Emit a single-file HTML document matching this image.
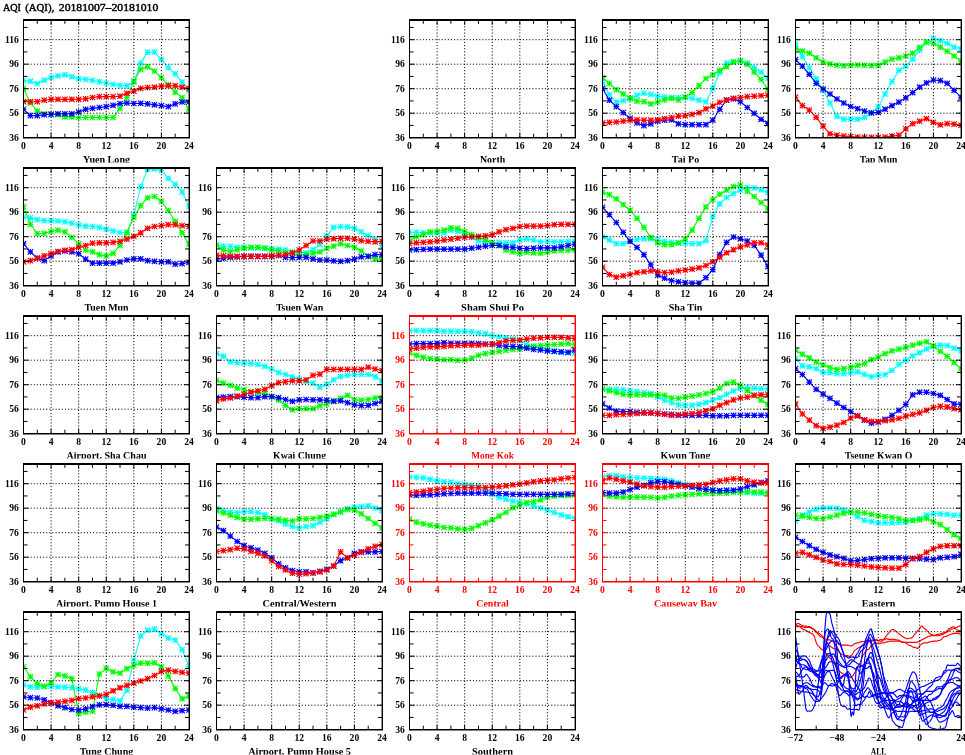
<!DOCTYPE html><html><head><meta charset="utf-8"><title>AQI (AQI), 20181007-20181010</title><style>html,body{margin:0;padding:0;background:#fff;width:965px;height:755px;overflow:hidden}svg{display:block;will-change:transform}</style></head><body><svg width="965" height="755" viewBox="0 0 965 755" font-family="'Liberation Serif', 'DejaVu Serif', serif"><defs><clipPath id="c00"><rect x="23.5" y="19.8" width="165.5" height="117.9"/></clipPath><clipPath id="l00"><rect x="3.5" y="149.7" width="205.5" height="12.9"/></clipPath><clipPath id="c02"><rect x="409.5" y="19.8" width="165.5" height="117.9"/></clipPath><clipPath id="l02"><rect x="389.5" y="149.7" width="205.5" height="12.9"/></clipPath><clipPath id="c03"><rect x="602.5" y="19.8" width="165.5" height="117.9"/></clipPath><clipPath id="l03"><rect x="582.5" y="149.7" width="205.5" height="12.9"/></clipPath><clipPath id="c04"><rect x="795.5" y="19.8" width="165.5" height="117.9"/></clipPath><clipPath id="l04"><rect x="775.5" y="149.7" width="205.5" height="12.9"/></clipPath><clipPath id="c10"><rect x="23.5" y="167.8" width="165.5" height="117.9"/></clipPath><clipPath id="l10"><rect x="3.5" y="297.7" width="205.5" height="12.9"/></clipPath><clipPath id="c11"><rect x="216.5" y="167.8" width="165.5" height="117.9"/></clipPath><clipPath id="l11"><rect x="196.5" y="297.7" width="205.5" height="12.9"/></clipPath><clipPath id="c12"><rect x="409.5" y="167.8" width="165.5" height="117.9"/></clipPath><clipPath id="l12"><rect x="389.5" y="297.7" width="205.5" height="12.9"/></clipPath><clipPath id="c13"><rect x="602.5" y="167.8" width="165.5" height="117.9"/></clipPath><clipPath id="l13"><rect x="582.5" y="297.7" width="205.5" height="12.9"/></clipPath><clipPath id="c20"><rect x="23.5" y="315.8" width="165.5" height="117.9"/></clipPath><clipPath id="l20"><rect x="3.5" y="445.7" width="205.5" height="12.9"/></clipPath><clipPath id="c21"><rect x="216.5" y="315.8" width="165.5" height="117.9"/></clipPath><clipPath id="l21"><rect x="196.5" y="445.7" width="205.5" height="12.9"/></clipPath><clipPath id="c22"><rect x="409.5" y="315.8" width="165.5" height="117.9"/></clipPath><clipPath id="l22"><rect x="389.5" y="445.7" width="205.5" height="12.9"/></clipPath><clipPath id="c23"><rect x="602.5" y="315.8" width="165.5" height="117.9"/></clipPath><clipPath id="l23"><rect x="582.5" y="445.7" width="205.5" height="12.9"/></clipPath><clipPath id="c24"><rect x="795.5" y="315.8" width="165.5" height="117.9"/></clipPath><clipPath id="l24"><rect x="775.5" y="445.7" width="205.5" height="12.9"/></clipPath><clipPath id="c30"><rect x="23.5" y="463.8" width="165.5" height="117.9"/></clipPath><clipPath id="l30"><rect x="3.5" y="593.7" width="205.5" height="12.9"/></clipPath><clipPath id="c31"><rect x="216.5" y="463.8" width="165.5" height="117.9"/></clipPath><clipPath id="l31"><rect x="196.5" y="593.7" width="205.5" height="12.9"/></clipPath><clipPath id="c32"><rect x="409.5" y="463.8" width="165.5" height="117.9"/></clipPath><clipPath id="l32"><rect x="389.5" y="593.7" width="205.5" height="12.9"/></clipPath><clipPath id="c33"><rect x="602.5" y="463.8" width="165.5" height="117.9"/></clipPath><clipPath id="l33"><rect x="582.5" y="593.7" width="205.5" height="12.9"/></clipPath><clipPath id="c34"><rect x="795.5" y="463.8" width="165.5" height="117.9"/></clipPath><clipPath id="l34"><rect x="775.5" y="593.7" width="205.5" height="12.9"/></clipPath><clipPath id="c40"><rect x="23.5" y="611.8" width="165.5" height="117.9"/></clipPath><clipPath id="l40"><rect x="3.5" y="741.7" width="205.5" height="12.9"/></clipPath><clipPath id="c41"><rect x="216.5" y="611.8" width="165.5" height="117.9"/></clipPath><clipPath id="l41"><rect x="196.5" y="741.7" width="205.5" height="12.9"/></clipPath><clipPath id="c42"><rect x="409.5" y="611.8" width="165.5" height="117.9"/></clipPath><clipPath id="l42"><rect x="389.5" y="741.7" width="205.5" height="12.9"/></clipPath><clipPath id="c44"><rect x="795.5" y="611.8" width="165.5" height="117.9"/></clipPath><clipPath id="l44"><rect x="775.5" y="741.7" width="205.5" height="12.9"/></clipPath></defs><rect width="965" height="755" fill="#fff"/><g font-size="11.1" stroke="#000" stroke-width="0.45"><text x="2.9" y="10.8" textLength="18.1" lengthAdjust="spacingAndGlyphs">AQI</text><text x="25.2" y="10.8" textLength="29" lengthAdjust="spacingAndGlyphs">(AQI),</text><text x="58.8" y="10.8" textLength="99.5" lengthAdjust="spacingAndGlyphs">20181007–20181010</text></g><g clip-path="url(#c00)" stroke="#00ffff" fill="none" stroke-width="1.1"><polyline points="23.5,80.3 30.4,81.2 37.3,83.5 44.2,80.3 51.1,77.6 58,75.8 64.9,74.8 71.8,76.7 78.7,78.8 85.6,79.4 92.5,80.3 99.4,81.7 106.2,83 113.1,84.5 120,85.4 126.9,85.7 133.8,82.1 140.7,63.1 147.6,52.2 154.5,52.2 161.4,59.4 168.3,67.6 175.2,73.9 182.1,82.1 189,90.3"/><path stroke-width="1.15" d="M20.7 80.3h5.6M23.5 77.5v5.6M20.8 77.6l5.4 5.4M26.2 77.6l-5.4 5.4M27.6 81.2h5.6M30.4 78.4v5.6M27.7 78.5l5.4 5.4M33.1 78.5l-5.4 5.4M34.5 83.5h5.6M37.3 80.7v5.6M34.6 80.8l5.4 5.4M40 80.8l-5.4 5.4M41.4 80.3h5.6M44.2 77.5v5.6M41.5 77.6l5.4 5.4M46.9 77.6l-5.4 5.4M48.3 77.6h5.6M51.1 74.8v5.6M48.4 74.9l5.4 5.4M53.8 74.9l-5.4 5.4M55.2 75.8h5.6M58 73v5.6M55.3 73.1l5.4 5.4M60.7 73.1l-5.4 5.4M62.1 74.8h5.6M64.9 72v5.6M62.2 72.1l5.4 5.4M67.6 72.1l-5.4 5.4M69 76.7h5.6M71.8 73.9v5.6M69.1 74l5.4 5.4M74.5 74l-5.4 5.4M75.9 78.8h5.6M78.7 76v5.6M76 76.1l5.4 5.4M81.4 76.1l-5.4 5.4M82.8 79.4h5.6M85.6 76.6v5.6M82.9 76.7l5.4 5.4M88.3 76.7l-5.4 5.4M89.7 80.3h5.6M92.5 77.5v5.6M89.8 77.6l5.4 5.4M95.2 77.6l-5.4 5.4M96.6 81.7h5.6M99.4 78.9v5.6M96.7 79l5.4 5.4M102.1 79l-5.4 5.4M103.5 83h5.6M106.2 80.2v5.6M103.5 80.3l5.4 5.4M109 80.3l-5.4 5.4M110.3 84.5h5.6M113.1 81.7v5.6M110.4 81.8l5.4 5.4M115.8 81.8l-5.4 5.4M117.2 85.4h5.6M120 82.6v5.6M117.3 82.7l5.4 5.4M122.7 82.7l-5.4 5.4M124.1 85.7h5.6M126.9 82.9v5.6M124.2 83l5.4 5.4M129.6 83l-5.4 5.4M131 82.1h5.6M133.8 79.3v5.6M131.1 79.4l5.4 5.4M136.5 79.4l-5.4 5.4M137.9 63.1h5.6M140.7 60.3v5.6M138 60.4l5.4 5.4M143.4 60.4l-5.4 5.4M144.8 52.2h5.6M147.6 49.4v5.6M144.9 49.5l5.4 5.4M150.3 49.5l-5.4 5.4M151.7 52.2h5.6M154.5 49.4v5.6M151.8 49.5l5.4 5.4M157.2 49.5l-5.4 5.4M158.6 59.4h5.6M161.4 56.6v5.6M158.7 56.7l5.4 5.4M164.1 56.7l-5.4 5.4M165.5 67.6h5.6M168.3 64.8v5.6M165.6 64.9l5.4 5.4M171 64.9l-5.4 5.4M172.4 73.9h5.6M175.2 71.1v5.6M172.5 71.2l5.4 5.4M177.9 71.2l-5.4 5.4M179.3 82.1h5.6M182.1 79.3v5.6M179.4 79.4l5.4 5.4M184.8 79.4l-5.4 5.4M186.2 90.3h5.6M189 87.5v5.6M186.3 87.6l5.4 5.4M191.7 87.6l-5.4 5.4"/></g><g clip-path="url(#c00)" stroke="#00ff00" fill="none" stroke-width="1.1"><polyline points="23.5,88.4 30.4,103 37.3,111.1 44.2,113.8 51.1,114.4 58,114.7 64.9,116.9 71.8,116.9 78.7,117.5 85.6,117.5 92.5,117.5 99.4,117.5 106.2,117.5 113.1,117.5 120,108.4 126.9,97.5 133.8,81.2 140.7,69.4 147.6,66.7 154.5,71.2 161.4,77.6 168.3,84.8 175.2,92.1 182.1,97.5 189,109.3"/><path stroke-width="1.15" d="M20.7 88.4h5.6M23.5 85.6v5.6M20.8 85.7l5.4 5.4M26.2 85.7l-5.4 5.4M27.6 103h5.6M30.4 100.2v5.6M27.7 100.3l5.4 5.4M33.1 100.3l-5.4 5.4M34.5 111.1h5.6M37.3 108.3v5.6M34.6 108.4l5.4 5.4M40 108.4l-5.4 5.4M41.4 113.8h5.6M44.2 111v5.6M41.5 111.1l5.4 5.4M46.9 111.1l-5.4 5.4M48.3 114.4h5.6M51.1 111.6v5.6M48.4 111.7l5.4 5.4M53.8 111.7l-5.4 5.4M55.2 114.7h5.6M58 111.9v5.6M55.3 112l5.4 5.4M60.7 112l-5.4 5.4M62.1 116.9h5.6M64.9 114.1v5.6M62.2 114.2l5.4 5.4M67.6 114.2l-5.4 5.4M69 116.9h5.6M71.8 114.1v5.6M69.1 114.2l5.4 5.4M74.5 114.2l-5.4 5.4M75.9 117.5h5.6M78.7 114.7v5.6M76 114.8l5.4 5.4M81.4 114.8l-5.4 5.4M82.8 117.5h5.6M85.6 114.7v5.6M82.9 114.8l5.4 5.4M88.3 114.8l-5.4 5.4M89.7 117.5h5.6M92.5 114.7v5.6M89.8 114.8l5.4 5.4M95.2 114.8l-5.4 5.4M96.6 117.5h5.6M99.4 114.7v5.6M96.7 114.8l5.4 5.4M102.1 114.8l-5.4 5.4M103.5 117.5h5.6M106.2 114.7v5.6M103.5 114.8l5.4 5.4M109 114.8l-5.4 5.4M110.3 117.5h5.6M113.1 114.7v5.6M110.4 114.8l5.4 5.4M115.8 114.8l-5.4 5.4M117.2 108.4h5.6M120 105.6v5.6M117.3 105.7l5.4 5.4M122.7 105.7l-5.4 5.4M124.1 97.5h5.6M126.9 94.7v5.6M124.2 94.8l5.4 5.4M129.6 94.8l-5.4 5.4M131 81.2h5.6M133.8 78.4v5.6M131.1 78.5l5.4 5.4M136.5 78.5l-5.4 5.4M137.9 69.4h5.6M140.7 66.6v5.6M138 66.7l5.4 5.4M143.4 66.7l-5.4 5.4M144.8 66.7h5.6M147.6 63.9v5.6M144.9 64l5.4 5.4M150.3 64l-5.4 5.4M151.7 71.2h5.6M154.5 68.4v5.6M151.8 68.5l5.4 5.4M157.2 68.5l-5.4 5.4M158.6 77.6h5.6M161.4 74.8v5.6M158.7 74.9l5.4 5.4M164.1 74.9l-5.4 5.4M165.5 84.8h5.6M168.3 82v5.6M165.6 82.1l5.4 5.4M171 82.1l-5.4 5.4M172.4 92.1h5.6M175.2 89.3v5.6M172.5 89.4l5.4 5.4M177.9 89.4l-5.4 5.4M179.3 97.5h5.6M182.1 94.7v5.6M179.4 94.8l5.4 5.4M184.8 94.8l-5.4 5.4M186.2 109.3h5.6M189 106.5v5.6M186.3 106.6l5.4 5.4M191.7 106.6l-5.4 5.4"/></g><g clip-path="url(#c00)" stroke="#0000ff" fill="none" stroke-width="1.1"><polyline points="23.5,109.3 30.4,115.6 37.3,115.6 44.2,114.7 51.1,114.4 58,113.8 64.9,113.8 71.8,113.8 78.7,112 85.6,109.3 92.5,108.4 99.4,107.5 106.2,106.6 113.1,105.3 120,103.5 126.9,103 133.8,103.5 140.7,103.3 147.6,103.9 154.5,104.8 161.4,105.7 168.3,106.6 175.2,103.9 182.1,102 189,102"/><path stroke-width="1.15" d="M20.7 109.3h5.6M23.5 106.5v5.6M20.8 106.6l5.4 5.4M26.2 106.6l-5.4 5.4M27.6 115.6h5.6M30.4 112.8v5.6M27.7 112.9l5.4 5.4M33.1 112.9l-5.4 5.4M34.5 115.6h5.6M37.3 112.8v5.6M34.6 112.9l5.4 5.4M40 112.9l-5.4 5.4M41.4 114.7h5.6M44.2 111.9v5.6M41.5 112l5.4 5.4M46.9 112l-5.4 5.4M48.3 114.4h5.6M51.1 111.6v5.6M48.4 111.7l5.4 5.4M53.8 111.7l-5.4 5.4M55.2 113.8h5.6M58 111v5.6M55.3 111.1l5.4 5.4M60.7 111.1l-5.4 5.4M62.1 113.8h5.6M64.9 111v5.6M62.2 111.1l5.4 5.4M67.6 111.1l-5.4 5.4M69 113.8h5.6M71.8 111v5.6M69.1 111.1l5.4 5.4M74.5 111.1l-5.4 5.4M75.9 112h5.6M78.7 109.2v5.6M76 109.3l5.4 5.4M81.4 109.3l-5.4 5.4M82.8 109.3h5.6M85.6 106.5v5.6M82.9 106.6l5.4 5.4M88.3 106.6l-5.4 5.4M89.7 108.4h5.6M92.5 105.6v5.6M89.8 105.7l5.4 5.4M95.2 105.7l-5.4 5.4M96.6 107.5h5.6M99.4 104.7v5.6M96.7 104.8l5.4 5.4M102.1 104.8l-5.4 5.4M103.5 106.6h5.6M106.2 103.8v5.6M103.5 103.9l5.4 5.4M109 103.9l-5.4 5.4M110.3 105.3h5.6M113.1 102.5v5.6M110.4 102.6l5.4 5.4M115.8 102.6l-5.4 5.4M117.2 103.5h5.6M120 100.7v5.6M117.3 100.8l5.4 5.4M122.7 100.8l-5.4 5.4M124.1 103h5.6M126.9 100.2v5.6M124.2 100.3l5.4 5.4M129.6 100.3l-5.4 5.4M131 103.5h5.6M133.8 100.7v5.6M131.1 100.8l5.4 5.4M136.5 100.8l-5.4 5.4M137.9 103.3h5.6M140.7 100.5v5.6M138 100.6l5.4 5.4M143.4 100.6l-5.4 5.4M144.8 103.9h5.6M147.6 101.1v5.6M144.9 101.2l5.4 5.4M150.3 101.2l-5.4 5.4M151.7 104.8h5.6M154.5 102v5.6M151.8 102.1l5.4 5.4M157.2 102.1l-5.4 5.4M158.6 105.7h5.6M161.4 102.9v5.6M158.7 103l5.4 5.4M164.1 103l-5.4 5.4M165.5 106.6h5.6M168.3 103.8v5.6M165.6 103.9l5.4 5.4M171 103.9l-5.4 5.4M172.4 103.9h5.6M175.2 101.1v5.6M172.5 101.2l5.4 5.4M177.9 101.2l-5.4 5.4M179.3 102h5.6M182.1 99.2v5.6M179.4 99.3l5.4 5.4M184.8 99.3l-5.4 5.4M186.2 102h5.6M189 99.2v5.6M186.3 99.3l5.4 5.4M191.7 99.3l-5.4 5.4"/></g><g clip-path="url(#c00)" stroke="#ff0000" fill="none" stroke-width="1.1"><polyline points="23.5,101.7 30.4,101.7 37.3,101.7 44.2,100.2 51.1,99.3 58,99.3 64.9,99.3 71.8,99.3 78.7,99.3 85.6,98.8 92.5,97.5 99.4,96.6 106.2,96.6 113.1,96.6 120,96.2 126.9,93.3 133.8,91.2 140.7,88.4 147.6,87.5 154.5,87.2 161.4,86.1 168.3,85.7 175.2,85.7 182.1,87.2 189,88.4"/><path stroke-width="1.15" d="M20.7 101.7h5.6M23.5 98.9v5.6M20.8 99l5.4 5.4M26.2 99l-5.4 5.4M27.6 101.7h5.6M30.4 98.9v5.6M27.7 99l5.4 5.4M33.1 99l-5.4 5.4M34.5 101.7h5.6M37.3 98.9v5.6M34.6 99l5.4 5.4M40 99l-5.4 5.4M41.4 100.2h5.6M44.2 97.4v5.6M41.5 97.5l5.4 5.4M46.9 97.5l-5.4 5.4M48.3 99.3h5.6M51.1 96.5v5.6M48.4 96.6l5.4 5.4M53.8 96.6l-5.4 5.4M55.2 99.3h5.6M58 96.5v5.6M55.3 96.6l5.4 5.4M60.7 96.6l-5.4 5.4M62.1 99.3h5.6M64.9 96.5v5.6M62.2 96.6l5.4 5.4M67.6 96.6l-5.4 5.4M69 99.3h5.6M71.8 96.5v5.6M69.1 96.6l5.4 5.4M74.5 96.6l-5.4 5.4M75.9 99.3h5.6M78.7 96.5v5.6M76 96.6l5.4 5.4M81.4 96.6l-5.4 5.4M82.8 98.8h5.6M85.6 96v5.6M82.9 96.1l5.4 5.4M88.3 96.1l-5.4 5.4M89.7 97.5h5.6M92.5 94.7v5.6M89.8 94.8l5.4 5.4M95.2 94.8l-5.4 5.4M96.6 96.6h5.6M99.4 93.8v5.6M96.7 93.9l5.4 5.4M102.1 93.9l-5.4 5.4M103.5 96.6h5.6M106.2 93.8v5.6M103.5 93.9l5.4 5.4M109 93.9l-5.4 5.4M110.3 96.6h5.6M113.1 93.8v5.6M110.4 93.9l5.4 5.4M115.8 93.9l-5.4 5.4M117.2 96.2h5.6M120 93.4v5.6M117.3 93.5l5.4 5.4M122.7 93.5l-5.4 5.4M124.1 93.3h5.6M126.9 90.5v5.6M124.2 90.6l5.4 5.4M129.6 90.6l-5.4 5.4M131 91.2h5.6M133.8 88.4v5.6M131.1 88.5l5.4 5.4M136.5 88.5l-5.4 5.4M137.9 88.4h5.6M140.7 85.6v5.6M138 85.7l5.4 5.4M143.4 85.7l-5.4 5.4M144.8 87.5h5.6M147.6 84.7v5.6M144.9 84.8l5.4 5.4M150.3 84.8l-5.4 5.4M151.7 87.2h5.6M154.5 84.4v5.6M151.8 84.5l5.4 5.4M157.2 84.5l-5.4 5.4M158.6 86.1h5.6M161.4 83.3v5.6M158.7 83.4l5.4 5.4M164.1 83.4l-5.4 5.4M165.5 85.7h5.6M168.3 82.9v5.6M165.6 83l5.4 5.4M171 83l-5.4 5.4M172.4 85.7h5.6M175.2 82.9v5.6M172.5 83l5.4 5.4M177.9 83l-5.4 5.4M179.3 87.2h5.6M182.1 84.4v5.6M179.4 84.5l5.4 5.4M184.8 84.5l-5.4 5.4M186.2 88.4h5.6M189 85.6v5.6M186.3 85.7l5.4 5.4M191.7 85.7l-5.4 5.4"/></g><path d="M23.5 113.2H189M23.5 88.7H189M23.5 64.2H189M23.5 39.7H189M51.08 137.7V19.8M78.67 137.7V19.8M106.25 137.7V19.8M133.83 137.7V19.8M161.42 137.7V19.8" stroke="#000" stroke-width="1" stroke-dasharray="1.1 2.03" stroke-dashoffset="-0.8" fill="none"/><path d="M51.08 19.8v5M51.08 137.7v-5M78.67 19.8v5M78.67 137.7v-5M106.25 19.8v5M106.25 137.7v-5M133.83 19.8v5M133.83 137.7v-5M161.42 19.8v5M161.42 137.7v-5M37.29 19.8v4M37.29 137.7v-4M64.88 19.8v4M64.88 137.7v-4M92.46 19.8v4M92.46 137.7v-4M120.04 19.8v4M120.04 137.7v-4M147.62 19.8v4M147.62 137.7v-4M175.21 19.8v4M175.21 137.7v-4M23.5 113.2h5M189 113.2h-5M23.5 88.7h5M189 88.7h-5M23.5 64.2h5M189 64.2h-5M23.5 39.7h5M189 39.7h-5M23.5 125.45h4M189 125.45h-4M23.5 100.95h4M189 100.95h-4M23.5 76.45h4M189 76.45h-4M23.5 51.95h4M189 51.95h-4M23.5 27.45h4M189 27.45h-4" stroke="#000000" stroke-width="1" fill="none"/><path d="M23 19.95H190" stroke="#000000" stroke-width="1.9" fill="none"/><path d="M23 137.7H190" stroke="#000000" stroke-width="1.6" fill="none"/><path d="M23.5 19.8V137.7" stroke="#000000" stroke-width="1" fill="none"/><path d="M189.3 19.8V137.7" stroke="#000000" stroke-width="1.4" fill="none"/><g fill="#000000" font-size="9.6" font-weight="bold"><text x="18.8" y="140.8" text-anchor="end">36</text><text x="18.8" y="116.3" text-anchor="end">56</text><text x="18.8" y="91.8" text-anchor="end">76</text><text x="18.8" y="67.3" text-anchor="end">96</text><text x="18.8" y="42.8" text-anchor="end">116</text><text x="23.5" y="148.7" text-anchor="middle">0</text><text x="51.08" y="148.7" text-anchor="middle">4</text><text x="78.67" y="148.7" text-anchor="middle">8</text><text x="106.25" y="148.7" text-anchor="middle">12</text><text x="133.83" y="148.7" text-anchor="middle">16</text><text x="161.42" y="148.7" text-anchor="middle">20</text><text x="189" y="148.7" text-anchor="middle">24</text></g><text clip-path="url(#l00)" x="83.05" y="162.6" textLength="47" lengthAdjust="spacingAndGlyphs" fill="#000000" font-size="9.5" font-weight="bold">Yuen Long</text><path d="M409.5 113.2H575M409.5 88.7H575M409.5 64.2H575M409.5 39.7H575M437.08 137.7V19.8M464.67 137.7V19.8M492.25 137.7V19.8M519.83 137.7V19.8M547.42 137.7V19.8" stroke="#000" stroke-width="1" stroke-dasharray="1.1 2.03" stroke-dashoffset="-0.8" fill="none"/><path d="M437.08 19.8v5M437.08 137.7v-5M464.67 19.8v5M464.67 137.7v-5M492.25 19.8v5M492.25 137.7v-5M519.83 19.8v5M519.83 137.7v-5M547.42 19.8v5M547.42 137.7v-5M423.29 19.8v4M423.29 137.7v-4M450.88 19.8v4M450.88 137.7v-4M478.46 19.8v4M478.46 137.7v-4M506.04 19.8v4M506.04 137.7v-4M533.62 19.8v4M533.62 137.7v-4M561.21 19.8v4M561.21 137.7v-4M409.5 113.2h5M575 113.2h-5M409.5 88.7h5M575 88.7h-5M409.5 64.2h5M575 64.2h-5M409.5 39.7h5M575 39.7h-5M409.5 125.45h4M575 125.45h-4M409.5 100.95h4M575 100.95h-4M409.5 76.45h4M575 76.45h-4M409.5 51.95h4M575 51.95h-4M409.5 27.45h4M575 27.45h-4" stroke="#000000" stroke-width="1" fill="none"/><path d="M409 19.95H576" stroke="#000000" stroke-width="1.9" fill="none"/><path d="M409 137.7H576" stroke="#000000" stroke-width="1.6" fill="none"/><path d="M409.5 19.8V137.7" stroke="#000000" stroke-width="1" fill="none"/><path d="M575.3 19.8V137.7" stroke="#000000" stroke-width="1.4" fill="none"/><g fill="#000000" font-size="9.6" font-weight="bold"><text x="404.8" y="140.8" text-anchor="end">36</text><text x="404.8" y="116.3" text-anchor="end">56</text><text x="404.8" y="91.8" text-anchor="end">76</text><text x="404.8" y="67.3" text-anchor="end">96</text><text x="404.8" y="42.8" text-anchor="end">116</text><text x="409.5" y="148.7" text-anchor="middle">0</text><text x="437.08" y="148.7" text-anchor="middle">4</text><text x="464.67" y="148.7" text-anchor="middle">8</text><text x="492.25" y="148.7" text-anchor="middle">12</text><text x="519.83" y="148.7" text-anchor="middle">16</text><text x="547.42" y="148.7" text-anchor="middle">20</text><text x="575" y="148.7" text-anchor="middle">24</text></g><text clip-path="url(#l02)" x="479.9" y="162.6" textLength="25.3" lengthAdjust="spacingAndGlyphs" fill="#000000" font-size="9.5" font-weight="bold">North</text><g clip-path="url(#c03)" stroke="#00ffff" fill="none" stroke-width="1.1"><polyline points="602.5,82.1 609.4,94.8 616.3,102 623.2,100.6 630.1,98.8 637,95.2 643.9,93.3 650.8,94.4 657.7,96.2 664.6,97 671.5,97.5 678.4,97.5 685.2,97.5 692.1,98.4 699,100.2 705.9,102 712.8,88.4 719.7,72.7 726.6,63.1 733.5,61.8 740.4,61.2 747.3,63.1 754.2,67.6 761.1,72.1 768,78.1"/><path stroke-width="1.15" d="M599.7 82.1h5.6M602.5 79.3v5.6M599.8 79.4l5.4 5.4M605.2 79.4l-5.4 5.4M606.6 94.8h5.6M609.4 92v5.6M606.7 92.1l5.4 5.4M612.1 92.1l-5.4 5.4M613.5 102h5.6M616.3 99.2v5.6M613.6 99.3l5.4 5.4M619 99.3l-5.4 5.4M620.4 100.6h5.6M623.2 97.8v5.6M620.5 97.9l5.4 5.4M625.9 97.9l-5.4 5.4M627.3 98.8h5.6M630.1 96v5.6M627.4 96.1l5.4 5.4M632.8 96.1l-5.4 5.4M634.2 95.2h5.6M637 92.4v5.6M634.3 92.5l5.4 5.4M639.7 92.5l-5.4 5.4M641.1 93.3h5.6M643.9 90.5v5.6M641.2 90.6l5.4 5.4M646.6 90.6l-5.4 5.4M648 94.4h5.6M650.8 91.6v5.6M648.1 91.7l5.4 5.4M653.5 91.7l-5.4 5.4M654.9 96.2h5.6M657.7 93.4v5.6M655 93.5l5.4 5.4M660.4 93.5l-5.4 5.4M661.8 97h5.6M664.6 94.2v5.6M661.9 94.3l5.4 5.4M667.3 94.3l-5.4 5.4M668.7 97.5h5.6M671.5 94.7v5.6M668.8 94.8l5.4 5.4M674.2 94.8l-5.4 5.4M675.6 97.5h5.6M678.4 94.7v5.6M675.7 94.8l5.4 5.4M681.1 94.8l-5.4 5.4M682.5 97.5h5.6M685.2 94.7v5.6M682.5 94.8l5.4 5.4M688 94.8l-5.4 5.4M689.3 98.4h5.6M692.1 95.6v5.6M689.4 95.7l5.4 5.4M694.8 95.7l-5.4 5.4M696.2 100.2h5.6M699 97.4v5.6M696.3 97.5l5.4 5.4M701.7 97.5l-5.4 5.4M703.1 102h5.6M705.9 99.2v5.6M703.2 99.3l5.4 5.4M708.6 99.3l-5.4 5.4M710 88.4h5.6M712.8 85.6v5.6M710.1 85.7l5.4 5.4M715.5 85.7l-5.4 5.4M716.9 72.7h5.6M719.7 69.9v5.6M717 70l5.4 5.4M722.4 70l-5.4 5.4M723.8 63.1h5.6M726.6 60.3v5.6M723.9 60.4l5.4 5.4M729.3 60.4l-5.4 5.4M730.7 61.8h5.6M733.5 59v5.6M730.8 59.1l5.4 5.4M736.2 59.1l-5.4 5.4M737.6 61.2h5.6M740.4 58.4v5.6M737.7 58.5l5.4 5.4M743.1 58.5l-5.4 5.4M744.5 63.1h5.6M747.3 60.3v5.6M744.6 60.4l5.4 5.4M750 60.4l-5.4 5.4M751.4 67.6h5.6M754.2 64.8v5.6M751.5 64.9l5.4 5.4M756.9 64.9l-5.4 5.4M758.3 72.1h5.6M761.1 69.3v5.6M758.4 69.4l5.4 5.4M763.8 69.4l-5.4 5.4M765.2 78.1h5.6M768 75.3v5.6M765.3 75.4l5.4 5.4M770.7 75.4l-5.4 5.4"/></g><g clip-path="url(#c03)" stroke="#00ff00" fill="none" stroke-width="1.1"><polyline points="602.5,77.6 609.4,83.5 616.3,89.7 623.2,93.9 630.1,98.1 637,101.1 643.9,101.7 650.8,103.9 657.7,102 664.6,99.9 671.5,98.4 678.4,99.9 685.2,97 692.1,92.6 699,85.7 705.9,78.5 712.8,74.8 719.7,70.3 726.6,66.7 733.5,61.8 740.4,60.7 747.3,64.3 754.2,72.1 761.1,79.4 768,89.4"/><path stroke-width="1.15" d="M599.7 77.6h5.6M602.5 74.8v5.6M599.8 74.9l5.4 5.4M605.2 74.9l-5.4 5.4M606.6 83.5h5.6M609.4 80.7v5.6M606.7 80.8l5.4 5.4M612.1 80.8l-5.4 5.4M613.5 89.7h5.6M616.3 86.9v5.6M613.6 87l5.4 5.4M619 87l-5.4 5.4M620.4 93.9h5.6M623.2 91.1v5.6M620.5 91.2l5.4 5.4M625.9 91.2l-5.4 5.4M627.3 98.1h5.6M630.1 95.3v5.6M627.4 95.4l5.4 5.4M632.8 95.4l-5.4 5.4M634.2 101.1h5.6M637 98.3v5.6M634.3 98.4l5.4 5.4M639.7 98.4l-5.4 5.4M641.1 101.7h5.6M643.9 98.9v5.6M641.2 99l5.4 5.4M646.6 99l-5.4 5.4M648 103.9h5.6M650.8 101.1v5.6M648.1 101.2l5.4 5.4M653.5 101.2l-5.4 5.4M654.9 102h5.6M657.7 99.2v5.6M655 99.3l5.4 5.4M660.4 99.3l-5.4 5.4M661.8 99.9h5.6M664.6 97.1v5.6M661.9 97.2l5.4 5.4M667.3 97.2l-5.4 5.4M668.7 98.4h5.6M671.5 95.6v5.6M668.8 95.7l5.4 5.4M674.2 95.7l-5.4 5.4M675.6 99.9h5.6M678.4 97.1v5.6M675.7 97.2l5.4 5.4M681.1 97.2l-5.4 5.4M682.5 97h5.6M685.2 94.2v5.6M682.5 94.3l5.4 5.4M688 94.3l-5.4 5.4M689.3 92.6h5.6M692.1 89.8v5.6M689.4 89.9l5.4 5.4M694.8 89.9l-5.4 5.4M696.2 85.7h5.6M699 82.9v5.6M696.3 83l5.4 5.4M701.7 83l-5.4 5.4M703.1 78.5h5.6M705.9 75.7v5.6M703.2 75.8l5.4 5.4M708.6 75.8l-5.4 5.4M710 74.8h5.6M712.8 72v5.6M710.1 72.1l5.4 5.4M715.5 72.1l-5.4 5.4M716.9 70.3h5.6M719.7 67.5v5.6M717 67.6l5.4 5.4M722.4 67.6l-5.4 5.4M723.8 66.7h5.6M726.6 63.9v5.6M723.9 64l5.4 5.4M729.3 64l-5.4 5.4M730.7 61.8h5.6M733.5 59v5.6M730.8 59.1l5.4 5.4M736.2 59.1l-5.4 5.4M737.6 60.7h5.6M740.4 57.9v5.6M737.7 58l5.4 5.4M743.1 58l-5.4 5.4M744.5 64.3h5.6M747.3 61.5v5.6M744.6 61.6l5.4 5.4M750 61.6l-5.4 5.4M751.4 72.1h5.6M754.2 69.3v5.6M751.5 69.4l5.4 5.4M756.9 69.4l-5.4 5.4M758.3 79.4h5.6M761.1 76.6v5.6M758.4 76.7l5.4 5.4M763.8 76.7l-5.4 5.4M765.2 89.4h5.6M768 86.6v5.6M765.3 86.7l5.4 5.4M770.7 86.7l-5.4 5.4"/></g><g clip-path="url(#c03)" stroke="#0000ff" fill="none" stroke-width="1.1"><polyline points="602.5,88.4 609.4,100.2 616.3,106.6 623.2,112.6 630.1,118.4 637,122.9 643.9,125.6 650.8,123.8 657.7,121.1 664.6,120.2 671.5,119.8 678.4,123.8 685.2,124.7 692.1,124.7 699,124.7 705.9,124.7 712.8,120.2 719.7,109.3 726.6,100.2 733.5,98.8 740.4,101.7 747.3,107.5 754.2,113.3 761.1,119.3 768,123.4"/><path stroke-width="1.15" d="M599.7 88.4h5.6M602.5 85.6v5.6M599.8 85.7l5.4 5.4M605.2 85.7l-5.4 5.4M606.6 100.2h5.6M609.4 97.4v5.6M606.7 97.5l5.4 5.4M612.1 97.5l-5.4 5.4M613.5 106.6h5.6M616.3 103.8v5.6M613.6 103.9l5.4 5.4M619 103.9l-5.4 5.4M620.4 112.6h5.6M623.2 109.8v5.6M620.5 109.9l5.4 5.4M625.9 109.9l-5.4 5.4M627.3 118.4h5.6M630.1 115.6v5.6M627.4 115.7l5.4 5.4M632.8 115.7l-5.4 5.4M634.2 122.9h5.6M637 120.1v5.6M634.3 120.2l5.4 5.4M639.7 120.2l-5.4 5.4M641.1 125.6h5.6M643.9 122.8v5.6M641.2 122.9l5.4 5.4M646.6 122.9l-5.4 5.4M648 123.8h5.6M650.8 121v5.6M648.1 121.1l5.4 5.4M653.5 121.1l-5.4 5.4M654.9 121.1h5.6M657.7 118.3v5.6M655 118.4l5.4 5.4M660.4 118.4l-5.4 5.4M661.8 120.2h5.6M664.6 117.4v5.6M661.9 117.5l5.4 5.4M667.3 117.5l-5.4 5.4M668.7 119.8h5.6M671.5 117v5.6M668.8 117.1l5.4 5.4M674.2 117.1l-5.4 5.4M675.6 123.8h5.6M678.4 121v5.6M675.7 121.1l5.4 5.4M681.1 121.1l-5.4 5.4M682.5 124.7h5.6M685.2 121.9v5.6M682.5 122l5.4 5.4M688 122l-5.4 5.4M689.3 124.7h5.6M692.1 121.9v5.6M689.4 122l5.4 5.4M694.8 122l-5.4 5.4M696.2 124.7h5.6M699 121.9v5.6M696.3 122l5.4 5.4M701.7 122l-5.4 5.4M703.1 124.7h5.6M705.9 121.9v5.6M703.2 122l5.4 5.4M708.6 122l-5.4 5.4M710 120.2h5.6M712.8 117.4v5.6M710.1 117.5l5.4 5.4M715.5 117.5l-5.4 5.4M716.9 109.3h5.6M719.7 106.5v5.6M717 106.6l5.4 5.4M722.4 106.6l-5.4 5.4M723.8 100.2h5.6M726.6 97.4v5.6M723.9 97.5l5.4 5.4M729.3 97.5l-5.4 5.4M730.7 98.8h5.6M733.5 96v5.6M730.8 96.1l5.4 5.4M736.2 96.1l-5.4 5.4M737.6 101.7h5.6M740.4 98.9v5.6M737.7 99l5.4 5.4M743.1 99l-5.4 5.4M744.5 107.5h5.6M747.3 104.7v5.6M744.6 104.8l5.4 5.4M750 104.8l-5.4 5.4M751.4 113.3h5.6M754.2 110.5v5.6M751.5 110.6l5.4 5.4M756.9 110.6l-5.4 5.4M758.3 119.3h5.6M761.1 116.5v5.6M758.4 116.6l5.4 5.4M763.8 116.6l-5.4 5.4M765.2 123.4h5.6M768 120.6v5.6M765.3 120.7l5.4 5.4M770.7 120.7l-5.4 5.4"/></g><g clip-path="url(#c03)" stroke="#ff0000" fill="none" stroke-width="1.1"><polyline points="602.5,122.9 609.4,122.4 616.3,122 623.2,121.1 630.1,120.2 637,119.8 643.9,120.2 650.8,120.2 657.7,119.8 664.6,118.7 671.5,117.5 678.4,116.2 685.2,115.6 692.1,114.4 699,112.6 705.9,108.9 712.8,106 719.7,102.4 726.6,99.9 733.5,98.4 740.4,97.5 747.3,96.6 754.2,96.2 761.1,95.7 768,95.2"/><path stroke-width="1.15" d="M599.7 122.9h5.6M602.5 120.1v5.6M599.8 120.2l5.4 5.4M605.2 120.2l-5.4 5.4M606.6 122.4h5.6M609.4 119.6v5.6M606.7 119.7l5.4 5.4M612.1 119.7l-5.4 5.4M613.5 122h5.6M616.3 119.2v5.6M613.6 119.3l5.4 5.4M619 119.3l-5.4 5.4M620.4 121.1h5.6M623.2 118.3v5.6M620.5 118.4l5.4 5.4M625.9 118.4l-5.4 5.4M627.3 120.2h5.6M630.1 117.4v5.6M627.4 117.5l5.4 5.4M632.8 117.5l-5.4 5.4M634.2 119.8h5.6M637 117v5.6M634.3 117.1l5.4 5.4M639.7 117.1l-5.4 5.4M641.1 120.2h5.6M643.9 117.4v5.6M641.2 117.5l5.4 5.4M646.6 117.5l-5.4 5.4M648 120.2h5.6M650.8 117.4v5.6M648.1 117.5l5.4 5.4M653.5 117.5l-5.4 5.4M654.9 119.8h5.6M657.7 117v5.6M655 117.1l5.4 5.4M660.4 117.1l-5.4 5.4M661.8 118.7h5.6M664.6 115.9v5.6M661.9 116l5.4 5.4M667.3 116l-5.4 5.4M668.7 117.5h5.6M671.5 114.7v5.6M668.8 114.8l5.4 5.4M674.2 114.8l-5.4 5.4M675.6 116.2h5.6M678.4 113.4v5.6M675.7 113.5l5.4 5.4M681.1 113.5l-5.4 5.4M682.5 115.6h5.6M685.2 112.8v5.6M682.5 112.9l5.4 5.4M688 112.9l-5.4 5.4M689.3 114.4h5.6M692.1 111.6v5.6M689.4 111.7l5.4 5.4M694.8 111.7l-5.4 5.4M696.2 112.6h5.6M699 109.8v5.6M696.3 109.9l5.4 5.4M701.7 109.9l-5.4 5.4M703.1 108.9h5.6M705.9 106.1v5.6M703.2 106.2l5.4 5.4M708.6 106.2l-5.4 5.4M710 106h5.6M712.8 103.2v5.6M710.1 103.3l5.4 5.4M715.5 103.3l-5.4 5.4M716.9 102.4h5.6M719.7 99.6v5.6M717 99.7l5.4 5.4M722.4 99.7l-5.4 5.4M723.8 99.9h5.6M726.6 97.1v5.6M723.9 97.2l5.4 5.4M729.3 97.2l-5.4 5.4M730.7 98.4h5.6M733.5 95.6v5.6M730.8 95.7l5.4 5.4M736.2 95.7l-5.4 5.4M737.6 97.5h5.6M740.4 94.7v5.6M737.7 94.8l5.4 5.4M743.1 94.8l-5.4 5.4M744.5 96.6h5.6M747.3 93.8v5.6M744.6 93.9l5.4 5.4M750 93.9l-5.4 5.4M751.4 96.2h5.6M754.2 93.4v5.6M751.5 93.5l5.4 5.4M756.9 93.5l-5.4 5.4M758.3 95.7h5.6M761.1 92.9v5.6M758.4 93l5.4 5.4M763.8 93l-5.4 5.4M765.2 95.2h5.6M768 92.4v5.6M765.3 92.5l5.4 5.4M770.7 92.5l-5.4 5.4"/></g><path d="M602.5 113.2H768M602.5 88.7H768M602.5 64.2H768M602.5 39.7H768M630.08 137.7V19.8M657.67 137.7V19.8M685.25 137.7V19.8M712.83 137.7V19.8M740.42 137.7V19.8" stroke="#000" stroke-width="1" stroke-dasharray="1.1 2.03" stroke-dashoffset="-0.8" fill="none"/><path d="M630.08 19.8v5M630.08 137.7v-5M657.67 19.8v5M657.67 137.7v-5M685.25 19.8v5M685.25 137.7v-5M712.83 19.8v5M712.83 137.7v-5M740.42 19.8v5M740.42 137.7v-5M616.29 19.8v4M616.29 137.7v-4M643.88 19.8v4M643.88 137.7v-4M671.46 19.8v4M671.46 137.7v-4M699.04 19.8v4M699.04 137.7v-4M726.62 19.8v4M726.62 137.7v-4M754.21 19.8v4M754.21 137.7v-4M602.5 113.2h5M768 113.2h-5M602.5 88.7h5M768 88.7h-5M602.5 64.2h5M768 64.2h-5M602.5 39.7h5M768 39.7h-5M602.5 125.45h4M768 125.45h-4M602.5 100.95h4M768 100.95h-4M602.5 76.45h4M768 76.45h-4M602.5 51.95h4M768 51.95h-4M602.5 27.45h4M768 27.45h-4" stroke="#000000" stroke-width="1" fill="none"/><path d="M602 19.95H769" stroke="#000000" stroke-width="1.9" fill="none"/><path d="M602 137.7H769" stroke="#000000" stroke-width="1.6" fill="none"/><path d="M602.5 19.8V137.7" stroke="#000000" stroke-width="1" fill="none"/><path d="M768.3 19.8V137.7" stroke="#000000" stroke-width="1.4" fill="none"/><g fill="#000000" font-size="9.6" font-weight="bold"><text x="597.8" y="140.8" text-anchor="end">36</text><text x="597.8" y="116.3" text-anchor="end">56</text><text x="597.8" y="91.8" text-anchor="end">76</text><text x="597.8" y="67.3" text-anchor="end">96</text><text x="597.8" y="42.8" text-anchor="end">116</text><text x="602.5" y="148.7" text-anchor="middle">0</text><text x="630.08" y="148.7" text-anchor="middle">4</text><text x="657.67" y="148.7" text-anchor="middle">8</text><text x="685.25" y="148.7" text-anchor="middle">12</text><text x="712.83" y="148.7" text-anchor="middle">16</text><text x="740.42" y="148.7" text-anchor="middle">20</text><text x="768" y="148.7" text-anchor="middle">24</text></g><text clip-path="url(#l03)" x="671.85" y="162.6" textLength="27.4" lengthAdjust="spacingAndGlyphs" fill="#000000" font-size="9.5" font-weight="bold">Tai Po</text><g clip-path="url(#c04)" stroke="#00ffff" fill="none" stroke-width="1.1"><polyline points="795.5,43.9 802.4,56.7 809.3,68 816.2,78.8 823.1,90.1 830,103 836.9,116.4 843.8,119.1 850.7,119.1 857.6,119.1 864.5,117.3 871.4,113.3 878.2,106.9 885.1,94 892,81.5 898.9,70.4 905.8,66.2 912.7,59.1 919.6,50.1 926.5,42.4 933.4,38.5 940.3,40.6 947.2,43.5 954.1,47.1 961,48.9"/><path stroke-width="1.15" d="M792.7 43.9h5.6M795.5 41.1v5.6M792.8 41.2l5.4 5.4M798.2 41.2l-5.4 5.4M799.6 56.7h5.6M802.4 53.9v5.6M799.7 54l5.4 5.4M805.1 54l-5.4 5.4M806.5 68h5.6M809.3 65.2v5.6M806.6 65.3l5.4 5.4M812 65.3l-5.4 5.4M813.4 78.8h5.6M816.2 76v5.6M813.5 76.1l5.4 5.4M818.9 76.1l-5.4 5.4M820.3 90.1h5.6M823.1 87.3v5.6M820.4 87.4l5.4 5.4M825.8 87.4l-5.4 5.4M827.2 103h5.6M830 100.2v5.6M827.3 100.3l5.4 5.4M832.7 100.3l-5.4 5.4M834.1 116.4h5.6M836.9 113.6v5.6M834.2 113.7l5.4 5.4M839.6 113.7l-5.4 5.4M841 119.1h5.6M843.8 116.3v5.6M841.1 116.4l5.4 5.4M846.5 116.4l-5.4 5.4M847.9 119.1h5.6M850.7 116.3v5.6M848 116.4l5.4 5.4M853.4 116.4l-5.4 5.4M854.8 119.1h5.6M857.6 116.3v5.6M854.9 116.4l5.4 5.4M860.3 116.4l-5.4 5.4M861.7 117.3h5.6M864.5 114.5v5.6M861.8 114.6l5.4 5.4M867.2 114.6l-5.4 5.4M868.6 113.3h5.6M871.4 110.5v5.6M868.7 110.6l5.4 5.4M874.1 110.6l-5.4 5.4M875.5 106.9h5.6M878.2 104.1v5.6M875.5 104.2l5.4 5.4M881 104.2l-5.4 5.4M882.3 94h5.6M885.1 91.2v5.6M882.4 91.3l5.4 5.4M887.8 91.3l-5.4 5.4M889.2 81.5h5.6M892 78.7v5.6M889.3 78.8l5.4 5.4M894.7 78.8l-5.4 5.4M896.1 70.4h5.6M898.9 67.6v5.6M896.2 67.7l5.4 5.4M901.6 67.7l-5.4 5.4M903 66.2h5.6M905.8 63.4v5.6M903.1 63.5l5.4 5.4M908.5 63.5l-5.4 5.4M909.9 59.1h5.6M912.7 56.3v5.6M910 56.4l5.4 5.4M915.4 56.4l-5.4 5.4M916.8 50.1h5.6M919.6 47.3v5.6M916.9 47.4l5.4 5.4M922.3 47.4l-5.4 5.4M923.7 42.4h5.6M926.5 39.6v5.6M923.8 39.7l5.4 5.4M929.2 39.7l-5.4 5.4M930.6 38.5h5.6M933.4 35.7v5.6M930.7 35.8l5.4 5.4M936.1 35.8l-5.4 5.4M937.5 40.6h5.6M940.3 37.8v5.6M937.6 37.9l5.4 5.4M943 37.9l-5.4 5.4M944.4 43.5h5.6M947.2 40.7v5.6M944.5 40.8l5.4 5.4M949.9 40.8l-5.4 5.4M951.3 47.1h5.6M954.1 44.3v5.6M951.4 44.4l5.4 5.4M956.8 44.4l-5.4 5.4M958.2 48.9h5.6M961 46.1v5.6M958.3 46.2l5.4 5.4M963.7 46.2l-5.4 5.4"/></g><g clip-path="url(#c04)" stroke="#00ff00" fill="none" stroke-width="1.1"><polyline points="795.5,48.3 802.4,51 809.3,53.2 816.2,57.8 823.1,62.1 830,63.9 836.9,65.3 843.8,65.9 850.7,65.3 857.6,65 864.5,65.3 871.4,65.7 878.2,65.3 885.1,62.1 892,59.1 898.9,57.8 905.8,56 912.7,53.2 919.6,47.4 926.5,42.4 933.4,43.5 940.3,47.1 947.2,51.4 954.1,56 961,60.9"/><path stroke-width="1.15" d="M792.7 48.3h5.6M795.5 45.5v5.6M792.8 45.6l5.4 5.4M798.2 45.6l-5.4 5.4M799.6 51h5.6M802.4 48.2v5.6M799.7 48.3l5.4 5.4M805.1 48.3l-5.4 5.4M806.5 53.2h5.6M809.3 50.4v5.6M806.6 50.5l5.4 5.4M812 50.5l-5.4 5.4M813.4 57.8h5.6M816.2 55v5.6M813.5 55.1l5.4 5.4M818.9 55.1l-5.4 5.4M820.3 62.1h5.6M823.1 59.3v5.6M820.4 59.4l5.4 5.4M825.8 59.4l-5.4 5.4M827.2 63.9h5.6M830 61.1v5.6M827.3 61.2l5.4 5.4M832.7 61.2l-5.4 5.4M834.1 65.3h5.6M836.9 62.5v5.6M834.2 62.6l5.4 5.4M839.6 62.6l-5.4 5.4M841 65.9h5.6M843.8 63.1v5.6M841.1 63.2l5.4 5.4M846.5 63.2l-5.4 5.4M847.9 65.3h5.6M850.7 62.5v5.6M848 62.6l5.4 5.4M853.4 62.6l-5.4 5.4M854.8 65h5.6M857.6 62.2v5.6M854.9 62.3l5.4 5.4M860.3 62.3l-5.4 5.4M861.7 65.3h5.6M864.5 62.5v5.6M861.8 62.6l5.4 5.4M867.2 62.6l-5.4 5.4M868.6 65.7h5.6M871.4 62.9v5.6M868.7 63l5.4 5.4M874.1 63l-5.4 5.4M875.5 65.3h5.6M878.2 62.5v5.6M875.5 62.6l5.4 5.4M881 62.6l-5.4 5.4M882.3 62.1h5.6M885.1 59.3v5.6M882.4 59.4l5.4 5.4M887.8 59.4l-5.4 5.4M889.2 59.1h5.6M892 56.3v5.6M889.3 56.4l5.4 5.4M894.7 56.4l-5.4 5.4M896.1 57.8h5.6M898.9 55v5.6M896.2 55.1l5.4 5.4M901.6 55.1l-5.4 5.4M903 56h5.6M905.8 53.2v5.6M903.1 53.3l5.4 5.4M908.5 53.3l-5.4 5.4M909.9 53.2h5.6M912.7 50.4v5.6M910 50.5l5.4 5.4M915.4 50.5l-5.4 5.4M916.8 47.4h5.6M919.6 44.6v5.6M916.9 44.7l5.4 5.4M922.3 44.7l-5.4 5.4M923.7 42.4h5.6M926.5 39.6v5.6M923.8 39.7l5.4 5.4M929.2 39.7l-5.4 5.4M930.6 43.5h5.6M933.4 40.7v5.6M930.7 40.8l5.4 5.4M936.1 40.8l-5.4 5.4M937.5 47.1h5.6M940.3 44.3v5.6M937.6 44.4l5.4 5.4M943 44.4l-5.4 5.4M944.4 51.4h5.6M947.2 48.6v5.6M944.5 48.7l5.4 5.4M949.9 48.7l-5.4 5.4M951.3 56h5.6M954.1 53.2v5.6M951.4 53.3l5.4 5.4M956.8 53.3l-5.4 5.4M958.2 60.9h5.6M961 58.1v5.6M958.3 58.2l5.4 5.4M963.7 58.2l-5.4 5.4"/></g><g clip-path="url(#c04)" stroke="#0000ff" fill="none" stroke-width="1.1"><polyline points="795.5,59.6 802.4,66.2 809.3,74.3 816.2,83.3 823.1,89 830,94 836.9,99 843.8,103 850.7,106.5 857.6,108.7 864.5,111 871.4,112.8 878.2,112.3 885.1,109.2 892,105.6 898.9,102.1 905.8,97.9 912.7,92.6 919.6,87.2 926.5,82.9 933.4,80 940.3,80.6 947.2,83.3 954.1,90.4 961,97.2"/><path stroke-width="1.15" d="M792.7 59.6h5.6M795.5 56.8v5.6M792.8 56.9l5.4 5.4M798.2 56.9l-5.4 5.4M799.6 66.2h5.6M802.4 63.4v5.6M799.7 63.5l5.4 5.4M805.1 63.5l-5.4 5.4M806.5 74.3h5.6M809.3 71.5v5.6M806.6 71.6l5.4 5.4M812 71.6l-5.4 5.4M813.4 83.3h5.6M816.2 80.5v5.6M813.5 80.6l5.4 5.4M818.9 80.6l-5.4 5.4M820.3 89h5.6M823.1 86.2v5.6M820.4 86.3l5.4 5.4M825.8 86.3l-5.4 5.4M827.2 94h5.6M830 91.2v5.6M827.3 91.3l5.4 5.4M832.7 91.3l-5.4 5.4M834.1 99h5.6M836.9 96.2v5.6M834.2 96.3l5.4 5.4M839.6 96.3l-5.4 5.4M841 103h5.6M843.8 100.2v5.6M841.1 100.3l5.4 5.4M846.5 100.3l-5.4 5.4M847.9 106.5h5.6M850.7 103.7v5.6M848 103.8l5.4 5.4M853.4 103.8l-5.4 5.4M854.8 108.7h5.6M857.6 105.9v5.6M854.9 106l5.4 5.4M860.3 106l-5.4 5.4M861.7 111h5.6M864.5 108.2v5.6M861.8 108.3l5.4 5.4M867.2 108.3l-5.4 5.4M868.6 112.8h5.6M871.4 110v5.6M868.7 110.1l5.4 5.4M874.1 110.1l-5.4 5.4M875.5 112.3h5.6M878.2 109.5v5.6M875.5 109.6l5.4 5.4M881 109.6l-5.4 5.4M882.3 109.2h5.6M885.1 106.4v5.6M882.4 106.5l5.4 5.4M887.8 106.5l-5.4 5.4M889.2 105.6h5.6M892 102.8v5.6M889.3 102.9l5.4 5.4M894.7 102.9l-5.4 5.4M896.1 102.1h5.6M898.9 99.3v5.6M896.2 99.4l5.4 5.4M901.6 99.4l-5.4 5.4M903 97.9h5.6M905.8 95.1v5.6M903.1 95.2l5.4 5.4M908.5 95.2l-5.4 5.4M909.9 92.6h5.6M912.7 89.8v5.6M910 89.9l5.4 5.4M915.4 89.9l-5.4 5.4M916.8 87.2h5.6M919.6 84.4v5.6M916.9 84.5l5.4 5.4M922.3 84.5l-5.4 5.4M923.7 82.9h5.6M926.5 80.1v5.6M923.8 80.2l5.4 5.4M929.2 80.2l-5.4 5.4M930.6 80h5.6M933.4 77.2v5.6M930.7 77.3l5.4 5.4M936.1 77.3l-5.4 5.4M937.5 80.6h5.6M940.3 77.8v5.6M937.6 77.9l5.4 5.4M943 77.9l-5.4 5.4M944.4 83.3h5.6M947.2 80.5v5.6M944.5 80.6l5.4 5.4M949.9 80.6l-5.4 5.4M951.3 90.4h5.6M954.1 87.6v5.6M951.4 87.7l5.4 5.4M956.8 87.7l-5.4 5.4M958.2 97.2h5.6M961 94.4v5.6M958.3 94.5l5.4 5.4M963.7 94.5l-5.4 5.4"/></g><g clip-path="url(#c04)" stroke="#ff0000" fill="none" stroke-width="1.1"><polyline points="795.5,97.2 802.4,105.6 809.3,110.1 816.2,117.3 823.1,126.2 830,133.8 836.9,135.2 843.8,136.1 850.7,136.6 857.6,137 864.5,137.3 871.4,137.3 878.2,137.3 885.1,137 892,136.1 898.9,135.2 905.8,128.9 912.7,123.6 919.6,121.2 926.5,118.7 933.4,122.3 940.3,124.8 947.2,123.6 954.1,124.1 961,125.3"/><path stroke-width="1.15" d="M792.7 97.2h5.6M795.5 94.4v5.6M792.8 94.5l5.4 5.4M798.2 94.5l-5.4 5.4M799.6 105.6h5.6M802.4 102.8v5.6M799.7 102.9l5.4 5.4M805.1 102.9l-5.4 5.4M806.5 110.1h5.6M809.3 107.3v5.6M806.6 107.4l5.4 5.4M812 107.4l-5.4 5.4M813.4 117.3h5.6M816.2 114.5v5.6M813.5 114.6l5.4 5.4M818.9 114.6l-5.4 5.4M820.3 126.2h5.6M823.1 123.4v5.6M820.4 123.5l5.4 5.4M825.8 123.5l-5.4 5.4M827.2 133.8h5.6M830 131v5.6M827.3 131.1l5.4 5.4M832.7 131.1l-5.4 5.4M834.1 135.2h5.6M836.9 132.4v5.6M834.2 132.5l5.4 5.4M839.6 132.5l-5.4 5.4M841 136.1h5.6M843.8 133.3v5.6M841.1 133.4l5.4 5.4M846.5 133.4l-5.4 5.4M847.9 136.6h5.6M850.7 133.8v5.6M848 133.9l5.4 5.4M853.4 133.9l-5.4 5.4M854.8 137h5.6M857.6 134.2v5.6M854.9 134.3l5.4 5.4M860.3 134.3l-5.4 5.4M861.7 137.3h5.6M864.5 134.5v5.6M861.8 134.6l5.4 5.4M867.2 134.6l-5.4 5.4M868.6 137.3h5.6M871.4 134.5v5.6M868.7 134.6l5.4 5.4M874.1 134.6l-5.4 5.4M875.5 137.3h5.6M878.2 134.5v5.6M875.5 134.6l5.4 5.4M881 134.6l-5.4 5.4M882.3 137h5.6M885.1 134.2v5.6M882.4 134.3l5.4 5.4M887.8 134.3l-5.4 5.4M889.2 136.1h5.6M892 133.3v5.6M889.3 133.4l5.4 5.4M894.7 133.4l-5.4 5.4M896.1 135.2h5.6M898.9 132.4v5.6M896.2 132.5l5.4 5.4M901.6 132.5l-5.4 5.4M903 128.9h5.6M905.8 126.1v5.6M903.1 126.2l5.4 5.4M908.5 126.2l-5.4 5.4M909.9 123.6h5.6M912.7 120.8v5.6M910 120.9l5.4 5.4M915.4 120.9l-5.4 5.4M916.8 121.2h5.6M919.6 118.4v5.6M916.9 118.5l5.4 5.4M922.3 118.5l-5.4 5.4M923.7 118.7h5.6M926.5 115.9v5.6M923.8 116l5.4 5.4M929.2 116l-5.4 5.4M930.6 122.3h5.6M933.4 119.5v5.6M930.7 119.6l5.4 5.4M936.1 119.6l-5.4 5.4M937.5 124.8h5.6M940.3 122v5.6M937.6 122.1l5.4 5.4M943 122.1l-5.4 5.4M944.4 123.6h5.6M947.2 120.8v5.6M944.5 120.9l5.4 5.4M949.9 120.9l-5.4 5.4M951.3 124.1h5.6M954.1 121.3v5.6M951.4 121.4l5.4 5.4M956.8 121.4l-5.4 5.4M958.2 125.3h5.6M961 122.5v5.6M958.3 122.6l5.4 5.4M963.7 122.6l-5.4 5.4"/></g><path d="M795.5 113.2H961M795.5 88.7H961M795.5 64.2H961M795.5 39.7H961M823.08 137.7V19.8M850.67 137.7V19.8M878.25 137.7V19.8M905.83 137.7V19.8M933.42 137.7V19.8" stroke="#000" stroke-width="1" stroke-dasharray="1.1 2.03" stroke-dashoffset="-0.8" fill="none"/><path d="M823.08 19.8v5M823.08 137.7v-5M850.67 19.8v5M850.67 137.7v-5M878.25 19.8v5M878.25 137.7v-5M905.83 19.8v5M905.83 137.7v-5M933.42 19.8v5M933.42 137.7v-5M809.29 19.8v4M809.29 137.7v-4M836.88 19.8v4M836.88 137.7v-4M864.46 19.8v4M864.46 137.7v-4M892.04 19.8v4M892.04 137.7v-4M919.62 19.8v4M919.62 137.7v-4M947.21 19.8v4M947.21 137.7v-4M795.5 113.2h5M961 113.2h-5M795.5 88.7h5M961 88.7h-5M795.5 64.2h5M961 64.2h-5M795.5 39.7h5M961 39.7h-5M795.5 125.45h4M961 125.45h-4M795.5 100.95h4M961 100.95h-4M795.5 76.45h4M961 76.45h-4M795.5 51.95h4M961 51.95h-4M795.5 27.45h4M961 27.45h-4" stroke="#000000" stroke-width="1" fill="none"/><path d="M795 19.95H962" stroke="#000000" stroke-width="1.9" fill="none"/><path d="M795 137.7H962" stroke="#000000" stroke-width="1.6" fill="none"/><path d="M795.5 19.8V137.7" stroke="#000000" stroke-width="1" fill="none"/><path d="M961.3 19.8V137.7" stroke="#000000" stroke-width="1.4" fill="none"/><g fill="#000000" font-size="9.6" font-weight="bold"><text x="790.8" y="140.8" text-anchor="end">36</text><text x="790.8" y="116.3" text-anchor="end">56</text><text x="790.8" y="91.8" text-anchor="end">76</text><text x="790.8" y="67.3" text-anchor="end">96</text><text x="790.8" y="42.8" text-anchor="end">116</text><text x="795.5" y="148.7" text-anchor="middle">0</text><text x="823.08" y="148.7" text-anchor="middle">4</text><text x="850.67" y="148.7" text-anchor="middle">8</text><text x="878.25" y="148.7" text-anchor="middle">12</text><text x="905.83" y="148.7" text-anchor="middle">16</text><text x="933.42" y="148.7" text-anchor="middle">20</text><text x="961" y="148.7" text-anchor="middle">24</text></g><text clip-path="url(#l04)" x="859.7" y="162.6" textLength="37.7" lengthAdjust="spacingAndGlyphs" fill="#000000" font-size="9.5" font-weight="bold">Tap Mun</text><g clip-path="url(#c10)" stroke="#00ffff" fill="none" stroke-width="1.1"><polyline points="23.5,217 30.4,217.8 37.3,219.6 44.2,220.7 51.1,220.7 58,221 64.9,221.9 71.8,223.2 78.7,225 85.6,226.1 92.5,226.5 99.4,227.4 106.2,229.2 113.1,231 120,232.5 126.9,232.3 133.8,215.6 140.7,186.6 147.6,169.3 154.5,168.8 161.4,170.3 168.3,178.4 175.2,184.4 182.1,192 189,206.5"/><path stroke-width="1.15" d="M20.7 217h5.6M23.5 214.2v5.6M20.8 214.3l5.4 5.4M26.2 214.3l-5.4 5.4M27.6 217.8h5.6M30.4 215v5.6M27.7 215.1l5.4 5.4M33.1 215.1l-5.4 5.4M34.5 219.6h5.6M37.3 216.8v5.6M34.6 216.9l5.4 5.4M40 216.9l-5.4 5.4M41.4 220.7h5.6M44.2 217.9v5.6M41.5 218l5.4 5.4M46.9 218l-5.4 5.4M48.3 220.7h5.6M51.1 217.9v5.6M48.4 218l5.4 5.4M53.8 218l-5.4 5.4M55.2 221h5.6M58 218.2v5.6M55.3 218.3l5.4 5.4M60.7 218.3l-5.4 5.4M62.1 221.9h5.6M64.9 219.1v5.6M62.2 219.2l5.4 5.4M67.6 219.2l-5.4 5.4M69 223.2h5.6M71.8 220.4v5.6M69.1 220.5l5.4 5.4M74.5 220.5l-5.4 5.4M75.9 225h5.6M78.7 222.2v5.6M76 222.3l5.4 5.4M81.4 222.3l-5.4 5.4M82.8 226.1h5.6M85.6 223.3v5.6M82.9 223.4l5.4 5.4M88.3 223.4l-5.4 5.4M89.7 226.5h5.6M92.5 223.7v5.6M89.8 223.8l5.4 5.4M95.2 223.8l-5.4 5.4M96.6 227.4h5.6M99.4 224.6v5.6M96.7 224.7l5.4 5.4M102.1 224.7l-5.4 5.4M103.5 229.2h5.6M106.2 226.4v5.6M103.5 226.5l5.4 5.4M109 226.5l-5.4 5.4M110.3 231h5.6M113.1 228.2v5.6M110.4 228.3l5.4 5.4M115.8 228.3l-5.4 5.4M117.2 232.5h5.6M120 229.7v5.6M117.3 229.8l5.4 5.4M122.7 229.8l-5.4 5.4M124.1 232.3h5.6M126.9 229.5v5.6M124.2 229.6l5.4 5.4M129.6 229.6l-5.4 5.4M131 215.6h5.6M133.8 212.8v5.6M131.1 212.9l5.4 5.4M136.5 212.9l-5.4 5.4M137.9 186.6h5.6M140.7 183.8v5.6M138 183.9l5.4 5.4M143.4 183.9l-5.4 5.4M144.8 169.3h5.6M147.6 166.5v5.6M144.9 166.6l5.4 5.4M150.3 166.6l-5.4 5.4M151.7 168.8h5.6M154.5 166v5.6M151.8 166.1l5.4 5.4M157.2 166.1l-5.4 5.4M158.6 170.3h5.6M161.4 167.5v5.6M158.7 167.6l5.4 5.4M164.1 167.6l-5.4 5.4M165.5 178.4h5.6M168.3 175.6v5.6M165.6 175.7l5.4 5.4M171 175.7l-5.4 5.4M172.4 184.4h5.6M175.2 181.6v5.6M172.5 181.7l5.4 5.4M177.9 181.7l-5.4 5.4M179.3 192h5.6M182.1 189.2v5.6M179.4 189.3l5.4 5.4M184.8 189.3l-5.4 5.4M186.2 206.5h5.6M189 203.7v5.6M186.3 203.8l5.4 5.4M191.7 203.8l-5.4 5.4"/></g><g clip-path="url(#c10)" stroke="#00ff00" fill="none" stroke-width="1.1"><polyline points="23.5,206.5 30.4,224.3 37.3,233.7 44.2,233.4 51.1,231.5 58,230.1 64.9,231.9 71.8,237.4 78.7,243.7 85.6,250 92.5,251.9 99.4,254.6 106.2,255.9 113.1,253.3 120,245.5 126.9,232.8 133.8,217.4 140.7,205.6 147.6,197.8 154.5,196.5 161.4,201.4 168.3,210.5 175.2,221.4 182.1,232.8 189,244.2"/><path stroke-width="1.15" d="M20.7 206.5h5.6M23.5 203.7v5.6M20.8 203.8l5.4 5.4M26.2 203.8l-5.4 5.4M27.6 224.3h5.6M30.4 221.5v5.6M27.7 221.6l5.4 5.4M33.1 221.6l-5.4 5.4M34.5 233.7h5.6M37.3 230.9v5.6M34.6 231l5.4 5.4M40 231l-5.4 5.4M41.4 233.4h5.6M44.2 230.6v5.6M41.5 230.7l5.4 5.4M46.9 230.7l-5.4 5.4M48.3 231.5h5.6M51.1 228.7v5.6M48.4 228.8l5.4 5.4M53.8 228.8l-5.4 5.4M55.2 230.1h5.6M58 227.3v5.6M55.3 227.4l5.4 5.4M60.7 227.4l-5.4 5.4M62.1 231.9h5.6M64.9 229.1v5.6M62.2 229.2l5.4 5.4M67.6 229.2l-5.4 5.4M69 237.4h5.6M71.8 234.6v5.6M69.1 234.7l5.4 5.4M74.5 234.7l-5.4 5.4M75.9 243.7h5.6M78.7 240.9v5.6M76 241l5.4 5.4M81.4 241l-5.4 5.4M82.8 250h5.6M85.6 247.2v5.6M82.9 247.3l5.4 5.4M88.3 247.3l-5.4 5.4M89.7 251.9h5.6M92.5 249.1v5.6M89.8 249.2l5.4 5.4M95.2 249.2l-5.4 5.4M96.6 254.6h5.6M99.4 251.8v5.6M96.7 251.9l5.4 5.4M102.1 251.9l-5.4 5.4M103.5 255.9h5.6M106.2 253.1v5.6M103.5 253.2l5.4 5.4M109 253.2l-5.4 5.4M110.3 253.3h5.6M113.1 250.5v5.6M110.4 250.6l5.4 5.4M115.8 250.6l-5.4 5.4M117.2 245.5h5.6M120 242.7v5.6M117.3 242.8l5.4 5.4M122.7 242.8l-5.4 5.4M124.1 232.8h5.6M126.9 230v5.6M124.2 230.1l5.4 5.4M129.6 230.1l-5.4 5.4M131 217.4h5.6M133.8 214.6v5.6M131.1 214.7l5.4 5.4M136.5 214.7l-5.4 5.4M137.9 205.6h5.6M140.7 202.8v5.6M138 202.9l5.4 5.4M143.4 202.9l-5.4 5.4M144.8 197.8h5.6M147.6 195v5.6M144.9 195.1l5.4 5.4M150.3 195.1l-5.4 5.4M151.7 196.5h5.6M154.5 193.7v5.6M151.8 193.8l5.4 5.4M157.2 193.8l-5.4 5.4M158.6 201.4h5.6M161.4 198.6v5.6M158.7 198.7l5.4 5.4M164.1 198.7l-5.4 5.4M165.5 210.5h5.6M168.3 207.7v5.6M165.6 207.8l5.4 5.4M171 207.8l-5.4 5.4M172.4 221.4h5.6M175.2 218.6v5.6M172.5 218.7l5.4 5.4M177.9 218.7l-5.4 5.4M179.3 232.8h5.6M182.1 230v5.6M179.4 230.1l5.4 5.4M184.8 230.1l-5.4 5.4M186.2 244.2h5.6M189 241.4v5.6M186.3 241.5l5.4 5.4M191.7 241.5l-5.4 5.4"/></g><g clip-path="url(#c10)" stroke="#0000ff" fill="none" stroke-width="1.1"><polyline points="23.5,243.7 30.4,251.9 37.3,258.2 44.2,260.6 51.1,255.9 58,251.9 64.9,251 71.8,251.9 78.7,253.7 85.6,259.1 92.5,263.1 99.4,263.1 106.2,263.1 113.1,263.1 120,261.8 126.9,260 133.8,258.8 140.7,258.8 147.6,260.6 154.5,261.3 161.4,261.8 168.3,261.8 175.2,264.2 182.1,263.6 189,262.4"/><path stroke-width="1.15" d="M20.7 243.7h5.6M23.5 240.9v5.6M20.8 241l5.4 5.4M26.2 241l-5.4 5.4M27.6 251.9h5.6M30.4 249.1v5.6M27.7 249.2l5.4 5.4M33.1 249.2l-5.4 5.4M34.5 258.2h5.6M37.3 255.4v5.6M34.6 255.5l5.4 5.4M40 255.5l-5.4 5.4M41.4 260.6h5.6M44.2 257.8v5.6M41.5 257.9l5.4 5.4M46.9 257.9l-5.4 5.4M48.3 255.9h5.6M51.1 253.1v5.6M48.4 253.2l5.4 5.4M53.8 253.2l-5.4 5.4M55.2 251.9h5.6M58 249.1v5.6M55.3 249.2l5.4 5.4M60.7 249.2l-5.4 5.4M62.1 251h5.6M64.9 248.2v5.6M62.2 248.3l5.4 5.4M67.6 248.3l-5.4 5.4M69 251.9h5.6M71.8 249.1v5.6M69.1 249.2l5.4 5.4M74.5 249.2l-5.4 5.4M75.9 253.7h5.6M78.7 250.9v5.6M76 251l5.4 5.4M81.4 251l-5.4 5.4M82.8 259.1h5.6M85.6 256.3v5.6M82.9 256.4l5.4 5.4M88.3 256.4l-5.4 5.4M89.7 263.1h5.6M92.5 260.3v5.6M89.8 260.4l5.4 5.4M95.2 260.4l-5.4 5.4M96.6 263.1h5.6M99.4 260.3v5.6M96.7 260.4l5.4 5.4M102.1 260.4l-5.4 5.4M103.5 263.1h5.6M106.2 260.3v5.6M103.5 260.4l5.4 5.4M109 260.4l-5.4 5.4M110.3 263.1h5.6M113.1 260.3v5.6M110.4 260.4l5.4 5.4M115.8 260.4l-5.4 5.4M117.2 261.8h5.6M120 259v5.6M117.3 259.1l5.4 5.4M122.7 259.1l-5.4 5.4M124.1 260h5.6M126.9 257.2v5.6M124.2 257.3l5.4 5.4M129.6 257.3l-5.4 5.4M131 258.8h5.6M133.8 256v5.6M131.1 256.1l5.4 5.4M136.5 256.1l-5.4 5.4M137.9 258.8h5.6M140.7 256v5.6M138 256.1l5.4 5.4M143.4 256.1l-5.4 5.4M144.8 260.6h5.6M147.6 257.8v5.6M144.9 257.9l5.4 5.4M150.3 257.9l-5.4 5.4M151.7 261.3h5.6M154.5 258.5v5.6M151.8 258.6l5.4 5.4M157.2 258.6l-5.4 5.4M158.6 261.8h5.6M161.4 259v5.6M158.7 259.1l5.4 5.4M164.1 259.1l-5.4 5.4M165.5 261.8h5.6M168.3 259v5.6M165.6 259.1l5.4 5.4M171 259.1l-5.4 5.4M172.4 264.2h5.6M175.2 261.4v5.6M172.5 261.5l5.4 5.4M177.9 261.5l-5.4 5.4M179.3 263.6h5.6M182.1 260.8v5.6M179.4 260.9l5.4 5.4M184.8 260.9l-5.4 5.4M186.2 262.4h5.6M189 259.6v5.6M186.3 259.7l5.4 5.4M191.7 259.7l-5.4 5.4"/></g><g clip-path="url(#c10)" stroke="#ff0000" fill="none" stroke-width="1.1"><polyline points="23.5,261.8 30.4,260.6 37.3,258.2 44.2,255.9 51.1,253.7 58,251.5 64.9,250.4 71.8,249.7 78.7,247.3 85.6,245.5 92.5,243.2 99.4,242.8 106.2,242.8 113.1,242.4 120,241.3 126.9,239.2 133.8,236.4 140.7,232.8 147.6,228.3 154.5,226.5 161.4,225.6 168.3,224.7 175.2,224.7 182.1,225.6 189,226.5"/><path stroke-width="1.15" d="M20.7 261.8h5.6M23.5 259v5.6M20.8 259.1l5.4 5.4M26.2 259.1l-5.4 5.4M27.6 260.6h5.6M30.4 257.8v5.6M27.7 257.9l5.4 5.4M33.1 257.9l-5.4 5.4M34.5 258.2h5.6M37.3 255.4v5.6M34.6 255.5l5.4 5.4M40 255.5l-5.4 5.4M41.4 255.9h5.6M44.2 253.1v5.6M41.5 253.2l5.4 5.4M46.9 253.2l-5.4 5.4M48.3 253.7h5.6M51.1 250.9v5.6M48.4 251l5.4 5.4M53.8 251l-5.4 5.4M55.2 251.5h5.6M58 248.7v5.6M55.3 248.8l5.4 5.4M60.7 248.8l-5.4 5.4M62.1 250.4h5.6M64.9 247.6v5.6M62.2 247.7l5.4 5.4M67.6 247.7l-5.4 5.4M69 249.7h5.6M71.8 246.9v5.6M69.1 247l5.4 5.4M74.5 247l-5.4 5.4M75.9 247.3h5.6M78.7 244.5v5.6M76 244.6l5.4 5.4M81.4 244.6l-5.4 5.4M82.8 245.5h5.6M85.6 242.7v5.6M82.9 242.8l5.4 5.4M88.3 242.8l-5.4 5.4M89.7 243.2h5.6M92.5 240.4v5.6M89.8 240.5l5.4 5.4M95.2 240.5l-5.4 5.4M96.6 242.8h5.6M99.4 240v5.6M96.7 240.1l5.4 5.4M102.1 240.1l-5.4 5.4M103.5 242.8h5.6M106.2 240v5.6M103.5 240.1l5.4 5.4M109 240.1l-5.4 5.4M110.3 242.4h5.6M113.1 239.6v5.6M110.4 239.7l5.4 5.4M115.8 239.7l-5.4 5.4M117.2 241.3h5.6M120 238.5v5.6M117.3 238.6l5.4 5.4M122.7 238.6l-5.4 5.4M124.1 239.2h5.6M126.9 236.4v5.6M124.2 236.5l5.4 5.4M129.6 236.5l-5.4 5.4M131 236.4h5.6M133.8 233.6v5.6M131.1 233.7l5.4 5.4M136.5 233.7l-5.4 5.4M137.9 232.8h5.6M140.7 230v5.6M138 230.1l5.4 5.4M143.4 230.1l-5.4 5.4M144.8 228.3h5.6M147.6 225.5v5.6M144.9 225.6l5.4 5.4M150.3 225.6l-5.4 5.4M151.7 226.5h5.6M154.5 223.7v5.6M151.8 223.8l5.4 5.4M157.2 223.8l-5.4 5.4M158.6 225.6h5.6M161.4 222.8v5.6M158.7 222.9l5.4 5.4M164.1 222.9l-5.4 5.4M165.5 224.7h5.6M168.3 221.9v5.6M165.6 222l5.4 5.4M171 222l-5.4 5.4M172.4 224.7h5.6M175.2 221.9v5.6M172.5 222l5.4 5.4M177.9 222l-5.4 5.4M179.3 225.6h5.6M182.1 222.8v5.6M179.4 222.9l5.4 5.4M184.8 222.9l-5.4 5.4M186.2 226.5h5.6M189 223.7v5.6M186.3 223.8l5.4 5.4M191.7 223.8l-5.4 5.4"/></g><path d="M23.5 261.2H189M23.5 236.7H189M23.5 212.2H189M23.5 187.7H189M51.08 285.7V167.8M78.67 285.7V167.8M106.25 285.7V167.8M133.83 285.7V167.8M161.42 285.7V167.8" stroke="#000" stroke-width="1" stroke-dasharray="1.1 2.03" stroke-dashoffset="-0.8" fill="none"/><path d="M51.08 167.8v5M51.08 285.7v-5M78.67 167.8v5M78.67 285.7v-5M106.25 167.8v5M106.25 285.7v-5M133.83 167.8v5M133.83 285.7v-5M161.42 167.8v5M161.42 285.7v-5M37.29 167.8v4M37.29 285.7v-4M64.88 167.8v4M64.88 285.7v-4M92.46 167.8v4M92.46 285.7v-4M120.04 167.8v4M120.04 285.7v-4M147.62 167.8v4M147.62 285.7v-4M175.21 167.8v4M175.21 285.7v-4M23.5 261.2h5M189 261.2h-5M23.5 236.7h5M189 236.7h-5M23.5 212.2h5M189 212.2h-5M23.5 187.7h5M189 187.7h-5M23.5 273.45h4M189 273.45h-4M23.5 248.95h4M189 248.95h-4M23.5 224.45h4M189 224.45h-4M23.5 199.95h4M189 199.95h-4M23.5 175.45h4M189 175.45h-4" stroke="#000000" stroke-width="1" fill="none"/><path d="M23 167.95H190" stroke="#000000" stroke-width="1.9" fill="none"/><path d="M23 285.7H190" stroke="#000000" stroke-width="1.6" fill="none"/><path d="M23.5 167.8V285.7" stroke="#000000" stroke-width="1" fill="none"/><path d="M189.3 167.8V285.7" stroke="#000000" stroke-width="1.4" fill="none"/><g fill="#000000" font-size="9.6" font-weight="bold"><text x="18.8" y="288.8" text-anchor="end">36</text><text x="18.8" y="264.3" text-anchor="end">56</text><text x="18.8" y="239.8" text-anchor="end">76</text><text x="18.8" y="215.3" text-anchor="end">96</text><text x="18.8" y="190.8" text-anchor="end">116</text><text x="23.5" y="296.7" text-anchor="middle">0</text><text x="51.08" y="296.7" text-anchor="middle">4</text><text x="78.67" y="296.7" text-anchor="middle">8</text><text x="106.25" y="296.7" text-anchor="middle">12</text><text x="133.83" y="296.7" text-anchor="middle">16</text><text x="161.42" y="296.7" text-anchor="middle">20</text><text x="189" y="296.7" text-anchor="middle">24</text></g><text clip-path="url(#l10)" x="84.55" y="310.6" textLength="44" lengthAdjust="spacingAndGlyphs" fill="#000000" font-size="9.5" font-weight="bold">Tuen Mun</text><g clip-path="url(#c11)" stroke="#00ffff" fill="none" stroke-width="1.1"><polyline points="216.5,245 223.4,246.1 230.3,246.4 237.2,247.3 244.1,247.3 251,247.9 257.9,247.9 264.8,248.2 271.7,248.6 278.6,249.1 285.5,250 292.4,251.9 299.2,252.2 306.1,252.8 313,249.7 319.9,244.6 326.8,235.5 333.7,227.4 340.6,226.5 347.5,226.8 354.4,228.3 361.3,231.9 368.2,235.5 375.1,239.2 382,245.5"/><path stroke-width="1.15" d="M213.7 245h5.6M216.5 242.2v5.6M213.8 242.3l5.4 5.4M219.2 242.3l-5.4 5.4M220.6 246.1h5.6M223.4 243.3v5.6M220.7 243.4l5.4 5.4M226.1 243.4l-5.4 5.4M227.5 246.4h5.6M230.3 243.6v5.6M227.6 243.7l5.4 5.4M233 243.7l-5.4 5.4M234.4 247.3h5.6M237.2 244.5v5.6M234.5 244.6l5.4 5.4M239.9 244.6l-5.4 5.4M241.3 247.3h5.6M244.1 244.5v5.6M241.4 244.6l5.4 5.4M246.8 244.6l-5.4 5.4M248.2 247.9h5.6M251 245.1v5.6M248.3 245.2l5.4 5.4M253.7 245.2l-5.4 5.4M255.1 247.9h5.6M257.9 245.1v5.6M255.2 245.2l5.4 5.4M260.6 245.2l-5.4 5.4M262 248.2h5.6M264.8 245.4v5.6M262.1 245.5l5.4 5.4M267.5 245.5l-5.4 5.4M268.9 248.6h5.6M271.7 245.8v5.6M269 245.9l5.4 5.4M274.4 245.9l-5.4 5.4M275.8 249.1h5.6M278.6 246.3v5.6M275.9 246.4l5.4 5.4M281.3 246.4l-5.4 5.4M282.7 250h5.6M285.5 247.2v5.6M282.8 247.3l5.4 5.4M288.2 247.3l-5.4 5.4M289.6 251.9h5.6M292.4 249.1v5.6M289.7 249.2l5.4 5.4M295.1 249.2l-5.4 5.4M296.4 252.2h5.6M299.2 249.4v5.6M296.6 249.5l5.4 5.4M301.9 249.5l-5.4 5.4M303.3 252.8h5.6M306.1 250v5.6M303.4 250.1l5.4 5.4M308.8 250.1l-5.4 5.4M310.2 249.7h5.6M313 246.9v5.6M310.3 247l5.4 5.4M315.7 247l-5.4 5.4M317.1 244.6h5.6M319.9 241.8v5.6M317.2 241.9l5.4 5.4M322.6 241.9l-5.4 5.4M324 235.5h5.6M326.8 232.7v5.6M324.1 232.8l5.4 5.4M329.5 232.8l-5.4 5.4M330.9 227.4h5.6M333.7 224.6v5.6M331 224.7l5.4 5.4M336.4 224.7l-5.4 5.4M337.8 226.5h5.6M340.6 223.7v5.6M337.9 223.8l5.4 5.4M343.3 223.8l-5.4 5.4M344.7 226.8h5.6M347.5 224v5.6M344.8 224.1l5.4 5.4M350.2 224.1l-5.4 5.4M351.6 228.3h5.6M354.4 225.5v5.6M351.7 225.6l5.4 5.4M357.1 225.6l-5.4 5.4M358.5 231.9h5.6M361.3 229.1v5.6M358.6 229.2l5.4 5.4M364 229.2l-5.4 5.4M365.4 235.5h5.6M368.2 232.7v5.6M365.5 232.8l5.4 5.4M370.9 232.8l-5.4 5.4M372.3 239.2h5.6M375.1 236.4v5.6M372.4 236.5l5.4 5.4M377.8 236.5l-5.4 5.4M379.2 245.5h5.6M382 242.7v5.6M379.3 242.8l5.4 5.4M384.7 242.8l-5.4 5.4"/></g><g clip-path="url(#c11)" stroke="#00ff00" fill="none" stroke-width="1.1"><polyline points="216.5,245.5 223.4,250 230.3,251.5 237.2,249.7 244.1,248.2 251,247.3 257.9,247.3 264.8,248.2 271.7,250 278.6,251 285.5,252.8 292.4,253.3 299.2,254.6 306.1,254.6 313,253.3 319.9,251.9 326.8,248.2 333.7,246.1 340.6,243.7 347.5,245.5 354.4,247.3 361.3,251 368.2,256.4 375.1,259.1 382,259.1"/><path stroke-width="1.15" d="M213.7 245.5h5.6M216.5 242.7v5.6M213.8 242.8l5.4 5.4M219.2 242.8l-5.4 5.4M220.6 250h5.6M223.4 247.2v5.6M220.7 247.3l5.4 5.4M226.1 247.3l-5.4 5.4M227.5 251.5h5.6M230.3 248.7v5.6M227.6 248.8l5.4 5.4M233 248.8l-5.4 5.4M234.4 249.7h5.6M237.2 246.9v5.6M234.5 247l5.4 5.4M239.9 247l-5.4 5.4M241.3 248.2h5.6M244.1 245.4v5.6M241.4 245.5l5.4 5.4M246.8 245.5l-5.4 5.4M248.2 247.3h5.6M251 244.5v5.6M248.3 244.6l5.4 5.4M253.7 244.6l-5.4 5.4M255.1 247.3h5.6M257.9 244.5v5.6M255.2 244.6l5.4 5.4M260.6 244.6l-5.4 5.4M262 248.2h5.6M264.8 245.4v5.6M262.1 245.5l5.4 5.4M267.5 245.5l-5.4 5.4M268.9 250h5.6M271.7 247.2v5.6M269 247.3l5.4 5.4M274.4 247.3l-5.4 5.4M275.8 251h5.6M278.6 248.2v5.6M275.9 248.3l5.4 5.4M281.3 248.3l-5.4 5.4M282.7 252.8h5.6M285.5 250v5.6M282.8 250.1l5.4 5.4M288.2 250.1l-5.4 5.4M289.6 253.3h5.6M292.4 250.5v5.6M289.7 250.6l5.4 5.4M295.1 250.6l-5.4 5.4M296.4 254.6h5.6M299.2 251.8v5.6M296.6 251.9l5.4 5.4M301.9 251.9l-5.4 5.4M303.3 254.6h5.6M306.1 251.8v5.6M303.4 251.9l5.4 5.4M308.8 251.9l-5.4 5.4M310.2 253.3h5.6M313 250.5v5.6M310.3 250.6l5.4 5.4M315.7 250.6l-5.4 5.4M317.1 251.9h5.6M319.9 249.1v5.6M317.2 249.2l5.4 5.4M322.6 249.2l-5.4 5.4M324 248.2h5.6M326.8 245.4v5.6M324.1 245.5l5.4 5.4M329.5 245.5l-5.4 5.4M330.9 246.1h5.6M333.7 243.3v5.6M331 243.4l5.4 5.4M336.4 243.4l-5.4 5.4M337.8 243.7h5.6M340.6 240.9v5.6M337.9 241l5.4 5.4M343.3 241l-5.4 5.4M344.7 245.5h5.6M347.5 242.7v5.6M344.8 242.8l5.4 5.4M350.2 242.8l-5.4 5.4M351.6 247.3h5.6M354.4 244.5v5.6M351.7 244.6l5.4 5.4M357.1 244.6l-5.4 5.4M358.5 251h5.6M361.3 248.2v5.6M358.6 248.3l5.4 5.4M364 248.3l-5.4 5.4M365.4 256.4h5.6M368.2 253.6v5.6M365.5 253.7l5.4 5.4M370.9 253.7l-5.4 5.4M372.3 259.1h5.6M375.1 256.3v5.6M372.4 256.4l5.4 5.4M377.8 256.4l-5.4 5.4M379.2 259.1h5.6M382 256.3v5.6M379.3 256.4l5.4 5.4M384.7 256.4l-5.4 5.4"/></g><g clip-path="url(#c11)" stroke="#0000ff" fill="none" stroke-width="1.1"><polyline points="216.5,259.1 223.4,258.2 230.3,257.3 237.2,256.9 244.1,256.4 251,256.4 257.9,256.4 264.8,256.4 271.7,256.4 278.6,255.5 285.5,257.3 292.4,257.7 299.2,257.3 306.1,257.3 313,258.8 319.9,260 326.8,260 333.7,260.9 340.6,261.3 347.5,260.6 354.4,259.1 361.3,256.9 368.2,256.4 375.1,254.6 382,254.6"/><path stroke-width="1.15" d="M213.7 259.1h5.6M216.5 256.3v5.6M213.8 256.4l5.4 5.4M219.2 256.4l-5.4 5.4M220.6 258.2h5.6M223.4 255.4v5.6M220.7 255.5l5.4 5.4M226.1 255.5l-5.4 5.4M227.5 257.3h5.6M230.3 254.5v5.6M227.6 254.6l5.4 5.4M233 254.6l-5.4 5.4M234.4 256.9h5.6M237.2 254.1v5.6M234.5 254.2l5.4 5.4M239.9 254.2l-5.4 5.4M241.3 256.4h5.6M244.1 253.6v5.6M241.4 253.7l5.4 5.4M246.8 253.7l-5.4 5.4M248.2 256.4h5.6M251 253.6v5.6M248.3 253.7l5.4 5.4M253.7 253.7l-5.4 5.4M255.1 256.4h5.6M257.9 253.6v5.6M255.2 253.7l5.4 5.4M260.6 253.7l-5.4 5.4M262 256.4h5.6M264.8 253.6v5.6M262.1 253.7l5.4 5.4M267.5 253.7l-5.4 5.4M268.9 256.4h5.6M271.7 253.6v5.6M269 253.7l5.4 5.4M274.4 253.7l-5.4 5.4M275.8 255.5h5.6M278.6 252.7v5.6M275.9 252.8l5.4 5.4M281.3 252.8l-5.4 5.4M282.7 257.3h5.6M285.5 254.5v5.6M282.8 254.6l5.4 5.4M288.2 254.6l-5.4 5.4M289.6 257.7h5.6M292.4 254.9v5.6M289.7 255l5.4 5.4M295.1 255l-5.4 5.4M296.4 257.3h5.6M299.2 254.5v5.6M296.6 254.6l5.4 5.4M301.9 254.6l-5.4 5.4M303.3 257.3h5.6M306.1 254.5v5.6M303.4 254.6l5.4 5.4M308.8 254.6l-5.4 5.4M310.2 258.8h5.6M313 256v5.6M310.3 256.1l5.4 5.4M315.7 256.1l-5.4 5.4M317.1 260h5.6M319.9 257.2v5.6M317.2 257.3l5.4 5.4M322.6 257.3l-5.4 5.4M324 260h5.6M326.8 257.2v5.6M324.1 257.3l5.4 5.4M329.5 257.3l-5.4 5.4M330.9 260.9h5.6M333.7 258.1v5.6M331 258.2l5.4 5.4M336.4 258.2l-5.4 5.4M337.8 261.3h5.6M340.6 258.5v5.6M337.9 258.6l5.4 5.4M343.3 258.6l-5.4 5.4M344.7 260.6h5.6M347.5 257.8v5.6M344.8 257.9l5.4 5.4M350.2 257.9l-5.4 5.4M351.6 259.1h5.6M354.4 256.3v5.6M351.7 256.4l5.4 5.4M357.1 256.4l-5.4 5.4M358.5 256.9h5.6M361.3 254.1v5.6M358.6 254.2l5.4 5.4M364 254.2l-5.4 5.4M365.4 256.4h5.6M368.2 253.6v5.6M365.5 253.7l5.4 5.4M370.9 253.7l-5.4 5.4M372.3 254.6h5.6M375.1 251.8v5.6M372.4 251.9l5.4 5.4M377.8 251.9l-5.4 5.4M379.2 254.6h5.6M382 251.8v5.6M379.3 251.9l5.4 5.4M384.7 251.9l-5.4 5.4"/></g><g clip-path="url(#c11)" stroke="#ff0000" fill="none" stroke-width="1.1"><polyline points="216.5,255.1 223.4,255.9 230.3,256.4 237.2,256.4 244.1,256.4 251,256.4 257.9,256.4 264.8,256.4 271.7,255.9 278.6,255.5 285.5,254.6 292.4,252.8 299.2,250 306.1,245.5 313,241 319.9,241 326.8,239.2 333.7,238.8 340.6,238.3 347.5,238.3 354.4,239.2 361.3,240.6 368.2,241.3 375.1,241.9 382,241.3"/><path stroke-width="1.15" d="M213.7 255.1h5.6M216.5 252.3v5.6M213.8 252.4l5.4 5.4M219.2 252.4l-5.4 5.4M220.6 255.9h5.6M223.4 253.1v5.6M220.7 253.2l5.4 5.4M226.1 253.2l-5.4 5.4M227.5 256.4h5.6M230.3 253.6v5.6M227.6 253.7l5.4 5.4M233 253.7l-5.4 5.4M234.4 256.4h5.6M237.2 253.6v5.6M234.5 253.7l5.4 5.4M239.9 253.7l-5.4 5.4M241.3 256.4h5.6M244.1 253.6v5.6M241.4 253.7l5.4 5.4M246.8 253.7l-5.4 5.4M248.2 256.4h5.6M251 253.6v5.6M248.3 253.7l5.4 5.4M253.7 253.7l-5.4 5.4M255.1 256.4h5.6M257.9 253.6v5.6M255.2 253.7l5.4 5.4M260.6 253.7l-5.4 5.4M262 256.4h5.6M264.8 253.6v5.6M262.1 253.7l5.4 5.4M267.5 253.7l-5.4 5.4M268.9 255.9h5.6M271.7 253.1v5.6M269 253.2l5.4 5.4M274.4 253.2l-5.4 5.4M275.8 255.5h5.6M278.6 252.7v5.6M275.9 252.8l5.4 5.4M281.3 252.8l-5.4 5.4M282.7 254.6h5.6M285.5 251.8v5.6M282.8 251.9l5.4 5.4M288.2 251.9l-5.4 5.4M289.6 252.8h5.6M292.4 250v5.6M289.7 250.1l5.4 5.4M295.1 250.1l-5.4 5.4M296.4 250h5.6M299.2 247.2v5.6M296.6 247.3l5.4 5.4M301.9 247.3l-5.4 5.4M303.3 245.5h5.6M306.1 242.7v5.6M303.4 242.8l5.4 5.4M308.8 242.8l-5.4 5.4M310.2 241h5.6M313 238.2v5.6M310.3 238.3l5.4 5.4M315.7 238.3l-5.4 5.4M317.1 241h5.6M319.9 238.2v5.6M317.2 238.3l5.4 5.4M322.6 238.3l-5.4 5.4M324 239.2h5.6M326.8 236.4v5.6M324.1 236.5l5.4 5.4M329.5 236.5l-5.4 5.4M330.9 238.8h5.6M333.7 236v5.6M331 236.1l5.4 5.4M336.4 236.1l-5.4 5.4M337.8 238.3h5.6M340.6 235.5v5.6M337.9 235.6l5.4 5.4M343.3 235.6l-5.4 5.4M344.7 238.3h5.6M347.5 235.5v5.6M344.8 235.6l5.4 5.4M350.2 235.6l-5.4 5.4M351.6 239.2h5.6M354.4 236.4v5.6M351.7 236.5l5.4 5.4M357.1 236.5l-5.4 5.4M358.5 240.6h5.6M361.3 237.8v5.6M358.6 237.9l5.4 5.4M364 237.9l-5.4 5.4M365.4 241.3h5.6M368.2 238.5v5.6M365.5 238.6l5.4 5.4M370.9 238.6l-5.4 5.4M372.3 241.9h5.6M375.1 239.1v5.6M372.4 239.2l5.4 5.4M377.8 239.2l-5.4 5.4M379.2 241.3h5.6M382 238.5v5.6M379.3 238.6l5.4 5.4M384.7 238.6l-5.4 5.4"/></g><path d="M216.5 261.2H382M216.5 236.7H382M216.5 212.2H382M216.5 187.7H382M244.08 285.7V167.8M271.67 285.7V167.8M299.25 285.7V167.8M326.83 285.7V167.8M354.42 285.7V167.8" stroke="#000" stroke-width="1" stroke-dasharray="1.1 2.03" stroke-dashoffset="-0.8" fill="none"/><path d="M244.08 167.8v5M244.08 285.7v-5M271.67 167.8v5M271.67 285.7v-5M299.25 167.8v5M299.25 285.7v-5M326.83 167.8v5M326.83 285.7v-5M354.42 167.8v5M354.42 285.7v-5M230.29 167.8v4M230.29 285.7v-4M257.88 167.8v4M257.88 285.7v-4M285.46 167.8v4M285.46 285.7v-4M313.04 167.8v4M313.04 285.7v-4M340.62 167.8v4M340.62 285.7v-4M368.21 167.8v4M368.21 285.7v-4M216.5 261.2h5M382 261.2h-5M216.5 236.7h5M382 236.7h-5M216.5 212.2h5M382 212.2h-5M216.5 187.7h5M382 187.7h-5M216.5 273.45h4M382 273.45h-4M216.5 248.95h4M382 248.95h-4M216.5 224.45h4M382 224.45h-4M216.5 199.95h4M382 199.95h-4M216.5 175.45h4M382 175.45h-4" stroke="#000000" stroke-width="1" fill="none"/><path d="M216 167.95H383" stroke="#000000" stroke-width="1.9" fill="none"/><path d="M216 285.7H383" stroke="#000000" stroke-width="1.6" fill="none"/><path d="M216.5 167.8V285.7" stroke="#000000" stroke-width="1" fill="none"/><path d="M382.3 167.8V285.7" stroke="#000000" stroke-width="1.4" fill="none"/><g fill="#000000" font-size="9.6" font-weight="bold"><text x="211.8" y="288.8" text-anchor="end">36</text><text x="211.8" y="264.3" text-anchor="end">56</text><text x="211.8" y="239.8" text-anchor="end">76</text><text x="211.8" y="215.3" text-anchor="end">96</text><text x="211.8" y="190.8" text-anchor="end">116</text><text x="216.5" y="296.7" text-anchor="middle">0</text><text x="244.08" y="296.7" text-anchor="middle">4</text><text x="271.67" y="296.7" text-anchor="middle">8</text><text x="299.25" y="296.7" text-anchor="middle">12</text><text x="326.83" y="296.7" text-anchor="middle">16</text><text x="354.42" y="296.7" text-anchor="middle">20</text><text x="382" y="296.7" text-anchor="middle">24</text></g><text clip-path="url(#l11)" x="275.9" y="310.6" textLength="47.3" lengthAdjust="spacingAndGlyphs" fill="#000000" font-size="9.5" font-weight="bold">Tsuen Wan</text><g clip-path="url(#c12)" stroke="#00ffff" fill="none" stroke-width="1.1"><polyline points="409.5,232.3 416.4,232.3 423.3,232.8 430.2,232.8 437.1,232.8 444,232.8 450.9,230.5 457.8,231.5 464.7,234.1 471.6,237.4 478.5,241 485.4,241.9 492.2,242.8 499.1,242.4 506,242.8 512.9,242.8 519.8,240.1 526.7,238.8 533.6,240.1 540.5,241.9 547.4,241.3 554.3,241.9 561.2,241.9 568.1,241.3 575,241.3"/><path stroke-width="1.15" d="M406.7 232.3h5.6M409.5 229.5v5.6M406.8 229.6l5.4 5.4M412.2 229.6l-5.4 5.4M413.6 232.3h5.6M416.4 229.5v5.6M413.7 229.6l5.4 5.4M419.1 229.6l-5.4 5.4M420.5 232.8h5.6M423.3 230v5.6M420.6 230.1l5.4 5.4M426 230.1l-5.4 5.4M427.4 232.8h5.6M430.2 230v5.6M427.5 230.1l5.4 5.4M432.9 230.1l-5.4 5.4M434.3 232.8h5.6M437.1 230v5.6M434.4 230.1l5.4 5.4M439.8 230.1l-5.4 5.4M441.2 232.8h5.6M444 230v5.6M441.3 230.1l5.4 5.4M446.7 230.1l-5.4 5.4M448.1 230.5h5.6M450.9 227.7v5.6M448.2 227.8l5.4 5.4M453.6 227.8l-5.4 5.4M455 231.5h5.6M457.8 228.7v5.6M455.1 228.8l5.4 5.4M460.5 228.8l-5.4 5.4M461.9 234.1h5.6M464.7 231.3v5.6M462 231.4l5.4 5.4M467.4 231.4l-5.4 5.4M468.8 237.4h5.6M471.6 234.6v5.6M468.9 234.7l5.4 5.4M474.3 234.7l-5.4 5.4M475.7 241h5.6M478.5 238.2v5.6M475.8 238.3l5.4 5.4M481.2 238.3l-5.4 5.4M482.6 241.9h5.6M485.4 239.1v5.6M482.7 239.2l5.4 5.4M488.1 239.2l-5.4 5.4M489.4 242.8h5.6M492.2 240v5.6M489.6 240.1l5.4 5.4M494.9 240.1l-5.4 5.4M496.3 242.4h5.6M499.1 239.6v5.6M496.4 239.7l5.4 5.4M501.8 239.7l-5.4 5.4M503.2 242.8h5.6M506 240v5.6M503.3 240.1l5.4 5.4M508.7 240.1l-5.4 5.4M510.1 242.8h5.6M512.9 240v5.6M510.2 240.1l5.4 5.4M515.6 240.1l-5.4 5.4M517 240.1h5.6M519.8 237.3v5.6M517.1 237.4l5.4 5.4M522.5 237.4l-5.4 5.4M523.9 238.8h5.6M526.7 236v5.6M524 236.1l5.4 5.4M529.4 236.1l-5.4 5.4M530.8 240.1h5.6M533.6 237.3v5.6M530.9 237.4l5.4 5.4M536.3 237.4l-5.4 5.4M537.7 241.9h5.6M540.5 239.1v5.6M537.8 239.2l5.4 5.4M543.2 239.2l-5.4 5.4M544.6 241.3h5.6M547.4 238.5v5.6M544.7 238.6l5.4 5.4M550.1 238.6l-5.4 5.4M551.5 241.9h5.6M554.3 239.1v5.6M551.6 239.2l5.4 5.4M557 239.2l-5.4 5.4M558.4 241.9h5.6M561.2 239.1v5.6M558.5 239.2l5.4 5.4M563.9 239.2l-5.4 5.4M565.3 241.3h5.6M568.1 238.5v5.6M565.4 238.6l5.4 5.4M570.8 238.6l-5.4 5.4M572.2 241.3h5.6M575 238.5v5.6M572.3 238.6l5.4 5.4M577.7 238.6l-5.4 5.4"/></g><g clip-path="url(#c12)" stroke="#00ff00" fill="none" stroke-width="1.1"><polyline points="409.5,240.6 416.4,237 423.3,234.6 430.2,231.9 437.1,231.5 444,230.1 450.9,227.9 457.8,228.3 464.7,231.5 471.6,234.6 478.5,237.4 485.4,240.1 492.2,242.8 499.1,245.5 506,250 512.9,251.9 519.8,253.3 526.7,252.2 533.6,252.8 540.5,253.3 547.4,252.2 554.3,251 561.2,250.4 568.1,250.4 575,250"/><path stroke-width="1.15" d="M406.7 240.6h5.6M409.5 237.8v5.6M406.8 237.9l5.4 5.4M412.2 237.9l-5.4 5.4M413.6 237h5.6M416.4 234.2v5.6M413.7 234.3l5.4 5.4M419.1 234.3l-5.4 5.4M420.5 234.6h5.6M423.3 231.8v5.6M420.6 231.9l5.4 5.4M426 231.9l-5.4 5.4M427.4 231.9h5.6M430.2 229.1v5.6M427.5 229.2l5.4 5.4M432.9 229.2l-5.4 5.4M434.3 231.5h5.6M437.1 228.7v5.6M434.4 228.8l5.4 5.4M439.8 228.8l-5.4 5.4M441.2 230.1h5.6M444 227.3v5.6M441.3 227.4l5.4 5.4M446.7 227.4l-5.4 5.4M448.1 227.9h5.6M450.9 225.1v5.6M448.2 225.2l5.4 5.4M453.6 225.2l-5.4 5.4M455 228.3h5.6M457.8 225.5v5.6M455.1 225.6l5.4 5.4M460.5 225.6l-5.4 5.4M461.9 231.5h5.6M464.7 228.7v5.6M462 228.8l5.4 5.4M467.4 228.8l-5.4 5.4M468.8 234.6h5.6M471.6 231.8v5.6M468.9 231.9l5.4 5.4M474.3 231.9l-5.4 5.4M475.7 237.4h5.6M478.5 234.6v5.6M475.8 234.7l5.4 5.4M481.2 234.7l-5.4 5.4M482.6 240.1h5.6M485.4 237.3v5.6M482.7 237.4l5.4 5.4M488.1 237.4l-5.4 5.4M489.4 242.8h5.6M492.2 240v5.6M489.6 240.1l5.4 5.4M494.9 240.1l-5.4 5.4M496.3 245.5h5.6M499.1 242.7v5.6M496.4 242.8l5.4 5.4M501.8 242.8l-5.4 5.4M503.2 250h5.6M506 247.2v5.6M503.3 247.3l5.4 5.4M508.7 247.3l-5.4 5.4M510.1 251.9h5.6M512.9 249.1v5.6M510.2 249.2l5.4 5.4M515.6 249.2l-5.4 5.4M517 253.3h5.6M519.8 250.5v5.6M517.1 250.6l5.4 5.4M522.5 250.6l-5.4 5.4M523.9 252.2h5.6M526.7 249.4v5.6M524 249.5l5.4 5.4M529.4 249.5l-5.4 5.4M530.8 252.8h5.6M533.6 250v5.6M530.9 250.1l5.4 5.4M536.3 250.1l-5.4 5.4M537.7 253.3h5.6M540.5 250.5v5.6M537.8 250.6l5.4 5.4M543.2 250.6l-5.4 5.4M544.6 252.2h5.6M547.4 249.4v5.6M544.7 249.5l5.4 5.4M550.1 249.5l-5.4 5.4M551.5 251h5.6M554.3 248.2v5.6M551.6 248.3l5.4 5.4M557 248.3l-5.4 5.4M558.4 250.4h5.6M561.2 247.6v5.6M558.5 247.7l5.4 5.4M563.9 247.7l-5.4 5.4M565.3 250.4h5.6M568.1 247.6v5.6M565.4 247.7l5.4 5.4M570.8 247.7l-5.4 5.4M572.2 250h5.6M575 247.2v5.6M572.3 247.3l5.4 5.4M577.7 247.3l-5.4 5.4"/></g><g clip-path="url(#c12)" stroke="#0000ff" fill="none" stroke-width="1.1"><polyline points="409.5,250 416.4,249.7 423.3,249.3 430.2,249.1 437.1,249.1 444,249.1 450.9,249.1 457.8,249.1 464.7,249.1 471.6,248.2 478.5,247.3 485.4,246.1 492.2,245.5 499.1,245.5 506,246.8 512.9,247.3 519.8,248.2 526.7,248.6 533.6,248.2 540.5,247.9 547.4,247.9 554.3,247.9 561.2,246.8 568.1,245.5 575,244.2"/><path stroke-width="1.15" d="M406.7 250h5.6M409.5 247.2v5.6M406.8 247.3l5.4 5.4M412.2 247.3l-5.4 5.4M413.6 249.7h5.6M416.4 246.9v5.6M413.7 247l5.4 5.4M419.1 247l-5.4 5.4M420.5 249.3h5.6M423.3 246.5v5.6M420.6 246.6l5.4 5.4M426 246.6l-5.4 5.4M427.4 249.1h5.6M430.2 246.3v5.6M427.5 246.4l5.4 5.4M432.9 246.4l-5.4 5.4M434.3 249.1h5.6M437.1 246.3v5.6M434.4 246.4l5.4 5.4M439.8 246.4l-5.4 5.4M441.2 249.1h5.6M444 246.3v5.6M441.3 246.4l5.4 5.4M446.7 246.4l-5.4 5.4M448.1 249.1h5.6M450.9 246.3v5.6M448.2 246.4l5.4 5.4M453.6 246.4l-5.4 5.4M455 249.1h5.6M457.8 246.3v5.6M455.1 246.4l5.4 5.4M460.5 246.4l-5.4 5.4M461.9 249.1h5.6M464.7 246.3v5.6M462 246.4l5.4 5.4M467.4 246.4l-5.4 5.4M468.8 248.2h5.6M471.6 245.4v5.6M468.9 245.5l5.4 5.4M474.3 245.5l-5.4 5.4M475.7 247.3h5.6M478.5 244.5v5.6M475.8 244.6l5.4 5.4M481.2 244.6l-5.4 5.4M482.6 246.1h5.6M485.4 243.3v5.6M482.7 243.4l5.4 5.4M488.1 243.4l-5.4 5.4M489.4 245.5h5.6M492.2 242.7v5.6M489.6 242.8l5.4 5.4M494.9 242.8l-5.4 5.4M496.3 245.5h5.6M499.1 242.7v5.6M496.4 242.8l5.4 5.4M501.8 242.8l-5.4 5.4M503.2 246.8h5.6M506 244v5.6M503.3 244.1l5.4 5.4M508.7 244.1l-5.4 5.4M510.1 247.3h5.6M512.9 244.5v5.6M510.2 244.6l5.4 5.4M515.6 244.6l-5.4 5.4M517 248.2h5.6M519.8 245.4v5.6M517.1 245.5l5.4 5.4M522.5 245.5l-5.4 5.4M523.9 248.6h5.6M526.7 245.8v5.6M524 245.9l5.4 5.4M529.4 245.9l-5.4 5.4M530.8 248.2h5.6M533.6 245.4v5.6M530.9 245.5l5.4 5.4M536.3 245.5l-5.4 5.4M537.7 247.9h5.6M540.5 245.1v5.6M537.8 245.2l5.4 5.4M543.2 245.2l-5.4 5.4M544.6 247.9h5.6M547.4 245.1v5.6M544.7 245.2l5.4 5.4M550.1 245.2l-5.4 5.4M551.5 247.9h5.6M554.3 245.1v5.6M551.6 245.2l5.4 5.4M557 245.2l-5.4 5.4M558.4 246.8h5.6M561.2 244v5.6M558.5 244.1l5.4 5.4M563.9 244.1l-5.4 5.4M565.3 245.5h5.6M568.1 242.7v5.6M565.4 242.8l5.4 5.4M570.8 242.8l-5.4 5.4M572.2 244.2h5.6M575 241.4v5.6M572.3 241.5l5.4 5.4M577.7 241.5l-5.4 5.4"/></g><g clip-path="url(#c12)" stroke="#ff0000" fill="none" stroke-width="1.1"><polyline points="409.5,243.7 416.4,242.8 423.3,242.4 430.2,241.9 437.1,241 444,240.1 450.9,239.2 457.8,238.3 464.7,237.4 471.6,237 478.5,236.4 485.4,235.9 492.2,234.6 499.1,231.9 506,229.7 512.9,228.3 519.8,226.5 526.7,226.1 533.6,226.1 540.5,226.1 547.4,225.6 554.3,224.7 561.2,224.3 568.1,224.3 575,224.3"/><path stroke-width="1.15" d="M406.7 243.7h5.6M409.5 240.9v5.6M406.8 241l5.4 5.4M412.2 241l-5.4 5.4M413.6 242.8h5.6M416.4 240v5.6M413.7 240.1l5.4 5.4M419.1 240.1l-5.4 5.4M420.5 242.4h5.6M423.3 239.6v5.6M420.6 239.7l5.4 5.4M426 239.7l-5.4 5.4M427.4 241.9h5.6M430.2 239.1v5.6M427.5 239.2l5.4 5.4M432.9 239.2l-5.4 5.4M434.3 241h5.6M437.1 238.2v5.6M434.4 238.3l5.4 5.4M439.8 238.3l-5.4 5.4M441.2 240.1h5.6M444 237.3v5.6M441.3 237.4l5.4 5.4M446.7 237.4l-5.4 5.4M448.1 239.2h5.6M450.9 236.4v5.6M448.2 236.5l5.4 5.4M453.6 236.5l-5.4 5.4M455 238.3h5.6M457.8 235.5v5.6M455.1 235.6l5.4 5.4M460.5 235.6l-5.4 5.4M461.9 237.4h5.6M464.7 234.6v5.6M462 234.7l5.4 5.4M467.4 234.7l-5.4 5.4M468.8 237h5.6M471.6 234.2v5.6M468.9 234.3l5.4 5.4M474.3 234.3l-5.4 5.4M475.7 236.4h5.6M478.5 233.6v5.6M475.8 233.7l5.4 5.4M481.2 233.7l-5.4 5.4M482.6 235.9h5.6M485.4 233.1v5.6M482.7 233.2l5.4 5.4M488.1 233.2l-5.4 5.4M489.4 234.6h5.6M492.2 231.8v5.6M489.6 231.9l5.4 5.4M494.9 231.9l-5.4 5.4M496.3 231.9h5.6M499.1 229.1v5.6M496.4 229.2l5.4 5.4M501.8 229.2l-5.4 5.4M503.2 229.7h5.6M506 226.9v5.6M503.3 227l5.4 5.4M508.7 227l-5.4 5.4M510.1 228.3h5.6M512.9 225.5v5.6M510.2 225.6l5.4 5.4M515.6 225.6l-5.4 5.4M517 226.5h5.6M519.8 223.7v5.6M517.1 223.8l5.4 5.4M522.5 223.8l-5.4 5.4M523.9 226.1h5.6M526.7 223.3v5.6M524 223.4l5.4 5.4M529.4 223.4l-5.4 5.4M530.8 226.1h5.6M533.6 223.3v5.6M530.9 223.4l5.4 5.4M536.3 223.4l-5.4 5.4M537.7 226.1h5.6M540.5 223.3v5.6M537.8 223.4l5.4 5.4M543.2 223.4l-5.4 5.4M544.6 225.6h5.6M547.4 222.8v5.6M544.7 222.9l5.4 5.4M550.1 222.9l-5.4 5.4M551.5 224.7h5.6M554.3 221.9v5.6M551.6 222l5.4 5.4M557 222l-5.4 5.4M558.4 224.3h5.6M561.2 221.5v5.6M558.5 221.6l5.4 5.4M563.9 221.6l-5.4 5.4M565.3 224.3h5.6M568.1 221.5v5.6M565.4 221.6l5.4 5.4M570.8 221.6l-5.4 5.4M572.2 224.3h5.6M575 221.5v5.6M572.3 221.6l5.4 5.4M577.7 221.6l-5.4 5.4"/></g><path d="M409.5 261.2H575M409.5 236.7H575M409.5 212.2H575M409.5 187.7H575M437.08 285.7V167.8M464.67 285.7V167.8M492.25 285.7V167.8M519.83 285.7V167.8M547.42 285.7V167.8" stroke="#000" stroke-width="1" stroke-dasharray="1.1 2.03" stroke-dashoffset="-0.8" fill="none"/><path d="M437.08 167.8v5M437.08 285.7v-5M464.67 167.8v5M464.67 285.7v-5M492.25 167.8v5M492.25 285.7v-5M519.83 167.8v5M519.83 285.7v-5M547.42 167.8v5M547.42 285.7v-5M423.29 167.8v4M423.29 285.7v-4M450.88 167.8v4M450.88 285.7v-4M478.46 167.8v4M478.46 285.7v-4M506.04 167.8v4M506.04 285.7v-4M533.62 167.8v4M533.62 285.7v-4M561.21 167.8v4M561.21 285.7v-4M409.5 261.2h5M575 261.2h-5M409.5 236.7h5M575 236.7h-5M409.5 212.2h5M575 212.2h-5M409.5 187.7h5M575 187.7h-5M409.5 273.45h4M575 273.45h-4M409.5 248.95h4M575 248.95h-4M409.5 224.45h4M575 224.45h-4M409.5 199.95h4M575 199.95h-4M409.5 175.45h4M575 175.45h-4" stroke="#000000" stroke-width="1" fill="none"/><path d="M409 167.95H576" stroke="#000000" stroke-width="1.9" fill="none"/><path d="M409 285.7H576" stroke="#000000" stroke-width="1.6" fill="none"/><path d="M409.5 167.8V285.7" stroke="#000000" stroke-width="1" fill="none"/><path d="M575.3 167.8V285.7" stroke="#000000" stroke-width="1.4" fill="none"/><g fill="#000000" font-size="9.6" font-weight="bold"><text x="404.8" y="288.8" text-anchor="end">36</text><text x="404.8" y="264.3" text-anchor="end">56</text><text x="404.8" y="239.8" text-anchor="end">76</text><text x="404.8" y="215.3" text-anchor="end">96</text><text x="404.8" y="190.8" text-anchor="end">116</text><text x="409.5" y="296.7" text-anchor="middle">0</text><text x="437.08" y="296.7" text-anchor="middle">4</text><text x="464.67" y="296.7" text-anchor="middle">8</text><text x="492.25" y="296.7" text-anchor="middle">12</text><text x="519.83" y="296.7" text-anchor="middle">16</text><text x="547.42" y="296.7" text-anchor="middle">20</text><text x="575" y="296.7" text-anchor="middle">24</text></g><text clip-path="url(#l12)" x="461.1" y="310.6" textLength="62.9" lengthAdjust="spacingAndGlyphs" fill="#000000" font-size="9.5" font-weight="bold">Sham Shui Po</text><g clip-path="url(#c13)" stroke="#00ffff" fill="none" stroke-width="1.1"><polyline points="602.5,237 609.4,240.1 616.3,243.7 623.2,243.7 630.1,241 637,239.5 643.9,238.8 650.8,238.8 657.7,240.1 664.6,241.3 671.5,242.4 678.4,242.8 685.2,243.2 692.1,243.7 699,243.7 705.9,240.6 712.8,216.5 719.7,203.8 726.6,197.5 733.5,193.5 740.4,190.2 747.3,187.5 754.2,188 761.1,189.8 768,192.4"/><path stroke-width="1.15" d="M599.7 237h5.6M602.5 234.2v5.6M599.8 234.3l5.4 5.4M605.2 234.3l-5.4 5.4M606.6 240.1h5.6M609.4 237.3v5.6M606.7 237.4l5.4 5.4M612.1 237.4l-5.4 5.4M613.5 243.7h5.6M616.3 240.9v5.6M613.6 241l5.4 5.4M619 241l-5.4 5.4M620.4 243.7h5.6M623.2 240.9v5.6M620.5 241l5.4 5.4M625.9 241l-5.4 5.4M627.3 241h5.6M630.1 238.2v5.6M627.4 238.3l5.4 5.4M632.8 238.3l-5.4 5.4M634.2 239.5h5.6M637 236.7v5.6M634.3 236.8l5.4 5.4M639.7 236.8l-5.4 5.4M641.1 238.8h5.6M643.9 236v5.6M641.2 236.1l5.4 5.4M646.6 236.1l-5.4 5.4M648 238.8h5.6M650.8 236v5.6M648.1 236.1l5.4 5.4M653.5 236.1l-5.4 5.4M654.9 240.1h5.6M657.7 237.3v5.6M655 237.4l5.4 5.4M660.4 237.4l-5.4 5.4M661.8 241.3h5.6M664.6 238.5v5.6M661.9 238.6l5.4 5.4M667.3 238.6l-5.4 5.4M668.7 242.4h5.6M671.5 239.6v5.6M668.8 239.7l5.4 5.4M674.2 239.7l-5.4 5.4M675.6 242.8h5.6M678.4 240v5.6M675.7 240.1l5.4 5.4M681.1 240.1l-5.4 5.4M682.5 243.2h5.6M685.2 240.4v5.6M682.5 240.5l5.4 5.4M688 240.5l-5.4 5.4M689.3 243.7h5.6M692.1 240.9v5.6M689.4 241l5.4 5.4M694.8 241l-5.4 5.4M696.2 243.7h5.6M699 240.9v5.6M696.3 241l5.4 5.4M701.7 241l-5.4 5.4M703.1 240.6h5.6M705.9 237.8v5.6M703.2 237.9l5.4 5.4M708.6 237.9l-5.4 5.4M710 216.5h5.6M712.8 213.7v5.6M710.1 213.8l5.4 5.4M715.5 213.8l-5.4 5.4M716.9 203.8h5.6M719.7 201v5.6M717 201.1l5.4 5.4M722.4 201.1l-5.4 5.4M723.8 197.5h5.6M726.6 194.7v5.6M723.9 194.8l5.4 5.4M729.3 194.8l-5.4 5.4M730.7 193.5h5.6M733.5 190.7v5.6M730.8 190.8l5.4 5.4M736.2 190.8l-5.4 5.4M737.6 190.2h5.6M740.4 187.4v5.6M737.7 187.5l5.4 5.4M743.1 187.5l-5.4 5.4M744.5 187.5h5.6M747.3 184.7v5.6M744.6 184.8l5.4 5.4M750 184.8l-5.4 5.4M751.4 188h5.6M754.2 185.2v5.6M751.5 185.3l5.4 5.4M756.9 185.3l-5.4 5.4M758.3 189.8h5.6M761.1 187v5.6M758.4 187.1l5.4 5.4M763.8 187.1l-5.4 5.4M765.2 192.4h5.6M768 189.6v5.6M765.3 189.7l5.4 5.4M770.7 189.7l-5.4 5.4"/></g><g clip-path="url(#c13)" stroke="#00ff00" fill="none" stroke-width="1.1"><polyline points="602.5,192.4 609.4,194.7 616.3,198.9 623.2,204.7 630.1,210.2 637,218.3 643.9,227.4 650.8,237.4 657.7,242.8 664.6,244.6 671.5,244.6 678.4,242.8 685.2,239.2 692.1,230.1 699,218.3 705.9,206.9 712.8,199.6 719.7,194.2 726.6,190.2 733.5,186.6 740.4,185.1 747.3,191.1 754.2,196.5 761.1,202.5 768,208.3"/><path stroke-width="1.15" d="M599.7 192.4h5.6M602.5 189.6v5.6M599.8 189.7l5.4 5.4M605.2 189.7l-5.4 5.4M606.6 194.7h5.6M609.4 191.9v5.6M606.7 192l5.4 5.4M612.1 192l-5.4 5.4M613.5 198.9h5.6M616.3 196.1v5.6M613.6 196.2l5.4 5.4M619 196.2l-5.4 5.4M620.4 204.7h5.6M623.2 201.9v5.6M620.5 202l5.4 5.4M625.9 202l-5.4 5.4M627.3 210.2h5.6M630.1 207.4v5.6M627.4 207.5l5.4 5.4M632.8 207.5l-5.4 5.4M634.2 218.3h5.6M637 215.5v5.6M634.3 215.6l5.4 5.4M639.7 215.6l-5.4 5.4M641.1 227.4h5.6M643.9 224.6v5.6M641.2 224.7l5.4 5.4M646.6 224.7l-5.4 5.4M648 237.4h5.6M650.8 234.6v5.6M648.1 234.7l5.4 5.4M653.5 234.7l-5.4 5.4M654.9 242.8h5.6M657.7 240v5.6M655 240.1l5.4 5.4M660.4 240.1l-5.4 5.4M661.8 244.6h5.6M664.6 241.8v5.6M661.9 241.9l5.4 5.4M667.3 241.9l-5.4 5.4M668.7 244.6h5.6M671.5 241.8v5.6M668.8 241.9l5.4 5.4M674.2 241.9l-5.4 5.4M675.6 242.8h5.6M678.4 240v5.6M675.7 240.1l5.4 5.4M681.1 240.1l-5.4 5.4M682.5 239.2h5.6M685.2 236.4v5.6M682.5 236.5l5.4 5.4M688 236.5l-5.4 5.4M689.3 230.1h5.6M692.1 227.3v5.6M689.4 227.4l5.4 5.4M694.8 227.4l-5.4 5.4M696.2 218.3h5.6M699 215.5v5.6M696.3 215.6l5.4 5.4M701.7 215.6l-5.4 5.4M703.1 206.9h5.6M705.9 204.1v5.6M703.2 204.2l5.4 5.4M708.6 204.2l-5.4 5.4M710 199.6h5.6M712.8 196.8v5.6M710.1 196.9l5.4 5.4M715.5 196.9l-5.4 5.4M716.9 194.2h5.6M719.7 191.4v5.6M717 191.5l5.4 5.4M722.4 191.5l-5.4 5.4M723.8 190.2h5.6M726.6 187.4v5.6M723.9 187.5l5.4 5.4M729.3 187.5l-5.4 5.4M730.7 186.6h5.6M733.5 183.8v5.6M730.8 183.9l5.4 5.4M736.2 183.9l-5.4 5.4M737.6 185.1h5.6M740.4 182.3v5.6M737.7 182.4l5.4 5.4M743.1 182.4l-5.4 5.4M744.5 191.1h5.6M747.3 188.3v5.6M744.6 188.4l5.4 5.4M750 188.4l-5.4 5.4M751.4 196.5h5.6M754.2 193.7v5.6M751.5 193.8l5.4 5.4M756.9 193.8l-5.4 5.4M758.3 202.5h5.6M761.1 199.7v5.6M758.4 199.8l5.4 5.4M763.8 199.8l-5.4 5.4M765.2 208.3h5.6M768 205.5v5.6M765.3 205.6l5.4 5.4M770.7 205.6l-5.4 5.4"/></g><g clip-path="url(#c13)" stroke="#0000ff" fill="none" stroke-width="1.1"><polyline points="602.5,207.4 609.4,214.7 616.3,222.5 623.2,232.3 630.1,241.3 637,247.3 643.9,254.6 650.8,264.9 657.7,275.1 664.6,278.2 671.5,280.5 678.4,281.8 685.2,282.7 692.1,283.1 699,283.1 705.9,277.6 712.8,269.6 719.7,254.6 726.6,242.4 733.5,237 740.4,238.8 747.3,241 754.2,245.5 761.1,255.1 768,266.7"/><path stroke-width="1.15" d="M599.7 207.4h5.6M602.5 204.6v5.6M599.8 204.7l5.4 5.4M605.2 204.7l-5.4 5.4M606.6 214.7h5.6M609.4 211.9v5.6M606.7 212l5.4 5.4M612.1 212l-5.4 5.4M613.5 222.5h5.6M616.3 219.7v5.6M613.6 219.8l5.4 5.4M619 219.8l-5.4 5.4M620.4 232.3h5.6M623.2 229.5v5.6M620.5 229.6l5.4 5.4M625.9 229.6l-5.4 5.4M627.3 241.3h5.6M630.1 238.5v5.6M627.4 238.6l5.4 5.4M632.8 238.6l-5.4 5.4M634.2 247.3h5.6M637 244.5v5.6M634.3 244.6l5.4 5.4M639.7 244.6l-5.4 5.4M641.1 254.6h5.6M643.9 251.8v5.6M641.2 251.9l5.4 5.4M646.6 251.9l-5.4 5.4M648 264.9h5.6M650.8 262.1v5.6M648.1 262.2l5.4 5.4M653.5 262.2l-5.4 5.4M654.9 275.1h5.6M657.7 272.3v5.6M655 272.4l5.4 5.4M660.4 272.4l-5.4 5.4M661.8 278.2h5.6M664.6 275.4v5.6M661.9 275.5l5.4 5.4M667.3 275.5l-5.4 5.4M668.7 280.5h5.6M671.5 277.7v5.6M668.8 277.8l5.4 5.4M674.2 277.8l-5.4 5.4M675.6 281.8h5.6M678.4 279v5.6M675.7 279.1l5.4 5.4M681.1 279.1l-5.4 5.4M682.5 282.7h5.6M685.2 279.9v5.6M682.5 280l5.4 5.4M688 280l-5.4 5.4M689.3 283.1h5.6M692.1 280.3v5.6M689.4 280.4l5.4 5.4M694.8 280.4l-5.4 5.4M696.2 283.1h5.6M699 280.3v5.6M696.3 280.4l5.4 5.4M701.7 280.4l-5.4 5.4M703.1 277.6h5.6M705.9 274.8v5.6M703.2 274.9l5.4 5.4M708.6 274.9l-5.4 5.4M710 269.6h5.6M712.8 266.8v5.6M710.1 266.9l5.4 5.4M715.5 266.9l-5.4 5.4M716.9 254.6h5.6M719.7 251.8v5.6M717 251.9l5.4 5.4M722.4 251.9l-5.4 5.4M723.8 242.4h5.6M726.6 239.6v5.6M723.9 239.7l5.4 5.4M729.3 239.7l-5.4 5.4M730.7 237h5.6M733.5 234.2v5.6M730.8 234.3l5.4 5.4M736.2 234.3l-5.4 5.4M737.6 238.8h5.6M740.4 236v5.6M737.7 236.1l5.4 5.4M743.1 236.1l-5.4 5.4M744.5 241h5.6M747.3 238.2v5.6M744.6 238.3l5.4 5.4M750 238.3l-5.4 5.4M751.4 245.5h5.6M754.2 242.7v5.6M751.5 242.8l5.4 5.4M756.9 242.8l-5.4 5.4M758.3 255.1h5.6M761.1 252.3v5.6M758.4 252.4l5.4 5.4M763.8 252.4l-5.4 5.4M765.2 266.7h5.6M768 263.9v5.6M765.3 264l5.4 5.4M770.7 264l-5.4 5.4"/></g><g clip-path="url(#c13)" stroke="#ff0000" fill="none" stroke-width="1.1"><polyline points="602.5,267.3 609.4,274.5 616.3,277.2 623.2,275.8 630.1,274.5 637,272.7 643.9,271.8 650.8,270.9 657.7,271.8 664.6,272.7 671.5,272.2 678.4,270.9 685.2,270 692.1,269.1 699,267.8 705.9,265.5 712.8,261.8 719.7,257.3 726.6,252.8 733.5,249.7 740.4,246.8 747.3,245 754.2,242.8 761.1,242.8 768,245"/><path stroke-width="1.15" d="M599.7 267.3h5.6M602.5 264.5v5.6M599.8 264.6l5.4 5.4M605.2 264.6l-5.4 5.4M606.6 274.5h5.6M609.4 271.7v5.6M606.7 271.8l5.4 5.4M612.1 271.8l-5.4 5.4M613.5 277.2h5.6M616.3 274.4v5.6M613.6 274.5l5.4 5.4M619 274.5l-5.4 5.4M620.4 275.8h5.6M623.2 273v5.6M620.5 273.1l5.4 5.4M625.9 273.1l-5.4 5.4M627.3 274.5h5.6M630.1 271.7v5.6M627.4 271.8l5.4 5.4M632.8 271.8l-5.4 5.4M634.2 272.7h5.6M637 269.9v5.6M634.3 270l5.4 5.4M639.7 270l-5.4 5.4M641.1 271.8h5.6M643.9 269v5.6M641.2 269.1l5.4 5.4M646.6 269.1l-5.4 5.4M648 270.9h5.6M650.8 268.1v5.6M648.1 268.2l5.4 5.4M653.5 268.2l-5.4 5.4M654.9 271.8h5.6M657.7 269v5.6M655 269.1l5.4 5.4M660.4 269.1l-5.4 5.4M661.8 272.7h5.6M664.6 269.9v5.6M661.9 270l5.4 5.4M667.3 270l-5.4 5.4M668.7 272.2h5.6M671.5 269.4v5.6M668.8 269.5l5.4 5.4M674.2 269.5l-5.4 5.4M675.6 270.9h5.6M678.4 268.1v5.6M675.7 268.2l5.4 5.4M681.1 268.2l-5.4 5.4M682.5 270h5.6M685.2 267.2v5.6M682.5 267.3l5.4 5.4M688 267.3l-5.4 5.4M689.3 269.1h5.6M692.1 266.3v5.6M689.4 266.4l5.4 5.4M694.8 266.4l-5.4 5.4M696.2 267.8h5.6M699 265v5.6M696.3 265.1l5.4 5.4M701.7 265.1l-5.4 5.4M703.1 265.5h5.6M705.9 262.7v5.6M703.2 262.8l5.4 5.4M708.6 262.8l-5.4 5.4M710 261.8h5.6M712.8 259v5.6M710.1 259.1l5.4 5.4M715.5 259.1l-5.4 5.4M716.9 257.3h5.6M719.7 254.5v5.6M717 254.6l5.4 5.4M722.4 254.6l-5.4 5.4M723.8 252.8h5.6M726.6 250v5.6M723.9 250.1l5.4 5.4M729.3 250.1l-5.4 5.4M730.7 249.7h5.6M733.5 246.9v5.6M730.8 247l5.4 5.4M736.2 247l-5.4 5.4M737.6 246.8h5.6M740.4 244v5.6M737.7 244.1l5.4 5.4M743.1 244.1l-5.4 5.4M744.5 245h5.6M747.3 242.2v5.6M744.6 242.3l5.4 5.4M750 242.3l-5.4 5.4M751.4 242.8h5.6M754.2 240v5.6M751.5 240.1l5.4 5.4M756.9 240.1l-5.4 5.4M758.3 242.8h5.6M761.1 240v5.6M758.4 240.1l5.4 5.4M763.8 240.1l-5.4 5.4M765.2 245h5.6M768 242.2v5.6M765.3 242.3l5.4 5.4M770.7 242.3l-5.4 5.4"/></g><path d="M602.5 261.2H768M602.5 236.7H768M602.5 212.2H768M602.5 187.7H768M630.08 285.7V167.8M657.67 285.7V167.8M685.25 285.7V167.8M712.83 285.7V167.8M740.42 285.7V167.8" stroke="#000" stroke-width="1" stroke-dasharray="1.1 2.03" stroke-dashoffset="-0.8" fill="none"/><path d="M630.08 167.8v5M630.08 285.7v-5M657.67 167.8v5M657.67 285.7v-5M685.25 167.8v5M685.25 285.7v-5M712.83 167.8v5M712.83 285.7v-5M740.42 167.8v5M740.42 285.7v-5M616.29 167.8v4M616.29 285.7v-4M643.88 167.8v4M643.88 285.7v-4M671.46 167.8v4M671.46 285.7v-4M699.04 167.8v4M699.04 285.7v-4M726.62 167.8v4M726.62 285.7v-4M754.21 167.8v4M754.21 285.7v-4M602.5 261.2h5M768 261.2h-5M602.5 236.7h5M768 236.7h-5M602.5 212.2h5M768 212.2h-5M602.5 187.7h5M768 187.7h-5M602.5 273.45h4M768 273.45h-4M602.5 248.95h4M768 248.95h-4M602.5 224.45h4M768 224.45h-4M602.5 199.95h4M768 199.95h-4M602.5 175.45h4M768 175.45h-4" stroke="#000000" stroke-width="1" fill="none"/><path d="M602 167.95H769" stroke="#000000" stroke-width="1.9" fill="none"/><path d="M602 285.7H769" stroke="#000000" stroke-width="1.6" fill="none"/><path d="M602.5 167.8V285.7" stroke="#000000" stroke-width="1" fill="none"/><path d="M768.3 167.8V285.7" stroke="#000000" stroke-width="1.4" fill="none"/><g fill="#000000" font-size="9.6" font-weight="bold"><text x="597.8" y="288.8" text-anchor="end">36</text><text x="597.8" y="264.3" text-anchor="end">56</text><text x="597.8" y="239.8" text-anchor="end">76</text><text x="597.8" y="215.3" text-anchor="end">96</text><text x="597.8" y="190.8" text-anchor="end">116</text><text x="602.5" y="296.7" text-anchor="middle">0</text><text x="630.08" y="296.7" text-anchor="middle">4</text><text x="657.67" y="296.7" text-anchor="middle">8</text><text x="685.25" y="296.7" text-anchor="middle">12</text><text x="712.83" y="296.7" text-anchor="middle">16</text><text x="740.42" y="296.7" text-anchor="middle">20</text><text x="768" y="296.7" text-anchor="middle">24</text></g><text clip-path="url(#l13)" x="668.75" y="310.6" textLength="33.6" lengthAdjust="spacingAndGlyphs" fill="#000000" font-size="9.5" font-weight="bold">Sha Tin</text><path d="M23.5 409.2H189M23.5 384.7H189M23.5 360.2H189M23.5 335.7H189M51.08 433.7V315.8M78.67 433.7V315.8M106.25 433.7V315.8M133.83 433.7V315.8M161.42 433.7V315.8" stroke="#000" stroke-width="1" stroke-dasharray="1.1 2.03" stroke-dashoffset="-0.8" fill="none"/><path d="M51.08 315.8v5M51.08 433.7v-5M78.67 315.8v5M78.67 433.7v-5M106.25 315.8v5M106.25 433.7v-5M133.83 315.8v5M133.83 433.7v-5M161.42 315.8v5M161.42 433.7v-5M37.29 315.8v4M37.29 433.7v-4M64.88 315.8v4M64.88 433.7v-4M92.46 315.8v4M92.46 433.7v-4M120.04 315.8v4M120.04 433.7v-4M147.62 315.8v4M147.62 433.7v-4M175.21 315.8v4M175.21 433.7v-4M23.5 409.2h5M189 409.2h-5M23.5 384.7h5M189 384.7h-5M23.5 360.2h5M189 360.2h-5M23.5 335.7h5M189 335.7h-5M23.5 421.45h4M189 421.45h-4M23.5 396.95h4M189 396.95h-4M23.5 372.45h4M189 372.45h-4M23.5 347.95h4M189 347.95h-4M23.5 323.45h4M189 323.45h-4" stroke="#000000" stroke-width="1" fill="none"/><path d="M23 315.95H190" stroke="#000000" stroke-width="1.9" fill="none"/><path d="M23 433.7H190" stroke="#000000" stroke-width="1.6" fill="none"/><path d="M23.5 315.8V433.7" stroke="#000000" stroke-width="1" fill="none"/><path d="M189.3 315.8V433.7" stroke="#000000" stroke-width="1.4" fill="none"/><g fill="#000000" font-size="9.6" font-weight="bold"><text x="18.8" y="436.8" text-anchor="end">36</text><text x="18.8" y="412.3" text-anchor="end">56</text><text x="18.8" y="387.8" text-anchor="end">76</text><text x="18.8" y="363.3" text-anchor="end">96</text><text x="18.8" y="338.8" text-anchor="end">116</text><text x="23.5" y="444.7" text-anchor="middle">0</text><text x="51.08" y="444.7" text-anchor="middle">4</text><text x="78.67" y="444.7" text-anchor="middle">8</text><text x="106.25" y="444.7" text-anchor="middle">12</text><text x="133.83" y="444.7" text-anchor="middle">16</text><text x="161.42" y="444.7" text-anchor="middle">20</text><text x="189" y="444.7" text-anchor="middle">24</text></g><text clip-path="url(#l20)" x="66.55" y="458.6" textLength="80" lengthAdjust="spacingAndGlyphs" fill="#000000" font-size="9.5" font-weight="bold">Airport, Sha Chau</text><g clip-path="url(#c21)" stroke="#00ffff" fill="none" stroke-width="1.1"><polyline points="216.5,353.6 223.4,356.3 230.3,361.8 237.2,362.7 244.1,363.2 251,363.6 257.9,364.5 264.8,366.3 271.7,369 278.6,372.7 285.5,374.5 292.4,376.6 299.2,379 306.1,381.7 313,383.2 319.9,387.2 326.8,384.4 333.7,379.9 340.6,376.6 347.5,375.4 354.4,374.5 361.3,374.5 368.2,374.5 375.1,376.6 382,380.8"/><path stroke-width="1.15" d="M213.7 353.6h5.6M216.5 350.8v5.6M213.8 350.9l5.4 5.4M219.2 350.9l-5.4 5.4M220.6 356.3h5.6M223.4 353.5v5.6M220.7 353.6l5.4 5.4M226.1 353.6l-5.4 5.4M227.5 361.8h5.6M230.3 359v5.6M227.6 359.1l5.4 5.4M233 359.1l-5.4 5.4M234.4 362.7h5.6M237.2 359.9v5.6M234.5 360l5.4 5.4M239.9 360l-5.4 5.4M241.3 363.2h5.6M244.1 360.4v5.6M241.4 360.5l5.4 5.4M246.8 360.5l-5.4 5.4M248.2 363.6h5.6M251 360.8v5.6M248.3 360.9l5.4 5.4M253.7 360.9l-5.4 5.4M255.1 364.5h5.6M257.9 361.7v5.6M255.2 361.8l5.4 5.4M260.6 361.8l-5.4 5.4M262 366.3h5.6M264.8 363.5v5.6M262.1 363.6l5.4 5.4M267.5 363.6l-5.4 5.4M268.9 369h5.6M271.7 366.2v5.6M269 366.3l5.4 5.4M274.4 366.3l-5.4 5.4M275.8 372.7h5.6M278.6 369.9v5.6M275.9 370l5.4 5.4M281.3 370l-5.4 5.4M282.7 374.5h5.6M285.5 371.7v5.6M282.8 371.8l5.4 5.4M288.2 371.8l-5.4 5.4M289.6 376.6h5.6M292.4 373.8v5.6M289.7 373.9l5.4 5.4M295.1 373.9l-5.4 5.4M296.4 379h5.6M299.2 376.2v5.6M296.6 376.3l5.4 5.4M301.9 376.3l-5.4 5.4M303.3 381.7h5.6M306.1 378.9v5.6M303.4 379l5.4 5.4M308.8 379l-5.4 5.4M310.2 383.2h5.6M313 380.4v5.6M310.3 380.5l5.4 5.4M315.7 380.5l-5.4 5.4M317.1 387.2h5.6M319.9 384.4v5.6M317.2 384.5l5.4 5.4M322.6 384.5l-5.4 5.4M324 384.4h5.6M326.8 381.6v5.6M324.1 381.7l5.4 5.4M329.5 381.7l-5.4 5.4M330.9 379.9h5.6M333.7 377.1v5.6M331 377.2l5.4 5.4M336.4 377.2l-5.4 5.4M337.8 376.6h5.6M340.6 373.8v5.6M337.9 373.9l5.4 5.4M343.3 373.9l-5.4 5.4M344.7 375.4h5.6M347.5 372.6v5.6M344.8 372.7l5.4 5.4M350.2 372.7l-5.4 5.4M351.6 374.5h5.6M354.4 371.7v5.6M351.7 371.8l5.4 5.4M357.1 371.8l-5.4 5.4M358.5 374.5h5.6M361.3 371.7v5.6M358.6 371.8l5.4 5.4M364 371.8l-5.4 5.4M365.4 374.5h5.6M368.2 371.7v5.6M365.5 371.8l5.4 5.4M370.9 371.8l-5.4 5.4M372.3 376.6h5.6M375.1 373.8v5.6M372.4 373.9l5.4 5.4M377.8 373.9l-5.4 5.4M379.2 380.8h5.6M382 378v5.6M379.3 378.1l5.4 5.4M384.7 378.1l-5.4 5.4"/></g><g clip-path="url(#c21)" stroke="#00ff00" fill="none" stroke-width="1.1"><polyline points="216.5,380.3 223.4,383.2 230.3,385.4 237.2,388.1 244.1,389.9 251,391.7 257.9,392.6 264.8,393.5 271.7,396.6 278.6,400.2 285.5,405.3 292.4,409.8 299.2,408.6 306.1,408.6 313,408.6 319.9,405.7 326.8,403.9 333.7,400.8 340.6,398.4 347.5,395.3 354.4,399.9 361.3,400.2 368.2,399.5 375.1,398 382,397.7"/><path stroke-width="1.15" d="M213.7 380.3h5.6M216.5 377.5v5.6M213.8 377.6l5.4 5.4M219.2 377.6l-5.4 5.4M220.6 383.2h5.6M223.4 380.4v5.6M220.7 380.5l5.4 5.4M226.1 380.5l-5.4 5.4M227.5 385.4h5.6M230.3 382.6v5.6M227.6 382.7l5.4 5.4M233 382.7l-5.4 5.4M234.4 388.1h5.6M237.2 385.3v5.6M234.5 385.4l5.4 5.4M239.9 385.4l-5.4 5.4M241.3 389.9h5.6M244.1 387.1v5.6M241.4 387.2l5.4 5.4M246.8 387.2l-5.4 5.4M248.2 391.7h5.6M251 388.9v5.6M248.3 389l5.4 5.4M253.7 389l-5.4 5.4M255.1 392.6h5.6M257.9 389.8v5.6M255.2 389.9l5.4 5.4M260.6 389.9l-5.4 5.4M262 393.5h5.6M264.8 390.7v5.6M262.1 390.8l5.4 5.4M267.5 390.8l-5.4 5.4M268.9 396.6h5.6M271.7 393.8v5.6M269 393.9l5.4 5.4M274.4 393.9l-5.4 5.4M275.8 400.2h5.6M278.6 397.4v5.6M275.9 397.5l5.4 5.4M281.3 397.5l-5.4 5.4M282.7 405.3h5.6M285.5 402.5v5.6M282.8 402.6l5.4 5.4M288.2 402.6l-5.4 5.4M289.6 409.8h5.6M292.4 407v5.6M289.7 407.1l5.4 5.4M295.1 407.1l-5.4 5.4M296.4 408.6h5.6M299.2 405.8v5.6M296.6 405.9l5.4 5.4M301.9 405.9l-5.4 5.4M303.3 408.6h5.6M306.1 405.8v5.6M303.4 405.9l5.4 5.4M308.8 405.9l-5.4 5.4M310.2 408.6h5.6M313 405.8v5.6M310.3 405.9l5.4 5.4M315.7 405.9l-5.4 5.4M317.1 405.7h5.6M319.9 402.9v5.6M317.2 403l5.4 5.4M322.6 403l-5.4 5.4M324 403.9h5.6M326.8 401.1v5.6M324.1 401.2l5.4 5.4M329.5 401.2l-5.4 5.4M330.9 400.8h5.6M333.7 398v5.6M331 398.1l5.4 5.4M336.4 398.1l-5.4 5.4M337.8 398.4h5.6M340.6 395.6v5.6M337.9 395.7l5.4 5.4M343.3 395.7l-5.4 5.4M344.7 395.3h5.6M347.5 392.5v5.6M344.8 392.6l5.4 5.4M350.2 392.6l-5.4 5.4M351.6 399.9h5.6M354.4 397.1v5.6M351.7 397.2l5.4 5.4M357.1 397.2l-5.4 5.4M358.5 400.2h5.6M361.3 397.4v5.6M358.6 397.5l5.4 5.4M364 397.5l-5.4 5.4M365.4 399.5h5.6M368.2 396.7v5.6M365.5 396.8l5.4 5.4M370.9 396.8l-5.4 5.4M372.3 398h5.6M375.1 395.2v5.6M372.4 395.3l5.4 5.4M377.8 395.3l-5.4 5.4M379.2 397.7h5.6M382 394.9v5.6M379.3 395l5.4 5.4M384.7 395l-5.4 5.4"/></g><g clip-path="url(#c21)" stroke="#0000ff" fill="none" stroke-width="1.1"><polyline points="216.5,397.7 223.4,397.1 230.3,396.6 237.2,396.6 244.1,397.1 251,397.7 257.9,397.7 264.8,396.6 271.7,396.6 278.6,397.7 285.5,399.5 292.4,401.3 299.2,399.9 306.1,399.5 313,399.9 319.9,399.9 326.8,400.2 333.7,401.3 340.6,400.8 347.5,402.6 354.4,404.9 361.3,405.7 368.2,405.3 375.1,403.5 382,401.3"/><path stroke-width="1.15" d="M213.7 397.7h5.6M216.5 394.9v5.6M213.8 395l5.4 5.4M219.2 395l-5.4 5.4M220.6 397.1h5.6M223.4 394.3v5.6M220.7 394.4l5.4 5.4M226.1 394.4l-5.4 5.4M227.5 396.6h5.6M230.3 393.8v5.6M227.6 393.9l5.4 5.4M233 393.9l-5.4 5.4M234.4 396.6h5.6M237.2 393.8v5.6M234.5 393.9l5.4 5.4M239.9 393.9l-5.4 5.4M241.3 397.1h5.6M244.1 394.3v5.6M241.4 394.4l5.4 5.4M246.8 394.4l-5.4 5.4M248.2 397.7h5.6M251 394.9v5.6M248.3 395l5.4 5.4M253.7 395l-5.4 5.4M255.1 397.7h5.6M257.9 394.9v5.6M255.2 395l5.4 5.4M260.6 395l-5.4 5.4M262 396.6h5.6M264.8 393.8v5.6M262.1 393.9l5.4 5.4M267.5 393.9l-5.4 5.4M268.9 396.6h5.6M271.7 393.8v5.6M269 393.9l5.4 5.4M274.4 393.9l-5.4 5.4M275.8 397.7h5.6M278.6 394.9v5.6M275.9 395l5.4 5.4M281.3 395l-5.4 5.4M282.7 399.5h5.6M285.5 396.7v5.6M282.8 396.8l5.4 5.4M288.2 396.8l-5.4 5.4M289.6 401.3h5.6M292.4 398.5v5.6M289.7 398.6l5.4 5.4M295.1 398.6l-5.4 5.4M296.4 399.9h5.6M299.2 397.1v5.6M296.6 397.2l5.4 5.4M301.9 397.2l-5.4 5.4M303.3 399.5h5.6M306.1 396.7v5.6M303.4 396.8l5.4 5.4M308.8 396.8l-5.4 5.4M310.2 399.9h5.6M313 397.1v5.6M310.3 397.2l5.4 5.4M315.7 397.2l-5.4 5.4M317.1 399.9h5.6M319.9 397.1v5.6M317.2 397.2l5.4 5.4M322.6 397.2l-5.4 5.4M324 400.2h5.6M326.8 397.4v5.6M324.1 397.5l5.4 5.4M329.5 397.5l-5.4 5.4M330.9 401.3h5.6M333.7 398.5v5.6M331 398.6l5.4 5.4M336.4 398.6l-5.4 5.4M337.8 400.8h5.6M340.6 398v5.6M337.9 398.1l5.4 5.4M343.3 398.1l-5.4 5.4M344.7 402.6h5.6M347.5 399.8v5.6M344.8 399.9l5.4 5.4M350.2 399.9l-5.4 5.4M351.6 404.9h5.6M354.4 402.1v5.6M351.7 402.2l5.4 5.4M357.1 402.2l-5.4 5.4M358.5 405.7h5.6M361.3 402.9v5.6M358.6 403l5.4 5.4M364 403l-5.4 5.4M365.4 405.3h5.6M368.2 402.5v5.6M365.5 402.6l5.4 5.4M370.9 402.6l-5.4 5.4M372.3 403.5h5.6M375.1 400.7v5.6M372.4 400.8l5.4 5.4M377.8 400.8l-5.4 5.4M379.2 401.3h5.6M382 398.5v5.6M379.3 398.6l5.4 5.4M384.7 398.6l-5.4 5.4"/></g><g clip-path="url(#c21)" stroke="#ff0000" fill="none" stroke-width="1.1"><polyline points="216.5,400.8 223.4,399 230.3,398 237.2,396.2 244.1,394.4 251,392.2 257.9,390.8 264.8,389.3 271.7,385.7 278.6,382.6 285.5,381.7 292.4,380.8 299.2,380.8 306.1,379.9 313,375.4 319.9,374.1 326.8,369.4 333.7,369.4 340.6,369.4 347.5,369.4 354.4,369.4 361.3,369.4 368.2,367.2 375.1,369 382,370.5"/><path stroke-width="1.15" d="M213.7 400.8h5.6M216.5 398v5.6M213.8 398.1l5.4 5.4M219.2 398.1l-5.4 5.4M220.6 399h5.6M223.4 396.2v5.6M220.7 396.3l5.4 5.4M226.1 396.3l-5.4 5.4M227.5 398h5.6M230.3 395.2v5.6M227.6 395.3l5.4 5.4M233 395.3l-5.4 5.4M234.4 396.2h5.6M237.2 393.4v5.6M234.5 393.5l5.4 5.4M239.9 393.5l-5.4 5.4M241.3 394.4h5.6M244.1 391.6v5.6M241.4 391.7l5.4 5.4M246.8 391.7l-5.4 5.4M248.2 392.2h5.6M251 389.4v5.6M248.3 389.5l5.4 5.4M253.7 389.5l-5.4 5.4M255.1 390.8h5.6M257.9 388v5.6M255.2 388.1l5.4 5.4M260.6 388.1l-5.4 5.4M262 389.3h5.6M264.8 386.5v5.6M262.1 386.6l5.4 5.4M267.5 386.6l-5.4 5.4M268.9 385.7h5.6M271.7 382.9v5.6M269 383l5.4 5.4M274.4 383l-5.4 5.4M275.8 382.6h5.6M278.6 379.8v5.6M275.9 379.9l5.4 5.4M281.3 379.9l-5.4 5.4M282.7 381.7h5.6M285.5 378.9v5.6M282.8 379l5.4 5.4M288.2 379l-5.4 5.4M289.6 380.8h5.6M292.4 378v5.6M289.7 378.1l5.4 5.4M295.1 378.1l-5.4 5.4M296.4 380.8h5.6M299.2 378v5.6M296.6 378.1l5.4 5.4M301.9 378.1l-5.4 5.4M303.3 379.9h5.6M306.1 377.1v5.6M303.4 377.2l5.4 5.4M308.8 377.2l-5.4 5.4M310.2 375.4h5.6M313 372.6v5.6M310.3 372.7l5.4 5.4M315.7 372.7l-5.4 5.4M317.1 374.1h5.6M319.9 371.3v5.6M317.2 371.4l5.4 5.4M322.6 371.4l-5.4 5.4M324 369.4h5.6M326.8 366.6v5.6M324.1 366.7l5.4 5.4M329.5 366.7l-5.4 5.4M330.9 369.4h5.6M333.7 366.6v5.6M331 366.7l5.4 5.4M336.4 366.7l-5.4 5.4M337.8 369.4h5.6M340.6 366.6v5.6M337.9 366.7l5.4 5.4M343.3 366.7l-5.4 5.4M344.7 369.4h5.6M347.5 366.6v5.6M344.8 366.7l5.4 5.4M350.2 366.7l-5.4 5.4M351.6 369.4h5.6M354.4 366.6v5.6M351.7 366.7l5.4 5.4M357.1 366.7l-5.4 5.4M358.5 369.4h5.6M361.3 366.6v5.6M358.6 366.7l5.4 5.4M364 366.7l-5.4 5.4M365.4 367.2h5.6M368.2 364.4v5.6M365.5 364.5l5.4 5.4M370.9 364.5l-5.4 5.4M372.3 369h5.6M375.1 366.2v5.6M372.4 366.3l5.4 5.4M377.8 366.3l-5.4 5.4M379.2 370.5h5.6M382 367.7v5.6M379.3 367.8l5.4 5.4M384.7 367.8l-5.4 5.4"/></g><path d="M216.5 409.2H382M216.5 384.7H382M216.5 360.2H382M216.5 335.7H382M244.08 433.7V315.8M271.67 433.7V315.8M299.25 433.7V315.8M326.83 433.7V315.8M354.42 433.7V315.8" stroke="#000" stroke-width="1" stroke-dasharray="1.1 2.03" stroke-dashoffset="-0.8" fill="none"/><path d="M244.08 315.8v5M244.08 433.7v-5M271.67 315.8v5M271.67 433.7v-5M299.25 315.8v5M299.25 433.7v-5M326.83 315.8v5M326.83 433.7v-5M354.42 315.8v5M354.42 433.7v-5M230.29 315.8v4M230.29 433.7v-4M257.88 315.8v4M257.88 433.7v-4M285.46 315.8v4M285.46 433.7v-4M313.04 315.8v4M313.04 433.7v-4M340.62 315.8v4M340.62 433.7v-4M368.21 315.8v4M368.21 433.7v-4M216.5 409.2h5M382 409.2h-5M216.5 384.7h5M382 384.7h-5M216.5 360.2h5M382 360.2h-5M216.5 335.7h5M382 335.7h-5M216.5 421.45h4M382 421.45h-4M216.5 396.95h4M382 396.95h-4M216.5 372.45h4M382 372.45h-4M216.5 347.95h4M382 347.95h-4M216.5 323.45h4M382 323.45h-4" stroke="#000000" stroke-width="1" fill="none"/><path d="M216 315.95H383" stroke="#000000" stroke-width="1.9" fill="none"/><path d="M216 433.7H383" stroke="#000000" stroke-width="1.6" fill="none"/><path d="M216.5 315.8V433.7" stroke="#000000" stroke-width="1" fill="none"/><path d="M382.3 315.8V433.7" stroke="#000000" stroke-width="1.4" fill="none"/><g fill="#000000" font-size="9.6" font-weight="bold"><text x="211.8" y="436.8" text-anchor="end">36</text><text x="211.8" y="412.3" text-anchor="end">56</text><text x="211.8" y="387.8" text-anchor="end">76</text><text x="211.8" y="363.3" text-anchor="end">96</text><text x="211.8" y="338.8" text-anchor="end">116</text><text x="216.5" y="444.7" text-anchor="middle">0</text><text x="244.08" y="444.7" text-anchor="middle">4</text><text x="271.67" y="444.7" text-anchor="middle">8</text><text x="299.25" y="444.7" text-anchor="middle">12</text><text x="326.83" y="444.7" text-anchor="middle">16</text><text x="354.42" y="444.7" text-anchor="middle">20</text><text x="382" y="444.7" text-anchor="middle">24</text></g><text clip-path="url(#l21)" x="273.05" y="458.6" textLength="53" lengthAdjust="spacingAndGlyphs" fill="#000000" font-size="9.5" font-weight="bold">Kwai Chung</text><g clip-path="url(#c22)" stroke="#00ffff" fill="none" stroke-width="1.1"><polyline points="409.5,330.9 416.4,330.6 423.3,330.6 430.2,330.6 437.1,330.6 444,331.3 450.9,331.3 457.8,331.3 464.7,331.3 471.6,331.9 478.5,332.8 485.4,333.7 492.2,335.5 499.1,336.8 506,337.8 512.9,339.1 519.8,340.9 526.7,344 533.6,346.4 540.5,348.2 547.4,350 554.3,351.3 561.2,352.3 568.1,352.7 575,353.1"/><path stroke-width="1.15" d="M406.7 330.9h5.6M409.5 328.1v5.6M406.8 328.2l5.4 5.4M412.2 328.2l-5.4 5.4M413.6 330.6h5.6M416.4 327.8v5.6M413.7 327.9l5.4 5.4M419.1 327.9l-5.4 5.4M420.5 330.6h5.6M423.3 327.8v5.6M420.6 327.9l5.4 5.4M426 327.9l-5.4 5.4M427.4 330.6h5.6M430.2 327.8v5.6M427.5 327.9l5.4 5.4M432.9 327.9l-5.4 5.4M434.3 330.6h5.6M437.1 327.8v5.6M434.4 327.9l5.4 5.4M439.8 327.9l-5.4 5.4M441.2 331.3h5.6M444 328.5v5.6M441.3 328.6l5.4 5.4M446.7 328.6l-5.4 5.4M448.1 331.3h5.6M450.9 328.5v5.6M448.2 328.6l5.4 5.4M453.6 328.6l-5.4 5.4M455 331.3h5.6M457.8 328.5v5.6M455.1 328.6l5.4 5.4M460.5 328.6l-5.4 5.4M461.9 331.3h5.6M464.7 328.5v5.6M462 328.6l5.4 5.4M467.4 328.6l-5.4 5.4M468.8 331.9h5.6M471.6 329.1v5.6M468.9 329.2l5.4 5.4M474.3 329.2l-5.4 5.4M475.7 332.8h5.6M478.5 330v5.6M475.8 330.1l5.4 5.4M481.2 330.1l-5.4 5.4M482.6 333.7h5.6M485.4 330.9v5.6M482.7 331l5.4 5.4M488.1 331l-5.4 5.4M489.4 335.5h5.6M492.2 332.7v5.6M489.6 332.8l5.4 5.4M494.9 332.8l-5.4 5.4M496.3 336.8h5.6M499.1 334v5.6M496.4 334.1l5.4 5.4M501.8 334.1l-5.4 5.4M503.2 337.8h5.6M506 335v5.6M503.3 335.1l5.4 5.4M508.7 335.1l-5.4 5.4M510.1 339.1h5.6M512.9 336.3v5.6M510.2 336.4l5.4 5.4M515.6 336.4l-5.4 5.4M517 340.9h5.6M519.8 338.1v5.6M517.1 338.2l5.4 5.4M522.5 338.2l-5.4 5.4M523.9 344h5.6M526.7 341.2v5.6M524 341.3l5.4 5.4M529.4 341.3l-5.4 5.4M530.8 346.4h5.6M533.6 343.6v5.6M530.9 343.7l5.4 5.4M536.3 343.7l-5.4 5.4M537.7 348.2h5.6M540.5 345.4v5.6M537.8 345.5l5.4 5.4M543.2 345.5l-5.4 5.4M544.6 350h5.6M547.4 347.2v5.6M544.7 347.3l5.4 5.4M550.1 347.3l-5.4 5.4M551.5 351.3h5.6M554.3 348.5v5.6M551.6 348.6l5.4 5.4M557 348.6l-5.4 5.4M558.4 352.3h5.6M561.2 349.5v5.6M558.5 349.6l5.4 5.4M563.9 349.6l-5.4 5.4M565.3 352.7h5.6M568.1 349.9v5.6M565.4 350l5.4 5.4M570.8 350l-5.4 5.4M572.2 353.1h5.6M575 350.3v5.6M572.3 350.4l5.4 5.4M577.7 350.4l-5.4 5.4"/></g><g clip-path="url(#c22)" stroke="#00ff00" fill="none" stroke-width="1.1"><polyline points="409.5,353.1 416.4,355.4 423.3,357.2 430.2,358.5 437.1,359.1 444,359.6 450.9,359.6 457.8,360.3 464.7,360 471.6,358.2 478.5,355.4 485.4,353.6 492.2,352.3 499.1,351.3 506,350.5 512.9,349.4 519.8,349.1 526.7,347.3 533.6,346.4 540.5,345.5 547.4,345.1 554.3,344.5 561.2,344 568.1,343.6 575,344.5"/><path stroke-width="1.15" d="M406.7 353.1h5.6M409.5 350.3v5.6M406.8 350.4l5.4 5.4M412.2 350.4l-5.4 5.4M413.6 355.4h5.6M416.4 352.6v5.6M413.7 352.7l5.4 5.4M419.1 352.7l-5.4 5.4M420.5 357.2h5.6M423.3 354.4v5.6M420.6 354.5l5.4 5.4M426 354.5l-5.4 5.4M427.4 358.5h5.6M430.2 355.7v5.6M427.5 355.8l5.4 5.4M432.9 355.8l-5.4 5.4M434.3 359.1h5.6M437.1 356.3v5.6M434.4 356.4l5.4 5.4M439.8 356.4l-5.4 5.4M441.2 359.6h5.6M444 356.8v5.6M441.3 356.9l5.4 5.4M446.7 356.9l-5.4 5.4M448.1 359.6h5.6M450.9 356.8v5.6M448.2 356.9l5.4 5.4M453.6 356.9l-5.4 5.4M455 360.3h5.6M457.8 357.5v5.6M455.1 357.6l5.4 5.4M460.5 357.6l-5.4 5.4M461.9 360h5.6M464.7 357.2v5.6M462 357.3l5.4 5.4M467.4 357.3l-5.4 5.4M468.8 358.2h5.6M471.6 355.4v5.6M468.9 355.5l5.4 5.4M474.3 355.5l-5.4 5.4M475.7 355.4h5.6M478.5 352.6v5.6M475.8 352.7l5.4 5.4M481.2 352.7l-5.4 5.4M482.6 353.6h5.6M485.4 350.8v5.6M482.7 350.9l5.4 5.4M488.1 350.9l-5.4 5.4M489.4 352.3h5.6M492.2 349.5v5.6M489.6 349.6l5.4 5.4M494.9 349.6l-5.4 5.4M496.3 351.3h5.6M499.1 348.5v5.6M496.4 348.6l5.4 5.4M501.8 348.6l-5.4 5.4M503.2 350.5h5.6M506 347.7v5.6M503.3 347.8l5.4 5.4M508.7 347.8l-5.4 5.4M510.1 349.4h5.6M512.9 346.6v5.6M510.2 346.7l5.4 5.4M515.6 346.7l-5.4 5.4M517 349.1h5.6M519.8 346.3v5.6M517.1 346.4l5.4 5.4M522.5 346.4l-5.4 5.4M523.9 347.3h5.6M526.7 344.5v5.6M524 344.6l5.4 5.4M529.4 344.6l-5.4 5.4M530.8 346.4h5.6M533.6 343.6v5.6M530.9 343.7l5.4 5.4M536.3 343.7l-5.4 5.4M537.7 345.5h5.6M540.5 342.7v5.6M537.8 342.8l5.4 5.4M543.2 342.8l-5.4 5.4M544.6 345.1h5.6M547.4 342.3v5.6M544.7 342.4l5.4 5.4M550.1 342.4l-5.4 5.4M551.5 344.5h5.6M554.3 341.7v5.6M551.6 341.8l5.4 5.4M557 341.8l-5.4 5.4M558.4 344h5.6M561.2 341.2v5.6M558.5 341.3l5.4 5.4M563.9 341.3l-5.4 5.4M565.3 343.6h5.6M568.1 340.8v5.6M565.4 340.9l5.4 5.4M570.8 340.9l-5.4 5.4M572.2 344.5h5.6M575 341.7v5.6M572.3 341.8l5.4 5.4M577.7 341.8l-5.4 5.4"/></g><g clip-path="url(#c22)" stroke="#0000ff" fill="none" stroke-width="1.1"><polyline points="409.5,344 416.4,343.6 423.3,343.6 430.2,343.6 437.1,343.3 444,342.7 450.9,343.3 457.8,343.3 464.7,343.3 471.6,343.3 478.5,343.6 485.4,344 492.2,344.2 499.1,345.5 506,346.4 512.9,346.4 519.8,346.9 526.7,348.2 533.6,349.4 540.5,350 547.4,350.9 554.3,351.3 561.2,351.8 568.1,352.3 575,350"/><path stroke-width="1.15" d="M406.7 344h5.6M409.5 341.2v5.6M406.8 341.3l5.4 5.4M412.2 341.3l-5.4 5.4M413.6 343.6h5.6M416.4 340.8v5.6M413.7 340.9l5.4 5.4M419.1 340.9l-5.4 5.4M420.5 343.6h5.6M423.3 340.8v5.6M420.6 340.9l5.4 5.4M426 340.9l-5.4 5.4M427.4 343.6h5.6M430.2 340.8v5.6M427.5 340.9l5.4 5.4M432.9 340.9l-5.4 5.4M434.3 343.3h5.6M437.1 340.5v5.6M434.4 340.6l5.4 5.4M439.8 340.6l-5.4 5.4M441.2 342.7h5.6M444 339.9v5.6M441.3 340l5.4 5.4M446.7 340l-5.4 5.4M448.1 343.3h5.6M450.9 340.5v5.6M448.2 340.6l5.4 5.4M453.6 340.6l-5.4 5.4M455 343.3h5.6M457.8 340.5v5.6M455.1 340.6l5.4 5.4M460.5 340.6l-5.4 5.4M461.9 343.3h5.6M464.7 340.5v5.6M462 340.6l5.4 5.4M467.4 340.6l-5.4 5.4M468.8 343.3h5.6M471.6 340.5v5.6M468.9 340.6l5.4 5.4M474.3 340.6l-5.4 5.4M475.7 343.6h5.6M478.5 340.8v5.6M475.8 340.9l5.4 5.4M481.2 340.9l-5.4 5.4M482.6 344h5.6M485.4 341.2v5.6M482.7 341.3l5.4 5.4M488.1 341.3l-5.4 5.4M489.4 344.2h5.6M492.2 341.4v5.6M489.6 341.5l5.4 5.4M494.9 341.5l-5.4 5.4M496.3 345.5h5.6M499.1 342.7v5.6M496.4 342.8l5.4 5.4M501.8 342.8l-5.4 5.4M503.2 346.4h5.6M506 343.6v5.6M503.3 343.7l5.4 5.4M508.7 343.7l-5.4 5.4M510.1 346.4h5.6M512.9 343.6v5.6M510.2 343.7l5.4 5.4M515.6 343.7l-5.4 5.4M517 346.9h5.6M519.8 344.1v5.6M517.1 344.2l5.4 5.4M522.5 344.2l-5.4 5.4M523.9 348.2h5.6M526.7 345.4v5.6M524 345.5l5.4 5.4M529.4 345.5l-5.4 5.4M530.8 349.4h5.6M533.6 346.6v5.6M530.9 346.7l5.4 5.4M536.3 346.7l-5.4 5.4M537.7 350h5.6M540.5 347.2v5.6M537.8 347.3l5.4 5.4M543.2 347.3l-5.4 5.4M544.6 350.9h5.6M547.4 348.1v5.6M544.7 348.2l5.4 5.4M550.1 348.2l-5.4 5.4M551.5 351.3h5.6M554.3 348.5v5.6M551.6 348.6l5.4 5.4M557 348.6l-5.4 5.4M558.4 351.8h5.6M561.2 349v5.6M558.5 349.1l5.4 5.4M563.9 349.1l-5.4 5.4M565.3 352.3h5.6M568.1 349.5v5.6M565.4 349.6l5.4 5.4M570.8 349.6l-5.4 5.4M572.2 350h5.6M575 347.2v5.6M572.3 347.3l5.4 5.4M577.7 347.3l-5.4 5.4"/></g><g clip-path="url(#c22)" stroke="#ff0000" fill="none" stroke-width="1.1"><polyline points="409.5,349.1 416.4,348.2 423.3,347.3 430.2,346.9 437.1,346.9 444,346.4 450.9,345.8 457.8,345.5 464.7,345.1 471.6,345.1 478.5,345.1 485.4,344.5 492.2,344.2 499.1,342.7 506,340.9 512.9,340.4 519.8,340 526.7,339.1 533.6,338.2 540.5,337.8 547.4,337.3 554.3,337.3 561.2,337.3 568.1,337.8 575,338.6"/><path stroke-width="1.15" d="M406.7 349.1h5.6M409.5 346.3v5.6M406.8 346.4l5.4 5.4M412.2 346.4l-5.4 5.4M413.6 348.2h5.6M416.4 345.4v5.6M413.7 345.5l5.4 5.4M419.1 345.5l-5.4 5.4M420.5 347.3h5.6M423.3 344.5v5.6M420.6 344.6l5.4 5.4M426 344.6l-5.4 5.4M427.4 346.9h5.6M430.2 344.1v5.6M427.5 344.2l5.4 5.4M432.9 344.2l-5.4 5.4M434.3 346.9h5.6M437.1 344.1v5.6M434.4 344.2l5.4 5.4M439.8 344.2l-5.4 5.4M441.2 346.4h5.6M444 343.6v5.6M441.3 343.7l5.4 5.4M446.7 343.7l-5.4 5.4M448.1 345.8h5.6M450.9 343v5.6M448.2 343.1l5.4 5.4M453.6 343.1l-5.4 5.4M455 345.5h5.6M457.8 342.7v5.6M455.1 342.8l5.4 5.4M460.5 342.8l-5.4 5.4M461.9 345.1h5.6M464.7 342.3v5.6M462 342.4l5.4 5.4M467.4 342.4l-5.4 5.4M468.8 345.1h5.6M471.6 342.3v5.6M468.9 342.4l5.4 5.4M474.3 342.4l-5.4 5.4M475.7 345.1h5.6M478.5 342.3v5.6M475.8 342.4l5.4 5.4M481.2 342.4l-5.4 5.4M482.6 344.5h5.6M485.4 341.7v5.6M482.7 341.8l5.4 5.4M488.1 341.8l-5.4 5.4M489.4 344.2h5.6M492.2 341.4v5.6M489.6 341.5l5.4 5.4M494.9 341.5l-5.4 5.4M496.3 342.7h5.6M499.1 339.9v5.6M496.4 340l5.4 5.4M501.8 340l-5.4 5.4M503.2 340.9h5.6M506 338.1v5.6M503.3 338.2l5.4 5.4M508.7 338.2l-5.4 5.4M510.1 340.4h5.6M512.9 337.6v5.6M510.2 337.7l5.4 5.4M515.6 337.7l-5.4 5.4M517 340h5.6M519.8 337.2v5.6M517.1 337.3l5.4 5.4M522.5 337.3l-5.4 5.4M523.9 339.1h5.6M526.7 336.3v5.6M524 336.4l5.4 5.4M529.4 336.4l-5.4 5.4M530.8 338.2h5.6M533.6 335.4v5.6M530.9 335.5l5.4 5.4M536.3 335.5l-5.4 5.4M537.7 337.8h5.6M540.5 335v5.6M537.8 335.1l5.4 5.4M543.2 335.1l-5.4 5.4M544.6 337.3h5.6M547.4 334.5v5.6M544.7 334.6l5.4 5.4M550.1 334.6l-5.4 5.4M551.5 337.3h5.6M554.3 334.5v5.6M551.6 334.6l5.4 5.4M557 334.6l-5.4 5.4M558.4 337.3h5.6M561.2 334.5v5.6M558.5 334.6l5.4 5.4M563.9 334.6l-5.4 5.4M565.3 337.8h5.6M568.1 335v5.6M565.4 335.1l5.4 5.4M570.8 335.1l-5.4 5.4M572.2 338.6h5.6M575 335.8v5.6M572.3 335.9l5.4 5.4M577.7 335.9l-5.4 5.4"/></g><path d="M409.5 409.2H575M409.5 384.7H575M409.5 360.2H575M409.5 335.7H575M437.08 433.7V315.8M464.67 433.7V315.8M492.25 433.7V315.8M519.83 433.7V315.8M547.42 433.7V315.8" stroke="#000" stroke-width="1" stroke-dasharray="1.1 2.03" stroke-dashoffset="-0.8" fill="none"/><path d="M437.08 315.8v5M437.08 433.7v-5M464.67 315.8v5M464.67 433.7v-5M492.25 315.8v5M492.25 433.7v-5M519.83 315.8v5M519.83 433.7v-5M547.42 315.8v5M547.42 433.7v-5M423.29 315.8v4M423.29 433.7v-4M450.88 315.8v4M450.88 433.7v-4M478.46 315.8v4M478.46 433.7v-4M506.04 315.8v4M506.04 433.7v-4M533.62 315.8v4M533.62 433.7v-4M561.21 315.8v4M561.21 433.7v-4M409.5 409.2h5M575 409.2h-5M409.5 384.7h5M575 384.7h-5M409.5 360.2h5M575 360.2h-5M409.5 335.7h5M575 335.7h-5M409.5 421.45h4M575 421.45h-4M409.5 396.95h4M575 396.95h-4M409.5 372.45h4M575 372.45h-4M409.5 347.95h4M575 347.95h-4M409.5 323.45h4M575 323.45h-4" stroke="#ff0000" stroke-width="1" fill="none"/><path d="M409 315.95H576" stroke="#ff0000" stroke-width="1.9" fill="none"/><path d="M409 433.7H576" stroke="#ff0000" stroke-width="1.6" fill="none"/><path d="M409.5 315.8V433.7" stroke="#ff0000" stroke-width="1" fill="none"/><path d="M575.3 315.8V433.7" stroke="#ff0000" stroke-width="1.4" fill="none"/><g fill="#ff0000" font-size="9.6" font-weight="bold"><text x="404.8" y="436.8" text-anchor="end">36</text><text x="404.8" y="412.3" text-anchor="end">56</text><text x="404.8" y="387.8" text-anchor="end">76</text><text x="404.8" y="363.3" text-anchor="end">96</text><text x="404.8" y="338.8" text-anchor="end">116</text><text x="409.5" y="444.7" text-anchor="middle">0</text><text x="437.08" y="444.7" text-anchor="middle">4</text><text x="464.67" y="444.7" text-anchor="middle">8</text><text x="492.25" y="444.7" text-anchor="middle">12</text><text x="519.83" y="444.7" text-anchor="middle">16</text><text x="547.42" y="444.7" text-anchor="middle">20</text><text x="575" y="444.7" text-anchor="middle">24</text></g><text clip-path="url(#l22)" x="471.3" y="458.6" textLength="42.5" lengthAdjust="spacingAndGlyphs" fill="#ff0000" font-size="9.5" font-weight="bold">Mong Kok</text><g clip-path="url(#c23)" stroke="#00ffff" fill="none" stroke-width="1.1"><polyline points="602.5,389 609.4,389.3 616.3,389.3 623.2,389.9 630.1,390.8 637,391.7 643.9,392.6 650.8,393.5 657.7,397.1 664.6,400.2 671.5,402.6 678.4,404.9 685.2,405.3 692.1,405.3 699,404.4 705.9,402.6 712.8,400.2 719.7,397.7 726.6,394.4 733.5,390.8 740.4,388.6 747.3,387.5 754.2,388.1 761.1,388.6 768,389"/><path stroke-width="1.15" d="M599.7 389h5.6M602.5 386.2v5.6M599.8 386.3l5.4 5.4M605.2 386.3l-5.4 5.4M606.6 389.3h5.6M609.4 386.5v5.6M606.7 386.6l5.4 5.4M612.1 386.6l-5.4 5.4M613.5 389.3h5.6M616.3 386.5v5.6M613.6 386.6l5.4 5.4M619 386.6l-5.4 5.4M620.4 389.9h5.6M623.2 387.1v5.6M620.5 387.2l5.4 5.4M625.9 387.2l-5.4 5.4M627.3 390.8h5.6M630.1 388v5.6M627.4 388.1l5.4 5.4M632.8 388.1l-5.4 5.4M634.2 391.7h5.6M637 388.9v5.6M634.3 389l5.4 5.4M639.7 389l-5.4 5.4M641.1 392.6h5.6M643.9 389.8v5.6M641.2 389.9l5.4 5.4M646.6 389.9l-5.4 5.4M648 393.5h5.6M650.8 390.7v5.6M648.1 390.8l5.4 5.4M653.5 390.8l-5.4 5.4M654.9 397.1h5.6M657.7 394.3v5.6M655 394.4l5.4 5.4M660.4 394.4l-5.4 5.4M661.8 400.2h5.6M664.6 397.4v5.6M661.9 397.5l5.4 5.4M667.3 397.5l-5.4 5.4M668.7 402.6h5.6M671.5 399.8v5.6M668.8 399.9l5.4 5.4M674.2 399.9l-5.4 5.4M675.6 404.9h5.6M678.4 402.1v5.6M675.7 402.2l5.4 5.4M681.1 402.2l-5.4 5.4M682.5 405.3h5.6M685.2 402.5v5.6M682.5 402.6l5.4 5.4M688 402.6l-5.4 5.4M689.3 405.3h5.6M692.1 402.5v5.6M689.4 402.6l5.4 5.4M694.8 402.6l-5.4 5.4M696.2 404.4h5.6M699 401.6v5.6M696.3 401.7l5.4 5.4M701.7 401.7l-5.4 5.4M703.1 402.6h5.6M705.9 399.8v5.6M703.2 399.9l5.4 5.4M708.6 399.9l-5.4 5.4M710 400.2h5.6M712.8 397.4v5.6M710.1 397.5l5.4 5.4M715.5 397.5l-5.4 5.4M716.9 397.7h5.6M719.7 394.9v5.6M717 395l5.4 5.4M722.4 395l-5.4 5.4M723.8 394.4h5.6M726.6 391.6v5.6M723.9 391.7l5.4 5.4M729.3 391.7l-5.4 5.4M730.7 390.8h5.6M733.5 388v5.6M730.8 388.1l5.4 5.4M736.2 388.1l-5.4 5.4M737.6 388.6h5.6M740.4 385.8v5.6M737.7 385.9l5.4 5.4M743.1 385.9l-5.4 5.4M744.5 387.5h5.6M747.3 384.7v5.6M744.6 384.8l5.4 5.4M750 384.8l-5.4 5.4M751.4 388.1h5.6M754.2 385.3v5.6M751.5 385.4l5.4 5.4M756.9 385.4l-5.4 5.4M758.3 388.6h5.6M761.1 385.8v5.6M758.4 385.9l5.4 5.4M763.8 385.9l-5.4 5.4M765.2 389h5.6M768 386.2v5.6M765.3 386.3l5.4 5.4M770.7 386.3l-5.4 5.4"/></g><g clip-path="url(#c23)" stroke="#00ff00" fill="none" stroke-width="1.1"><polyline points="602.5,389 609.4,390.8 616.3,392.6 623.2,394.4 630.1,394.8 637,394.8 643.9,394.8 650.8,394.8 657.7,394.8 664.6,395.3 671.5,398 678.4,398.4 685.2,397.1 692.1,396.2 699,394.8 705.9,393.5 712.8,391.7 719.7,388.1 726.6,383.5 733.5,382.1 740.4,385.4 747.3,390.8 754.2,395.3 761.1,400.2 768,404.4"/><path stroke-width="1.15" d="M599.7 389h5.6M602.5 386.2v5.6M599.8 386.3l5.4 5.4M605.2 386.3l-5.4 5.4M606.6 390.8h5.6M609.4 388v5.6M606.7 388.1l5.4 5.4M612.1 388.1l-5.4 5.4M613.5 392.6h5.6M616.3 389.8v5.6M613.6 389.9l5.4 5.4M619 389.9l-5.4 5.4M620.4 394.4h5.6M623.2 391.6v5.6M620.5 391.7l5.4 5.4M625.9 391.7l-5.4 5.4M627.3 394.8h5.6M630.1 392v5.6M627.4 392.1l5.4 5.4M632.8 392.1l-5.4 5.4M634.2 394.8h5.6M637 392v5.6M634.3 392.1l5.4 5.4M639.7 392.1l-5.4 5.4M641.1 394.8h5.6M643.9 392v5.6M641.2 392.1l5.4 5.4M646.6 392.1l-5.4 5.4M648 394.8h5.6M650.8 392v5.6M648.1 392.1l5.4 5.4M653.5 392.1l-5.4 5.4M654.9 394.8h5.6M657.7 392v5.6M655 392.1l5.4 5.4M660.4 392.1l-5.4 5.4M661.8 395.3h5.6M664.6 392.5v5.6M661.9 392.6l5.4 5.4M667.3 392.6l-5.4 5.4M668.7 398h5.6M671.5 395.2v5.6M668.8 395.3l5.4 5.4M674.2 395.3l-5.4 5.4M675.6 398.4h5.6M678.4 395.6v5.6M675.7 395.7l5.4 5.4M681.1 395.7l-5.4 5.4M682.5 397.1h5.6M685.2 394.3v5.6M682.5 394.4l5.4 5.4M688 394.4l-5.4 5.4M689.3 396.2h5.6M692.1 393.4v5.6M689.4 393.5l5.4 5.4M694.8 393.5l-5.4 5.4M696.2 394.8h5.6M699 392v5.6M696.3 392.1l5.4 5.4M701.7 392.1l-5.4 5.4M703.1 393.5h5.6M705.9 390.7v5.6M703.2 390.8l5.4 5.4M708.6 390.8l-5.4 5.4M710 391.7h5.6M712.8 388.9v5.6M710.1 389l5.4 5.4M715.5 389l-5.4 5.4M716.9 388.1h5.6M719.7 385.3v5.6M717 385.4l5.4 5.4M722.4 385.4l-5.4 5.4M723.8 383.5h5.6M726.6 380.7v5.6M723.9 380.8l5.4 5.4M729.3 380.8l-5.4 5.4M730.7 382.1h5.6M733.5 379.3v5.6M730.8 379.4l5.4 5.4M736.2 379.4l-5.4 5.4M737.6 385.4h5.6M740.4 382.6v5.6M737.7 382.7l5.4 5.4M743.1 382.7l-5.4 5.4M744.5 390.8h5.6M747.3 388v5.6M744.6 388.1l5.4 5.4M750 388.1l-5.4 5.4M751.4 395.3h5.6M754.2 392.5v5.6M751.5 392.6l5.4 5.4M756.9 392.6l-5.4 5.4M758.3 400.2h5.6M761.1 397.4v5.6M758.4 397.5l5.4 5.4M763.8 397.5l-5.4 5.4M765.2 404.4h5.6M768 401.6v5.6M765.3 401.7l5.4 5.4M770.7 401.7l-5.4 5.4"/></g><g clip-path="url(#c23)" stroke="#0000ff" fill="none" stroke-width="1.1"><polyline points="602.5,403.9 609.4,408 616.3,411.1 623.2,411.6 630.1,411.6 637,412.6 643.9,412.9 650.8,412.9 657.7,413.5 664.6,414 671.5,414.4 678.4,415.3 685.2,415.3 692.1,415.3 699,415.3 705.9,415.3 712.8,415.8 719.7,415.8 726.6,415.8 733.5,415.3 740.4,415.3 747.3,415.3 754.2,415.3 761.1,415.3 768,415.3"/><path stroke-width="1.15" d="M599.7 403.9h5.6M602.5 401.1v5.6M599.8 401.2l5.4 5.4M605.2 401.2l-5.4 5.4M606.6 408h5.6M609.4 405.2v5.6M606.7 405.3l5.4 5.4M612.1 405.3l-5.4 5.4M613.5 411.1h5.6M616.3 408.3v5.6M613.6 408.4l5.4 5.4M619 408.4l-5.4 5.4M620.4 411.6h5.6M623.2 408.8v5.6M620.5 408.9l5.4 5.4M625.9 408.9l-5.4 5.4M627.3 411.6h5.6M630.1 408.8v5.6M627.4 408.9l5.4 5.4M632.8 408.9l-5.4 5.4M634.2 412.6h5.6M637 409.8v5.6M634.3 409.9l5.4 5.4M639.7 409.9l-5.4 5.4M641.1 412.9h5.6M643.9 410.1v5.6M641.2 410.2l5.4 5.4M646.6 410.2l-5.4 5.4M648 412.9h5.6M650.8 410.1v5.6M648.1 410.2l5.4 5.4M653.5 410.2l-5.4 5.4M654.9 413.5h5.6M657.7 410.7v5.6M655 410.8l5.4 5.4M660.4 410.8l-5.4 5.4M661.8 414h5.6M664.6 411.2v5.6M661.9 411.3l5.4 5.4M667.3 411.3l-5.4 5.4M668.7 414.4h5.6M671.5 411.6v5.6M668.8 411.7l5.4 5.4M674.2 411.7l-5.4 5.4M675.6 415.3h5.6M678.4 412.5v5.6M675.7 412.6l5.4 5.4M681.1 412.6l-5.4 5.4M682.5 415.3h5.6M685.2 412.5v5.6M682.5 412.6l5.4 5.4M688 412.6l-5.4 5.4M689.3 415.3h5.6M692.1 412.5v5.6M689.4 412.6l5.4 5.4M694.8 412.6l-5.4 5.4M696.2 415.3h5.6M699 412.5v5.6M696.3 412.6l5.4 5.4M701.7 412.6l-5.4 5.4M703.1 415.3h5.6M705.9 412.5v5.6M703.2 412.6l5.4 5.4M708.6 412.6l-5.4 5.4M710 415.8h5.6M712.8 413v5.6M710.1 413.1l5.4 5.4M715.5 413.1l-5.4 5.4M716.9 415.8h5.6M719.7 413v5.6M717 413.1l5.4 5.4M722.4 413.1l-5.4 5.4M723.8 415.8h5.6M726.6 413v5.6M723.9 413.1l5.4 5.4M729.3 413.1l-5.4 5.4M730.7 415.3h5.6M733.5 412.5v5.6M730.8 412.6l5.4 5.4M736.2 412.6l-5.4 5.4M737.6 415.3h5.6M740.4 412.5v5.6M737.7 412.6l5.4 5.4M743.1 412.6l-5.4 5.4M744.5 415.3h5.6M747.3 412.5v5.6M744.6 412.6l5.4 5.4M750 412.6l-5.4 5.4M751.4 415.3h5.6M754.2 412.5v5.6M751.5 412.6l5.4 5.4M756.9 412.6l-5.4 5.4M758.3 415.3h5.6M761.1 412.5v5.6M758.4 412.6l5.4 5.4M763.8 412.6l-5.4 5.4M765.2 415.3h5.6M768 412.5v5.6M765.3 412.6l5.4 5.4M770.7 412.6l-5.4 5.4"/></g><g clip-path="url(#c23)" stroke="#ff0000" fill="none" stroke-width="1.1"><polyline points="602.5,415.3 609.4,415.3 616.3,414.7 623.2,414.4 630.1,414 637,413.5 643.9,412.9 650.8,412.9 657.7,413.5 664.6,414.4 671.5,415.3 678.4,414.7 685.2,414 692.1,413.5 699,412.6 705.9,410.7 712.8,408.9 719.7,405.3 726.6,402.6 733.5,399.9 740.4,398 747.3,397.1 754.2,395.3 761.1,394.8 768,394.4"/><path stroke-width="1.15" d="M599.7 415.3h5.6M602.5 412.5v5.6M599.8 412.6l5.4 5.4M605.2 412.6l-5.4 5.4M606.6 415.3h5.6M609.4 412.5v5.6M606.7 412.6l5.4 5.4M612.1 412.6l-5.4 5.4M613.5 414.7h5.6M616.3 411.9v5.6M613.6 412l5.4 5.4M619 412l-5.4 5.4M620.4 414.4h5.6M623.2 411.6v5.6M620.5 411.7l5.4 5.4M625.9 411.7l-5.4 5.4M627.3 414h5.6M630.1 411.2v5.6M627.4 411.3l5.4 5.4M632.8 411.3l-5.4 5.4M634.2 413.5h5.6M637 410.7v5.6M634.3 410.8l5.4 5.4M639.7 410.8l-5.4 5.4M641.1 412.9h5.6M643.9 410.1v5.6M641.2 410.2l5.4 5.4M646.6 410.2l-5.4 5.4M648 412.9h5.6M650.8 410.1v5.6M648.1 410.2l5.4 5.4M653.5 410.2l-5.4 5.4M654.9 413.5h5.6M657.7 410.7v5.6M655 410.8l5.4 5.4M660.4 410.8l-5.4 5.4M661.8 414.4h5.6M664.6 411.6v5.6M661.9 411.7l5.4 5.4M667.3 411.7l-5.4 5.4M668.7 415.3h5.6M671.5 412.5v5.6M668.8 412.6l5.4 5.4M674.2 412.6l-5.4 5.4M675.6 414.7h5.6M678.4 411.9v5.6M675.7 412l5.4 5.4M681.1 412l-5.4 5.4M682.5 414h5.6M685.2 411.2v5.6M682.5 411.3l5.4 5.4M688 411.3l-5.4 5.4M689.3 413.5h5.6M692.1 410.7v5.6M689.4 410.8l5.4 5.4M694.8 410.8l-5.4 5.4M696.2 412.6h5.6M699 409.8v5.6M696.3 409.9l5.4 5.4M701.7 409.9l-5.4 5.4M703.1 410.7h5.6M705.9 407.9v5.6M703.2 408l5.4 5.4M708.6 408l-5.4 5.4M710 408.9h5.6M712.8 406.1v5.6M710.1 406.2l5.4 5.4M715.5 406.2l-5.4 5.4M716.9 405.3h5.6M719.7 402.5v5.6M717 402.6l5.4 5.4M722.4 402.6l-5.4 5.4M723.8 402.6h5.6M726.6 399.8v5.6M723.9 399.9l5.4 5.4M729.3 399.9l-5.4 5.4M730.7 399.9h5.6M733.5 397.1v5.6M730.8 397.2l5.4 5.4M736.2 397.2l-5.4 5.4M737.6 398h5.6M740.4 395.2v5.6M737.7 395.3l5.4 5.4M743.1 395.3l-5.4 5.4M744.5 397.1h5.6M747.3 394.3v5.6M744.6 394.4l5.4 5.4M750 394.4l-5.4 5.4M751.4 395.3h5.6M754.2 392.5v5.6M751.5 392.6l5.4 5.4M756.9 392.6l-5.4 5.4M758.3 394.8h5.6M761.1 392v5.6M758.4 392.1l5.4 5.4M763.8 392.1l-5.4 5.4M765.2 394.4h5.6M768 391.6v5.6M765.3 391.7l5.4 5.4M770.7 391.7l-5.4 5.4"/></g><path d="M602.5 409.2H768M602.5 384.7H768M602.5 360.2H768M602.5 335.7H768M630.08 433.7V315.8M657.67 433.7V315.8M685.25 433.7V315.8M712.83 433.7V315.8M740.42 433.7V315.8" stroke="#000" stroke-width="1" stroke-dasharray="1.1 2.03" stroke-dashoffset="-0.8" fill="none"/><path d="M630.08 315.8v5M630.08 433.7v-5M657.67 315.8v5M657.67 433.7v-5M685.25 315.8v5M685.25 433.7v-5M712.83 315.8v5M712.83 433.7v-5M740.42 315.8v5M740.42 433.7v-5M616.29 315.8v4M616.29 433.7v-4M643.88 315.8v4M643.88 433.7v-4M671.46 315.8v4M671.46 433.7v-4M699.04 315.8v4M699.04 433.7v-4M726.62 315.8v4M726.62 433.7v-4M754.21 315.8v4M754.21 433.7v-4M602.5 409.2h5M768 409.2h-5M602.5 384.7h5M768 384.7h-5M602.5 360.2h5M768 360.2h-5M602.5 335.7h5M768 335.7h-5M602.5 421.45h4M768 421.45h-4M602.5 396.95h4M768 396.95h-4M602.5 372.45h4M768 372.45h-4M602.5 347.95h4M768 347.95h-4M602.5 323.45h4M768 323.45h-4" stroke="#000000" stroke-width="1" fill="none"/><path d="M602 315.95H769" stroke="#000000" stroke-width="1.9" fill="none"/><path d="M602 433.7H769" stroke="#000000" stroke-width="1.6" fill="none"/><path d="M602.5 315.8V433.7" stroke="#000000" stroke-width="1" fill="none"/><path d="M768.3 315.8V433.7" stroke="#000000" stroke-width="1.4" fill="none"/><g fill="#000000" font-size="9.6" font-weight="bold"><text x="597.8" y="436.8" text-anchor="end">36</text><text x="597.8" y="412.3" text-anchor="end">56</text><text x="597.8" y="387.8" text-anchor="end">76</text><text x="597.8" y="363.3" text-anchor="end">96</text><text x="597.8" y="338.8" text-anchor="end">116</text><text x="602.5" y="444.7" text-anchor="middle">0</text><text x="630.08" y="444.7" text-anchor="middle">4</text><text x="657.67" y="444.7" text-anchor="middle">8</text><text x="685.25" y="444.7" text-anchor="middle">12</text><text x="712.83" y="444.7" text-anchor="middle">16</text><text x="740.42" y="444.7" text-anchor="middle">20</text><text x="768" y="444.7" text-anchor="middle">24</text></g><text clip-path="url(#l23)" x="660.5" y="458.6" textLength="50.1" lengthAdjust="spacingAndGlyphs" fill="#000000" font-size="9.5" font-weight="bold">Kwun Tong</text><g clip-path="url(#c24)" stroke="#00ffff" fill="none" stroke-width="1.1"><polyline points="795.5,358.5 802.4,365.8 809.3,366.9 816.2,368.7 823.1,372.3 830,372.7 836.9,373.6 843.8,373.6 850.7,372.7 857.6,371.8 864.5,374.5 871.4,376.6 878.2,375.4 885.1,374.5 892,370.5 898.9,364.5 905.8,360.3 912.7,356 919.6,352.7 926.5,349.1 933.4,346.4 940.3,345.1 947.2,345.5 954.1,348.2 961,350.9"/><path stroke-width="1.15" d="M792.7 358.5h5.6M795.5 355.7v5.6M792.8 355.8l5.4 5.4M798.2 355.8l-5.4 5.4M799.6 365.8h5.6M802.4 363v5.6M799.7 363.1l5.4 5.4M805.1 363.1l-5.4 5.4M806.5 366.9h5.6M809.3 364.1v5.6M806.6 364.2l5.4 5.4M812 364.2l-5.4 5.4M813.4 368.7h5.6M816.2 365.9v5.6M813.5 366l5.4 5.4M818.9 366l-5.4 5.4M820.3 372.3h5.6M823.1 369.5v5.6M820.4 369.6l5.4 5.4M825.8 369.6l-5.4 5.4M827.2 372.7h5.6M830 369.9v5.6M827.3 370l5.4 5.4M832.7 370l-5.4 5.4M834.1 373.6h5.6M836.9 370.8v5.6M834.2 370.9l5.4 5.4M839.6 370.9l-5.4 5.4M841 373.6h5.6M843.8 370.8v5.6M841.1 370.9l5.4 5.4M846.5 370.9l-5.4 5.4M847.9 372.7h5.6M850.7 369.9v5.6M848 370l5.4 5.4M853.4 370l-5.4 5.4M854.8 371.8h5.6M857.6 369v5.6M854.9 369.1l5.4 5.4M860.3 369.1l-5.4 5.4M861.7 374.5h5.6M864.5 371.7v5.6M861.8 371.8l5.4 5.4M867.2 371.8l-5.4 5.4M868.6 376.6h5.6M871.4 373.8v5.6M868.7 373.9l5.4 5.4M874.1 373.9l-5.4 5.4M875.5 375.4h5.6M878.2 372.6v5.6M875.5 372.7l5.4 5.4M881 372.7l-5.4 5.4M882.3 374.5h5.6M885.1 371.7v5.6M882.4 371.8l5.4 5.4M887.8 371.8l-5.4 5.4M889.2 370.5h5.6M892 367.7v5.6M889.3 367.8l5.4 5.4M894.7 367.8l-5.4 5.4M896.1 364.5h5.6M898.9 361.7v5.6M896.2 361.8l5.4 5.4M901.6 361.8l-5.4 5.4M903 360.3h5.6M905.8 357.5v5.6M903.1 357.6l5.4 5.4M908.5 357.6l-5.4 5.4M909.9 356h5.6M912.7 353.2v5.6M910 353.3l5.4 5.4M915.4 353.3l-5.4 5.4M916.8 352.7h5.6M919.6 349.9v5.6M916.9 350l5.4 5.4M922.3 350l-5.4 5.4M923.7 349.1h5.6M926.5 346.3v5.6M923.8 346.4l5.4 5.4M929.2 346.4l-5.4 5.4M930.6 346.4h5.6M933.4 343.6v5.6M930.7 343.7l5.4 5.4M936.1 343.7l-5.4 5.4M937.5 345.1h5.6M940.3 342.3v5.6M937.6 342.4l5.4 5.4M943 342.4l-5.4 5.4M944.4 345.5h5.6M947.2 342.7v5.6M944.5 342.8l5.4 5.4M949.9 342.8l-5.4 5.4M951.3 348.2h5.6M954.1 345.4v5.6M951.4 345.5l5.4 5.4M956.8 345.5l-5.4 5.4M958.2 350.9h5.6M961 348.1v5.6M958.3 348.2l5.4 5.4M963.7 348.2l-5.4 5.4"/></g><g clip-path="url(#c24)" stroke="#00ff00" fill="none" stroke-width="1.1"><polyline points="795.5,350.5 802.4,354.2 809.3,357.8 816.2,362.1 823.1,365 830,367.6 836.9,369.4 843.8,368.7 850.7,367.2 857.6,365.4 864.5,363.6 871.4,359.6 878.2,357.2 885.1,353.6 892,350.9 898.9,349.1 905.8,347.3 912.7,345.1 919.6,343.3 926.5,341.8 933.4,345.8 940.3,351.3 947.2,356.3 954.1,362.7 961,368.7"/><path stroke-width="1.15" d="M792.7 350.5h5.6M795.5 347.7v5.6M792.8 347.8l5.4 5.4M798.2 347.8l-5.4 5.4M799.6 354.2h5.6M802.4 351.4v5.6M799.7 351.5l5.4 5.4M805.1 351.5l-5.4 5.4M806.5 357.8h5.6M809.3 355v5.6M806.6 355.1l5.4 5.4M812 355.1l-5.4 5.4M813.4 362.1h5.6M816.2 359.3v5.6M813.5 359.4l5.4 5.4M818.9 359.4l-5.4 5.4M820.3 365h5.6M823.1 362.2v5.6M820.4 362.3l5.4 5.4M825.8 362.3l-5.4 5.4M827.2 367.6h5.6M830 364.8v5.6M827.3 364.9l5.4 5.4M832.7 364.9l-5.4 5.4M834.1 369.4h5.6M836.9 366.6v5.6M834.2 366.7l5.4 5.4M839.6 366.7l-5.4 5.4M841 368.7h5.6M843.8 365.9v5.6M841.1 366l5.4 5.4M846.5 366l-5.4 5.4M847.9 367.2h5.6M850.7 364.4v5.6M848 364.5l5.4 5.4M853.4 364.5l-5.4 5.4M854.8 365.4h5.6M857.6 362.6v5.6M854.9 362.7l5.4 5.4M860.3 362.7l-5.4 5.4M861.7 363.6h5.6M864.5 360.8v5.6M861.8 360.9l5.4 5.4M867.2 360.9l-5.4 5.4M868.6 359.6h5.6M871.4 356.8v5.6M868.7 356.9l5.4 5.4M874.1 356.9l-5.4 5.4M875.5 357.2h5.6M878.2 354.4v5.6M875.5 354.5l5.4 5.4M881 354.5l-5.4 5.4M882.3 353.6h5.6M885.1 350.8v5.6M882.4 350.9l5.4 5.4M887.8 350.9l-5.4 5.4M889.2 350.9h5.6M892 348.1v5.6M889.3 348.2l5.4 5.4M894.7 348.2l-5.4 5.4M896.1 349.1h5.6M898.9 346.3v5.6M896.2 346.4l5.4 5.4M901.6 346.4l-5.4 5.4M903 347.3h5.6M905.8 344.5v5.6M903.1 344.6l5.4 5.4M908.5 344.6l-5.4 5.4M909.9 345.1h5.6M912.7 342.3v5.6M910 342.4l5.4 5.4M915.4 342.4l-5.4 5.4M916.8 343.3h5.6M919.6 340.5v5.6M916.9 340.6l5.4 5.4M922.3 340.6l-5.4 5.4M923.7 341.8h5.6M926.5 339v5.6M923.8 339.1l5.4 5.4M929.2 339.1l-5.4 5.4M930.6 345.8h5.6M933.4 343v5.6M930.7 343.1l5.4 5.4M936.1 343.1l-5.4 5.4M937.5 351.3h5.6M940.3 348.5v5.6M937.6 348.6l5.4 5.4M943 348.6l-5.4 5.4M944.4 356.3h5.6M947.2 353.5v5.6M944.5 353.6l5.4 5.4M949.9 353.6l-5.4 5.4M951.3 362.7h5.6M954.1 359.9v5.6M951.4 360l5.4 5.4M956.8 360l-5.4 5.4M958.2 368.7h5.6M961 365.9v5.6M958.3 366l5.4 5.4M963.7 366l-5.4 5.4"/></g><g clip-path="url(#c24)" stroke="#0000ff" fill="none" stroke-width="1.1"><polyline points="795.5,368.7 802.4,374.5 809.3,382.1 816.2,389.3 823.1,394.1 830,398.4 836.9,403.1 843.8,407.5 850.7,411.6 857.6,415.8 864.5,420.2 871.4,423.1 878.2,422 885.1,419.4 892,415.3 898.9,410.4 905.8,404.4 912.7,394.8 919.6,392.2 926.5,392.2 933.4,393.5 940.3,395.3 947.2,399.5 954.1,403.9 961,404.4"/><path stroke-width="1.15" d="M792.7 368.7h5.6M795.5 365.9v5.6M792.8 366l5.4 5.4M798.2 366l-5.4 5.4M799.6 374.5h5.6M802.4 371.7v5.6M799.7 371.8l5.4 5.4M805.1 371.8l-5.4 5.4M806.5 382.1h5.6M809.3 379.3v5.6M806.6 379.4l5.4 5.4M812 379.4l-5.4 5.4M813.4 389.3h5.6M816.2 386.5v5.6M813.5 386.6l5.4 5.4M818.9 386.6l-5.4 5.4M820.3 394.1h5.6M823.1 391.3v5.6M820.4 391.4l5.4 5.4M825.8 391.4l-5.4 5.4M827.2 398.4h5.6M830 395.6v5.6M827.3 395.7l5.4 5.4M832.7 395.7l-5.4 5.4M834.1 403.1h5.6M836.9 400.3v5.6M834.2 400.4l5.4 5.4M839.6 400.4l-5.4 5.4M841 407.5h5.6M843.8 404.7v5.6M841.1 404.8l5.4 5.4M846.5 404.8l-5.4 5.4M847.9 411.6h5.6M850.7 408.8v5.6M848 408.9l5.4 5.4M853.4 408.9l-5.4 5.4M854.8 415.8h5.6M857.6 413v5.6M854.9 413.1l5.4 5.4M860.3 413.1l-5.4 5.4M861.7 420.2h5.6M864.5 417.4v5.6M861.8 417.5l5.4 5.4M867.2 417.5l-5.4 5.4M868.6 423.1h5.6M871.4 420.3v5.6M868.7 420.4l5.4 5.4M874.1 420.4l-5.4 5.4M875.5 422h5.6M878.2 419.2v5.6M875.5 419.3l5.4 5.4M881 419.3l-5.4 5.4M882.3 419.4h5.6M885.1 416.6v5.6M882.4 416.7l5.4 5.4M887.8 416.7l-5.4 5.4M889.2 415.3h5.6M892 412.5v5.6M889.3 412.6l5.4 5.4M894.7 412.6l-5.4 5.4M896.1 410.4h5.6M898.9 407.6v5.6M896.2 407.7l5.4 5.4M901.6 407.7l-5.4 5.4M903 404.4h5.6M905.8 401.6v5.6M903.1 401.7l5.4 5.4M908.5 401.7l-5.4 5.4M909.9 394.8h5.6M912.7 392v5.6M910 392.1l5.4 5.4M915.4 392.1l-5.4 5.4M916.8 392.2h5.6M919.6 389.4v5.6M916.9 389.5l5.4 5.4M922.3 389.5l-5.4 5.4M923.7 392.2h5.6M926.5 389.4v5.6M923.8 389.5l5.4 5.4M929.2 389.5l-5.4 5.4M930.6 393.5h5.6M933.4 390.7v5.6M930.7 390.8l5.4 5.4M936.1 390.8l-5.4 5.4M937.5 395.3h5.6M940.3 392.5v5.6M937.6 392.6l5.4 5.4M943 392.6l-5.4 5.4M944.4 399.5h5.6M947.2 396.7v5.6M944.5 396.8l5.4 5.4M949.9 396.8l-5.4 5.4M951.3 403.9h5.6M954.1 401.1v5.6M951.4 401.2l5.4 5.4M956.8 401.2l-5.4 5.4M958.2 404.4h5.6M961 401.6v5.6M958.3 401.7l5.4 5.4M963.7 401.7l-5.4 5.4"/></g><g clip-path="url(#c24)" stroke="#ff0000" fill="none" stroke-width="1.1"><polyline points="795.5,403.9 802.4,414 809.3,420.2 816.2,425.6 823.1,428.5 830,427.1 836.9,425.2 843.8,422.5 850.7,418 857.6,415.8 864.5,419.8 871.4,421.3 878.2,421.6 885.1,420.7 892,419.8 898.9,418.4 905.8,416.2 912.7,414.4 919.6,412.9 926.5,410.4 933.4,407.5 940.3,406.2 947.2,406.8 954.1,408.6 961,409.8"/><path stroke-width="1.15" d="M792.7 403.9h5.6M795.5 401.1v5.6M792.8 401.2l5.4 5.4M798.2 401.2l-5.4 5.4M799.6 414h5.6M802.4 411.2v5.6M799.7 411.3l5.4 5.4M805.1 411.3l-5.4 5.4M806.5 420.2h5.6M809.3 417.4v5.6M806.6 417.5l5.4 5.4M812 417.5l-5.4 5.4M813.4 425.6h5.6M816.2 422.8v5.6M813.5 422.9l5.4 5.4M818.9 422.9l-5.4 5.4M820.3 428.5h5.6M823.1 425.7v5.6M820.4 425.8l5.4 5.4M825.8 425.8l-5.4 5.4M827.2 427.1h5.6M830 424.3v5.6M827.3 424.4l5.4 5.4M832.7 424.4l-5.4 5.4M834.1 425.2h5.6M836.9 422.4v5.6M834.2 422.5l5.4 5.4M839.6 422.5l-5.4 5.4M841 422.5h5.6M843.8 419.7v5.6M841.1 419.8l5.4 5.4M846.5 419.8l-5.4 5.4M847.9 418h5.6M850.7 415.2v5.6M848 415.3l5.4 5.4M853.4 415.3l-5.4 5.4M854.8 415.8h5.6M857.6 413v5.6M854.9 413.1l5.4 5.4M860.3 413.1l-5.4 5.4M861.7 419.8h5.6M864.5 417v5.6M861.8 417.1l5.4 5.4M867.2 417.1l-5.4 5.4M868.6 421.3h5.6M871.4 418.5v5.6M868.7 418.6l5.4 5.4M874.1 418.6l-5.4 5.4M875.5 421.6h5.6M878.2 418.8v5.6M875.5 418.9l5.4 5.4M881 418.9l-5.4 5.4M882.3 420.7h5.6M885.1 417.9v5.6M882.4 418l5.4 5.4M887.8 418l-5.4 5.4M889.2 419.8h5.6M892 417v5.6M889.3 417.1l5.4 5.4M894.7 417.1l-5.4 5.4M896.1 418.4h5.6M898.9 415.6v5.6M896.2 415.7l5.4 5.4M901.6 415.7l-5.4 5.4M903 416.2h5.6M905.8 413.4v5.6M903.1 413.5l5.4 5.4M908.5 413.5l-5.4 5.4M909.9 414.4h5.6M912.7 411.6v5.6M910 411.7l5.4 5.4M915.4 411.7l-5.4 5.4M916.8 412.9h5.6M919.6 410.1v5.6M916.9 410.2l5.4 5.4M922.3 410.2l-5.4 5.4M923.7 410.4h5.6M926.5 407.6v5.6M923.8 407.7l5.4 5.4M929.2 407.7l-5.4 5.4M930.6 407.5h5.6M933.4 404.7v5.6M930.7 404.8l5.4 5.4M936.1 404.8l-5.4 5.4M937.5 406.2h5.6M940.3 403.4v5.6M937.6 403.5l5.4 5.4M943 403.5l-5.4 5.4M944.4 406.8h5.6M947.2 404v5.6M944.5 404.1l5.4 5.4M949.9 404.1l-5.4 5.4M951.3 408.6h5.6M954.1 405.8v5.6M951.4 405.9l5.4 5.4M956.8 405.9l-5.4 5.4M958.2 409.8h5.6M961 407v5.6M958.3 407.1l5.4 5.4M963.7 407.1l-5.4 5.4"/></g><path d="M795.5 409.2H961M795.5 384.7H961M795.5 360.2H961M795.5 335.7H961M823.08 433.7V315.8M850.67 433.7V315.8M878.25 433.7V315.8M905.83 433.7V315.8M933.42 433.7V315.8" stroke="#000" stroke-width="1" stroke-dasharray="1.1 2.03" stroke-dashoffset="-0.8" fill="none"/><path d="M823.08 315.8v5M823.08 433.7v-5M850.67 315.8v5M850.67 433.7v-5M878.25 315.8v5M878.25 433.7v-5M905.83 315.8v5M905.83 433.7v-5M933.42 315.8v5M933.42 433.7v-5M809.29 315.8v4M809.29 433.7v-4M836.88 315.8v4M836.88 433.7v-4M864.46 315.8v4M864.46 433.7v-4M892.04 315.8v4M892.04 433.7v-4M919.62 315.8v4M919.62 433.7v-4M947.21 315.8v4M947.21 433.7v-4M795.5 409.2h5M961 409.2h-5M795.5 384.7h5M961 384.7h-5M795.5 360.2h5M961 360.2h-5M795.5 335.7h5M961 335.7h-5M795.5 421.45h4M961 421.45h-4M795.5 396.95h4M961 396.95h-4M795.5 372.45h4M961 372.45h-4M795.5 347.95h4M961 347.95h-4M795.5 323.45h4M961 323.45h-4" stroke="#000000" stroke-width="1" fill="none"/><path d="M795 315.95H962" stroke="#000000" stroke-width="1.9" fill="none"/><path d="M795 433.7H962" stroke="#000000" stroke-width="1.6" fill="none"/><path d="M795.5 315.8V433.7" stroke="#000000" stroke-width="1" fill="none"/><path d="M961.3 315.8V433.7" stroke="#000000" stroke-width="1.4" fill="none"/><g fill="#000000" font-size="9.6" font-weight="bold"><text x="790.8" y="436.8" text-anchor="end">36</text><text x="790.8" y="412.3" text-anchor="end">56</text><text x="790.8" y="387.8" text-anchor="end">76</text><text x="790.8" y="363.3" text-anchor="end">96</text><text x="790.8" y="338.8" text-anchor="end">116</text><text x="795.5" y="444.7" text-anchor="middle">0</text><text x="823.08" y="444.7" text-anchor="middle">4</text><text x="850.67" y="444.7" text-anchor="middle">8</text><text x="878.25" y="444.7" text-anchor="middle">12</text><text x="905.83" y="444.7" text-anchor="middle">16</text><text x="933.42" y="444.7" text-anchor="middle">20</text><text x="961" y="444.7" text-anchor="middle">24</text></g><text clip-path="url(#l24)" x="844.8" y="458.6" textLength="67.5" lengthAdjust="spacingAndGlyphs" fill="#000000" font-size="9.5" font-weight="bold">Tseung Kwan O</text><path d="M23.5 557.2H189M23.5 532.7H189M23.5 508.2H189M23.5 483.7H189M51.08 581.7V463.8M78.67 581.7V463.8M106.25 581.7V463.8M133.83 581.7V463.8M161.42 581.7V463.8" stroke="#000" stroke-width="1" stroke-dasharray="1.1 2.03" stroke-dashoffset="-0.8" fill="none"/><path d="M51.08 463.8v5M51.08 581.7v-5M78.67 463.8v5M78.67 581.7v-5M106.25 463.8v5M106.25 581.7v-5M133.83 463.8v5M133.83 581.7v-5M161.42 463.8v5M161.42 581.7v-5M37.29 463.8v4M37.29 581.7v-4M64.88 463.8v4M64.88 581.7v-4M92.46 463.8v4M92.46 581.7v-4M120.04 463.8v4M120.04 581.7v-4M147.62 463.8v4M147.62 581.7v-4M175.21 463.8v4M175.21 581.7v-4M23.5 557.2h5M189 557.2h-5M23.5 532.7h5M189 532.7h-5M23.5 508.2h5M189 508.2h-5M23.5 483.7h5M189 483.7h-5M23.5 569.45h4M189 569.45h-4M23.5 544.95h4M189 544.95h-4M23.5 520.45h4M189 520.45h-4M23.5 495.95h4M189 495.95h-4M23.5 471.45h4M189 471.45h-4" stroke="#000000" stroke-width="1" fill="none"/><path d="M23 463.95H190" stroke="#000000" stroke-width="1.9" fill="none"/><path d="M23 581.7H190" stroke="#000000" stroke-width="1.6" fill="none"/><path d="M23.5 463.8V581.7" stroke="#000000" stroke-width="1" fill="none"/><path d="M189.3 463.8V581.7" stroke="#000000" stroke-width="1.4" fill="none"/><g fill="#000000" font-size="9.6" font-weight="bold"><text x="18.8" y="584.8" text-anchor="end">36</text><text x="18.8" y="560.3" text-anchor="end">56</text><text x="18.8" y="535.8" text-anchor="end">76</text><text x="18.8" y="511.3" text-anchor="end">96</text><text x="18.8" y="486.8" text-anchor="end">116</text><text x="23.5" y="592.7" text-anchor="middle">0</text><text x="51.08" y="592.7" text-anchor="middle">4</text><text x="78.67" y="592.7" text-anchor="middle">8</text><text x="106.25" y="592.7" text-anchor="middle">12</text><text x="133.83" y="592.7" text-anchor="middle">16</text><text x="161.42" y="592.7" text-anchor="middle">20</text><text x="189" y="592.7" text-anchor="middle">24</text></g><text clip-path="url(#l30)" x="56" y="606.6" textLength="101.1" lengthAdjust="spacingAndGlyphs" fill="#000000" font-size="9.5" font-weight="bold">Airport, Pump House 1</text><g clip-path="url(#c31)" stroke="#00ffff" fill="none" stroke-width="1.1"><polyline points="216.5,508.3 223.4,511.2 230.3,512 237.2,512.5 244.1,511.6 251,511.6 257.9,512.5 264.8,514.9 271.7,518.8 278.6,521 285.5,523.9 292.4,526.5 299.2,527.9 306.1,526.5 313,525.7 319.9,522.5 326.8,518.8 333.7,514.3 340.6,511.6 347.5,508.9 354.4,507.1 361.3,506.5 368.2,505.8 375.1,508 382,510.7"/><path stroke-width="1.15" d="M213.7 508.3h5.6M216.5 505.5v5.6M213.8 505.6l5.4 5.4M219.2 505.6l-5.4 5.4M220.6 511.2h5.6M223.4 508.4v5.6M220.7 508.5l5.4 5.4M226.1 508.5l-5.4 5.4M227.5 512h5.6M230.3 509.2v5.6M227.6 509.3l5.4 5.4M233 509.3l-5.4 5.4M234.4 512.5h5.6M237.2 509.7v5.6M234.5 509.8l5.4 5.4M239.9 509.8l-5.4 5.4M241.3 511.6h5.6M244.1 508.8v5.6M241.4 508.9l5.4 5.4M246.8 508.9l-5.4 5.4M248.2 511.6h5.6M251 508.8v5.6M248.3 508.9l5.4 5.4M253.7 508.9l-5.4 5.4M255.1 512.5h5.6M257.9 509.7v5.6M255.2 509.8l5.4 5.4M260.6 509.8l-5.4 5.4M262 514.9h5.6M264.8 512.1v5.6M262.1 512.2l5.4 5.4M267.5 512.2l-5.4 5.4M268.9 518.8h5.6M271.7 516v5.6M269 516.1l5.4 5.4M274.4 516.1l-5.4 5.4M275.8 521h5.6M278.6 518.2v5.6M275.9 518.3l5.4 5.4M281.3 518.3l-5.4 5.4M282.7 523.9h5.6M285.5 521.1v5.6M282.8 521.2l5.4 5.4M288.2 521.2l-5.4 5.4M289.6 526.5h5.6M292.4 523.7v5.6M289.7 523.8l5.4 5.4M295.1 523.8l-5.4 5.4M296.4 527.9h5.6M299.2 525.1v5.6M296.6 525.2l5.4 5.4M301.9 525.2l-5.4 5.4M303.3 526.5h5.6M306.1 523.7v5.6M303.4 523.8l5.4 5.4M308.8 523.8l-5.4 5.4M310.2 525.7h5.6M313 522.9v5.6M310.3 523l5.4 5.4M315.7 523l-5.4 5.4M317.1 522.5h5.6M319.9 519.7v5.6M317.2 519.8l5.4 5.4M322.6 519.8l-5.4 5.4M324 518.8h5.6M326.8 516v5.6M324.1 516.1l5.4 5.4M329.5 516.1l-5.4 5.4M330.9 514.3h5.6M333.7 511.5v5.6M331 511.6l5.4 5.4M336.4 511.6l-5.4 5.4M337.8 511.6h5.6M340.6 508.8v5.6M337.9 508.9l5.4 5.4M343.3 508.9l-5.4 5.4M344.7 508.9h5.6M347.5 506.1v5.6M344.8 506.2l5.4 5.4M350.2 506.2l-5.4 5.4M351.6 507.1h5.6M354.4 504.3v5.6M351.7 504.4l5.4 5.4M357.1 504.4l-5.4 5.4M358.5 506.5h5.6M361.3 503.7v5.6M358.6 503.8l5.4 5.4M364 503.8l-5.4 5.4M365.4 505.8h5.6M368.2 503v5.6M365.5 503.1l5.4 5.4M370.9 503.1l-5.4 5.4M372.3 508h5.6M375.1 505.2v5.6M372.4 505.3l5.4 5.4M377.8 505.3l-5.4 5.4M379.2 510.7h5.6M382 507.9v5.6M379.3 508l5.4 5.4M384.7 508l-5.4 5.4"/></g><g clip-path="url(#c31)" stroke="#00ff00" fill="none" stroke-width="1.1"><polyline points="216.5,511.2 223.4,513 230.3,515.2 237.2,517.4 244.1,519.2 251,519.2 257.9,518.8 264.8,518.5 271.7,518.5 278.6,519.2 285.5,520.3 292.4,521 299.2,518.8 306.1,518.8 313,518.5 319.9,517.4 326.8,516.1 333.7,514.3 340.6,512 347.5,509.4 354.4,510.1 361.3,513.8 368.2,518.5 375.1,523.4 382,527.9"/><path stroke-width="1.15" d="M213.7 511.2h5.6M216.5 508.4v5.6M213.8 508.5l5.4 5.4M219.2 508.5l-5.4 5.4M220.6 513h5.6M223.4 510.2v5.6M220.7 510.3l5.4 5.4M226.1 510.3l-5.4 5.4M227.5 515.2h5.6M230.3 512.4v5.6M227.6 512.5l5.4 5.4M233 512.5l-5.4 5.4M234.4 517.4h5.6M237.2 514.6v5.6M234.5 514.7l5.4 5.4M239.9 514.7l-5.4 5.4M241.3 519.2h5.6M244.1 516.4v5.6M241.4 516.5l5.4 5.4M246.8 516.5l-5.4 5.4M248.2 519.2h5.6M251 516.4v5.6M248.3 516.5l5.4 5.4M253.7 516.5l-5.4 5.4M255.1 518.8h5.6M257.9 516v5.6M255.2 516.1l5.4 5.4M260.6 516.1l-5.4 5.4M262 518.5h5.6M264.8 515.7v5.6M262.1 515.8l5.4 5.4M267.5 515.8l-5.4 5.4M268.9 518.5h5.6M271.7 515.7v5.6M269 515.8l5.4 5.4M274.4 515.8l-5.4 5.4M275.8 519.2h5.6M278.6 516.4v5.6M275.9 516.5l5.4 5.4M281.3 516.5l-5.4 5.4M282.7 520.3h5.6M285.5 517.5v5.6M282.8 517.6l5.4 5.4M288.2 517.6l-5.4 5.4M289.6 521h5.6M292.4 518.2v5.6M289.7 518.3l5.4 5.4M295.1 518.3l-5.4 5.4M296.4 518.8h5.6M299.2 516v5.6M296.6 516.1l5.4 5.4M301.9 516.1l-5.4 5.4M303.3 518.8h5.6M306.1 516v5.6M303.4 516.1l5.4 5.4M308.8 516.1l-5.4 5.4M310.2 518.5h5.6M313 515.7v5.6M310.3 515.8l5.4 5.4M315.7 515.8l-5.4 5.4M317.1 517.4h5.6M319.9 514.6v5.6M317.2 514.7l5.4 5.4M322.6 514.7l-5.4 5.4M324 516.1h5.6M326.8 513.3v5.6M324.1 513.4l5.4 5.4M329.5 513.4l-5.4 5.4M330.9 514.3h5.6M333.7 511.5v5.6M331 511.6l5.4 5.4M336.4 511.6l-5.4 5.4M337.8 512h5.6M340.6 509.2v5.6M337.9 509.3l5.4 5.4M343.3 509.3l-5.4 5.4M344.7 509.4h5.6M347.5 506.6v5.6M344.8 506.7l5.4 5.4M350.2 506.7l-5.4 5.4M351.6 510.1h5.6M354.4 507.3v5.6M351.7 507.4l5.4 5.4M357.1 507.4l-5.4 5.4M358.5 513.8h5.6M361.3 511v5.6M358.6 511.1l5.4 5.4M364 511.1l-5.4 5.4M365.4 518.5h5.6M368.2 515.7v5.6M365.5 515.8l5.4 5.4M370.9 515.8l-5.4 5.4M372.3 523.4h5.6M375.1 520.6v5.6M372.4 520.7l5.4 5.4M377.8 520.7l-5.4 5.4M379.2 527.9h5.6M382 525.1v5.6M379.3 525.2l5.4 5.4M384.7 525.2l-5.4 5.4"/></g><g clip-path="url(#c31)" stroke="#0000ff" fill="none" stroke-width="1.1"><polyline points="216.5,527 223.4,530.6 230.3,536.1 237.2,541.5 244.1,545.7 251,547.9 257.9,550 264.8,553.3 271.7,557.8 278.6,563.8 285.5,567.8 292.4,570.5 299.2,571.8 306.1,571.8 313,572.9 319.9,571.4 326.8,569.3 333.7,566 340.6,560.6 347.5,557.8 354.4,553.3 361.3,551.9 368.2,551.9 375.1,551.9 382,551.5"/><path stroke-width="1.15" d="M213.7 527h5.6M216.5 524.2v5.6M213.8 524.3l5.4 5.4M219.2 524.3l-5.4 5.4M220.6 530.6h5.6M223.4 527.8v5.6M220.7 527.9l5.4 5.4M226.1 527.9l-5.4 5.4M227.5 536.1h5.6M230.3 533.3v5.6M227.6 533.4l5.4 5.4M233 533.4l-5.4 5.4M234.4 541.5h5.6M237.2 538.7v5.6M234.5 538.8l5.4 5.4M239.9 538.8l-5.4 5.4M241.3 545.7h5.6M244.1 542.9v5.6M241.4 543l5.4 5.4M246.8 543l-5.4 5.4M248.2 547.9h5.6M251 545.1v5.6M248.3 545.2l5.4 5.4M253.7 545.2l-5.4 5.4M255.1 550h5.6M257.9 547.2v5.6M255.2 547.3l5.4 5.4M260.6 547.3l-5.4 5.4M262 553.3h5.6M264.8 550.5v5.6M262.1 550.6l5.4 5.4M267.5 550.6l-5.4 5.4M268.9 557.8h5.6M271.7 555v5.6M269 555.1l5.4 5.4M274.4 555.1l-5.4 5.4M275.8 563.8h5.6M278.6 561v5.6M275.9 561.1l5.4 5.4M281.3 561.1l-5.4 5.4M282.7 567.8h5.6M285.5 565v5.6M282.8 565.1l5.4 5.4M288.2 565.1l-5.4 5.4M289.6 570.5h5.6M292.4 567.7v5.6M289.7 567.8l5.4 5.4M295.1 567.8l-5.4 5.4M296.4 571.8h5.6M299.2 569v5.6M296.6 569.1l5.4 5.4M301.9 569.1l-5.4 5.4M303.3 571.8h5.6M306.1 569v5.6M303.4 569.1l5.4 5.4M308.8 569.1l-5.4 5.4M310.2 572.9h5.6M313 570.1v5.6M310.3 570.2l5.4 5.4M315.7 570.2l-5.4 5.4M317.1 571.4h5.6M319.9 568.6v5.6M317.2 568.7l5.4 5.4M322.6 568.7l-5.4 5.4M324 569.3h5.6M326.8 566.5v5.6M324.1 566.6l5.4 5.4M329.5 566.6l-5.4 5.4M330.9 566h5.6M333.7 563.2v5.6M331 563.3l5.4 5.4M336.4 563.3l-5.4 5.4M337.8 560.6h5.6M340.6 557.8v5.6M337.9 557.9l5.4 5.4M343.3 557.9l-5.4 5.4M344.7 557.8h5.6M347.5 555v5.6M344.8 555.1l5.4 5.4M350.2 555.1l-5.4 5.4M351.6 553.3h5.6M354.4 550.5v5.6M351.7 550.6l5.4 5.4M357.1 550.6l-5.4 5.4M358.5 551.9h5.6M361.3 549.1v5.6M358.6 549.2l5.4 5.4M364 549.2l-5.4 5.4M365.4 551.9h5.6M368.2 549.1v5.6M365.5 549.2l5.4 5.4M370.9 549.2l-5.4 5.4M372.3 551.9h5.6M375.1 549.1v5.6M372.4 549.2l5.4 5.4M377.8 549.2l-5.4 5.4M379.2 551.5h5.6M382 548.7v5.6M379.3 548.8l5.4 5.4M384.7 548.8l-5.4 5.4"/></g><g clip-path="url(#c31)" stroke="#ff0000" fill="none" stroke-width="1.1"><polyline points="216.5,551.5 223.4,550.6 230.3,549.7 237.2,548.2 244.1,548.8 251,551.5 257.9,553.3 264.8,556 271.7,560.6 278.6,566.4 285.5,570 292.4,573.2 299.2,574.2 306.1,573.6 313,572.9 319.9,571.8 326.8,570 333.7,566 340.6,551.9 347.5,557.8 354.4,555.1 361.3,552.4 368.2,548.8 375.1,546.4 382,544.6"/><path stroke-width="1.15" d="M213.7 551.5h5.6M216.5 548.7v5.6M213.8 548.8l5.4 5.4M219.2 548.8l-5.4 5.4M220.6 550.6h5.6M223.4 547.8v5.6M220.7 547.9l5.4 5.4M226.1 547.9l-5.4 5.4M227.5 549.7h5.6M230.3 546.9v5.6M227.6 547l5.4 5.4M233 547l-5.4 5.4M234.4 548.2h5.6M237.2 545.4v5.6M234.5 545.5l5.4 5.4M239.9 545.5l-5.4 5.4M241.3 548.8h5.6M244.1 546v5.6M241.4 546.1l5.4 5.4M246.8 546.1l-5.4 5.4M248.2 551.5h5.6M251 548.7v5.6M248.3 548.8l5.4 5.4M253.7 548.8l-5.4 5.4M255.1 553.3h5.6M257.9 550.5v5.6M255.2 550.6l5.4 5.4M260.6 550.6l-5.4 5.4M262 556h5.6M264.8 553.2v5.6M262.1 553.3l5.4 5.4M267.5 553.3l-5.4 5.4M268.9 560.6h5.6M271.7 557.8v5.6M269 557.9l5.4 5.4M274.4 557.9l-5.4 5.4M275.8 566.4h5.6M278.6 563.6v5.6M275.9 563.7l5.4 5.4M281.3 563.7l-5.4 5.4M282.7 570h5.6M285.5 567.2v5.6M282.8 567.3l5.4 5.4M288.2 567.3l-5.4 5.4M289.6 573.2h5.6M292.4 570.4v5.6M289.7 570.5l5.4 5.4M295.1 570.5l-5.4 5.4M296.4 574.2h5.6M299.2 571.4v5.6M296.6 571.5l5.4 5.4M301.9 571.5l-5.4 5.4M303.3 573.6h5.6M306.1 570.8v5.6M303.4 570.9l5.4 5.4M308.8 570.9l-5.4 5.4M310.2 572.9h5.6M313 570.1v5.6M310.3 570.2l5.4 5.4M315.7 570.2l-5.4 5.4M317.1 571.8h5.6M319.9 569v5.6M317.2 569.1l5.4 5.4M322.6 569.1l-5.4 5.4M324 570h5.6M326.8 567.2v5.6M324.1 567.3l5.4 5.4M329.5 567.3l-5.4 5.4M330.9 566h5.6M333.7 563.2v5.6M331 563.3l5.4 5.4M336.4 563.3l-5.4 5.4M337.8 551.9h5.6M340.6 549.1v5.6M337.9 549.2l5.4 5.4M343.3 549.2l-5.4 5.4M344.7 557.8h5.6M347.5 555v5.6M344.8 555.1l5.4 5.4M350.2 555.1l-5.4 5.4M351.6 555.1h5.6M354.4 552.3v5.6M351.7 552.4l5.4 5.4M357.1 552.4l-5.4 5.4M358.5 552.4h5.6M361.3 549.6v5.6M358.6 549.7l5.4 5.4M364 549.7l-5.4 5.4M365.4 548.8h5.6M368.2 546v5.6M365.5 546.1l5.4 5.4M370.9 546.1l-5.4 5.4M372.3 546.4h5.6M375.1 543.6v5.6M372.4 543.7l5.4 5.4M377.8 543.7l-5.4 5.4M379.2 544.6h5.6M382 541.8v5.6M379.3 541.9l5.4 5.4M384.7 541.9l-5.4 5.4"/></g><path d="M216.5 557.2H382M216.5 532.7H382M216.5 508.2H382M216.5 483.7H382M244.08 581.7V463.8M271.67 581.7V463.8M299.25 581.7V463.8M326.83 581.7V463.8M354.42 581.7V463.8" stroke="#000" stroke-width="1" stroke-dasharray="1.1 2.03" stroke-dashoffset="-0.8" fill="none"/><path d="M244.08 463.8v5M244.08 581.7v-5M271.67 463.8v5M271.67 581.7v-5M299.25 463.8v5M299.25 581.7v-5M326.83 463.8v5M326.83 581.7v-5M354.42 463.8v5M354.42 581.7v-5M230.29 463.8v4M230.29 581.7v-4M257.88 463.8v4M257.88 581.7v-4M285.46 463.8v4M285.46 581.7v-4M313.04 463.8v4M313.04 581.7v-4M340.62 463.8v4M340.62 581.7v-4M368.21 463.8v4M368.21 581.7v-4M216.5 557.2h5M382 557.2h-5M216.5 532.7h5M382 532.7h-5M216.5 508.2h5M382 508.2h-5M216.5 483.7h5M382 483.7h-5M216.5 569.45h4M382 569.45h-4M216.5 544.95h4M382 544.95h-4M216.5 520.45h4M382 520.45h-4M216.5 495.95h4M382 495.95h-4M216.5 471.45h4M382 471.45h-4" stroke="#000000" stroke-width="1" fill="none"/><path d="M216 463.95H383" stroke="#000000" stroke-width="1.9" fill="none"/><path d="M216 581.7H383" stroke="#000000" stroke-width="1.6" fill="none"/><path d="M216.5 463.8V581.7" stroke="#000000" stroke-width="1" fill="none"/><path d="M382.3 463.8V581.7" stroke="#000000" stroke-width="1.4" fill="none"/><g fill="#000000" font-size="9.6" font-weight="bold"><text x="211.8" y="584.8" text-anchor="end">36</text><text x="211.8" y="560.3" text-anchor="end">56</text><text x="211.8" y="535.8" text-anchor="end">76</text><text x="211.8" y="511.3" text-anchor="end">96</text><text x="211.8" y="486.8" text-anchor="end">116</text><text x="216.5" y="592.7" text-anchor="middle">0</text><text x="244.08" y="592.7" text-anchor="middle">4</text><text x="271.67" y="592.7" text-anchor="middle">8</text><text x="299.25" y="592.7" text-anchor="middle">12</text><text x="326.83" y="592.7" text-anchor="middle">16</text><text x="354.42" y="592.7" text-anchor="middle">20</text><text x="382" y="592.7" text-anchor="middle">24</text></g><text clip-path="url(#l31)" x="262.6" y="606.6" textLength="73.9" lengthAdjust="spacingAndGlyphs" fill="#000000" font-size="9.5" font-weight="bold">Central/Western</text><g clip-path="url(#c32)" stroke="#00ffff" fill="none" stroke-width="1.1"><polyline points="409.5,476.8 416.4,477.5 423.3,478 430.2,479.3 437.1,480.8 444,481.7 450.9,482.2 457.8,483.5 464.7,484.4 471.6,485.3 478.5,486.2 485.4,488.9 492.2,494.4 499.1,497.4 506,499.3 512.9,501.1 519.8,502.2 526.7,504 533.6,505.8 540.5,508 547.4,510.1 554.3,512.5 561.2,514.9 568.1,516.7 575,518.5"/><path stroke-width="1.15" d="M406.7 476.8h5.6M409.5 474v5.6M406.8 474.1l5.4 5.4M412.2 474.1l-5.4 5.4M413.6 477.5h5.6M416.4 474.7v5.6M413.7 474.8l5.4 5.4M419.1 474.8l-5.4 5.4M420.5 478h5.6M423.3 475.2v5.6M420.6 475.3l5.4 5.4M426 475.3l-5.4 5.4M427.4 479.3h5.6M430.2 476.5v5.6M427.5 476.6l5.4 5.4M432.9 476.6l-5.4 5.4M434.3 480.8h5.6M437.1 478v5.6M434.4 478.1l5.4 5.4M439.8 478.1l-5.4 5.4M441.2 481.7h5.6M444 478.9v5.6M441.3 479l5.4 5.4M446.7 479l-5.4 5.4M448.1 482.2h5.6M450.9 479.4v5.6M448.2 479.5l5.4 5.4M453.6 479.5l-5.4 5.4M455 483.5h5.6M457.8 480.7v5.6M455.1 480.8l5.4 5.4M460.5 480.8l-5.4 5.4M461.9 484.4h5.6M464.7 481.6v5.6M462 481.7l5.4 5.4M467.4 481.7l-5.4 5.4M468.8 485.3h5.6M471.6 482.5v5.6M468.9 482.6l5.4 5.4M474.3 482.6l-5.4 5.4M475.7 486.2h5.6M478.5 483.4v5.6M475.8 483.5l5.4 5.4M481.2 483.5l-5.4 5.4M482.6 488.9h5.6M485.4 486.1v5.6M482.7 486.2l5.4 5.4M488.1 486.2l-5.4 5.4M489.4 494.4h5.6M492.2 491.6v5.6M489.6 491.7l5.4 5.4M494.9 491.7l-5.4 5.4M496.3 497.4h5.6M499.1 494.6v5.6M496.4 494.7l5.4 5.4M501.8 494.7l-5.4 5.4M503.2 499.3h5.6M506 496.5v5.6M503.3 496.6l5.4 5.4M508.7 496.6l-5.4 5.4M510.1 501.1h5.6M512.9 498.3v5.6M510.2 498.4l5.4 5.4M515.6 498.4l-5.4 5.4M517 502.2h5.6M519.8 499.4v5.6M517.1 499.5l5.4 5.4M522.5 499.5l-5.4 5.4M523.9 504h5.6M526.7 501.2v5.6M524 501.3l5.4 5.4M529.4 501.3l-5.4 5.4M530.8 505.8h5.6M533.6 503v5.6M530.9 503.1l5.4 5.4M536.3 503.1l-5.4 5.4M537.7 508h5.6M540.5 505.2v5.6M537.8 505.3l5.4 5.4M543.2 505.3l-5.4 5.4M544.6 510.1h5.6M547.4 507.3v5.6M544.7 507.4l5.4 5.4M550.1 507.4l-5.4 5.4M551.5 512.5h5.6M554.3 509.7v5.6M551.6 509.8l5.4 5.4M557 509.8l-5.4 5.4M558.4 514.9h5.6M561.2 512.1v5.6M558.5 512.2l5.4 5.4M563.9 512.2l-5.4 5.4M565.3 516.7h5.6M568.1 513.9v5.6M565.4 514l5.4 5.4M570.8 514l-5.4 5.4M572.2 518.5h5.6M575 515.7v5.6M572.3 515.8l5.4 5.4M577.7 515.8l-5.4 5.4"/></g><g clip-path="url(#c32)" stroke="#00ff00" fill="none" stroke-width="1.1"><polyline points="409.5,519.2 416.4,522.1 423.3,523.9 430.2,525.2 437.1,526.1 444,527.5 450.9,527.9 457.8,528.8 464.7,529.4 471.6,528.3 478.5,525.7 485.4,522.8 492.2,519.8 499.1,516.1 506,512.5 512.9,507.6 519.8,505.2 526.7,502.5 533.6,501.6 540.5,499.8 547.4,497.4 554.3,496.2 561.2,495.3 568.1,495.3 575,494.9"/><path stroke-width="1.15" d="M406.7 519.2h5.6M409.5 516.4v5.6M406.8 516.5l5.4 5.4M412.2 516.5l-5.4 5.4M413.6 522.1h5.6M416.4 519.3v5.6M413.7 519.4l5.4 5.4M419.1 519.4l-5.4 5.4M420.5 523.9h5.6M423.3 521.1v5.6M420.6 521.2l5.4 5.4M426 521.2l-5.4 5.4M427.4 525.2h5.6M430.2 522.4v5.6M427.5 522.5l5.4 5.4M432.9 522.5l-5.4 5.4M434.3 526.1h5.6M437.1 523.3v5.6M434.4 523.4l5.4 5.4M439.8 523.4l-5.4 5.4M441.2 527.5h5.6M444 524.7v5.6M441.3 524.8l5.4 5.4M446.7 524.8l-5.4 5.4M448.1 527.9h5.6M450.9 525.1v5.6M448.2 525.2l5.4 5.4M453.6 525.2l-5.4 5.4M455 528.8h5.6M457.8 526v5.6M455.1 526.1l5.4 5.4M460.5 526.1l-5.4 5.4M461.9 529.4h5.6M464.7 526.6v5.6M462 526.7l5.4 5.4M467.4 526.7l-5.4 5.4M468.8 528.3h5.6M471.6 525.5v5.6M468.9 525.6l5.4 5.4M474.3 525.6l-5.4 5.4M475.7 525.7h5.6M478.5 522.9v5.6M475.8 523l5.4 5.4M481.2 523l-5.4 5.4M482.6 522.8h5.6M485.4 520v5.6M482.7 520.1l5.4 5.4M488.1 520.1l-5.4 5.4M489.4 519.8h5.6M492.2 517v5.6M489.6 517.1l5.4 5.4M494.9 517.1l-5.4 5.4M496.3 516.1h5.6M499.1 513.3v5.6M496.4 513.4l5.4 5.4M501.8 513.4l-5.4 5.4M503.2 512.5h5.6M506 509.7v5.6M503.3 509.8l5.4 5.4M508.7 509.8l-5.4 5.4M510.1 507.6h5.6M512.9 504.8v5.6M510.2 504.9l5.4 5.4M515.6 504.9l-5.4 5.4M517 505.2h5.6M519.8 502.4v5.6M517.1 502.5l5.4 5.4M522.5 502.5l-5.4 5.4M523.9 502.5h5.6M526.7 499.7v5.6M524 499.8l5.4 5.4M529.4 499.8l-5.4 5.4M530.8 501.6h5.6M533.6 498.8v5.6M530.9 498.9l5.4 5.4M536.3 498.9l-5.4 5.4M537.7 499.8h5.6M540.5 497v5.6M537.8 497.1l5.4 5.4M543.2 497.1l-5.4 5.4M544.6 497.4h5.6M547.4 494.6v5.6M544.7 494.7l5.4 5.4M550.1 494.7l-5.4 5.4M551.5 496.2h5.6M554.3 493.4v5.6M551.6 493.5l5.4 5.4M557 493.5l-5.4 5.4M558.4 495.3h5.6M561.2 492.5v5.6M558.5 492.6l5.4 5.4M563.9 492.6l-5.4 5.4M565.3 495.3h5.6M568.1 492.5v5.6M565.4 492.6l5.4 5.4M570.8 492.6l-5.4 5.4M572.2 494.9h5.6M575 492.1v5.6M572.3 492.2l5.4 5.4M577.7 492.2l-5.4 5.4"/></g><g clip-path="url(#c32)" stroke="#0000ff" fill="none" stroke-width="1.1"><polyline points="409.5,494.9 416.4,495.3 423.3,494.9 430.2,494.9 437.1,494.4 444,493.8 450.9,493.5 457.8,493.1 464.7,493.1 471.6,493.1 478.5,493.1 485.4,493.1 492.2,493.1 499.1,493.5 506,493.8 512.9,494.4 519.8,494.4 526.7,494.4 533.6,494.4 540.5,494.4 547.4,494.4 554.3,494.4 561.2,494.4 568.1,493.8 575,493.5"/><path stroke-width="1.15" d="M406.7 494.9h5.6M409.5 492.1v5.6M406.8 492.2l5.4 5.4M412.2 492.2l-5.4 5.4M413.6 495.3h5.6M416.4 492.5v5.6M413.7 492.6l5.4 5.4M419.1 492.6l-5.4 5.4M420.5 494.9h5.6M423.3 492.1v5.6M420.6 492.2l5.4 5.4M426 492.2l-5.4 5.4M427.4 494.9h5.6M430.2 492.1v5.6M427.5 492.2l5.4 5.4M432.9 492.2l-5.4 5.4M434.3 494.4h5.6M437.1 491.6v5.6M434.4 491.7l5.4 5.4M439.8 491.7l-5.4 5.4M441.2 493.8h5.6M444 491v5.6M441.3 491.1l5.4 5.4M446.7 491.1l-5.4 5.4M448.1 493.5h5.6M450.9 490.7v5.6M448.2 490.8l5.4 5.4M453.6 490.8l-5.4 5.4M455 493.1h5.6M457.8 490.3v5.6M455.1 490.4l5.4 5.4M460.5 490.4l-5.4 5.4M461.9 493.1h5.6M464.7 490.3v5.6M462 490.4l5.4 5.4M467.4 490.4l-5.4 5.4M468.8 493.1h5.6M471.6 490.3v5.6M468.9 490.4l5.4 5.4M474.3 490.4l-5.4 5.4M475.7 493.1h5.6M478.5 490.3v5.6M475.8 490.4l5.4 5.4M481.2 490.4l-5.4 5.4M482.6 493.1h5.6M485.4 490.3v5.6M482.7 490.4l5.4 5.4M488.1 490.4l-5.4 5.4M489.4 493.1h5.6M492.2 490.3v5.6M489.6 490.4l5.4 5.4M494.9 490.4l-5.4 5.4M496.3 493.5h5.6M499.1 490.7v5.6M496.4 490.8l5.4 5.4M501.8 490.8l-5.4 5.4M503.2 493.8h5.6M506 491v5.6M503.3 491.1l5.4 5.4M508.7 491.1l-5.4 5.4M510.1 494.4h5.6M512.9 491.6v5.6M510.2 491.7l5.4 5.4M515.6 491.7l-5.4 5.4M517 494.4h5.6M519.8 491.6v5.6M517.1 491.7l5.4 5.4M522.5 491.7l-5.4 5.4M523.9 494.4h5.6M526.7 491.6v5.6M524 491.7l5.4 5.4M529.4 491.7l-5.4 5.4M530.8 494.4h5.6M533.6 491.6v5.6M530.9 491.7l5.4 5.4M536.3 491.7l-5.4 5.4M537.7 494.4h5.6M540.5 491.6v5.6M537.8 491.7l5.4 5.4M543.2 491.7l-5.4 5.4M544.6 494.4h5.6M547.4 491.6v5.6M544.7 491.7l5.4 5.4M550.1 491.7l-5.4 5.4M551.5 494.4h5.6M554.3 491.6v5.6M551.6 491.7l5.4 5.4M557 491.7l-5.4 5.4M558.4 494.4h5.6M561.2 491.6v5.6M558.5 491.7l5.4 5.4M563.9 491.7l-5.4 5.4M565.3 493.8h5.6M568.1 491v5.6M565.4 491.1l5.4 5.4M570.8 491.1l-5.4 5.4M572.2 493.5h5.6M575 490.7v5.6M572.3 490.8l5.4 5.4M577.7 490.8l-5.4 5.4"/></g><g clip-path="url(#c32)" stroke="#ff0000" fill="none" stroke-width="1.1"><polyline points="409.5,492.5 416.4,492 423.3,491.3 430.2,490.2 437.1,489.5 444,488.4 450.9,488 457.8,487.7 464.7,487.7 471.6,487.7 478.5,487.7 485.4,487.7 492.2,487.1 499.1,486.6 506,485.8 512.9,484.8 519.8,484 526.7,482.9 533.6,481.7 540.5,480.8 547.4,480.4 554.3,479.9 561.2,478.9 568.1,478 575,477.5"/><path stroke-width="1.15" d="M406.7 492.5h5.6M409.5 489.7v5.6M406.8 489.8l5.4 5.4M412.2 489.8l-5.4 5.4M413.6 492h5.6M416.4 489.2v5.6M413.7 489.3l5.4 5.4M419.1 489.3l-5.4 5.4M420.5 491.3h5.6M423.3 488.5v5.6M420.6 488.6l5.4 5.4M426 488.6l-5.4 5.4M427.4 490.2h5.6M430.2 487.4v5.6M427.5 487.5l5.4 5.4M432.9 487.5l-5.4 5.4M434.3 489.5h5.6M437.1 486.7v5.6M434.4 486.8l5.4 5.4M439.8 486.8l-5.4 5.4M441.2 488.4h5.6M444 485.6v5.6M441.3 485.7l5.4 5.4M446.7 485.7l-5.4 5.4M448.1 488h5.6M450.9 485.2v5.6M448.2 485.3l5.4 5.4M453.6 485.3l-5.4 5.4M455 487.7h5.6M457.8 484.9v5.6M455.1 485l5.4 5.4M460.5 485l-5.4 5.4M461.9 487.7h5.6M464.7 484.9v5.6M462 485l5.4 5.4M467.4 485l-5.4 5.4M468.8 487.7h5.6M471.6 484.9v5.6M468.9 485l5.4 5.4M474.3 485l-5.4 5.4M475.7 487.7h5.6M478.5 484.9v5.6M475.8 485l5.4 5.4M481.2 485l-5.4 5.4M482.6 487.7h5.6M485.4 484.9v5.6M482.7 485l5.4 5.4M488.1 485l-5.4 5.4M489.4 487.1h5.6M492.2 484.3v5.6M489.6 484.4l5.4 5.4M494.9 484.4l-5.4 5.4M496.3 486.6h5.6M499.1 483.8v5.6M496.4 483.9l5.4 5.4M501.8 483.9l-5.4 5.4M503.2 485.8h5.6M506 483v5.6M503.3 483.1l5.4 5.4M508.7 483.1l-5.4 5.4M510.1 484.8h5.6M512.9 482v5.6M510.2 482.1l5.4 5.4M515.6 482.1l-5.4 5.4M517 484h5.6M519.8 481.2v5.6M517.1 481.3l5.4 5.4M522.5 481.3l-5.4 5.4M523.9 482.9h5.6M526.7 480.1v5.6M524 480.2l5.4 5.4M529.4 480.2l-5.4 5.4M530.8 481.7h5.6M533.6 478.9v5.6M530.9 479l5.4 5.4M536.3 479l-5.4 5.4M537.7 480.8h5.6M540.5 478v5.6M537.8 478.1l5.4 5.4M543.2 478.1l-5.4 5.4M544.6 480.4h5.6M547.4 477.6v5.6M544.7 477.7l5.4 5.4M550.1 477.7l-5.4 5.4M551.5 479.9h5.6M554.3 477.1v5.6M551.6 477.2l5.4 5.4M557 477.2l-5.4 5.4M558.4 478.9h5.6M561.2 476.1v5.6M558.5 476.2l5.4 5.4M563.9 476.2l-5.4 5.4M565.3 478h5.6M568.1 475.2v5.6M565.4 475.3l5.4 5.4M570.8 475.3l-5.4 5.4M572.2 477.5h5.6M575 474.7v5.6M572.3 474.8l5.4 5.4M577.7 474.8l-5.4 5.4"/></g><path d="M409.5 557.2H575M409.5 532.7H575M409.5 508.2H575M409.5 483.7H575M437.08 581.7V463.8M464.67 581.7V463.8M492.25 581.7V463.8M519.83 581.7V463.8M547.42 581.7V463.8" stroke="#000" stroke-width="1" stroke-dasharray="1.1 2.03" stroke-dashoffset="-0.8" fill="none"/><path d="M437.08 463.8v5M437.08 581.7v-5M464.67 463.8v5M464.67 581.7v-5M492.25 463.8v5M492.25 581.7v-5M519.83 463.8v5M519.83 581.7v-5M547.42 463.8v5M547.42 581.7v-5M423.29 463.8v4M423.29 581.7v-4M450.88 463.8v4M450.88 581.7v-4M478.46 463.8v4M478.46 581.7v-4M506.04 463.8v4M506.04 581.7v-4M533.62 463.8v4M533.62 581.7v-4M561.21 463.8v4M561.21 581.7v-4M409.5 557.2h5M575 557.2h-5M409.5 532.7h5M575 532.7h-5M409.5 508.2h5M575 508.2h-5M409.5 483.7h5M575 483.7h-5M409.5 569.45h4M575 569.45h-4M409.5 544.95h4M575 544.95h-4M409.5 520.45h4M575 520.45h-4M409.5 495.95h4M575 495.95h-4M409.5 471.45h4M575 471.45h-4" stroke="#ff0000" stroke-width="1" fill="none"/><path d="M409 463.95H576" stroke="#ff0000" stroke-width="1.9" fill="none"/><path d="M409 581.7H576" stroke="#ff0000" stroke-width="1.6" fill="none"/><path d="M409.5 463.8V581.7" stroke="#ff0000" stroke-width="1" fill="none"/><path d="M575.3 463.8V581.7" stroke="#ff0000" stroke-width="1.4" fill="none"/><g fill="#ff0000" font-size="9.6" font-weight="bold"><text x="404.8" y="584.8" text-anchor="end">36</text><text x="404.8" y="560.3" text-anchor="end">56</text><text x="404.8" y="535.8" text-anchor="end">76</text><text x="404.8" y="511.3" text-anchor="end">96</text><text x="404.8" y="486.8" text-anchor="end">116</text><text x="409.5" y="592.7" text-anchor="middle">0</text><text x="437.08" y="592.7" text-anchor="middle">4</text><text x="464.67" y="592.7" text-anchor="middle">8</text><text x="492.25" y="592.7" text-anchor="middle">12</text><text x="519.83" y="592.7" text-anchor="middle">16</text><text x="547.42" y="592.7" text-anchor="middle">20</text><text x="575" y="592.7" text-anchor="middle">24</text></g><text clip-path="url(#l32)" x="476.25" y="606.6" textLength="32.6" lengthAdjust="spacingAndGlyphs" fill="#ff0000" font-size="9.5" font-weight="bold">Central</text><g clip-path="url(#c33)" stroke="#00ffff" fill="none" stroke-width="1.1"><polyline points="602.5,476.8 609.4,475.7 616.3,475.7 623.2,476.8 630.1,477.5 637,478 643.9,478 650.8,478.6 657.7,478.6 664.6,479.3 671.5,480.8 678.4,482.6 685.2,484.4 692.1,485.8 699,488 705.9,488.9 712.8,489.8 719.7,490.7 726.6,491.3 733.5,491.6 740.4,492 747.3,492.5 754.2,493.1 761.1,493.1 768,493.5"/><path stroke-width="1.15" d="M599.7 476.8h5.6M602.5 474v5.6M599.8 474.1l5.4 5.4M605.2 474.1l-5.4 5.4M606.6 475.7h5.6M609.4 472.9v5.6M606.7 473l5.4 5.4M612.1 473l-5.4 5.4M613.5 475.7h5.6M616.3 472.9v5.6M613.6 473l5.4 5.4M619 473l-5.4 5.4M620.4 476.8h5.6M623.2 474v5.6M620.5 474.1l5.4 5.4M625.9 474.1l-5.4 5.4M627.3 477.5h5.6M630.1 474.7v5.6M627.4 474.8l5.4 5.4M632.8 474.8l-5.4 5.4M634.2 478h5.6M637 475.2v5.6M634.3 475.3l5.4 5.4M639.7 475.3l-5.4 5.4M641.1 478h5.6M643.9 475.2v5.6M641.2 475.3l5.4 5.4M646.6 475.3l-5.4 5.4M648 478.6h5.6M650.8 475.8v5.6M648.1 475.9l5.4 5.4M653.5 475.9l-5.4 5.4M654.9 478.6h5.6M657.7 475.8v5.6M655 475.9l5.4 5.4M660.4 475.9l-5.4 5.4M661.8 479.3h5.6M664.6 476.5v5.6M661.9 476.6l5.4 5.4M667.3 476.6l-5.4 5.4M668.7 480.8h5.6M671.5 478v5.6M668.8 478.1l5.4 5.4M674.2 478.1l-5.4 5.4M675.6 482.6h5.6M678.4 479.8v5.6M675.7 479.9l5.4 5.4M681.1 479.9l-5.4 5.4M682.5 484.4h5.6M685.2 481.6v5.6M682.5 481.7l5.4 5.4M688 481.7l-5.4 5.4M689.3 485.8h5.6M692.1 483v5.6M689.4 483.1l5.4 5.4M694.8 483.1l-5.4 5.4M696.2 488h5.6M699 485.2v5.6M696.3 485.3l5.4 5.4M701.7 485.3l-5.4 5.4M703.1 488.9h5.6M705.9 486.1v5.6M703.2 486.2l5.4 5.4M708.6 486.2l-5.4 5.4M710 489.8h5.6M712.8 487v5.6M710.1 487.1l5.4 5.4M715.5 487.1l-5.4 5.4M716.9 490.7h5.6M719.7 487.9v5.6M717 488l5.4 5.4M722.4 488l-5.4 5.4M723.8 491.3h5.6M726.6 488.5v5.6M723.9 488.6l5.4 5.4M729.3 488.6l-5.4 5.4M730.7 491.6h5.6M733.5 488.8v5.6M730.8 488.9l5.4 5.4M736.2 488.9l-5.4 5.4M737.6 492h5.6M740.4 489.2v5.6M737.7 489.3l5.4 5.4M743.1 489.3l-5.4 5.4M744.5 492.5h5.6M747.3 489.7v5.6M744.6 489.8l5.4 5.4M750 489.8l-5.4 5.4M751.4 493.1h5.6M754.2 490.3v5.6M751.5 490.4l5.4 5.4M756.9 490.4l-5.4 5.4M758.3 493.1h5.6M761.1 490.3v5.6M758.4 490.4l5.4 5.4M763.8 490.4l-5.4 5.4M765.2 493.5h5.6M768 490.7v5.6M765.3 490.8l5.4 5.4M770.7 490.8l-5.4 5.4"/></g><g clip-path="url(#c33)" stroke="#00ff00" fill="none" stroke-width="1.1"><polyline points="602.5,494.4 609.4,496.2 616.3,496.7 623.2,497.1 630.1,497.1 637,497.1 643.9,497.1 650.8,497.4 657.7,498 664.6,497.4 671.5,496.2 678.4,495.3 685.2,494.9 692.1,494.4 699,493.8 705.9,493.5 712.8,493.5 719.7,493.1 726.6,493.1 733.5,492.5 740.4,492.5 747.3,492 754.2,492 761.1,492.2 768,492.5"/><path stroke-width="1.15" d="M599.7 494.4h5.6M602.5 491.6v5.6M599.8 491.7l5.4 5.4M605.2 491.7l-5.4 5.4M606.6 496.2h5.6M609.4 493.4v5.6M606.7 493.5l5.4 5.4M612.1 493.5l-5.4 5.4M613.5 496.7h5.6M616.3 493.9v5.6M613.6 494l5.4 5.4M619 494l-5.4 5.4M620.4 497.1h5.6M623.2 494.3v5.6M620.5 494.4l5.4 5.4M625.9 494.4l-5.4 5.4M627.3 497.1h5.6M630.1 494.3v5.6M627.4 494.4l5.4 5.4M632.8 494.4l-5.4 5.4M634.2 497.1h5.6M637 494.3v5.6M634.3 494.4l5.4 5.4M639.7 494.4l-5.4 5.4M641.1 497.1h5.6M643.9 494.3v5.6M641.2 494.4l5.4 5.4M646.6 494.4l-5.4 5.4M648 497.4h5.6M650.8 494.6v5.6M648.1 494.7l5.4 5.4M653.5 494.7l-5.4 5.4M654.9 498h5.6M657.7 495.2v5.6M655 495.3l5.4 5.4M660.4 495.3l-5.4 5.4M661.8 497.4h5.6M664.6 494.6v5.6M661.9 494.7l5.4 5.4M667.3 494.7l-5.4 5.4M668.7 496.2h5.6M671.5 493.4v5.6M668.8 493.5l5.4 5.4M674.2 493.5l-5.4 5.4M675.6 495.3h5.6M678.4 492.5v5.6M675.7 492.6l5.4 5.4M681.1 492.6l-5.4 5.4M682.5 494.9h5.6M685.2 492.1v5.6M682.5 492.2l5.4 5.4M688 492.2l-5.4 5.4M689.3 494.4h5.6M692.1 491.6v5.6M689.4 491.7l5.4 5.4M694.8 491.7l-5.4 5.4M696.2 493.8h5.6M699 491v5.6M696.3 491.1l5.4 5.4M701.7 491.1l-5.4 5.4M703.1 493.5h5.6M705.9 490.7v5.6M703.2 490.8l5.4 5.4M708.6 490.8l-5.4 5.4M710 493.5h5.6M712.8 490.7v5.6M710.1 490.8l5.4 5.4M715.5 490.8l-5.4 5.4M716.9 493.1h5.6M719.7 490.3v5.6M717 490.4l5.4 5.4M722.4 490.4l-5.4 5.4M723.8 493.1h5.6M726.6 490.3v5.6M723.9 490.4l5.4 5.4M729.3 490.4l-5.4 5.4M730.7 492.5h5.6M733.5 489.7v5.6M730.8 489.8l5.4 5.4M736.2 489.8l-5.4 5.4M737.6 492.5h5.6M740.4 489.7v5.6M737.7 489.8l5.4 5.4M743.1 489.8l-5.4 5.4M744.5 492h5.6M747.3 489.2v5.6M744.6 489.3l5.4 5.4M750 489.3l-5.4 5.4M751.4 492h5.6M754.2 489.2v5.6M751.5 489.3l5.4 5.4M756.9 489.3l-5.4 5.4M758.3 492.2h5.6M761.1 489.4v5.6M758.4 489.5l5.4 5.4M763.8 489.5l-5.4 5.4M765.2 492.5h5.6M768 489.7v5.6M765.3 489.8l5.4 5.4M770.7 489.8l-5.4 5.4"/></g><g clip-path="url(#c33)" stroke="#0000ff" fill="none" stroke-width="1.1"><polyline points="602.5,492.5 609.4,493.1 616.3,493.1 623.2,492 630.1,489.5 637,487.1 643.9,485.3 650.8,482.9 657.7,481.7 664.6,481.7 671.5,482.9 678.4,484.4 685.2,485.8 692.1,487.1 699,488.4 705.9,489.5 712.8,490.2 719.7,490.7 726.6,490.2 733.5,490.2 740.4,488.9 747.3,486.6 754.2,484.8 761.1,482.6 768,480.8"/><path stroke-width="1.15" d="M599.7 492.5h5.6M602.5 489.7v5.6M599.8 489.8l5.4 5.4M605.2 489.8l-5.4 5.4M606.6 493.1h5.6M609.4 490.3v5.6M606.7 490.4l5.4 5.4M612.1 490.4l-5.4 5.4M613.5 493.1h5.6M616.3 490.3v5.6M613.6 490.4l5.4 5.4M619 490.4l-5.4 5.4M620.4 492h5.6M623.2 489.2v5.6M620.5 489.3l5.4 5.4M625.9 489.3l-5.4 5.4M627.3 489.5h5.6M630.1 486.7v5.6M627.4 486.8l5.4 5.4M632.8 486.8l-5.4 5.4M634.2 487.1h5.6M637 484.3v5.6M634.3 484.4l5.4 5.4M639.7 484.4l-5.4 5.4M641.1 485.3h5.6M643.9 482.5v5.6M641.2 482.6l5.4 5.4M646.6 482.6l-5.4 5.4M648 482.9h5.6M650.8 480.1v5.6M648.1 480.2l5.4 5.4M653.5 480.2l-5.4 5.4M654.9 481.7h5.6M657.7 478.9v5.6M655 479l5.4 5.4M660.4 479l-5.4 5.4M661.8 481.7h5.6M664.6 478.9v5.6M661.9 479l5.4 5.4M667.3 479l-5.4 5.4M668.7 482.9h5.6M671.5 480.1v5.6M668.8 480.2l5.4 5.4M674.2 480.2l-5.4 5.4M675.6 484.4h5.6M678.4 481.6v5.6M675.7 481.7l5.4 5.4M681.1 481.7l-5.4 5.4M682.5 485.8h5.6M685.2 483v5.6M682.5 483.1l5.4 5.4M688 483.1l-5.4 5.4M689.3 487.1h5.6M692.1 484.3v5.6M689.4 484.4l5.4 5.4M694.8 484.4l-5.4 5.4M696.2 488.4h5.6M699 485.6v5.6M696.3 485.7l5.4 5.4M701.7 485.7l-5.4 5.4M703.1 489.5h5.6M705.9 486.7v5.6M703.2 486.8l5.4 5.4M708.6 486.8l-5.4 5.4M710 490.2h5.6M712.8 487.4v5.6M710.1 487.5l5.4 5.4M715.5 487.5l-5.4 5.4M716.9 490.7h5.6M719.7 487.9v5.6M717 488l5.4 5.4M722.4 488l-5.4 5.4M723.8 490.2h5.6M726.6 487.4v5.6M723.9 487.5l5.4 5.4M729.3 487.5l-5.4 5.4M730.7 490.2h5.6M733.5 487.4v5.6M730.8 487.5l5.4 5.4M736.2 487.5l-5.4 5.4M737.6 488.9h5.6M740.4 486.1v5.6M737.7 486.2l5.4 5.4M743.1 486.2l-5.4 5.4M744.5 486.6h5.6M747.3 483.8v5.6M744.6 483.9l5.4 5.4M750 483.9l-5.4 5.4M751.4 484.8h5.6M754.2 482v5.6M751.5 482.1l5.4 5.4M756.9 482.1l-5.4 5.4M758.3 482.6h5.6M761.1 479.8v5.6M758.4 479.9l5.4 5.4M763.8 479.9l-5.4 5.4M765.2 480.8h5.6M768 478v5.6M765.3 478.1l5.4 5.4M770.7 478.1l-5.4 5.4"/></g><g clip-path="url(#c33)" stroke="#ff0000" fill="none" stroke-width="1.1"><polyline points="602.5,480.4 609.4,478 616.3,479.3 623.2,480.8 630.1,482.2 637,484 643.9,485.8 650.8,486.6 657.7,487.1 664.6,487.1 671.5,486.6 678.4,486.2 685.2,485.8 692.1,485.3 699,484.8 705.9,484.4 712.8,482.6 719.7,480.8 726.6,479.9 733.5,478.9 740.4,478.9 747.3,480.8 754.2,482.2 761.1,482.6 768,482.9"/><path stroke-width="1.15" d="M599.7 480.4h5.6M602.5 477.6v5.6M599.8 477.7l5.4 5.4M605.2 477.7l-5.4 5.4M606.6 478h5.6M609.4 475.2v5.6M606.7 475.3l5.4 5.4M612.1 475.3l-5.4 5.4M613.5 479.3h5.6M616.3 476.5v5.6M613.6 476.6l5.4 5.4M619 476.6l-5.4 5.4M620.4 480.8h5.6M623.2 478v5.6M620.5 478.1l5.4 5.4M625.9 478.1l-5.4 5.4M627.3 482.2h5.6M630.1 479.4v5.6M627.4 479.5l5.4 5.4M632.8 479.5l-5.4 5.4M634.2 484h5.6M637 481.2v5.6M634.3 481.3l5.4 5.4M639.7 481.3l-5.4 5.4M641.1 485.8h5.6M643.9 483v5.6M641.2 483.1l5.4 5.4M646.6 483.1l-5.4 5.4M648 486.6h5.6M650.8 483.8v5.6M648.1 483.9l5.4 5.4M653.5 483.9l-5.4 5.4M654.9 487.1h5.6M657.7 484.3v5.6M655 484.4l5.4 5.4M660.4 484.4l-5.4 5.4M661.8 487.1h5.6M664.6 484.3v5.6M661.9 484.4l5.4 5.4M667.3 484.4l-5.4 5.4M668.7 486.6h5.6M671.5 483.8v5.6M668.8 483.9l5.4 5.4M674.2 483.9l-5.4 5.4M675.6 486.2h5.6M678.4 483.4v5.6M675.7 483.5l5.4 5.4M681.1 483.5l-5.4 5.4M682.5 485.8h5.6M685.2 483v5.6M682.5 483.1l5.4 5.4M688 483.1l-5.4 5.4M689.3 485.3h5.6M692.1 482.5v5.6M689.4 482.6l5.4 5.4M694.8 482.6l-5.4 5.4M696.2 484.8h5.6M699 482v5.6M696.3 482.1l5.4 5.4M701.7 482.1l-5.4 5.4M703.1 484.4h5.6M705.9 481.6v5.6M703.2 481.7l5.4 5.4M708.6 481.7l-5.4 5.4M710 482.6h5.6M712.8 479.8v5.6M710.1 479.9l5.4 5.4M715.5 479.9l-5.4 5.4M716.9 480.8h5.6M719.7 478v5.6M717 478.1l5.4 5.4M722.4 478.1l-5.4 5.4M723.8 479.9h5.6M726.6 477.1v5.6M723.9 477.2l5.4 5.4M729.3 477.2l-5.4 5.4M730.7 478.9h5.6M733.5 476.1v5.6M730.8 476.2l5.4 5.4M736.2 476.2l-5.4 5.4M737.6 478.9h5.6M740.4 476.1v5.6M737.7 476.2l5.4 5.4M743.1 476.2l-5.4 5.4M744.5 480.8h5.6M747.3 478v5.6M744.6 478.1l5.4 5.4M750 478.1l-5.4 5.4M751.4 482.2h5.6M754.2 479.4v5.6M751.5 479.5l5.4 5.4M756.9 479.5l-5.4 5.4M758.3 482.6h5.6M761.1 479.8v5.6M758.4 479.9l5.4 5.4M763.8 479.9l-5.4 5.4M765.2 482.9h5.6M768 480.1v5.6M765.3 480.2l5.4 5.4M770.7 480.2l-5.4 5.4"/></g><path d="M602.5 557.2H768M602.5 532.7H768M602.5 508.2H768M602.5 483.7H768M630.08 581.7V463.8M657.67 581.7V463.8M685.25 581.7V463.8M712.83 581.7V463.8M740.42 581.7V463.8" stroke="#000" stroke-width="1" stroke-dasharray="1.1 2.03" stroke-dashoffset="-0.8" fill="none"/><path d="M630.08 463.8v5M630.08 581.7v-5M657.67 463.8v5M657.67 581.7v-5M685.25 463.8v5M685.25 581.7v-5M712.83 463.8v5M712.83 581.7v-5M740.42 463.8v5M740.42 581.7v-5M616.29 463.8v4M616.29 581.7v-4M643.88 463.8v4M643.88 581.7v-4M671.46 463.8v4M671.46 581.7v-4M699.04 463.8v4M699.04 581.7v-4M726.62 463.8v4M726.62 581.7v-4M754.21 463.8v4M754.21 581.7v-4M602.5 557.2h5M768 557.2h-5M602.5 532.7h5M768 532.7h-5M602.5 508.2h5M768 508.2h-5M602.5 483.7h5M768 483.7h-5M602.5 569.45h4M768 569.45h-4M602.5 544.95h4M768 544.95h-4M602.5 520.45h4M768 520.45h-4M602.5 495.95h4M768 495.95h-4M602.5 471.45h4M768 471.45h-4" stroke="#ff0000" stroke-width="1" fill="none"/><path d="M602 463.95H769" stroke="#ff0000" stroke-width="1.9" fill="none"/><path d="M602 581.7H769" stroke="#ff0000" stroke-width="1.6" fill="none"/><path d="M602.5 463.8V581.7" stroke="#ff0000" stroke-width="1" fill="none"/><path d="M768.3 463.8V581.7" stroke="#ff0000" stroke-width="1.4" fill="none"/><g fill="#ff0000" font-size="9.6" font-weight="bold"><text x="597.8" y="584.8" text-anchor="end">36</text><text x="597.8" y="560.3" text-anchor="end">56</text><text x="597.8" y="535.8" text-anchor="end">76</text><text x="597.8" y="511.3" text-anchor="end">96</text><text x="597.8" y="486.8" text-anchor="end">116</text><text x="602.5" y="592.7" text-anchor="middle">0</text><text x="630.08" y="592.7" text-anchor="middle">4</text><text x="657.67" y="592.7" text-anchor="middle">8</text><text x="685.25" y="592.7" text-anchor="middle">12</text><text x="712.83" y="592.7" text-anchor="middle">16</text><text x="740.42" y="592.7" text-anchor="middle">20</text><text x="768" y="592.7" text-anchor="middle">24</text></g><text clip-path="url(#l33)" x="654.1" y="606.6" textLength="62.9" lengthAdjust="spacingAndGlyphs" fill="#ff0000" font-size="9.5" font-weight="bold">Causeway Bay</text><g clip-path="url(#c34)" stroke="#00ffff" fill="none" stroke-width="1.1"><polyline points="795.5,520.7 802.4,515.2 809.3,512 816.2,509.4 823.1,508 830,508 836.9,508.3 843.8,510.1 850.7,512.5 857.6,516.7 864.5,520.3 871.4,521.6 878.2,522.8 885.1,522.8 892,522.8 898.9,522.5 905.8,522.1 912.7,520.3 919.6,518.5 926.5,515.2 933.4,513.8 940.3,513.8 947.2,514.3 954.1,515.2 961,515.2"/><path stroke-width="1.15" d="M792.7 520.7h5.6M795.5 517.9v5.6M792.8 518l5.4 5.4M798.2 518l-5.4 5.4M799.6 515.2h5.6M802.4 512.4v5.6M799.7 512.5l5.4 5.4M805.1 512.5l-5.4 5.4M806.5 512h5.6M809.3 509.2v5.6M806.6 509.3l5.4 5.4M812 509.3l-5.4 5.4M813.4 509.4h5.6M816.2 506.6v5.6M813.5 506.7l5.4 5.4M818.9 506.7l-5.4 5.4M820.3 508h5.6M823.1 505.2v5.6M820.4 505.3l5.4 5.4M825.8 505.3l-5.4 5.4M827.2 508h5.6M830 505.2v5.6M827.3 505.3l5.4 5.4M832.7 505.3l-5.4 5.4M834.1 508.3h5.6M836.9 505.5v5.6M834.2 505.6l5.4 5.4M839.6 505.6l-5.4 5.4M841 510.1h5.6M843.8 507.3v5.6M841.1 507.4l5.4 5.4M846.5 507.4l-5.4 5.4M847.9 512.5h5.6M850.7 509.7v5.6M848 509.8l5.4 5.4M853.4 509.8l-5.4 5.4M854.8 516.7h5.6M857.6 513.9v5.6M854.9 514l5.4 5.4M860.3 514l-5.4 5.4M861.7 520.3h5.6M864.5 517.5v5.6M861.8 517.6l5.4 5.4M867.2 517.6l-5.4 5.4M868.6 521.6h5.6M871.4 518.8v5.6M868.7 518.9l5.4 5.4M874.1 518.9l-5.4 5.4M875.5 522.8h5.6M878.2 520v5.6M875.5 520.1l5.4 5.4M881 520.1l-5.4 5.4M882.3 522.8h5.6M885.1 520v5.6M882.4 520.1l5.4 5.4M887.8 520.1l-5.4 5.4M889.2 522.8h5.6M892 520v5.6M889.3 520.1l5.4 5.4M894.7 520.1l-5.4 5.4M896.1 522.5h5.6M898.9 519.7v5.6M896.2 519.8l5.4 5.4M901.6 519.8l-5.4 5.4M903 522.1h5.6M905.8 519.3v5.6M903.1 519.4l5.4 5.4M908.5 519.4l-5.4 5.4M909.9 520.3h5.6M912.7 517.5v5.6M910 517.6l5.4 5.4M915.4 517.6l-5.4 5.4M916.8 518.5h5.6M919.6 515.7v5.6M916.9 515.8l5.4 5.4M922.3 515.8l-5.4 5.4M923.7 515.2h5.6M926.5 512.4v5.6M923.8 512.5l5.4 5.4M929.2 512.5l-5.4 5.4M930.6 513.8h5.6M933.4 511v5.6M930.7 511.1l5.4 5.4M936.1 511.1l-5.4 5.4M937.5 513.8h5.6M940.3 511v5.6M937.6 511.1l5.4 5.4M943 511.1l-5.4 5.4M944.4 514.3h5.6M947.2 511.5v5.6M944.5 511.6l5.4 5.4M949.9 511.6l-5.4 5.4M951.3 515.2h5.6M954.1 512.4v5.6M951.4 512.5l5.4 5.4M956.8 512.5l-5.4 5.4M958.2 515.2h5.6M961 512.4v5.6M958.3 512.5l5.4 5.4M963.7 512.5l-5.4 5.4"/></g><g clip-path="url(#c34)" stroke="#00ff00" fill="none" stroke-width="1.1"><polyline points="795.5,515.2 802.4,516.1 809.3,517.4 816.2,518.5 823.1,518.5 830,517 836.9,515.2 843.8,513.4 850.7,512 857.6,512 864.5,513 871.4,514.3 878.2,515.6 885.1,516.7 892,517.4 898.9,518.5 905.8,520.3 912.7,520.3 919.6,519.8 926.5,518.5 933.4,521.6 940.3,524.6 947.2,529.7 954.1,534.8 961,538.4"/><path stroke-width="1.15" d="M792.7 515.2h5.6M795.5 512.4v5.6M792.8 512.5l5.4 5.4M798.2 512.5l-5.4 5.4M799.6 516.1h5.6M802.4 513.3v5.6M799.7 513.4l5.4 5.4M805.1 513.4l-5.4 5.4M806.5 517.4h5.6M809.3 514.6v5.6M806.6 514.7l5.4 5.4M812 514.7l-5.4 5.4M813.4 518.5h5.6M816.2 515.7v5.6M813.5 515.8l5.4 5.4M818.9 515.8l-5.4 5.4M820.3 518.5h5.6M823.1 515.7v5.6M820.4 515.8l5.4 5.4M825.8 515.8l-5.4 5.4M827.2 517h5.6M830 514.2v5.6M827.3 514.3l5.4 5.4M832.7 514.3l-5.4 5.4M834.1 515.2h5.6M836.9 512.4v5.6M834.2 512.5l5.4 5.4M839.6 512.5l-5.4 5.4M841 513.4h5.6M843.8 510.6v5.6M841.1 510.7l5.4 5.4M846.5 510.7l-5.4 5.4M847.9 512h5.6M850.7 509.2v5.6M848 509.3l5.4 5.4M853.4 509.3l-5.4 5.4M854.8 512h5.6M857.6 509.2v5.6M854.9 509.3l5.4 5.4M860.3 509.3l-5.4 5.4M861.7 513h5.6M864.5 510.2v5.6M861.8 510.3l5.4 5.4M867.2 510.3l-5.4 5.4M868.6 514.3h5.6M871.4 511.5v5.6M868.7 511.6l5.4 5.4M874.1 511.6l-5.4 5.4M875.5 515.6h5.6M878.2 512.8v5.6M875.5 512.9l5.4 5.4M881 512.9l-5.4 5.4M882.3 516.7h5.6M885.1 513.9v5.6M882.4 514l5.4 5.4M887.8 514l-5.4 5.4M889.2 517.4h5.6M892 514.6v5.6M889.3 514.7l5.4 5.4M894.7 514.7l-5.4 5.4M896.1 518.5h5.6M898.9 515.7v5.6M896.2 515.8l5.4 5.4M901.6 515.8l-5.4 5.4M903 520.3h5.6M905.8 517.5v5.6M903.1 517.6l5.4 5.4M908.5 517.6l-5.4 5.4M909.9 520.3h5.6M912.7 517.5v5.6M910 517.6l5.4 5.4M915.4 517.6l-5.4 5.4M916.8 519.8h5.6M919.6 517v5.6M916.9 517.1l5.4 5.4M922.3 517.1l-5.4 5.4M923.7 518.5h5.6M926.5 515.7v5.6M923.8 515.8l5.4 5.4M929.2 515.8l-5.4 5.4M930.6 521.6h5.6M933.4 518.8v5.6M930.7 518.9l5.4 5.4M936.1 518.9l-5.4 5.4M937.5 524.6h5.6M940.3 521.8v5.6M937.6 521.9l5.4 5.4M943 521.9l-5.4 5.4M944.4 529.7h5.6M947.2 526.9v5.6M944.5 527l5.4 5.4M949.9 527l-5.4 5.4M951.3 534.8h5.6M954.1 532v5.6M951.4 532.1l5.4 5.4M956.8 532.1l-5.4 5.4M958.2 538.4h5.6M961 535.6v5.6M958.3 535.7l5.4 5.4M963.7 535.7l-5.4 5.4"/></g><g clip-path="url(#c34)" stroke="#0000ff" fill="none" stroke-width="1.1"><polyline points="795.5,537.3 802.4,541.5 809.3,545.7 816.2,549.3 823.1,552.4 830,554.8 836.9,556.6 843.8,558.4 850.7,560.9 857.6,560.6 864.5,559.6 871.4,558.7 878.2,558.4 885.1,557.8 892,557.8 898.9,557.8 905.8,558.4 912.7,558.4 919.6,558.7 926.5,559.1 933.4,559.6 940.3,557.8 947.2,557.3 954.1,556.6 961,554.2"/><path stroke-width="1.15" d="M792.7 537.3h5.6M795.5 534.5v5.6M792.8 534.6l5.4 5.4M798.2 534.6l-5.4 5.4M799.6 541.5h5.6M802.4 538.7v5.6M799.7 538.8l5.4 5.4M805.1 538.8l-5.4 5.4M806.5 545.7h5.6M809.3 542.9v5.6M806.6 543l5.4 5.4M812 543l-5.4 5.4M813.4 549.3h5.6M816.2 546.5v5.6M813.5 546.6l5.4 5.4M818.9 546.6l-5.4 5.4M820.3 552.4h5.6M823.1 549.6v5.6M820.4 549.7l5.4 5.4M825.8 549.7l-5.4 5.4M827.2 554.8h5.6M830 552v5.6M827.3 552.1l5.4 5.4M832.7 552.1l-5.4 5.4M834.1 556.6h5.6M836.9 553.8v5.6M834.2 553.9l5.4 5.4M839.6 553.9l-5.4 5.4M841 558.4h5.6M843.8 555.6v5.6M841.1 555.7l5.4 5.4M846.5 555.7l-5.4 5.4M847.9 560.9h5.6M850.7 558.1v5.6M848 558.2l5.4 5.4M853.4 558.2l-5.4 5.4M854.8 560.6h5.6M857.6 557.8v5.6M854.9 557.9l5.4 5.4M860.3 557.9l-5.4 5.4M861.7 559.6h5.6M864.5 556.8v5.6M861.8 556.9l5.4 5.4M867.2 556.9l-5.4 5.4M868.6 558.7h5.6M871.4 555.9v5.6M868.7 556l5.4 5.4M874.1 556l-5.4 5.4M875.5 558.4h5.6M878.2 555.6v5.6M875.5 555.7l5.4 5.4M881 555.7l-5.4 5.4M882.3 557.8h5.6M885.1 555v5.6M882.4 555.1l5.4 5.4M887.8 555.1l-5.4 5.4M889.2 557.8h5.6M892 555v5.6M889.3 555.1l5.4 5.4M894.7 555.1l-5.4 5.4M896.1 557.8h5.6M898.9 555v5.6M896.2 555.1l5.4 5.4M901.6 555.1l-5.4 5.4M903 558.4h5.6M905.8 555.6v5.6M903.1 555.7l5.4 5.4M908.5 555.7l-5.4 5.4M909.9 558.4h5.6M912.7 555.6v5.6M910 555.7l5.4 5.4M915.4 555.7l-5.4 5.4M916.8 558.7h5.6M919.6 555.9v5.6M916.9 556l5.4 5.4M922.3 556l-5.4 5.4M923.7 559.1h5.6M926.5 556.3v5.6M923.8 556.4l5.4 5.4M929.2 556.4l-5.4 5.4M930.6 559.6h5.6M933.4 556.8v5.6M930.7 556.9l5.4 5.4M936.1 556.9l-5.4 5.4M937.5 557.8h5.6M940.3 555v5.6M937.6 555.1l5.4 5.4M943 555.1l-5.4 5.4M944.4 557.3h5.6M947.2 554.5v5.6M944.5 554.6l5.4 5.4M949.9 554.6l-5.4 5.4M951.3 556.6h5.6M954.1 553.8v5.6M951.4 553.9l5.4 5.4M956.8 553.9l-5.4 5.4M958.2 554.2h5.6M961 551.4v5.6M958.3 551.5l5.4 5.4M963.7 551.5l-5.4 5.4"/></g><g clip-path="url(#c34)" stroke="#ff0000" fill="none" stroke-width="1.1"><polyline points="795.5,553.3 802.4,552.4 809.3,554.8 816.2,557.3 823.1,560.2 830,561.5 836.9,563.8 843.8,564.5 850.7,564.5 857.6,565.1 864.5,566 871.4,566.9 878.2,567.4 885.1,567.8 892,568.2 898.9,568.2 905.8,564.5 912.7,558.7 919.6,556.6 926.5,552.4 933.4,548.8 940.3,546.4 947.2,545.7 954.1,545.7 961,545.7"/><path stroke-width="1.15" d="M792.7 553.3h5.6M795.5 550.5v5.6M792.8 550.6l5.4 5.4M798.2 550.6l-5.4 5.4M799.6 552.4h5.6M802.4 549.6v5.6M799.7 549.7l5.4 5.4M805.1 549.7l-5.4 5.4M806.5 554.8h5.6M809.3 552v5.6M806.6 552.1l5.4 5.4M812 552.1l-5.4 5.4M813.4 557.3h5.6M816.2 554.5v5.6M813.5 554.6l5.4 5.4M818.9 554.6l-5.4 5.4M820.3 560.2h5.6M823.1 557.4v5.6M820.4 557.5l5.4 5.4M825.8 557.5l-5.4 5.4M827.2 561.5h5.6M830 558.7v5.6M827.3 558.8l5.4 5.4M832.7 558.8l-5.4 5.4M834.1 563.8h5.6M836.9 561v5.6M834.2 561.1l5.4 5.4M839.6 561.1l-5.4 5.4M841 564.5h5.6M843.8 561.7v5.6M841.1 561.8l5.4 5.4M846.5 561.8l-5.4 5.4M847.9 564.5h5.6M850.7 561.7v5.6M848 561.8l5.4 5.4M853.4 561.8l-5.4 5.4M854.8 565.1h5.6M857.6 562.3v5.6M854.9 562.4l5.4 5.4M860.3 562.4l-5.4 5.4M861.7 566h5.6M864.5 563.2v5.6M861.8 563.3l5.4 5.4M867.2 563.3l-5.4 5.4M868.6 566.9h5.6M871.4 564.1v5.6M868.7 564.2l5.4 5.4M874.1 564.2l-5.4 5.4M875.5 567.4h5.6M878.2 564.6v5.6M875.5 564.7l5.4 5.4M881 564.7l-5.4 5.4M882.3 567.8h5.6M885.1 565v5.6M882.4 565.1l5.4 5.4M887.8 565.1l-5.4 5.4M889.2 568.2h5.6M892 565.4v5.6M889.3 565.5l5.4 5.4M894.7 565.5l-5.4 5.4M896.1 568.2h5.6M898.9 565.4v5.6M896.2 565.5l5.4 5.4M901.6 565.5l-5.4 5.4M903 564.5h5.6M905.8 561.7v5.6M903.1 561.8l5.4 5.4M908.5 561.8l-5.4 5.4M909.9 558.7h5.6M912.7 555.9v5.6M910 556l5.4 5.4M915.4 556l-5.4 5.4M916.8 556.6h5.6M919.6 553.8v5.6M916.9 553.9l5.4 5.4M922.3 553.9l-5.4 5.4M923.7 552.4h5.6M926.5 549.6v5.6M923.8 549.7l5.4 5.4M929.2 549.7l-5.4 5.4M930.6 548.8h5.6M933.4 546v5.6M930.7 546.1l5.4 5.4M936.1 546.1l-5.4 5.4M937.5 546.4h5.6M940.3 543.6v5.6M937.6 543.7l5.4 5.4M943 543.7l-5.4 5.4M944.4 545.7h5.6M947.2 542.9v5.6M944.5 543l5.4 5.4M949.9 543l-5.4 5.4M951.3 545.7h5.6M954.1 542.9v5.6M951.4 543l5.4 5.4M956.8 543l-5.4 5.4M958.2 545.7h5.6M961 542.9v5.6M958.3 543l5.4 5.4M963.7 543l-5.4 5.4"/></g><path d="M795.5 557.2H961M795.5 532.7H961M795.5 508.2H961M795.5 483.7H961M823.08 581.7V463.8M850.67 581.7V463.8M878.25 581.7V463.8M905.83 581.7V463.8M933.42 581.7V463.8" stroke="#000" stroke-width="1" stroke-dasharray="1.1 2.03" stroke-dashoffset="-0.8" fill="none"/><path d="M823.08 463.8v5M823.08 581.7v-5M850.67 463.8v5M850.67 581.7v-5M878.25 463.8v5M878.25 581.7v-5M905.83 463.8v5M905.83 581.7v-5M933.42 463.8v5M933.42 581.7v-5M809.29 463.8v4M809.29 581.7v-4M836.88 463.8v4M836.88 581.7v-4M864.46 463.8v4M864.46 581.7v-4M892.04 463.8v4M892.04 581.7v-4M919.62 463.8v4M919.62 581.7v-4M947.21 463.8v4M947.21 581.7v-4M795.5 557.2h5M961 557.2h-5M795.5 532.7h5M961 532.7h-5M795.5 508.2h5M961 508.2h-5M795.5 483.7h5M961 483.7h-5M795.5 569.45h4M961 569.45h-4M795.5 544.95h4M961 544.95h-4M795.5 520.45h4M961 520.45h-4M795.5 495.95h4M961 495.95h-4M795.5 471.45h4M961 471.45h-4" stroke="#000000" stroke-width="1" fill="none"/><path d="M795 463.95H962" stroke="#000000" stroke-width="1.9" fill="none"/><path d="M795 581.7H962" stroke="#000000" stroke-width="1.6" fill="none"/><path d="M795.5 463.8V581.7" stroke="#000000" stroke-width="1" fill="none"/><path d="M961.3 463.8V581.7" stroke="#000000" stroke-width="1.4" fill="none"/><g fill="#000000" font-size="9.6" font-weight="bold"><text x="790.8" y="584.8" text-anchor="end">36</text><text x="790.8" y="560.3" text-anchor="end">56</text><text x="790.8" y="535.8" text-anchor="end">76</text><text x="790.8" y="511.3" text-anchor="end">96</text><text x="790.8" y="486.8" text-anchor="end">116</text><text x="795.5" y="592.7" text-anchor="middle">0</text><text x="823.08" y="592.7" text-anchor="middle">4</text><text x="850.67" y="592.7" text-anchor="middle">8</text><text x="878.25" y="592.7" text-anchor="middle">12</text><text x="905.83" y="592.7" text-anchor="middle">16</text><text x="933.42" y="592.7" text-anchor="middle">20</text><text x="961" y="592.7" text-anchor="middle">24</text></g><text clip-path="url(#l34)" x="861.75" y="606.6" textLength="33.6" lengthAdjust="spacingAndGlyphs" fill="#000000" font-size="9.5" font-weight="bold">Eastern</text><g clip-path="url(#c40)" stroke="#00ffff" fill="none" stroke-width="1.1"><polyline points="23.5,685 30.4,686.8 37.3,687.2 44.2,686.4 51.1,686.4 58,686.8 64.9,687.2 71.8,687.7 78.7,688.6 85.6,690.1 92.5,692.6 99.4,695.5 106.2,698.6 113.1,699.5 120,700.9 126.9,690.4 133.8,660.5 140.7,636 147.6,630.2 154.5,629.1 161.4,633.8 168.3,638.2 175.2,640 182.1,649.6 189,666.8"/><path stroke-width="1.15" d="M20.7 685h5.6M23.5 682.2v5.6M20.8 682.3l5.4 5.4M26.2 682.3l-5.4 5.4M27.6 686.8h5.6M30.4 684v5.6M27.7 684.1l5.4 5.4M33.1 684.1l-5.4 5.4M34.5 687.2h5.6M37.3 684.4v5.6M34.6 684.5l5.4 5.4M40 684.5l-5.4 5.4M41.4 686.4h5.6M44.2 683.6v5.6M41.5 683.7l5.4 5.4M46.9 683.7l-5.4 5.4M48.3 686.4h5.6M51.1 683.6v5.6M48.4 683.7l5.4 5.4M53.8 683.7l-5.4 5.4M55.2 686.8h5.6M58 684v5.6M55.3 684.1l5.4 5.4M60.7 684.1l-5.4 5.4M62.1 687.2h5.6M64.9 684.4v5.6M62.2 684.5l5.4 5.4M67.6 684.5l-5.4 5.4M69 687.7h5.6M71.8 684.9v5.6M69.1 685l5.4 5.4M74.5 685l-5.4 5.4M75.9 688.6h5.6M78.7 685.8v5.6M76 685.9l5.4 5.4M81.4 685.9l-5.4 5.4M82.8 690.1h5.6M85.6 687.3v5.6M82.9 687.4l5.4 5.4M88.3 687.4l-5.4 5.4M89.7 692.6h5.6M92.5 689.8v5.6M89.8 689.9l5.4 5.4M95.2 689.9l-5.4 5.4M96.6 695.5h5.6M99.4 692.7v5.6M96.7 692.8l5.4 5.4M102.1 692.8l-5.4 5.4M103.5 698.6h5.6M106.2 695.8v5.6M103.5 695.9l5.4 5.4M109 695.9l-5.4 5.4M110.3 699.5h5.6M113.1 696.7v5.6M110.4 696.8l5.4 5.4M115.8 696.8l-5.4 5.4M117.2 700.9h5.6M120 698.1v5.6M117.3 698.2l5.4 5.4M122.7 698.2l-5.4 5.4M124.1 690.4h5.6M126.9 687.6v5.6M124.2 687.7l5.4 5.4M129.6 687.7l-5.4 5.4M131 660.5h5.6M133.8 657.7v5.6M131.1 657.8l5.4 5.4M136.5 657.8l-5.4 5.4M137.9 636h5.6M140.7 633.2v5.6M138 633.3l5.4 5.4M143.4 633.3l-5.4 5.4M144.8 630.2h5.6M147.6 627.4v5.6M144.9 627.5l5.4 5.4M150.3 627.5l-5.4 5.4M151.7 629.1h5.6M154.5 626.3v5.6M151.8 626.4l5.4 5.4M157.2 626.4l-5.4 5.4M158.6 633.8h5.6M161.4 631v5.6M158.7 631.1l5.4 5.4M164.1 631.1l-5.4 5.4M165.5 638.2h5.6M168.3 635.4v5.6M165.6 635.5l5.4 5.4M171 635.5l-5.4 5.4M172.4 640h5.6M175.2 637.2v5.6M172.5 637.3l5.4 5.4M177.9 637.3l-5.4 5.4M179.3 649.6h5.6M182.1 646.8v5.6M179.4 646.9l5.4 5.4M184.8 646.9l-5.4 5.4M186.2 666.8h5.6M189 664v5.6M186.3 664.1l5.4 5.4M191.7 664.1l-5.4 5.4"/></g><g clip-path="url(#c40)" stroke="#00ff00" fill="none" stroke-width="1.1"><polyline points="23.5,666.5 30.4,676.8 37.3,683.5 44.2,686.4 51.1,682.8 58,674.5 64.9,675.9 71.8,678.6 78.7,713.6 85.6,712.2 92.5,711.3 99.4,674.1 106.2,668.3 113.1,671.9 120,673.2 126.9,668.7 133.8,665.4 140.7,663.2 147.6,663.2 154.5,662.9 161.4,666.8 168.3,675.9 175.2,688.6 182.1,698.6 189,696.2"/><path stroke-width="1.15" d="M20.7 666.5h5.6M23.5 663.7v5.6M20.8 663.8l5.4 5.4M26.2 663.8l-5.4 5.4M27.6 676.8h5.6M30.4 674v5.6M27.7 674.1l5.4 5.4M33.1 674.1l-5.4 5.4M34.5 683.5h5.6M37.3 680.7v5.6M34.6 680.8l5.4 5.4M40 680.8l-5.4 5.4M41.4 686.4h5.6M44.2 683.6v5.6M41.5 683.7l5.4 5.4M46.9 683.7l-5.4 5.4M48.3 682.8h5.6M51.1 680v5.6M48.4 680.1l5.4 5.4M53.8 680.1l-5.4 5.4M55.2 674.5h5.6M58 671.7v5.6M55.3 671.8l5.4 5.4M60.7 671.8l-5.4 5.4M62.1 675.9h5.6M64.9 673.1v5.6M62.2 673.2l5.4 5.4M67.6 673.2l-5.4 5.4M69 678.6h5.6M71.8 675.8v5.6M69.1 675.9l5.4 5.4M74.5 675.9l-5.4 5.4M75.9 713.6h5.6M78.7 710.8v5.6M76 710.9l5.4 5.4M81.4 710.9l-5.4 5.4M82.8 712.2h5.6M85.6 709.4v5.6M82.9 709.5l5.4 5.4M88.3 709.5l-5.4 5.4M89.7 711.3h5.6M92.5 708.5v5.6M89.8 708.6l5.4 5.4M95.2 708.6l-5.4 5.4M96.6 674.1h5.6M99.4 671.3v5.6M96.7 671.4l5.4 5.4M102.1 671.4l-5.4 5.4M103.5 668.3h5.6M106.2 665.5v5.6M103.5 665.6l5.4 5.4M109 665.6l-5.4 5.4M110.3 671.9h5.6M113.1 669.1v5.6M110.4 669.2l5.4 5.4M115.8 669.2l-5.4 5.4M117.2 673.2h5.6M120 670.4v5.6M117.3 670.5l5.4 5.4M122.7 670.5l-5.4 5.4M124.1 668.7h5.6M126.9 665.9v5.6M124.2 666l5.4 5.4M129.6 666l-5.4 5.4M131 665.4h5.6M133.8 662.6v5.6M131.1 662.7l5.4 5.4M136.5 662.7l-5.4 5.4M137.9 663.2h5.6M140.7 660.4v5.6M138 660.5l5.4 5.4M143.4 660.5l-5.4 5.4M144.8 663.2h5.6M147.6 660.4v5.6M144.9 660.5l5.4 5.4M150.3 660.5l-5.4 5.4M151.7 662.9h5.6M154.5 660.1v5.6M151.8 660.2l5.4 5.4M157.2 660.2l-5.4 5.4M158.6 666.8h5.6M161.4 664v5.6M158.7 664.1l5.4 5.4M164.1 664.1l-5.4 5.4M165.5 675.9h5.6M168.3 673.1v5.6M165.6 673.2l5.4 5.4M171 673.2l-5.4 5.4M172.4 688.6h5.6M175.2 685.8v5.6M172.5 685.9l5.4 5.4M177.9 685.9l-5.4 5.4M179.3 698.6h5.6M182.1 695.8v5.6M179.4 695.9l5.4 5.4M184.8 695.9l-5.4 5.4M186.2 696.2h5.6M189 693.4v5.6M186.3 693.5l5.4 5.4M191.7 693.5l-5.4 5.4"/></g><g clip-path="url(#c40)" stroke="#0000ff" fill="none" stroke-width="1.1"><polyline points="23.5,696.8 30.4,697.7 37.3,698 44.2,699.9 51.1,702.8 58,705.8 64.9,707.6 71.8,709.5 78.7,710 85.6,708.9 92.5,706.7 99.4,704.9 106.2,704.6 113.1,705.3 120,706.4 126.9,706.4 133.8,707.1 140.7,707.6 147.6,708.2 154.5,707.6 161.4,708.9 168.3,710 175.2,711.3 182.1,710.7 189,710"/><path stroke-width="1.15" d="M20.7 696.8h5.6M23.5 694v5.6M20.8 694.1l5.4 5.4M26.2 694.1l-5.4 5.4M27.6 697.7h5.6M30.4 694.9v5.6M27.7 695l5.4 5.4M33.1 695l-5.4 5.4M34.5 698h5.6M37.3 695.2v5.6M34.6 695.3l5.4 5.4M40 695.3l-5.4 5.4M41.4 699.9h5.6M44.2 697.1v5.6M41.5 697.2l5.4 5.4M46.9 697.2l-5.4 5.4M48.3 702.8h5.6M51.1 700v5.6M48.4 700.1l5.4 5.4M53.8 700.1l-5.4 5.4M55.2 705.8h5.6M58 703v5.6M55.3 703.1l5.4 5.4M60.7 703.1l-5.4 5.4M62.1 707.6h5.6M64.9 704.8v5.6M62.2 704.9l5.4 5.4M67.6 704.9l-5.4 5.4M69 709.5h5.6M71.8 706.7v5.6M69.1 706.8l5.4 5.4M74.5 706.8l-5.4 5.4M75.9 710h5.6M78.7 707.2v5.6M76 707.3l5.4 5.4M81.4 707.3l-5.4 5.4M82.8 708.9h5.6M85.6 706.1v5.6M82.9 706.2l5.4 5.4M88.3 706.2l-5.4 5.4M89.7 706.7h5.6M92.5 703.9v5.6M89.8 704l5.4 5.4M95.2 704l-5.4 5.4M96.6 704.9h5.6M99.4 702.1v5.6M96.7 702.2l5.4 5.4M102.1 702.2l-5.4 5.4M103.5 704.6h5.6M106.2 701.8v5.6M103.5 701.9l5.4 5.4M109 701.9l-5.4 5.4M110.3 705.3h5.6M113.1 702.5v5.6M110.4 702.6l5.4 5.4M115.8 702.6l-5.4 5.4M117.2 706.4h5.6M120 703.6v5.6M117.3 703.7l5.4 5.4M122.7 703.7l-5.4 5.4M124.1 706.4h5.6M126.9 703.6v5.6M124.2 703.7l5.4 5.4M129.6 703.7l-5.4 5.4M131 707.1h5.6M133.8 704.3v5.6M131.1 704.4l5.4 5.4M136.5 704.4l-5.4 5.4M137.9 707.6h5.6M140.7 704.8v5.6M138 704.9l5.4 5.4M143.4 704.9l-5.4 5.4M144.8 708.2h5.6M147.6 705.4v5.6M144.9 705.5l5.4 5.4M150.3 705.5l-5.4 5.4M151.7 707.6h5.6M154.5 704.8v5.6M151.8 704.9l5.4 5.4M157.2 704.9l-5.4 5.4M158.6 708.9h5.6M161.4 706.1v5.6M158.7 706.2l5.4 5.4M164.1 706.2l-5.4 5.4M165.5 710h5.6M168.3 707.2v5.6M165.6 707.3l5.4 5.4M171 707.3l-5.4 5.4M172.4 711.3h5.6M175.2 708.5v5.6M172.5 708.6l5.4 5.4M177.9 708.6l-5.4 5.4M179.3 710.7h5.6M182.1 707.9v5.6M179.4 708l5.4 5.4M184.8 708l-5.4 5.4M186.2 710h5.6M189 707.2v5.6M186.3 707.3l5.4 5.4M191.7 707.3l-5.4 5.4"/></g><g clip-path="url(#c40)" stroke="#ff0000" fill="none" stroke-width="1.1"><polyline points="23.5,710 30.4,707.1 37.3,705.8 44.2,704 51.1,702.8 58,702.2 64.9,701.3 71.8,700.4 78.7,698.6 85.6,698 92.5,696.8 99.4,695.9 106.2,694.4 113.1,690.8 120,687.7 126.9,685.3 133.8,683.2 140.7,681 147.6,678.6 154.5,675.5 161.4,671.4 168.3,670.1 175.2,671.4 182.1,672.3 189,673.2"/><path stroke-width="1.15" d="M20.7 710h5.6M23.5 707.2v5.6M20.8 707.3l5.4 5.4M26.2 707.3l-5.4 5.4M27.6 707.1h5.6M30.4 704.3v5.6M27.7 704.4l5.4 5.4M33.1 704.4l-5.4 5.4M34.5 705.8h5.6M37.3 703v5.6M34.6 703.1l5.4 5.4M40 703.1l-5.4 5.4M41.4 704h5.6M44.2 701.2v5.6M41.5 701.3l5.4 5.4M46.9 701.3l-5.4 5.4M48.3 702.8h5.6M51.1 700v5.6M48.4 700.1l5.4 5.4M53.8 700.1l-5.4 5.4M55.2 702.2h5.6M58 699.4v5.6M55.3 699.5l5.4 5.4M60.7 699.5l-5.4 5.4M62.1 701.3h5.6M64.9 698.5v5.6M62.2 698.6l5.4 5.4M67.6 698.6l-5.4 5.4M69 700.4h5.6M71.8 697.6v5.6M69.1 697.7l5.4 5.4M74.5 697.7l-5.4 5.4M75.9 698.6h5.6M78.7 695.8v5.6M76 695.9l5.4 5.4M81.4 695.9l-5.4 5.4M82.8 698h5.6M85.6 695.2v5.6M82.9 695.3l5.4 5.4M88.3 695.3l-5.4 5.4M89.7 696.8h5.6M92.5 694v5.6M89.8 694.1l5.4 5.4M95.2 694.1l-5.4 5.4M96.6 695.9h5.6M99.4 693.1v5.6M96.7 693.2l5.4 5.4M102.1 693.2l-5.4 5.4M103.5 694.4h5.6M106.2 691.6v5.6M103.5 691.7l5.4 5.4M109 691.7l-5.4 5.4M110.3 690.8h5.6M113.1 688v5.6M110.4 688.1l5.4 5.4M115.8 688.1l-5.4 5.4M117.2 687.7h5.6M120 684.9v5.6M117.3 685l5.4 5.4M122.7 685l-5.4 5.4M124.1 685.3h5.6M126.9 682.5v5.6M124.2 682.6l5.4 5.4M129.6 682.6l-5.4 5.4M131 683.2h5.6M133.8 680.4v5.6M131.1 680.5l5.4 5.4M136.5 680.5l-5.4 5.4M137.9 681h5.6M140.7 678.2v5.6M138 678.3l5.4 5.4M143.4 678.3l-5.4 5.4M144.8 678.6h5.6M147.6 675.8v5.6M144.9 675.9l5.4 5.4M150.3 675.9l-5.4 5.4M151.7 675.5h5.6M154.5 672.7v5.6M151.8 672.8l5.4 5.4M157.2 672.8l-5.4 5.4M158.6 671.4h5.6M161.4 668.6v5.6M158.7 668.7l5.4 5.4M164.1 668.7l-5.4 5.4M165.5 670.1h5.6M168.3 667.3v5.6M165.6 667.4l5.4 5.4M171 667.4l-5.4 5.4M172.4 671.4h5.6M175.2 668.6v5.6M172.5 668.7l5.4 5.4M177.9 668.7l-5.4 5.4M179.3 672.3h5.6M182.1 669.5v5.6M179.4 669.6l5.4 5.4M184.8 669.6l-5.4 5.4M186.2 673.2h5.6M189 670.4v5.6M186.3 670.5l5.4 5.4M191.7 670.5l-5.4 5.4"/></g><path d="M23.5 705.2H189M23.5 680.7H189M23.5 656.2H189M23.5 631.7H189M51.08 729.7V611.8M78.67 729.7V611.8M106.25 729.7V611.8M133.83 729.7V611.8M161.42 729.7V611.8" stroke="#000" stroke-width="1" stroke-dasharray="1.1 2.03" stroke-dashoffset="-0.8" fill="none"/><path d="M51.08 611.8v5M51.08 729.7v-5M78.67 611.8v5M78.67 729.7v-5M106.25 611.8v5M106.25 729.7v-5M133.83 611.8v5M133.83 729.7v-5M161.42 611.8v5M161.42 729.7v-5M37.29 611.8v4M37.29 729.7v-4M64.88 611.8v4M64.88 729.7v-4M92.46 611.8v4M92.46 729.7v-4M120.04 611.8v4M120.04 729.7v-4M147.62 611.8v4M147.62 729.7v-4M175.21 611.8v4M175.21 729.7v-4M23.5 705.2h5M189 705.2h-5M23.5 680.7h5M189 680.7h-5M23.5 656.2h5M189 656.2h-5M23.5 631.7h5M189 631.7h-5M23.5 717.45h4M189 717.45h-4M23.5 692.95h4M189 692.95h-4M23.5 668.45h4M189 668.45h-4M23.5 643.95h4M189 643.95h-4M23.5 619.45h4M189 619.45h-4" stroke="#000000" stroke-width="1" fill="none"/><path d="M23 611.95H190" stroke="#000000" stroke-width="1.9" fill="none"/><path d="M23 729.7H190" stroke="#000000" stroke-width="1.6" fill="none"/><path d="M23.5 611.8V729.7" stroke="#000000" stroke-width="1" fill="none"/><path d="M189.3 611.8V729.7" stroke="#000000" stroke-width="1.4" fill="none"/><g fill="#000000" font-size="9.6" font-weight="bold"><text x="18.8" y="732.8" text-anchor="end">36</text><text x="18.8" y="708.3" text-anchor="end">56</text><text x="18.8" y="683.8" text-anchor="end">76</text><text x="18.8" y="659.3" text-anchor="end">96</text><text x="18.8" y="634.8" text-anchor="end">116</text><text x="23.5" y="740.7" text-anchor="middle">0</text><text x="51.08" y="740.7" text-anchor="middle">4</text><text x="78.67" y="740.7" text-anchor="middle">8</text><text x="106.25" y="740.7" text-anchor="middle">12</text><text x="133.83" y="740.7" text-anchor="middle">16</text><text x="161.42" y="740.7" text-anchor="middle">20</text><text x="189" y="740.7" text-anchor="middle">24</text></g><text clip-path="url(#l40)" x="79.8" y="754.6" textLength="53.5" lengthAdjust="spacingAndGlyphs" fill="#000000" font-size="9.5" font-weight="bold">Tung Chung</text><path d="M216.5 705.2H382M216.5 680.7H382M216.5 656.2H382M216.5 631.7H382M244.08 729.7V611.8M271.67 729.7V611.8M299.25 729.7V611.8M326.83 729.7V611.8M354.42 729.7V611.8" stroke="#000" stroke-width="1" stroke-dasharray="1.1 2.03" stroke-dashoffset="-0.8" fill="none"/><path d="M244.08 611.8v5M244.08 729.7v-5M271.67 611.8v5M271.67 729.7v-5M299.25 611.8v5M299.25 729.7v-5M326.83 611.8v5M326.83 729.7v-5M354.42 611.8v5M354.42 729.7v-5M230.29 611.8v4M230.29 729.7v-4M257.88 611.8v4M257.88 729.7v-4M285.46 611.8v4M285.46 729.7v-4M313.04 611.8v4M313.04 729.7v-4M340.62 611.8v4M340.62 729.7v-4M368.21 611.8v4M368.21 729.7v-4M216.5 705.2h5M382 705.2h-5M216.5 680.7h5M382 680.7h-5M216.5 656.2h5M382 656.2h-5M216.5 631.7h5M382 631.7h-5M216.5 717.45h4M382 717.45h-4M216.5 692.95h4M382 692.95h-4M216.5 668.45h4M382 668.45h-4M216.5 643.95h4M382 643.95h-4M216.5 619.45h4M382 619.45h-4" stroke="#000000" stroke-width="1" fill="none"/><path d="M216 611.95H383" stroke="#000000" stroke-width="1.9" fill="none"/><path d="M216 729.7H383" stroke="#000000" stroke-width="1.6" fill="none"/><path d="M216.5 611.8V729.7" stroke="#000000" stroke-width="1" fill="none"/><path d="M382.3 611.8V729.7" stroke="#000000" stroke-width="1.4" fill="none"/><g fill="#000000" font-size="9.6" font-weight="bold"><text x="211.8" y="732.8" text-anchor="end">36</text><text x="211.8" y="708.3" text-anchor="end">56</text><text x="211.8" y="683.8" text-anchor="end">76</text><text x="211.8" y="659.3" text-anchor="end">96</text><text x="211.8" y="634.8" text-anchor="end">116</text><text x="216.5" y="740.7" text-anchor="middle">0</text><text x="244.08" y="740.7" text-anchor="middle">4</text><text x="271.67" y="740.7" text-anchor="middle">8</text><text x="299.25" y="740.7" text-anchor="middle">12</text><text x="326.83" y="740.7" text-anchor="middle">16</text><text x="354.42" y="740.7" text-anchor="middle">20</text><text x="382" y="740.7" text-anchor="middle">24</text></g><text clip-path="url(#l41)" x="248.2" y="754.6" textLength="102.7" lengthAdjust="spacingAndGlyphs" fill="#000000" font-size="9.5" font-weight="bold">Airport, Pump House 5</text><path d="M409.5 705.2H575M409.5 680.7H575M409.5 656.2H575M409.5 631.7H575M437.08 729.7V611.8M464.67 729.7V611.8M492.25 729.7V611.8M519.83 729.7V611.8M547.42 729.7V611.8" stroke="#000" stroke-width="1" stroke-dasharray="1.1 2.03" stroke-dashoffset="-0.8" fill="none"/><path d="M437.08 611.8v5M437.08 729.7v-5M464.67 611.8v5M464.67 729.7v-5M492.25 611.8v5M492.25 729.7v-5M519.83 611.8v5M519.83 729.7v-5M547.42 611.8v5M547.42 729.7v-5M423.29 611.8v4M423.29 729.7v-4M450.88 611.8v4M450.88 729.7v-4M478.46 611.8v4M478.46 729.7v-4M506.04 611.8v4M506.04 729.7v-4M533.62 611.8v4M533.62 729.7v-4M561.21 611.8v4M561.21 729.7v-4M409.5 705.2h5M575 705.2h-5M409.5 680.7h5M575 680.7h-5M409.5 656.2h5M575 656.2h-5M409.5 631.7h5M575 631.7h-5M409.5 717.45h4M575 717.45h-4M409.5 692.95h4M575 692.95h-4M409.5 668.45h4M575 668.45h-4M409.5 643.95h4M575 643.95h-4M409.5 619.45h4M575 619.45h-4" stroke="#000000" stroke-width="1" fill="none"/><path d="M409 611.95H576" stroke="#000000" stroke-width="1.9" fill="none"/><path d="M409 729.7H576" stroke="#000000" stroke-width="1.6" fill="none"/><path d="M409.5 611.8V729.7" stroke="#000000" stroke-width="1" fill="none"/><path d="M575.3 611.8V729.7" stroke="#000000" stroke-width="1.4" fill="none"/><g fill="#000000" font-size="9.6" font-weight="bold"><text x="404.8" y="732.8" text-anchor="end">36</text><text x="404.8" y="708.3" text-anchor="end">56</text><text x="404.8" y="683.8" text-anchor="end">76</text><text x="404.8" y="659.3" text-anchor="end">96</text><text x="404.8" y="634.8" text-anchor="end">116</text><text x="409.5" y="740.7" text-anchor="middle">0</text><text x="437.08" y="740.7" text-anchor="middle">4</text><text x="464.67" y="740.7" text-anchor="middle">8</text><text x="492.25" y="740.7" text-anchor="middle">12</text><text x="519.83" y="740.7" text-anchor="middle">16</text><text x="547.42" y="740.7" text-anchor="middle">20</text><text x="575" y="740.7" text-anchor="middle">24</text></g><text clip-path="url(#l42)" x="472.05" y="754.6" textLength="41" lengthAdjust="spacingAndGlyphs" fill="#000000" font-size="9.5" font-weight="bold">Southern</text><polyline clip-path="url(#c44)" points="795.5,626.9 795.8,626.9 796.1,626.8 796.4,626.7 796.6,626.7 796.9,626.6 797.2,626.6 797.5,626.6 797.8,626.6 798.1,626.6 798.4,626.6 798.7,626.6 798.9,626.6 799.2,626.6 799.5,626.6 799.8,626.6 800.1,626.6 800.4,626.6 800.7,626.6 801,626.6 801.2,626.5 801.5,626.5 801.8,626.5 802.1,626.5 802.4,626.6 802.7,626.7 803,626.8 803.3,626.9 803.5,627.1 803.8,627.2 804.1,627.3 804.4,627.4 804.7,627.4 805,627.4 805.3,627.4 805.6,627.3 805.8,627.3 806.1,627.3 806.4,627.3 806.7,627.3 807,627.3 807.3,627.3 807.6,627.3 807.9,627.3 808.1,627.3 808.4,627.3 808.7,627.3 809,627.3 809.3,627.3 809.6,627.4 809.9,627.4 810.2,627.5 810.4,627.6 810.7,627.7 811,627.9 811.3,628 811.6,628.2 811.9,628.3 812.2,628.5 812.5,628.6 812.7,628.8 813,628.9 813.3,629 813.6,629.1 813.9,629.3 814.2,629.5 814.5,629.7 814.8,629.9 815,630.2 815.3,630.5 815.6,630.9 815.9,631.2 816.2,631.5 816.5,631.7 816.8,632 817,632.2 817.3,632.4 817.6,632.6 817.9,632.8 818.2,632.9 818.5,633.1 818.8,633.3 819.1,633.5 819.3,633.6 819.6,633.8 819.9,634 820.2,634.2 820.5,634.4 820.8,634.7 821.1,634.9 821.4,635.1 821.6,635.3 821.9,635.6 822.2,635.9 822.5,636.2 822.8,636.5 823.1,636.9 823.4,637.4 823.7,637.9 823.9,638.4 824.2,639 824.5,639.5 824.8,640 825.1,640.5 825.4,640.9 825.7,641.3 826,641.7 826.2,642 826.5,642.4 826.8,642.7 827.1,643 827.4,643.3 827.7,643.6 828,643.9 828.3,644.2 828.5,644.5 828.8,644.8 829.1,645.1 829.4,645.4 829.7,645.7 830,646 830.3,646.2 830.6,646.5 830.8,646.7 831.1,646.9 831.4,647.1 831.7,647.3 832,647.5 832.3,647.7 832.6,647.9 832.9,648 833.1,648.2 833.4,648.3 833.7,648.5 834,648.6 834.3,648.6 834.6,648.7 834.9,648.7 835.2,648.7 835.4,648.7 835.7,648.7 836,648.7 836.3,648.8 836.6,648.9 836.9,649.1 837.2,649.4 837.4,649.7 837.7,650.1 838,650.6 838.3,651 838.6,651.4 838.9,651.8 839.2,652.1 839.5,652.4 839.7,652.7 840,653 840.3,653.2 840.6,653.5 840.9,653.7 841.2,654 841.5,654.2 841.8,654.4 842,654.5 842.3,654.6 842.6,654.7 842.9,654.8 843.2,654.9 843.5,655 843.8,655.1 844.1,655.2 844.3,655.3 844.6,655.4 844.9,655.5 845.2,655.6 845.5,655.6 845.8,655.6 846.1,655.6 846.4,655.6 846.6,655.6 846.9,655.6 847.2,655.6 847.5,655.7 847.8,655.8 848.1,656 848.4,656.1 848.7,656.2 848.9,656.3 849.2,656.4 849.5,656.4 849.8,656.3 850.1,656.3 850.4,656.1 850.7,656 851,655.8 851.2,655.5 851.5,655.2 851.8,654.9 852.1,654.6 852.4,654.2 852.7,653.7 853,653.3 853.3,652.8 853.5,652.3 853.8,651.9 854.1,651.4 854.4,651 854.7,650.7 855,650.4 855.3,650.1 855.6,649.9 855.8,649.6 856.1,649.4 856.4,649.2 856.7,649 857,648.8 857.3,648.6 857.6,648.3 857.8,648.1 858.1,647.9 858.4,647.8 858.7,647.6 859,647.4 859.3,647.3 859.6,647.1 859.9,647 860.1,646.9 860.4,646.8 860.7,646.7 861,646.5 861.3,646.3 861.6,646.1 861.9,645.9 862.2,645.7 862.4,645.6 862.7,645.4 863,645.4 863.3,645.4 863.6,645.3 863.9,645.3 864.2,645.2 864.5,645.1 864.7,644.9 865,644.6 865.3,644.2 865.6,643.9 865.9,643.6 866.2,643.3 866.5,643 866.8,642.9 867,642.7 867.3,642.6 867.6,642.5 867.9,642.4 868.2,642.2 868.5,642.1 868.8,641.9 869.1,641.7 869.3,641.6 869.6,641.5 869.9,641.4 870.2,641.3 870.5,641.2 870.8,641.2 871.1,641.1 871.4,641.1 871.6,641 871.9,640.9 872.2,640.8 872.5,640.7 872.8,640.6 873.1,640.5 873.4,640.5 873.7,640.4 873.9,640.3 874.2,640.2 874.5,640.1 874.8,640 875.1,639.9 875.4,639.8 875.7,639.7 876,639.6 876.2,639.6 876.5,639.6 876.8,639.8 877.1,640 877.4,640.2 877.7,640.4 878,640.5 878.2,640.5 878.5,640.5 878.8,640.4 879.1,640.2 879.4,640 879.7,639.8 880,639.6 880.3,639.6 880.5,639.5 880.8,639.5 881.1,639.6 881.4,639.6 881.7,639.6 882,639.7 882.3,639.7 882.6,639.7 882.8,639.7 883.1,639.7 883.4,639.6 883.7,639.6 884,639.6 884.3,639.5 884.6,639.5 884.9,639.4 885.1,639.3 885.4,639.2 885.7,639 886,638.9 886.3,638.8 886.6,638.8 886.9,638.7 887.2,638.8 887.4,638.9 887.7,639 888,639.1 888.3,639.2 888.6,639.3 888.9,639.3 889.2,639.3 889.5,639.3 889.7,639.3 890,639.3 890.3,639.3 890.6,639.3 890.9,639.3 891.2,639.3 891.5,639.3 891.8,639.3 892,639.3 892.3,639.3 892.6,639.3 892.9,639.3 893.2,639.3 893.5,639.3 893.8,639.3 894.1,639.3 894.3,639.4 894.6,639.4 894.9,639.5 895.2,639.6 895.5,639.6 895.8,639.7 896.1,639.8 896.4,639.9 896.6,639.9 896.9,640 897.2,640 897.5,640 897.8,640 898.1,640 898.4,640 898.7,640.1 898.9,640.2 899.2,640.3 899.5,640.5 899.8,640.7 900.1,641 900.4,641.2 900.7,641.5 900.9,641.7 901.2,641.9 901.5,642 901.8,642.2 902.1,642.3 902.4,642.4 902.7,642.4 903,642.4 903.2,642.4 903.5,642.4 903.8,642.4 904.1,642.4 904.4,642.4 904.7,642.4 905,642.5 905.3,642.6 905.5,642.8 905.8,642.9 906.1,643.1 906.4,643.3 906.7,643.5 907,643.7 907.3,643.9 907.6,644.2 907.8,644.4 908.1,644.7 908.4,644.9 908.7,645.1 909,645.3 909.3,645.4 909.6,645.6 909.9,645.7 910.1,645.7 910.4,645.8 910.7,645.9 911,646 911.3,646.1 911.6,646.3 911.9,646.4 912.2,646.6 912.4,646.8 912.7,646.9 913,647 913.3,647.1 913.6,647.1 913.9,647.2 914.2,647.2 914.5,647.3 914.7,647.3 915,647.4 915.3,647.4 915.6,647.5 915.9,647.7 916.2,647.8 916.5,648 916.8,648.2 917,648.3 917.3,648.4 917.6,648.4 917.9,648.3 918.2,648.1 918.5,647.8 918.8,647.4 919.1,646.9 919.3,646.4 919.6,646 919.9,645.6 920.2,645.2 920.5,644.9 920.8,644.6 921.1,644.4 921.3,644.2 921.6,644 921.9,643.8 922.2,643.6 922.5,643.5 922.8,643.4 923.1,643.3 923.4,643.2 923.6,643.1 923.9,643 924.2,643 924.5,642.9 924.8,642.9 925.1,642.9 925.4,642.9 925.7,642.9 925.9,642.9 926.2,642.9 926.5,642.9 926.8,642.9 927.1,642.8 927.4,642.7 927.7,642.6 928,642.5 928.2,642.4 928.5,642.3 928.8,642.2 929.1,642.1 929.4,642 929.7,641.9 930,641.8 930.3,641.8 930.5,641.7 930.8,641.6 931.1,641.6 931.4,641.5 931.7,641.5 932,641.4 932.3,641.3 932.6,641.3 932.8,641.2 933.1,641.1 933.4,641.1 933.7,641.1 934,641.1 934.3,641.1 934.6,641.1 934.9,641.1 935.1,641.1 935.4,641.1 935.7,641.1 936,641.2 936.3,641.2 936.6,641.1 936.9,641.1 937.2,641 937.4,640.9 937.7,640.8 938,640.7 938.3,640.6 938.6,640.5 938.9,640.5 939.2,640.5 939.5,640.4 939.7,640.4 940,640.3 940.3,640.2 940.6,640 940.9,639.8 941.2,639.6 941.5,639.3 941.7,639.1 942,638.7 942.3,638.4 942.6,638.1 942.9,637.7 943.2,637.4 943.5,637.2 943.8,636.9 944,636.7 944.3,636.6 944.6,636.5 944.9,636.5 945.2,636.4 945.5,636.4 945.8,636.3 946.1,636.3 946.3,636.2 946.6,636.2 946.9,636.1 947.2,636 947.5,635.9 947.8,635.8 948.1,635.6 948.4,635.5 948.6,635.3 948.9,635.1 949.2,634.9 949.5,634.8 949.8,634.6 950.1,634.4 950.4,634.3 950.7,634.2 950.9,634.1 951.2,634.1 951.5,634 951.8,634 952.1,633.9 952.4,633.8 952.7,633.8 953,633.7 953.2,633.5 953.5,633.4 953.8,633.4 954.1,633.3 954.4,633.3 954.7,633.3 955,633.3 955.3,633.3 955.5,633.3 955.8,633.3 956.1,633.3 956.4,633.3 956.7,633.3 957,633.3 957.3,633.3 957.6,633.3 957.8,633.3 958.1,633.4 958.4,633.5 958.7,633.6 959,633.7 959.3,633.8 959.6,634 959.9,634.1 960.1,634.2 960.4,634.3 960.7,634.4 961,634.6" fill="none" stroke="#ff0000" stroke-width="1.15"/><polyline clip-path="url(#c44)" points="795.5,624.8 795.8,624.9 796.1,625 796.4,625.2 796.6,625.3 796.9,625.4 797.2,625.5 797.5,625.6 797.8,625.7 798.1,625.7 798.4,625.8 798.7,625.9 798.9,626 799.2,626.2 799.5,626.4 799.8,626.6 800.1,626.8 800.4,627.1 800.7,627.3 801,627.6 801.2,627.8 801.5,628.1 801.8,628.3 802.1,628.5 802.4,628.8 802.7,629 803,629.1 803.3,629.3 803.5,629.4 803.8,629.6 804.1,629.7 804.4,629.8 804.7,629.8 805,629.9 805.3,630 805.6,630.1 805.8,630.2 806.1,630.4 806.4,630.6 806.7,630.8 807,631 807.3,631.3 807.6,631.5 807.9,631.7 808.1,631.8 808.4,632 808.7,632.1 809,632.2 809.3,632.4 809.6,632.5 809.9,632.7 810.2,632.9 810.4,633 810.7,633.2 811,633.3 811.3,633.4 811.6,633.5 811.9,633.7 812.2,633.8 812.5,634 812.7,634.2 813,634.5 813.3,634.8 813.6,635.2 813.9,635.6 814.2,636.2 814.5,636.9 814.8,637.7 815,638.7 815.3,639.6 815.6,640.6 815.9,641.5 816.2,642.4 816.5,643.1 816.8,643.7 817,644.2 817.3,644.7 817.6,645.1 817.9,645.4 818.2,645.8 818.5,646.1 818.8,646.4 819.1,646.7 819.3,647 819.6,647.3 819.9,647.6 820.2,647.9 820.5,648.2 820.8,648.5 821.1,648.8 821.4,649.1 821.6,649.3 821.9,649.5 822.2,649.6 822.5,649.8 822.8,650 823.1,650.2 823.4,650.4 823.7,650.7 823.9,651 824.2,651.3 824.5,651.7 824.8,652 825.1,652.3 825.4,652.6 825.7,652.9 826,653.2 826.2,653.5 826.5,653.8 826.8,654.1 827.1,654.5 827.4,654.8 827.7,655.2 828,655.6 828.3,656 828.5,656.3 828.8,656.7 829.1,657 829.4,657.4 829.7,657.8 830,658.1 830.3,658.5 830.6,658.9 830.8,659.3 831.1,659.7 831.4,660.1 831.7,660.5 832,660.9 832.3,661.3 832.6,661.7 832.9,662.1 833.1,662.5 833.4,662.9 833.7,663.2 834,663.5 834.3,663.9 834.6,664.1 834.9,664.4 835.2,664.7 835.4,664.9 835.7,665.1 836,665.4 836.3,665.7 836.6,666 836.9,666.5 837.2,667 837.4,667.6 837.7,668.3 838,668.9 838.3,669.6 838.6,670.1 838.9,670.6 839.2,670.9 839.5,671.2 839.7,671.5 840,671.7 840.3,671.9 840.6,672.1 840.9,672.4 841.2,672.6 841.5,672.8 841.8,673 842,673.2 842.3,673.3 842.6,673.5 842.9,673.6 843.2,673.7 843.5,673.9 843.8,674.1 844.1,674.3 844.3,674.6 844.6,674.9 844.9,675.1 845.2,675.4 845.5,675.5 845.8,675.7 846.1,675.7 846.4,675.8 846.6,675.8 846.9,675.9 847.2,675.9 847.5,676 847.8,676.1 848.1,676.3 848.4,676.5 848.7,676.6 848.9,676.8 849.2,677 849.5,677.1 849.8,677.2 850.1,677.3 850.4,677.4 850.7,677.4 851,677.3 851.2,677.2 851.5,677 851.8,676.8 852.1,676.6 852.4,676.3 852.7,675.9 853,675.5 853.3,675.1 853.5,674.7 853.8,674.2 854.1,673.7 854.4,673.3 854.7,672.8 855,672.3 855.3,671.8 855.6,671.3 855.8,670.8 856.1,670.3 856.4,669.9 856.7,669.4 857,668.8 857.3,668.3 857.6,667.8 857.8,667.2 858.1,666.6 858.4,665.9 858.7,665.3 859,664.7 859.3,664.1 859.6,663.6 859.9,663 860.1,662.5 860.4,661.9 860.7,661.2 861,660.5 861.3,659.7 861.6,658.8 861.9,657.9 862.2,657.1 862.4,656.3 862.7,655.6 863,655.1 863.3,654.6 863.6,654.3 863.9,653.9 864.2,653.6 864.5,653.2 864.7,652.8 865,652.3 865.3,651.8 865.6,651.3 865.9,650.9 866.2,650.5 866.5,650.3 866.8,650.1 867,650 867.3,649.9 867.6,649.8 867.9,649.6 868.2,649.4 868.5,649.2 868.8,648.9 869.1,648.6 869.3,648.2 869.6,647.8 869.9,647.4 870.2,647 870.5,646.6 870.8,646.2 871.1,645.8 871.4,645.4 871.6,645.2 871.9,644.9 872.2,644.7 872.5,644.5 872.8,644.4 873.1,644.2 873.4,644 873.7,643.8 873.9,643.6 874.2,643.5 874.5,643.4 874.8,643.3 875.1,643.2 875.4,643.2 875.7,643.2 876,643.3 876.2,643.3 876.5,643.3 876.8,643.2 877.1,643.1 877.4,643.1 877.7,643 878,642.9 878.2,642.9 878.5,642.9 878.8,643 879.1,643.1 879.4,643.2 879.7,643.2 880,643.3 880.3,643.3 880.5,643.2 880.8,643.1 881.1,643 881.4,643 881.7,642.9 882,642.9 882.3,642.9 882.6,642.9 882.8,642.9 883.1,642.9 883.4,642.9 883.7,642.9 884,642.8 884.3,642.7 884.6,642.6 884.9,642.5 885.1,642.4 885.4,642.3 885.7,642.2 886,642.1 886.3,642 886.6,641.9 886.9,641.8 887.2,641.8 887.4,641.7 887.7,641.6 888,641.6 888.3,641.5 888.6,641.5 888.9,641.4 889.2,641.3 889.5,641.2 889.7,641.2 890,641.1 890.3,641.1 890.6,641.1 890.9,641.1 891.2,641.1 891.5,641.1 891.8,641.1 892,641.1 892.3,641.1 892.6,641.1 892.9,641.1 893.2,641.1 893.5,641.1 893.8,641.1 894.1,641.1 894.3,641.1 894.6,641.1 894.9,641.1 895.2,641.1 895.5,641.1 895.8,641.1 896.1,641.1 896.4,641.1 896.6,641.1 896.9,641.1 897.2,641.1 897.5,641.1 897.8,641.1 898.1,641.1 898.4,641.1 898.7,641.1 898.9,641.1 899.2,641.1 899.5,641.2 899.8,641.3 900.1,641.3 900.4,641.4 900.7,641.5 900.9,641.5 901.2,641.6 901.5,641.6 901.8,641.7 902.1,641.7 902.4,641.8 902.7,641.9 903,642 903.2,642.1 903.5,642.2 903.8,642.3 904.1,642.4 904.4,642.4 904.7,642.4 905,642.4 905.3,642.4 905.5,642.4 905.8,642.4 906.1,642.4 906.4,642.3 906.7,642.4 907,642.4 907.3,642.4 907.6,642.4 907.8,642.4 908.1,642.4 908.4,642.4 908.7,642.4 909,642.4 909.3,642.4 909.6,642.4 909.9,642.4 910.1,642.4 910.4,642.4 910.7,642.4 911,642.4 911.3,642.4 911.6,642.4 911.9,642.4 912.2,642.4 912.4,642.4 912.7,642.4 913,642.4 913.3,642.4 913.6,642.3 913.9,642.3 914.2,642.4 914.5,642.4 914.7,642.4 915,642.4 915.3,642.4 915.6,642.4 915.9,642.4 916.2,642.4 916.5,642.3 916.8,642.2 917,642.1 917.3,642 917.6,641.9 917.9,641.8 918.2,641.8 918.5,641.7 918.8,641.7 919.1,641.7 919.3,641.6 919.6,641.5 919.9,641.3 920.2,641 920.5,640.8 920.8,640.5 921.1,640.2 921.3,640 921.6,639.8 921.9,639.7 922.2,639.6 922.5,639.5 922.8,639.4 923.1,639.3 923.4,639.1 923.6,638.9 923.9,638.7 924.2,638.5 924.5,638.4 924.8,638.2 925.1,638.1 925.4,637.9 925.7,637.8 925.9,637.7 926.2,637.6 926.5,637.5 926.8,637.3 927.1,637.1 927.4,636.9 927.7,636.7 928,636.5 928.2,636.4 928.5,636.3 928.8,636.2 929.1,636.1 929.4,636.1 929.7,636.1 930,636 930.3,636 930.5,635.9 930.8,635.8 931.1,635.8 931.4,635.7 931.7,635.7 932,635.6 932.3,635.6 932.6,635.6 932.8,635.6 933.1,635.6 933.4,635.7 933.7,635.7 934,635.7 934.3,635.7 934.6,635.7 934.9,635.7 935.1,635.7 935.4,635.6 935.7,635.6 936,635.6 936.3,635.6 936.6,635.6 936.9,635.7 937.2,635.7 937.4,635.7 937.7,635.7 938,635.7 938.3,635.7 938.6,635.7 938.9,635.6 939.2,635.5 939.5,635.4 939.7,635.3 940,635.2 940.3,635.1 940.6,635 940.9,634.9 941.2,634.8 941.5,634.7 941.7,634.7 942,634.6 942.3,634.5 942.6,634.4 942.9,634.3 943.2,634.1 943.5,634 943.8,633.8 944,633.7 944.3,633.5 944.6,633.3 944.9,633.1 945.2,632.9 945.5,632.8 945.8,632.6 946.1,632.5 946.3,632.4 946.6,632.3 946.9,632.2 947.2,632 947.5,631.9 947.8,631.7 948.1,631.5 948.4,631.3 948.6,631.1 948.9,630.9 949.2,630.7 949.5,630.5 949.8,630.3 950.1,630.1 950.4,629.9 950.7,629.7 950.9,629.5 951.2,629.3 951.5,629.1 951.8,629 952.1,628.9 952.4,628.8 952.7,628.7 953,628.6 953.2,628.6 953.5,628.5 953.8,628.5 954.1,628.4 954.4,628.3 954.7,628.3 955,628.2 955.3,628.1 955.5,628 955.8,627.9 956.1,627.7 956.4,627.6 956.7,627.4 957,627.3 957.3,627.1 957.6,626.9 957.8,626.8 958.1,626.6 958.4,626.5 958.7,626.3 959,626.2 959.3,626 959.6,625.9 959.9,625.8 960.1,625.7 960.4,625.7 960.7,625.6 961,625.5" fill="none" stroke="#ff0000" stroke-width="1.15"/><polyline clip-path="url(#c44)" points="795.5,624.8 795.8,624.6 796.1,624.3 796.4,624.2 796.6,624 796.9,623.8 797.2,623.7 797.5,623.6 797.8,623.5 798.1,623.5 798.4,623.5 798.7,623.6 798.9,623.7 799.2,623.8 799.5,624 799.8,624.2 800.1,624.4 800.4,624.6 800.7,624.8 801,624.9 801.2,625.1 801.5,625.2 801.8,625.3 802.1,625.4 802.4,625.5 802.7,625.6 803,625.7 803.3,625.8 803.5,625.9 803.8,626 804.1,626 804.4,626.1 804.7,626 805,626 805.3,626 805.6,626 805.8,626 806.1,626.1 806.4,626.2 806.7,626.3 807,626.4 807.3,626.5 807.6,626.6 807.9,626.6 808.1,626.6 808.4,626.6 808.7,626.6 809,626.6 809.3,626.6 809.6,626.6 809.9,626.7 810.2,626.8 810.4,627 810.7,627.1 811,627.3 811.3,627.5 811.6,627.7 811.9,628 812.2,628.2 812.5,628.5 812.7,628.8 813,629 813.3,629.3 813.6,629.6 813.9,629.9 814.2,630.3 814.5,630.6 814.8,630.9 815,631.2 815.3,631.5 815.6,631.8 815.9,632.1 816.2,632.4 816.5,632.6 816.8,632.8 817,633.1 817.3,633.3 817.6,633.5 817.9,633.8 818.2,634.2 818.5,634.6 818.8,635 819.1,635.4 819.3,635.7 819.6,636 819.9,636.3 820.2,636.4 820.5,636.6 820.8,636.7 821.1,636.8 821.4,636.9 821.6,637 821.9,637.2 822.2,637.3 822.5,637.5 822.8,637.7 823.1,637.8 823.4,638 823.7,638.2 823.9,638.3 824.2,638.5 824.5,638.6 824.8,638.7 825.1,638.9 825.4,639 825.7,639 826,639.1 826.2,639.2 826.5,639.3 826.8,639.3 827.1,639.4 827.4,639.5 827.7,639.5 828,639.6 828.3,639.6 828.5,639.7 828.8,639.8 829.1,639.8 829.4,639.9 829.7,639.9 830,640 830.3,640.1 830.6,640.2 830.8,640.3 831.1,640.3 831.4,640.4 831.7,640.5 832,640.7 832.3,640.8 832.6,640.9 832.9,641 833.1,641 833.4,641.1 833.7,641.1 834,641.2 834.3,641.2 834.6,641.2 834.9,641.1 835.2,641.1 835.4,641 835.7,641 836,641 836.3,641.1 836.6,641.2 836.9,641.5 837.2,641.8 837.4,642.3 837.7,642.8 838,643.3 838.3,643.8 838.6,644.2 838.9,644.4 839.2,644.6 839.5,644.7 839.7,644.7 840,644.7 840.3,644.7 840.6,644.8 840.9,644.8 841.2,644.9 841.5,645 841.8,645 842,645.1 842.3,645.1 842.6,645.1 842.9,645.1 843.2,645.1 843.5,645.1 843.8,645.1 844.1,645.1 844.3,645.1 844.6,645.1 844.9,645.1 845.2,645.1 845.5,645.1 845.8,645.1 846.1,645.1 846.4,645.1 846.6,645.1 846.9,645.1 847.2,645.1 847.5,645.1 847.8,645.1 848.1,645.2 848.4,645.3 848.7,645.4 848.9,645.4 849.2,645.6 849.5,645.7 849.8,645.8 850.1,645.9 850.4,646 850.7,646 851,646 851.2,645.9 851.5,645.9 851.8,645.8 852.1,645.6 852.4,645.4 852.7,645.3 853,645 853.3,644.8 853.5,644.6 853.8,644.4 854.1,644.2 854.4,644 854.7,643.8 855,643.6 855.3,643.5 855.6,643.4 855.8,643.3 856.1,643.2 856.4,643.1 856.7,643.1 857,643 857.3,643 857.6,642.9 857.8,642.8 858.1,642.8 858.4,642.7 858.7,642.6 859,642.5 859.3,642.4 859.6,642.3 859.9,642.2 860.1,642.1 860.4,642 860.7,641.9 861,641.8 861.3,641.7 861.6,641.7 861.9,641.6 862.2,641.5 862.4,641.5 862.7,641.5 863,641.5 863.3,641.5 863.6,641.5 863.9,641.5 864.2,641.5 864.5,641.5 864.7,641.4 865,641.3 865.3,641.3 865.6,641.2 865.9,641.1 866.2,641.1 866.5,641.1 866.8,641.1 867,641.1 867.3,641.1 867.6,641.1 867.9,641.1 868.2,641 868.5,640.9 868.8,640.8 869.1,640.7 869.3,640.6 869.6,640.5 869.9,640.5 870.2,640.5 870.5,640.5 870.8,640.6 871.1,640.6 871.4,640.5 871.6,640.5 871.9,640.4 872.2,640.3 872.5,640.2 872.8,640.1 873.1,640 873.4,640 873.7,639.9 873.9,639.9 874.2,640 874.5,640 874.8,640 875.1,640 875.4,640.1 875.7,640.1 876,640.1 876.2,640.2 876.5,640.2 876.8,640.2 877.1,640.3 877.4,640.3 877.7,640.4 878,640.5 878.2,640.5 878.5,640.6 878.8,640.7 879.1,640.8 879.4,640.9 879.7,641 880,641.1 880.3,641.1 880.5,641.2 880.8,641.2 881.1,641.2 881.4,641.2 881.7,641.1 882,641 882.3,640.9 882.6,640.7 882.8,640.5 883.1,640.3 883.4,640 883.7,639.7 884,639.3 884.3,638.8 884.6,638.4 884.9,637.9 885.1,637.5 885.4,637 885.7,636.6 886,636.2 886.3,635.8 886.6,635.4 886.9,635.1 887.2,634.8 887.4,634.5 887.7,634.2 888,633.9 888.3,633.6 888.6,633.3 888.9,632.9 889.2,632.5 889.5,632.1 889.7,631.7 890,631.3 890.3,630.9 890.6,630.6 890.9,630.4 891.2,630.1 891.5,629.9 891.8,629.8 892,629.7 892.3,629.6 892.6,629.5 892.9,629.5 893.2,629.5 893.5,629.6 893.8,629.7 894.1,629.8 894.3,630 894.6,630.2 894.9,630.4 895.2,630.7 895.5,630.9 895.8,631.2 896.1,631.4 896.4,631.7 896.6,631.9 896.9,632.1 897.2,632.4 897.5,632.6 897.8,632.9 898.1,633.1 898.4,633.4 898.7,633.6 898.9,633.8 899.2,634.1 899.5,634.3 899.8,634.5 900.1,634.7 900.4,634.9 900.7,635.1 900.9,635.3 901.2,635.5 901.5,635.7 901.8,636 902.1,636.2 902.4,636.4 902.7,636.6 903,636.8 903.2,637 903.5,637.1 903.8,637.3 904.1,637.5 904.4,637.6 904.7,637.7 905,637.8 905.3,638 905.5,638.1 905.8,638.2 906.1,638.3 906.4,638.5 906.7,638.6 907,638.7 907.3,638.7 907.6,638.7 907.8,638.7 908.1,638.6 908.4,638.5 908.7,638.4 909,638.3 909.3,638.2 909.6,638.2 909.9,638.2 910.1,638.2 910.4,638.2 910.7,638.2 911,638.2 911.3,638.1 911.6,638 911.9,637.8 912.2,637.5 912.4,637.3 912.7,636.9 913,636.6 913.3,636.2 913.6,635.7 913.9,635.3 914.2,634.9 914.5,634.6 914.7,634.2 915,633.9 915.3,633.6 915.6,633.4 915.9,633.1 916.2,632.8 916.5,632.4 916.8,632 917,631.6 917.3,631.3 917.6,630.9 917.9,630.6 918.2,630.3 918.5,630 918.8,629.8 919.1,629.5 919.3,629.2 919.6,628.8 919.9,628.3 920.2,627.7 920.5,627.2 920.8,626.7 921.1,626.3 921.3,626 921.6,626 921.9,626.1 922.2,626.3 922.5,626.6 922.8,627 923.1,627.3 923.4,627.6 923.6,627.9 923.9,628.1 924.2,628.3 924.5,628.6 924.8,628.8 925.1,629 925.4,629.2 925.7,629.4 925.9,629.7 926.2,629.9 926.5,630.2 926.8,630.5 927.1,630.8 927.4,631.1 927.7,631.4 928,631.7 928.2,632 928.5,632.4 928.8,632.7 929.1,633 929.4,633.3 929.7,633.6 930,633.8 930.3,634 930.5,634.2 930.8,634.3 931.1,634.4 931.4,634.5 931.7,634.6 932,634.7 932.3,634.8 932.6,634.9 932.8,635 933.1,635 933.4,635.1 933.7,635.2 934,635.2 934.3,635.2 934.6,635.2 934.9,635.2 935.1,635.1 935.4,635 935.7,635 936,634.9 936.3,634.8 936.6,634.7 936.9,634.6 937.2,634.5 937.4,634.4 937.7,634.4 938,634.3 938.3,634.3 938.6,634.2 938.9,634.2 939.2,634.1 939.5,634 939.7,634 940,633.9 940.3,633.8 940.6,633.8 940.9,633.7 941.2,633.6 941.5,633.5 941.7,633.4 942,633.3 942.3,633.2 942.6,633.1 942.9,633 943.2,632.9 943.5,632.8 943.8,632.8 944,632.7 944.3,632.7 944.6,632.7 944.9,632.6 945.2,632.5 945.5,632.4 945.8,632.2 946.1,631.9 946.3,631.6 946.6,631.3 946.9,630.9 947.2,630.6 947.5,630.2 947.8,629.9 948.1,629.6 948.4,629.3 948.6,629 948.9,628.8 949.2,628.6 949.5,628.4 949.8,628.3 950.1,628.1 950.4,628 950.7,627.9 950.9,627.7 951.2,627.5 951.5,627.4 951.8,627.2 952.1,627.1 952.4,626.9 952.7,626.8 953,626.8 953.2,626.7 953.5,626.7 953.8,626.8 954.1,626.9 954.4,627.2 954.7,627.4 955,627.7 955.3,628.1 955.5,628.4 955.8,628.8 956.1,629.1 956.4,629.4 956.7,629.6 957,629.9 957.3,630.1 957.6,630.2 957.8,630.3 958.1,630.4 958.4,630.5 958.7,630.5 959,630.5 959.3,630.6 959.6,630.6 959.9,630.7 960.1,630.7 960.4,630.8 960.7,630.9 961,630.9" fill="none" stroke="#ff0000" stroke-width="1.15"/><polyline clip-path="url(#c44)" points="795.5,672.3 795.8,672.3 796.1,672.4 796.4,672.4 796.6,672.6 796.9,672.8 797.2,673.2 797.5,673.7 797.8,674.2 798.1,674.7 798.4,675.2 798.7,675.5 798.9,675.5 799.2,675.4 799.5,674.9 799.8,674.4 800.1,673.7 800.4,673 800.7,672.3 801,671.7 801.2,671.2 801.5,670.7 801.8,670.3 802.1,669.9 802.4,669.6 802.7,669.2 803,668.9 803.3,668.6 803.5,668.3 803.8,668 804.1,667.8 804.4,667.5 804.7,667.2 805,667 805.3,666.9 805.6,666.8 805.8,666.8 806.1,667 806.4,667.2 806.7,667.5 807,667.8 807.3,668.2 807.6,668.7 807.9,669.1 808.1,669.5 808.4,669.9 808.7,670.3 809,670.6 809.3,670.8 809.6,671 809.9,671.1 810.2,671.2 810.4,671.3 810.7,671.3 811,671.4 811.3,671.5 811.6,671.6 811.9,671.7 812.2,671.9 812.5,672.1 812.7,672.3 813,672.5 813.3,672.8 813.6,673 813.9,673.3 814.2,673.5 814.5,673.7 814.8,674 815,674.2 815.3,674.4 815.6,674.6 815.9,674.8 816.2,675 816.5,675.2 816.8,675.5 817,675.7 817.3,676 817.6,676.2 817.9,676.5 818.2,676.7 818.5,676.8 818.8,677 819.1,677.2 819.3,677.3 819.6,677.4 819.9,677.4 820.2,677.5 820.5,677.5 820.8,677.6 821.1,677.6 821.4,677.7 821.6,677.8 821.9,677.8 822.2,677.6 822.5,677 822.8,675.8 823.1,674.1 823.4,671.6 823.7,668.6 823.9,665.3 824.2,661.7 824.5,658.3 824.8,655.1 825.1,652.3 825.4,649.9 825.7,647.9 826,646.4 826.2,645.1 826.5,644.2 826.8,643.5 827.1,643.1 827.4,643 827.7,643.2 828,643.6 828.3,644.2 828.5,645 828.8,646.1 829.1,647.3 829.4,648.6 829.7,650 830,651.4 830.3,652.9 830.6,654.3 830.8,655.7 831.1,657.1 831.4,658.4 831.7,659.6 832,660.7 832.3,661.7 832.6,662.7 832.9,663.7 833.1,664.8 833.4,665.9 833.7,667.2 834,668.6 834.3,670 834.6,671.4 834.9,672.8 835.2,674.1 835.4,675.3 835.7,676.6 836,677.8 836.3,679.1 836.6,680.6 836.9,682.3 837.2,684.2 837.4,686.3 837.7,688.5 838,690.7 838.3,692.9 838.6,695 838.9,696.8 839.2,698.4 839.5,699.9 839.7,701.1 840,702.2 840.3,703.1 840.6,703.9 840.9,704.5 841.2,704.9 841.5,705.3 841.8,705.6 842,705.8 842.3,706 842.6,706.2 842.9,706.3 843.2,706.3 843.5,706.4 843.8,706.4 844.1,706.4 844.3,706.4 844.6,706.4 844.9,706.4 845.2,706.5 845.5,706.7 845.8,707.1 846.1,707.5 846.4,707.9 846.6,708.3 846.9,708.7 847.2,708.9 847.5,709.1 847.8,709.1 848.1,709.1 848.4,709 848.7,708.9 848.9,708.9 849.2,708.9 849.5,709 849.8,709.1 850.1,709.3 850.4,709.4 850.7,709.5 851,709.5 851.2,709.5 851.5,709.5 851.8,709.5 852.1,709.5 852.4,709.5 852.7,709.4 853,709.4 853.3,709.4 853.5,709.4 853.8,709.4 854.1,709.5 854.4,709.5 854.7,709.5 855,709.5 855.3,709.5 855.6,709.5 855.8,709.5 856.1,709.4 856.4,709.3 856.7,709.3 857,709.3 857.3,709.3 857.6,709.5 857.8,709.7 858.1,710 858.4,710.2 858.7,710.2 859,710 859.3,709.5 859.6,708.5 859.9,707.2 860.1,705.7 860.4,703.9 860.7,702.2 861,700.4 861.3,698.7 861.6,697.1 861.9,695.4 862.2,693.6 862.4,691.7 862.7,689.5 863,687.1 863.3,684.4 863.6,681.6 863.9,678.7 864.2,675.9 864.5,673.2 864.7,670.7 865,668.3 865.3,666.2 865.6,664.4 865.9,662.8 866.2,661.4 866.5,660.3 866.8,659.5 867,658.9 867.3,658.6 867.6,658.5 867.9,658.7 868.2,659.1 868.5,659.7 868.8,660.4 869.1,661.3 869.3,662.2 869.6,663.2 869.9,664.2 870.2,665.3 870.5,666.3 870.8,667.4 871.1,668.5 871.4,669.6 871.6,670.7 871.9,671.9 872.2,673 872.5,674.3 872.8,675.5 873.1,676.8 873.4,678.1 873.7,679.5 873.9,680.8 874.2,682 874.5,683.1 874.8,684.1 875.1,684.9 875.4,685.6 875.7,686.3 876,687.2 876.2,688.2 876.5,689.5 876.8,691.2 877.1,693.1 877.4,695.2 877.7,697.3 878,699.4 878.2,701.3 878.5,703 878.8,704.4 879.1,705.5 879.4,706.5 879.7,707.2 880,707.6 880.3,707.9 880.5,708.1 880.8,708.1 881.1,708 881.4,707.8 881.7,707.6 882,707.5 882.3,707.3 882.6,707.1 882.8,707 883.1,706.8 883.4,706.7 883.7,706.7 884,706.6 884.3,706.5 884.6,706.5 884.9,706.4 885.1,706.4 885.4,706.3 885.7,706.2 886,706.1 886.3,706 886.6,705.9 886.9,705.8 887.2,705.8 887.4,705.8 887.7,705.8 888,705.8 888.3,705.8 888.6,705.8 888.9,705.9 889.2,705.9 889.5,706 889.7,706 890,705.9 890.3,705.8 890.6,705.7 890.9,705.5 891.2,705.2 891.5,704.8 891.8,704.5 892,704 892.3,703.5 892.6,703 892.9,702.6 893.2,702.1 893.5,701.7 893.8,701.3 894.1,701 894.3,700.8 894.6,700.7 894.9,700.6 895.2,700.5 895.5,700.4 895.8,700.3 896.1,700.1 896.4,700 896.6,699.8 896.9,699.7 897.2,699.5 897.5,699.3 897.8,699.2 898.1,699 898.4,698.9 898.7,698.7 898.9,698.6 899.2,698.4 899.5,698.2 899.8,698 900.1,697.8 900.4,697.6 900.7,697.3 900.9,697 901.2,696.7 901.5,696.4 901.8,696.1 902.1,695.8 902.4,695.5 902.7,695.3 903,695.1 903.2,695 903.5,694.9 903.8,694.9 904.1,695 904.4,695 904.7,695.1 905,695.2 905.3,695.4 905.5,695.4 905.8,695.5 906.1,695.5 906.4,695.5 906.7,695.4 907,695.4 907.3,695.3 907.6,695.3 907.8,695.3 908.1,695.4 908.4,695.5 908.7,695.6 909,695.7 909.3,695.9 909.6,696 909.9,696.2 910.1,696.3 910.4,696.5 910.7,696.6 911,696.8 911.3,696.9 911.6,697 911.9,697.1 912.2,697.3 912.4,697.5 912.7,697.7 913,697.9 913.3,698.2 913.6,698.4 913.9,698.6 914.2,698.7 914.5,698.6 914.7,698.3 915,698 915.3,697.5 915.6,696.9 915.9,696.4 916.2,695.9 916.5,695.4 916.8,695 917,694.6 917.3,694.4 917.6,694.2 917.9,694 918.2,694 918.5,694 918.8,694 919.1,694 919.3,694 919.6,694 919.9,694 920.2,693.9 920.5,693.9 920.8,693.8 921.1,693.7 921.3,693.7 921.6,693.7 921.9,693.7 922.2,693.8 922.5,693.8 922.8,693.8 923.1,693.7 923.4,693.5 923.6,693.3 923.9,693.1 924.2,692.8 924.5,692.5 924.8,692.2 925.1,692 925.4,691.8 925.7,691.6 925.9,691.5 926.2,691.4 926.5,691.3 926.8,691.3 927.1,691.3 927.4,691.3 927.7,691.3 928,691.3 928.2,691.3 928.5,691.3 928.8,691.3 929.1,691.3 929.4,691.3 929.7,691.3 930,691.3 930.3,691.3 930.5,691.3 930.8,691.3 931.1,691.3 931.4,691.3 931.7,691.3 932,691.3 932.3,691.3 932.6,691.4 932.8,691.4 933.1,691.3 933.4,691.3 933.7,691.3 934,691.2 934.3,691.2 934.6,691.1 934.9,690.9 935.1,690.8 935.4,690.6 935.7,690.4 936,690.2 936.3,690 936.6,689.7 936.9,689.5 937.2,689.3 937.4,689.1 937.7,688.9 938,688.8 938.3,688.7 938.6,688.6 938.9,688.6 939.2,688.5 939.5,688.6 939.7,688.6 940,688.6 940.3,688.6 940.6,688.6 940.9,688.6 941.2,688.6 941.5,688.6 941.7,688.6 942,688.6 942.3,688.6 942.6,688.7 942.9,688.7 943.2,688.6 943.5,688.5 943.8,688.2 944,687.9 944.3,687.4 944.6,686.9 944.9,686.4 945.2,685.8 945.5,685.3 945.8,684.9 946.1,684.6 946.3,684.2 946.6,683.9 946.9,683.6 947.2,683.2 947.5,682.7 947.8,682.2 948.1,681.8 948.4,681.3 948.6,680.8 948.9,680.4 949.2,680.1 949.5,679.9 949.8,679.8 950.1,679.7 950.4,679.6 950.7,679.5 950.9,679.5 951.2,679.5 951.5,679.4 951.8,679.4 952.1,679.3 952.4,679.2 952.7,679 953,678.8 953.2,678.6 953.5,678.4 953.8,678.2 954.1,678.1 954.4,678 954.7,677.9 955,677.8 955.3,677.8 955.5,677.8 955.8,677.7 956.1,677.7 956.4,677.6 956.7,677.6 957,677.6 957.3,677.6 957.6,677.7 957.8,677.9 958.1,678.1 958.4,678.3 958.7,678.6 959,678.9 959.3,679.2 959.6,679.4 959.9,679.7 960.1,679.9 960.4,680.1 960.7,680.3 961,680.4" fill="none" stroke="#0000ff" stroke-width="1.15"/><polyline clip-path="url(#c44)" points="795.5,674.1 795.8,676.3 796.1,678.6 796.4,680.8 796.6,682.9 796.9,684.9 797.2,686.8 797.5,688.6 797.8,690.1 798.1,691.5 798.4,692.7 798.7,693.5 798.9,694 799.2,694.2 799.5,694.2 799.8,693.9 800.1,693.5 800.4,693 800.7,692.6 801,692.3 801.2,692 801.5,691.7 801.8,691.5 802.1,691.2 802.4,690.8 802.7,690.3 803,689.7 803.3,689.1 803.5,688.4 803.8,687.8 804.1,687.2 804.4,686.6 804.7,686.2 805,685.8 805.3,685.6 805.6,685.4 805.8,685.3 806.1,685.4 806.4,685.5 806.7,685.6 807,685.9 807.3,686.1 807.6,686.4 807.9,686.8 808.1,687.1 808.4,687.4 808.7,687.7 809,688 809.3,688.2 809.6,688.4 809.9,688.6 810.2,688.7 810.4,688.8 810.7,688.9 811,689 811.3,689.1 811.6,689.2 811.9,689.3 812.2,689.4 812.5,689.4 812.7,689.5 813,689.6 813.3,689.6 813.6,689.6 813.9,689.6 814.2,689.5 814.5,689.5 814.8,689.5 815,689.4 815.3,689.4 815.6,689.4 815.9,689.5 816.2,689.5 816.5,689.6 816.8,689.8 817,689.9 817.3,690.1 817.6,690.3 817.9,690.4 818.2,690.6 818.5,690.7 818.8,691 819.1,691.3 819.3,691.7 819.6,692.2 819.9,692.9 820.2,693.7 820.5,694.3 820.8,694.7 821.1,694.6 821.4,694 821.6,692.8 821.9,691 822.2,688.7 822.5,686.1 822.8,683.3 823.1,680.4 823.4,677.6 823.7,674.8 823.9,672.1 824.2,669.5 824.5,667 824.8,664.7 825.1,662.5 825.4,660.5 825.7,658.8 826,657.2 826.2,656 826.5,655.1 826.8,654.4 827.1,654 827.4,653.9 827.7,653.8 828,653.8 828.3,653.8 828.5,653.7 828.8,653.6 829.1,653.5 829.4,653.4 829.7,653.3 830,653.2 830.3,653.3 830.6,653.5 830.8,653.7 831.1,654.1 831.4,654.5 831.7,655.1 832,655.7 832.3,656.4 832.6,657.2 832.9,658 833.1,658.8 833.4,659.6 833.7,660.3 834,661.1 834.3,661.8 834.6,662.5 834.9,663.3 835.2,664.1 835.4,665 835.7,666 836,667.1 836.3,668.1 836.6,669.1 836.9,670.1 837.2,671 837.4,671.9 837.7,672.8 838,673.7 838.3,674.6 838.6,675.5 838.9,676.6 839.2,677.6 839.5,678.7 839.7,679.8 840,680.8 840.3,681.7 840.6,682.5 840.9,683.3 841.2,684 841.5,684.6 841.8,685.2 842,685.9 842.3,686.6 842.6,687.2 842.9,687.9 843.2,688.7 843.5,689.4 843.8,690.1 844.1,690.7 844.3,691.4 844.6,692 844.9,692.5 845.2,692.9 845.5,693.1 845.8,693.3 846.1,693.4 846.4,693.4 846.6,693.4 846.9,693.5 847.2,693.7 847.5,694 847.8,694.4 848.1,694.9 848.4,695.3 848.7,695.7 848.9,695.9 849.2,695.8 849.5,695.7 849.8,695.3 850.1,694.9 850.4,694.5 850.7,694 851,693.6 851.2,693.3 851.5,692.9 851.8,692.6 852.1,692.2 852.4,691.9 852.7,691.5 853,691.1 853.3,690.8 853.5,690.5 853.8,690.4 854.1,690.4 854.4,690.6 854.7,690.9 855,691.3 855.3,691.6 855.6,691.8 855.8,691.9 856.1,691.7 856.4,691.4 856.7,690.9 857,690.3 857.3,689.6 857.6,689 857.8,688.3 858.1,687.6 858.4,687 858.7,686.3 859,685.5 859.3,684.6 859.6,683.7 859.9,682.6 860.1,681.5 860.4,680.3 860.7,679 861,677.7 861.3,676.4 861.6,675.1 861.9,673.8 862.2,672.5 862.4,671.4 862.7,670.5 863,669.7 863.3,669 863.6,668.5 863.9,668 864.2,667.4 864.5,666.8 864.7,666.2 865,665.4 865.3,664.6 865.6,663.8 865.9,663 866.2,662.3 866.5,661.7 866.8,661.1 867,660.5 867.3,660 867.6,659.4 867.9,658.7 868.2,657.9 868.5,657 868.8,656.1 869.1,655.3 869.3,654.5 869.6,653.8 869.9,653.3 870.2,652.9 870.5,652.6 870.8,652.5 871.1,652.6 871.4,652.7 871.6,653 871.9,653.4 872.2,653.9 872.5,654.5 872.8,655.4 873.1,656.3 873.4,657.5 873.7,658.7 873.9,660.1 874.2,661.4 874.5,662.8 874.8,664.1 875.1,665.4 875.4,666.5 875.7,667.7 876,668.9 876.2,670.1 876.5,671.4 876.8,672.8 877.1,674.3 877.4,676 877.7,677.7 878,679.5 878.2,681.4 878.5,683.3 878.8,685.2 879.1,687.1 879.4,689 879.7,690.7 880,692.2 880.3,693.6 880.5,694.8 880.8,695.8 881.1,696.8 881.4,697.7 881.7,698.6 882,699.5 882.3,700.5 882.6,701.5 882.8,702.5 883.1,703.5 883.4,704.6 883.7,705.6 884,706.6 884.3,707.6 884.6,708.5 884.9,709.5 885.1,710.4 885.4,711.2 885.7,712 886,712.8 886.3,713.5 886.6,714.2 886.9,714.9 887.2,715.6 887.4,716.2 887.7,716.7 888,717.1 888.3,717.5 888.6,717.6 888.9,717.6 889.2,717.4 889.5,717.2 889.7,716.8 890,716.3 890.3,715.8 890.6,715.3 890.9,714.8 891.2,714.3 891.5,713.8 891.8,713.4 892,713.1 892.3,712.9 892.6,712.7 892.9,712.6 893.2,712.5 893.5,712.3 893.8,712.2 894.1,712 894.3,711.8 894.6,711.6 894.9,711.5 895.2,711.6 895.5,711.8 895.8,712.3 896.1,712.9 896.4,713.7 896.6,714.5 896.9,715.2 897.2,715.8 897.5,716.2 897.8,716.5 898.1,716.7 898.4,716.7 898.7,716.7 898.9,716.7 899.2,716.7 899.5,716.7 899.8,716.7 900.1,716.7 900.4,716.7 900.7,716.7 900.9,716.7 901.2,716.7 901.5,716.7 901.8,716.7 902.1,716.7 902.4,716.7 902.7,716.8 903,716.9 903.2,716.9 903.5,717 903.8,716.9 904.1,716.7 904.4,716.4 904.7,715.9 905,715.3 905.3,714.5 905.5,713.4 905.8,712.2 906.1,710.7 906.4,709 906.7,707.1 907,705.2 907.3,703.3 907.6,701.3 907.8,699.4 908.1,697.6 908.4,696 908.7,694.5 909,693.3 909.3,692.2 909.6,691.5 909.9,691 910.1,690.7 910.4,690.6 910.7,690.6 911,690.8 911.3,691 911.6,691.4 911.9,691.8 912.2,692.3 912.4,693 912.7,693.7 913,694.5 913.3,695.4 913.6,696.4 913.9,697.4 914.2,698.5 914.5,699.5 914.7,700.5 915,701.5 915.3,702.4 915.6,703.4 915.9,704.3 916.2,705.3 916.5,706.3 916.8,707.3 917,708.3 917.3,709.3 917.6,710.3 917.9,711.3 918.2,712.2 918.5,713.1 918.8,713.9 919.1,714.6 919.3,715.1 919.6,715.4 919.9,715.5 920.2,715.4 920.5,715.2 920.8,714.9 921.1,714.6 921.3,714.4 921.6,714.2 921.9,714.1 922.2,714.1 922.5,714 922.8,714 923.1,714 923.4,713.9 923.6,713.8 923.9,713.6 924.2,713.5 924.5,713.3 924.8,713.1 925.1,712.9 925.4,712.7 925.7,712.6 925.9,712.4 926.2,712.3 926.5,712.2 926.8,712.1 927.1,712 927.4,711.9 927.7,711.8 928,711.8 928.2,711.8 928.5,711.9 928.8,711.9 929.1,712 929.4,712.1 929.7,712.1 930,712.2 930.3,712.2 930.5,712.2 930.8,712.2 931.1,712.2 931.4,712.2 931.7,712.2 932,712.2 932.3,712.1 932.6,712.1 932.8,712 933.1,711.9 933.4,711.8 933.7,711.7 934,711.5 934.3,711.3 934.6,711.1 934.9,710.9 935.1,710.7 935.4,710.5 935.7,710.3 936,710.1 936.3,709.9 936.6,709.7 936.9,709.5 937.2,709.2 937.4,709 937.7,708.8 938,708.5 938.3,708.3 938.6,708.2 938.9,708.1 939.2,708 939.5,707.9 939.7,707.8 940,707.8 940.3,707.6 940.6,707.5 940.9,707.3 941.2,707.1 941.5,706.9 941.7,706.6 942,706.4 942.3,706.2 942.6,705.9 942.9,705.7 943.2,705.4 943.5,705 943.8,704.6 944,704 944.3,703.4 944.6,702.8 944.9,702.2 945.2,701.5 945.5,700.9 945.8,700.4 946.1,699.9 946.3,699.5 946.6,699 946.9,698.5 947.2,698 947.5,697.5 947.8,696.9 948.1,696.2 948.4,695.6 948.6,695 948.9,694.4 949.2,693.9 949.5,693.4 949.8,693 950.1,692.6 950.4,692.2 950.7,691.9 950.9,691.6 951.2,691.3 951.5,691 951.8,690.8 952.1,690.6 952.4,690.4 952.7,690.3 953,690.1 953.2,690 953.5,689.8 953.8,689.7 954.1,689.5 954.4,689.4 954.7,689.2 955,689 955.3,688.9 955.5,688.7 955.8,688.6 956.1,688.5 956.4,688.4 956.7,688.4 957,688.3 957.3,688.3 957.6,688.2 957.8,688.2 958.1,688.1 958.4,688 958.7,687.9 959,687.8 959.3,687.7 959.6,687.6 959.9,687.5 960.1,687.4 960.4,687.3 960.7,687.2 961,687.2" fill="none" stroke="#0000ff" stroke-width="1.15"/><polyline clip-path="url(#c44)" points="795.5,635.9 795.8,638.1 796.1,640.3 796.4,642.4 796.6,644.6 796.9,646.7 797.2,648.7 797.5,650.7 797.8,652.7 798.1,654.6 798.4,656.4 798.7,658.2 798.9,660 799.2,661.8 799.5,663.6 799.8,665.4 800.1,667.2 800.4,669 800.7,670.8 801,672.6 801.2,674.4 801.5,676.3 801.8,678.2 802.1,680.1 802.4,682.1 802.7,684 803,686.1 803.3,688.1 803.5,690.3 803.8,692.6 804.1,695 804.4,697.5 804.7,700 805,702.5 805.3,704.7 805.6,706.8 805.8,708.4 806.1,709.6 806.4,710.3 806.7,710.8 807,711 807.3,711.1 807.6,711.1 807.9,711.1 808.1,711 808.4,711 808.7,711 809,711 809.3,711.1 809.6,711.1 809.9,711.2 810.2,711.2 810.4,711.2 810.7,711.2 811,711.1 811.3,710.9 811.6,710.7 811.9,710.5 812.2,710.1 812.5,709.7 812.7,709.3 813,708.7 813.3,708.2 813.6,707.5 813.9,706.8 814.2,706.1 814.5,705.3 814.8,704.6 815,703.7 815.3,702.8 815.6,701.7 815.9,700.4 816.2,698.9 816.5,697.1 816.8,695.1 817,692.9 817.3,690.6 817.6,688.3 817.9,686 818.2,683.8 818.5,681.7 818.8,679.6 819.1,677.6 819.3,675.5 819.6,673.5 819.9,671.4 820.2,669.3 820.5,667.2 820.8,665.4 821.1,663.7 821.4,662.4 821.6,661.3 821.9,660.6 822.2,660 822.5,659.4 822.8,658.9 823.1,658.2 823.4,657.4 823.7,656.4 823.9,655.2 824.2,653.9 824.5,652.5 824.8,651.1 825.1,649.6 825.4,648.1 825.7,646.6 826,645.1 826.2,643.6 826.5,642.1 826.8,640.7 827.1,639.3 827.4,638 827.7,636.7 828,635.5 828.3,634.4 828.5,633.4 828.8,632.5 829.1,631.7 829.4,631.1 829.7,630.7 830,630.5 830.3,630.5 830.6,630.7 830.8,631.1 831.1,631.6 831.4,632.1 831.7,632.6 832,633.1 832.3,633.6 832.6,634 832.9,634.5 833.1,635 833.4,635.5 833.7,636.1 834,636.7 834.3,637.4 834.6,638 834.9,638.6 835.2,639.1 835.4,639.5 835.7,639.8 836,640.1 836.3,640.3 836.6,640.6 836.9,640.9 837.2,641.2 837.4,641.5 837.7,641.9 838,642.3 838.3,642.7 838.6,643 838.9,643.3 839.2,643.6 839.5,643.9 839.7,644.3 840,644.7 840.3,645.2 840.6,645.8 840.9,646.5 841.2,647.3 841.5,648.1 841.8,649 842,649.8 842.3,650.7 842.6,651.5 842.9,652.3 843.2,653 843.5,653.6 843.8,654.1 844.1,654.6 844.3,654.9 844.6,655.2 844.9,655.5 845.2,655.7 845.5,655.9 845.8,656.2 846.1,656.4 846.4,656.7 846.6,656.9 846.9,657.1 847.2,657.3 847.5,657.5 847.8,657.7 848.1,657.8 848.4,657.8 848.7,657.9 848.9,657.9 849.2,657.8 849.5,657.8 849.8,657.7 850.1,657.6 850.4,657.5 850.7,657.3 851,657.2 851.2,657.2 851.5,657.1 851.8,657 852.1,657 852.4,657 852.7,657 853,657.1 853.3,657.1 853.5,657.2 853.8,657.3 854.1,657.3 854.4,657.4 854.7,657.5 855,657.5 855.3,657.6 855.6,657.6 855.8,657.7 856.1,657.8 856.4,657.8 856.7,657.8 857,657.7 857.3,657.6 857.6,657.3 857.8,657 858.1,656.5 858.4,656 858.7,655.4 859,654.8 859.3,654.1 859.6,653.5 859.9,652.9 860.1,652.4 860.4,651.9 860.7,651.4 861,651.1 861.3,650.8 861.6,650.6 861.9,650.4 862.2,650.2 862.4,650 862.7,649.8 863,649.6 863.3,649.3 863.6,649 863.9,648.7 864.2,648.4 864.5,648 864.7,647.7 865,647.3 865.3,646.9 865.6,646.4 865.9,645.8 866.2,645.2 866.5,644.4 866.8,643.5 867,642.6 867.3,641.6 867.6,640.5 867.9,639.4 868.2,638.4 868.5,637.3 868.8,636.4 869.1,635.6 869.3,634.9 869.6,634.4 869.9,634.2 870.2,634.2 870.5,634.3 870.8,634.6 871.1,635 871.4,635.5 871.6,636 871.9,636.6 872.2,637.2 872.5,637.8 872.8,638.4 873.1,639.1 873.4,639.8 873.7,640.5 873.9,641.2 874.2,641.9 874.5,642.6 874.8,643.4 875.1,644.1 875.4,644.9 875.7,645.7 876,646.5 876.2,647.2 876.5,648 876.8,648.8 877.1,649.6 877.4,650.4 877.7,651.3 878,652.1 878.2,652.9 878.5,653.7 878.8,654.5 879.1,655.3 879.4,656.2 879.7,657.2 880,658.2 880.3,659.4 880.5,660.6 880.8,661.9 881.1,663.3 881.4,664.8 881.7,666.3 882,667.9 882.3,669.4 882.6,671 882.8,672.5 883.1,673.9 883.4,675.3 883.7,676.4 884,677.5 884.3,678.4 884.6,679.3 884.9,680.2 885.1,681 885.4,681.8 885.7,682.6 886,683.5 886.3,684.3 886.6,685.1 886.9,686 887.2,686.9 887.4,687.7 887.7,688.6 888,689.4 888.3,690.2 888.6,691 888.9,691.7 889.2,692.4 889.5,693.1 889.7,693.7 890,694.3 890.3,695 890.6,695.6 890.9,696.2 891.2,696.9 891.5,697.5 891.8,698 892,698.5 892.3,699 892.6,699.4 892.9,699.7 893.2,700 893.5,700.4 893.8,700.7 894.1,701 894.3,701.4 894.6,701.8 894.9,702.2 895.2,702.6 895.5,703 895.8,703.4 896.1,703.8 896.4,704.1 896.6,704.4 896.9,704.6 897.2,704.8 897.5,704.9 897.8,704.9 898.1,704.9 898.4,704.8 898.7,704.6 898.9,704.3 899.2,703.9 899.5,703.4 899.8,702.9 900.1,702.4 900.4,701.8 900.7,701.2 900.9,700.6 901.2,700 901.5,699.4 901.8,698.8 902.1,698.2 902.4,697.6 902.7,697.1 903,696.5 903.2,695.9 903.5,695.3 903.8,694.7 904.1,694.1 904.4,693.4 904.7,692.8 905,692.1 905.3,691.4 905.5,690.7 905.8,689.9 906.1,689.1 906.4,688.3 906.7,687.4 907,686.4 907.3,685.5 907.6,684.6 907.8,683.6 908.1,682.7 908.4,681.8 908.7,680.9 909,680 909.3,679.2 909.6,678.4 909.9,677.6 910.1,676.9 910.4,676.2 910.7,675.6 911,674.9 911.3,674.3 911.6,673.7 911.9,673.1 912.2,672.7 912.4,672.3 912.7,672 913,671.9 913.3,671.9 913.6,672 913.9,672.1 914.2,672.3 914.5,672.6 914.7,672.8 915,673.1 915.3,673.4 915.6,673.9 915.9,674.5 916.2,675.3 916.5,676.2 916.8,677.4 917,678.6 917.3,679.9 917.6,681.2 917.9,682.4 918.2,683.6 918.5,684.6 918.8,685.7 919.1,686.8 919.3,688 919.6,689.2 919.9,690.6 920.2,692.1 920.5,693.6 920.8,695.1 921.1,696.5 921.3,697.6 921.6,698.6 921.9,699.4 922.2,700.1 922.5,700.7 922.8,701.4 923.1,702.1 923.4,703 923.6,704.1 923.9,705.3 924.2,706.5 924.5,707.9 924.8,709.3 925.1,710.7 925.4,712.2 925.7,713.7 925.9,715.2 926.2,716.7 926.5,718.2 926.8,719.8 927.1,721.2 927.4,722.6 927.7,723.8 928,724.9 928.2,725.8 928.5,726.4 928.8,726.7 929.1,727 929.4,727.1 929.7,727.1 930,727.2 930.3,727.3 930.5,727.4 930.8,727.6 931.1,727.8 931.4,727.9 931.7,728.1 932,728.2 932.3,728.3 932.6,728.4 932.8,728.5 933.1,728.6 933.4,728.6 933.7,728.7 934,728.7 934.3,728.8 934.6,728.9 934.9,728.9 935.1,729 935.4,729.1 935.7,729.1 936,729.2 936.3,729.3 936.6,729.3 936.9,729.3 937.2,729.4 937.4,729.4 937.7,729.4 938,729.4 938.3,729.3 938.6,729.3 938.9,729.3 939.2,729.3 939.5,729.3 939.7,729.3 940,729.3 940.3,729.3 940.6,729.3 940.9,729.3 941.2,729.3 941.5,729.2 941.7,729.1 942,729 942.3,728.8 942.6,728.6 942.9,728.5 943.2,728.3 943.5,728.2 943.8,728.1 944,728.1 944.3,728.1 944.6,728.1 944.9,727.9 945.2,727.7 945.5,727.2 945.8,726.5 946.1,725.6 946.3,724.5 946.6,723.3 946.9,722.1 947.2,720.9 947.5,719.8 947.8,718.7 948.1,717.8 948.4,716.9 948.6,716.2 948.9,715.6 949.2,715.1 949.5,714.7 949.8,714.3 950.1,714 950.4,713.7 950.7,713.2 950.9,712.7 951.2,712.1 951.5,711.6 951.8,711.1 952.1,710.8 952.4,710.7 952.7,710.9 953,711.4 953.2,712 953.5,712.7 953.8,713.5 954.1,714.3 954.4,715 954.7,715.6 955,716.1 955.3,716.5 955.5,716.7 955.8,716.8 956.1,716.7 956.4,716.6 956.7,716.3 957,716 957.3,715.7 957.6,715.6 957.8,715.5 958.1,715.5 958.4,715.6 958.7,715.7 959,715.9 959.3,716.1 959.6,716.3 959.9,716.5 960.1,716.7 960.4,716.9 960.7,717.1 961,717.3" fill="none" stroke="#0000ff" stroke-width="1.15"/><polyline clip-path="url(#c44)" points="795.5,661 795.8,661.1 796.1,661.2 796.4,661.3 796.6,661.4 796.9,661.6 797.2,661.8 797.5,662 797.8,662.3 798.1,662.6 798.4,663 798.7,663.3 798.9,663.6 799.2,663.9 799.5,664.1 799.8,664.3 800.1,664.5 800.4,664.6 800.7,664.7 801,664.7 801.2,664.7 801.5,664.7 801.8,664.7 802.1,664.7 802.4,664.7 802.7,664.7 803,664.7 803.3,664.8 803.5,664.8 803.8,664.9 804.1,665 804.4,665.2 804.7,665.3 805,665.4 805.3,665.6 805.6,665.8 805.8,665.9 806.1,666.1 806.4,666.3 806.7,666.5 807,666.7 807.3,666.9 807.6,667.2 807.9,667.5 808.1,667.8 808.4,668.1 808.7,668.4 809,668.7 809.3,669 809.6,669.3 809.9,669.5 810.2,669.7 810.4,669.9 810.7,670 811,670.1 811.3,670.2 811.6,670.3 811.9,670.3 812.2,670.4 812.5,670.4 812.7,670.5 813,670.6 813.3,670.7 813.6,670.8 813.9,671 814.2,671.2 814.5,671.4 814.8,671.6 815,671.9 815.3,672.2 815.6,672.5 815.9,672.9 816.2,673.2 816.5,673.5 816.8,673.9 817,674.2 817.3,674.5 817.6,674.8 817.9,675 818.2,675.2 818.5,675.4 818.8,675.6 819.1,675.8 819.3,676.1 819.6,676.5 819.9,676.9 820.2,677.2 820.5,677.5 820.8,677.5 821.1,677.1 821.4,676.3 821.6,674.9 821.9,672.9 822.2,670.3 822.5,667.3 822.8,663.7 823.1,659.6 823.4,655 823.7,650.2 823.9,645.1 824.2,640.1 824.5,635.2 824.8,630.6 825.1,626.4 825.4,622.7 825.7,619.5 826,616.9 826.2,614.8 826.5,613.3 826.8,612.5 827.1,612.1 827.4,612 827.7,612.2 828,612.5 828.3,612.8 828.5,612.9 828.8,613 829.1,613.1 829.4,613.2 829.7,613.6 830,614.3 830.3,615.2 830.6,616.5 830.8,617.9 831.1,619.5 831.4,621 831.7,622.4 832,623.7 832.3,624.7 832.6,625.7 832.9,626.6 833.1,627.5 833.4,628.4 833.7,629.4 834,630.4 834.3,631.5 834.6,632.9 834.9,634.3 835.2,636 835.4,637.9 835.7,640.1 836,642.4 836.3,644.9 836.6,647.6 836.9,650.5 837.2,653.5 837.4,656.6 837.7,659.7 838,662.8 838.3,665.6 838.6,668.3 838.9,670.7 839.2,672.7 839.5,674.5 839.7,675.9 840,677 840.3,677.7 840.6,678.2 840.9,678.3 841.2,678.2 841.5,678 841.8,677.7 842,677.4 842.3,677 842.6,676.7 842.9,676.4 843.2,676.1 843.5,675.9 843.8,675.5 844.1,675.2 844.3,674.9 844.6,674.6 844.9,674.4 845.2,674.2 845.5,674.1 845.8,674.1 846.1,674.2 846.4,674.5 846.6,674.8 846.9,675.3 847.2,675.9 847.5,676.6 847.8,677.5 848.1,678.4 848.4,679.3 848.7,680.3 848.9,681.4 849.2,682.4 849.5,683.4 849.8,684.4 850.1,685.5 850.4,686.6 850.7,687.7 851,688.9 851.2,690.1 851.5,691.3 851.8,692.3 852.1,693.3 852.4,694 852.7,694.6 853,695 853.3,695.2 853.5,695.4 853.8,695.6 854.1,695.9 854.4,696.2 854.7,696.6 855,697.1 855.3,697.6 855.6,698.1 855.8,698.6 856.1,699 856.4,699.3 856.7,699.6 857,699.8 857.3,699.9 857.6,699.9 857.8,699.7 858.1,699.5 858.4,699.2 858.7,698.7 859,698.1 859.3,697.3 859.6,696.4 859.9,695.3 860.1,694.1 860.4,692.7 860.7,691.2 861,689.5 861.3,687.7 861.6,685.8 861.9,683.7 862.2,681.6 862.4,679.2 862.7,676.8 863,674.3 863.3,671.7 863.6,669 863.9,666.4 864.2,663.8 864.5,661.4 864.7,659.1 865,657 865.3,655 865.6,653.1 865.9,651.3 866.2,649.6 866.5,648 866.8,646.5 867,645.1 867.3,643.8 867.6,642.7 867.9,641.8 868.2,641.1 868.5,640.6 868.8,640.3 869.1,640.2 869.3,640.3 869.6,640.5 869.9,641 870.2,641.6 870.5,642.3 870.8,643.2 871.1,644.3 871.4,645.4 871.6,646.7 871.9,648.1 872.2,649.6 872.5,651.2 872.8,652.8 873.1,654.5 873.4,656.3 873.7,658 873.9,659.8 874.2,661.7 874.5,663.5 874.8,665.4 875.1,667.3 875.4,669.1 875.7,671 876,672.9 876.2,674.8 876.5,676.8 876.8,678.8 877.1,680.8 877.4,682.8 877.7,684.7 878,686.6 878.2,688.2 878.5,689.8 878.8,691.1 879.1,692.4 879.4,693.6 879.7,694.7 880,695.9 880.3,697 880.5,698.1 880.8,699.2 881.1,700.3 881.4,701.3 881.7,702.2 882,703 882.3,703.7 882.6,704.3 882.8,704.6 883.1,704.7 883.4,704.6 883.7,704.1 884,703.5 884.3,702.7 884.6,701.8 884.9,700.8 885.1,699.9 885.4,699 885.7,698.2 886,697.5 886.3,696.8 886.6,696.3 886.9,695.9 887.2,695.5 887.4,695.2 887.7,695.1 888,695 888.3,694.9 888.6,695 888.9,695 889.2,695.2 889.5,695.3 889.7,695.5 890,695.7 890.3,695.9 890.6,696 890.9,696.2 891.2,696.4 891.5,696.7 891.8,697.1 892,697.7 892.3,698.4 892.6,699.2 892.9,700.2 893.2,701.1 893.5,702.1 893.8,703.1 894.1,704 894.3,704.9 894.6,705.6 894.9,706.2 895.2,706.7 895.5,707.1 895.8,707.3 896.1,707.4 896.4,707.4 896.6,707.3 896.9,707.2 897.2,707.1 897.5,707 897.8,707 898.1,707 898.4,707 898.7,707.1 898.9,707.1 899.2,707.1 899.5,707.2 899.8,707.2 900.1,707.2 900.4,707.2 900.7,707.1 900.9,707 901.2,706.8 901.5,706.6 901.8,706.4 902.1,706.1 902.4,705.8 902.7,705.5 903,705.2 903.2,704.9 903.5,704.6 903.8,704.3 904.1,704 904.4,703.8 904.7,703.5 905,703.3 905.3,703.1 905.5,702.9 905.8,702.8 906.1,702.6 906.4,702.5 906.7,702.5 907,702.5 907.3,702.6 907.6,702.8 907.8,703 908.1,703.3 908.4,703.6 908.7,704 909,704.3 909.3,704.6 909.6,704.8 909.9,704.9 910.1,705 910.4,705.1 910.7,705.2 911,705.3 911.3,705.4 911.6,705.5 911.9,705.7 912.2,705.8 912.4,705.8 912.7,705.8 913,705.8 913.3,705.7 913.6,705.6 913.9,705.6 914.2,705.7 914.5,705.8 914.7,706.1 915,706.6 915.3,707 915.6,707.5 915.9,707.9 916.2,708.2 916.5,708.3 916.8,708.3 917,708.3 917.3,708.1 917.6,707.9 917.9,707.6 918.2,707.4 918.5,707.2 918.8,707 919.1,706.8 919.3,706.6 919.6,706.4 919.9,706.1 920.2,705.9 920.5,705.6 920.8,705.2 921.1,704.9 921.3,704.6 921.6,704.2 921.9,703.8 922.2,703.4 922.5,703 922.8,702.6 923.1,702.2 923.4,701.8 923.6,701.4 923.9,701 924.2,700.6 924.5,700.2 924.8,699.9 925.1,699.5 925.4,699.1 925.7,698.8 925.9,698.4 926.2,698 926.5,697.7 926.8,697.3 927.1,696.9 927.4,696.5 927.7,696.2 928,695.8 928.2,695.5 928.5,695.2 928.8,695 929.1,694.8 929.4,694.6 929.7,694.5 930,694.4 930.3,694.3 930.5,694.3 930.8,694.2 931.1,694.1 931.4,693.9 931.7,693.7 932,693.4 932.3,693 932.6,692.6 932.8,692.1 933.1,691.7 933.4,691.3 933.7,691 934,690.7 934.3,690.4 934.6,690.1 934.9,689.9 935.1,689.5 935.4,689.1 935.7,688.7 936,688.2 936.3,687.8 936.6,687.5 936.9,687.2 937.2,686.9 937.4,686.8 937.7,686.8 938,686.8 938.3,686.8 938.6,686.8 938.9,686.8 939.2,686.8 939.5,686.8 939.7,686.8 940,686.8 940.3,686.8 940.6,686.8 940.9,686.7 941.2,686.7 941.5,686.6 941.7,686.5 942,686.4 942.3,686.3 942.6,686.2 942.9,686 943.2,685.8 943.5,685.6 943.8,685.3 944,685 944.3,684.7 944.6,684.4 944.9,684 945.2,683.6 945.5,683.2 945.8,682.7 946.1,682.3 946.3,681.9 946.6,681.4 946.9,680.9 947.2,680.4 947.5,679.9 947.8,679.4 948.1,678.8 948.4,678.2 948.6,677.5 948.9,676.8 949.2,676 949.5,675.2 949.8,674.4 950.1,673.6 950.4,672.9 950.7,672.3 950.9,671.8 951.2,671.4 951.5,671.1 951.8,670.8 952.1,670.6 952.4,670.5 952.7,670.3 953,670.2 953.2,670 953.5,669.9 953.8,669.7 954.1,669.6 954.4,669.4 954.7,669.2 955,669.1 955.3,668.9 955.5,668.8 955.8,668.7 956.1,668.6 956.4,668.5 956.7,668.5 957,668.5 957.3,668.6 957.6,668.7 957.8,668.8 958.1,668.9 958.4,669.1 958.7,669.2 959,669.4 959.3,669.6 959.6,669.7 959.9,669.9 960.1,670 960.4,670.2 960.7,670.3 961,670.5" fill="none" stroke="#0000ff" stroke-width="1.15"/><polyline clip-path="url(#c44)" points="795.5,689 795.8,689.2 796.1,689.4 796.4,689.6 796.6,689.8 796.9,689.9 797.2,690.1 797.5,690.1 797.8,690.2 798.1,690.2 798.4,690.3 798.7,690.3 798.9,690.4 799.2,690.6 799.5,690.7 799.8,690.9 800.1,691.1 800.4,691.2 800.7,691.3 801,691.4 801.2,691.4 801.5,691.4 801.8,691.3 802.1,691.3 802.4,691.3 802.7,691.4 803,691.5 803.3,691.6 803.5,691.7 803.8,691.8 804.1,691.9 804.4,691.9 804.7,691.9 805,691.9 805.3,691.9 805.6,691.9 805.8,691.9 806.1,691.9 806.4,691.9 806.7,692 807,692.1 807.3,692.2 807.6,692.2 807.9,692.3 808.1,692.4 808.4,692.4 808.7,692.5 809,692.5 809.3,692.6 809.6,692.7 809.9,692.8 810.2,692.9 810.4,692.9 810.7,693 811,693.1 811.3,693.2 811.6,693.3 811.9,693.5 812.2,693.6 812.5,693.8 812.7,694 813,694.3 813.3,694.7 813.6,695 813.9,695.4 814.2,695.6 814.5,695.9 814.8,696 815,696.1 815.3,696.1 815.6,696.1 815.9,696.1 816.2,696.2 816.5,696.4 816.8,696.5 817,696.7 817.3,696.8 817.6,696.9 817.9,696.8 818.2,696.5 818.5,696.1 818.8,695.6 819.1,695 819.3,694.4 819.6,693.7 819.9,693 820.2,692.3 820.5,691.5 820.8,690.7 821.1,689.7 821.4,688.6 821.6,687.3 821.9,686 822.2,684.4 822.5,682.9 822.8,681.2 823.1,679.5 823.4,677.9 823.7,676.3 823.9,674.8 824.2,673.4 824.5,672.3 824.8,671.4 825.1,670.8 825.4,670.4 825.7,670.3 826,670.3 826.2,670.4 826.5,670.5 826.8,670.6 827.1,670.6 827.4,670.7 827.7,670.7 828,670.8 828.3,670.8 828.5,670.9 828.8,671.1 829.1,671.3 829.4,671.6 829.7,671.9 830,672.3 830.3,672.8 830.6,673.3 830.8,673.9 831.1,674.6 831.4,675.2 831.7,675.9 832,676.6 832.3,677.2 832.6,677.8 832.9,678.4 833.1,679 833.4,679.5 833.7,680.1 834,680.6 834.3,681.1 834.6,681.7 834.9,682.4 835.2,683.2 835.4,684.1 835.7,685.1 836,686.2 836.3,687.3 836.6,688.5 836.9,689.5 837.2,690.5 837.4,691.4 837.7,692.2 838,692.9 838.3,693.5 838.6,694 838.9,694.5 839.2,694.9 839.5,695.2 839.7,695.4 840,695.5 840.3,695.5 840.6,695.3 840.9,695.1 841.2,694.8 841.5,694.4 841.8,694 842,693.7 842.3,693.4 842.6,693.1 842.9,692.8 843.2,692.6 843.5,692.4 843.8,692.2 844.1,692 844.3,691.9 844.6,691.7 844.9,691.6 845.2,691.4 845.5,691.3 845.8,691.3 846.1,691.2 846.4,691.2 846.6,691.2 846.9,691.3 847.2,691.3 847.5,691.4 847.8,691.5 848.1,691.6 848.4,691.8 848.7,692 848.9,692.2 849.2,692.5 849.5,692.8 849.8,693.2 850.1,693.5 850.4,693.8 850.7,694 851,694.2 851.2,694.4 851.5,694.5 851.8,694.6 852.1,694.8 852.4,695 852.7,695.2 853,695.5 853.3,695.9 853.5,696.2 853.8,696.5 854.1,696.8 854.4,696.9 854.7,697 855,697.1 855.3,697.1 855.6,697.2 855.8,697.3 856.1,697.5 856.4,697.7 856.7,697.9 857,698.2 857.3,698.4 857.6,698.6 857.8,698.7 858.1,698.8 858.4,698.8 858.7,698.8 859,698.7 859.3,698.6 859.6,698.4 859.9,698.2 860.1,698 860.4,697.7 860.7,697.5 861,697.3 861.3,697.1 861.6,697 861.9,696.8 862.2,696.6 862.4,696.3 862.7,695.9 863,695.3 863.3,694.7 863.6,694.1 863.9,693.4 864.2,692.8 864.5,692.2 864.7,691.8 865,691.4 865.3,691.1 865.6,690.8 865.9,690.4 866.2,690.1 866.5,689.6 866.8,689.1 867,688.6 867.3,688.2 867.6,687.9 867.9,687.7 868.2,687.7 868.5,688 868.8,688.3 869.1,688.7 869.3,689.1 869.6,689.5 869.9,689.9 870.2,690.1 870.5,690.4 870.8,690.7 871.1,691 871.4,691.3 871.6,691.7 871.9,692.2 872.2,692.8 872.5,693.4 872.8,694.1 873.1,695 873.4,695.8 873.7,696.8 873.9,697.7 874.2,698.7 874.5,699.6 874.8,700.4 875.1,701.1 875.4,701.7 875.7,702.2 876,702.6 876.2,702.9 876.5,703.1 876.8,703.3 877.1,703.3 877.4,703.3 877.7,703.3 878,703.2 878.2,703.1 878.5,703 878.8,702.9 879.1,702.7 879.4,702.5 879.7,702.4 880,702.2 880.3,702 880.5,701.9 880.8,701.7 881.1,701.5 881.4,701.4 881.7,701.3 882,701.2 882.3,701.2 882.6,701.1 882.8,701.1 883.1,701 883.4,700.9 883.7,700.9 884,700.8 884.3,700.6 884.6,700.5 884.9,700.5 885.1,700.4 885.4,700.4 885.7,700.3 886,700.3 886.3,700.4 886.6,700.4 886.9,700.4 887.2,700.4 887.4,700.4 887.7,700.4 888,700.4 888.3,700.4 888.6,700.4 888.9,700.4 889.2,700.4 889.5,700.4 889.7,700.4 890,700.4 890.3,700.4 890.6,700.4 890.9,700.5 891.2,700.5 891.5,700.5 891.8,700.5 892,700.4 892.3,700.2 892.6,700 892.9,699.8 893.2,699.6 893.5,699.5 893.8,699.5 894.1,699.6 894.3,699.9 894.6,700.3 894.9,700.6 895.2,701 895.5,701.3 895.8,701.5 896.1,701.7 896.4,701.7 896.6,701.7 896.9,701.7 897.2,701.7 897.5,701.6 897.8,701.6 898.1,701.5 898.4,701.4 898.7,701.4 898.9,701.3 899.2,701.2 899.5,701.2 899.8,701.2 900.1,701.2 900.4,701.2 900.7,701.3 900.9,701.5 901.2,701.7 901.5,701.9 901.8,702.2 902.1,702.5 902.4,702.8 902.7,703 903,703.3 903.2,703.6 903.5,703.8 903.8,703.9 904.1,704 904.4,704.1 904.7,704.1 905,704 905.3,704 905.5,704 905.8,704 906.1,704.1 906.4,704.2 906.7,704.4 907,704.6 907.3,704.8 907.6,704.9 907.8,705.1 908.1,705.2 908.4,705.3 908.7,705.3 909,705.3 909.3,705.3 909.6,705.2 909.9,705.1 910.1,705 910.4,704.9 910.7,704.7 911,704.6 911.3,704.4 911.6,704.2 911.9,704 912.2,703.7 912.4,703.4 912.7,703.1 913,702.7 913.3,702.3 913.6,701.9 913.9,701.5 914.2,701.2 914.5,700.9 914.7,700.8 915,700.7 915.3,700.7 915.6,700.6 915.9,700.5 916.2,700.4 916.5,700.2 916.8,699.9 917,699.5 917.3,699.2 917.6,698.8 917.9,698.6 918.2,698.4 918.5,698.3 918.8,698.3 919.1,698.3 919.3,698.4 919.6,698.6 919.9,698.8 920.2,699 920.5,699.2 920.8,699.4 921.1,699.7 921.3,699.9 921.6,700 921.9,700.1 922.2,700.2 922.5,700.3 922.8,700.4 923.1,700.4 923.4,700.4 923.6,700.4 923.9,700.4 924.2,700.4 924.5,700.4 924.8,700.4 925.1,700.4 925.4,700.4 925.7,700.4 925.9,700.4 926.2,700.4 926.5,700.4 926.8,700.4 927.1,700.4 927.4,700.4 927.7,700.4 928,700.4 928.2,700.4 928.5,700.4 928.8,700.4 929.1,700.4 929.4,700.4 929.7,700.4 930,700.4 930.3,700.4 930.5,700.4 930.8,700.4 931.1,700.4 931.4,700.4 931.7,700.4 932,700.3 932.3,700.2 932.6,700.1 932.8,700 933.1,699.9 933.4,699.9 933.7,699.8 934,699.7 934.3,699.7 934.6,699.6 934.9,699.6 935.1,699.5 935.4,699.4 935.7,699.3 936,699.1 936.3,699 936.6,698.8 936.9,698.6 937.2,698.3 937.4,698.1 937.7,697.8 938,697.5 938.3,697.1 938.6,696.8 938.9,696.4 939.2,696 939.5,695.6 939.7,695.1 940,694.6 940.3,694 940.6,693.4 940.9,692.8 941.2,692 941.5,691.2 941.7,690.4 942,689.5 942.3,688.6 942.6,687.7 942.9,686.8 943.2,686 943.5,685.4 943.8,685 944,684.8 944.3,684.7 944.6,684.8 944.9,684.9 945.2,685 945.5,685 945.8,684.8 946.1,684.5 946.3,684.2 946.6,683.8 946.9,683.5 947.2,683.2 947.5,683 947.8,682.9 948.1,682.8 948.4,682.8 948.6,682.8 948.9,682.8 949.2,682.8 949.5,682.7 949.8,682.6 950.1,682.5 950.4,682.3 950.7,682.3 950.9,682.2 951.2,682.2 951.5,682.1 951.8,682.2 952.1,682.2 952.4,682.3 952.7,682.3 953,682.5 953.2,682.6 953.5,682.8 953.8,683 954.1,683.2 954.4,683.4 954.7,683.7 955,683.9 955.3,684.2 955.5,684.4 955.8,684.6 956.1,684.8 956.4,684.9 956.7,685 957,685.1 957.3,685.2 957.6,685.3 957.8,685.5 958.1,685.6 958.4,685.7 958.7,685.8 959,685.9 959.3,685.9 959.6,685.9 959.9,685.8 960.1,685.7 960.4,685.6 960.7,685.5 961,685.3" fill="none" stroke="#0000ff" stroke-width="1.15"/><polyline clip-path="url(#c44)" points="795.5,676.3 795.8,676.2 796.1,676.2 796.4,676.2 796.6,676.2 796.9,676.2 797.2,676.3 797.5,676.3 797.8,676.4 798.1,676.5 798.4,676.7 798.7,676.7 798.9,676.8 799.2,676.9 799.5,676.9 799.8,676.9 800.1,676.9 800.4,676.9 800.7,676.8 801,676.8 801.2,676.8 801.5,676.7 801.8,676.7 802.1,676.8 802.4,676.8 802.7,676.9 803,677 803.3,677.1 803.5,677.1 803.8,677 804.1,676.8 804.4,676.5 804.7,676.1 805,675.6 805.3,675.1 805.6,674.7 805.8,674.5 806.1,674.4 806.4,674.4 806.7,674.6 807,674.8 807.3,675.2 807.6,675.5 807.9,675.9 808.1,676.3 808.4,676.8 808.7,677.2 809,677.6 809.3,678.1 809.6,678.6 809.9,679.1 810.2,679.6 810.4,680.1 810.7,680.7 811,681.4 811.3,682 811.6,682.7 811.9,683.4 812.2,684 812.5,684.5 812.7,685 813,685.3 813.3,685.5 813.6,685.6 813.9,685.7 814.2,685.8 814.5,685.9 814.8,686 815,686.2 815.3,686.4 815.6,686.6 815.9,686.7 816.2,686.8 816.5,686.8 816.8,686.8 817,686.7 817.3,686.6 817.6,686.5 817.9,686.4 818.2,686.4 818.5,686.4 818.8,686.5 819.1,686.6 819.3,686.7 819.6,686.8 819.9,686.9 820.2,687 820.5,687.1 820.8,687.1 821.1,687 821.4,686.8 821.6,686.5 821.9,686.1 822.2,685.6 822.5,685.1 822.8,684.5 823.1,684.1 823.4,683.7 823.7,683.3 823.9,683.1 824.2,682.9 824.5,682.8 824.8,682.8 825.1,682.9 825.4,683 825.7,683.2 826,683.4 826.2,683.7 826.5,684.1 826.8,684.4 827.1,684.8 827.4,685.2 827.7,685.5 828,685.7 828.3,685.9 828.5,685.9 828.8,685.8 829.1,685.7 829.4,685.6 829.7,685.4 830,685.3 830.3,685.3 830.6,685.4 830.8,685.5 831.1,685.6 831.4,685.8 831.7,685.9 832,686 832.3,686 832.6,686 832.9,686 833.1,686 833.4,685.9 833.7,685.8 834,685.6 834.3,685.5 834.6,685.4 834.9,685.3 835.2,685.3 835.4,685.4 835.7,685.6 836,685.7 836.3,685.7 836.6,685.6 836.9,685.3 837.2,684.8 837.4,684.1 837.7,683.3 838,682.5 838.3,681.7 838.6,681 838.9,680.4 839.2,680 839.5,679.6 839.7,679.3 840,679 840.3,678.6 840.6,678.2 840.9,677.7 841.2,677.2 841.5,676.7 841.8,676.2 842,675.9 842.3,675.7 842.6,675.6 842.9,675.6 843.2,675.6 843.5,675.6 843.8,675.5 844.1,675.5 844.3,675.3 844.6,675.1 844.9,674.8 845.2,674.5 845.5,674.1 845.8,673.7 846.1,673.3 846.4,672.9 846.6,672.5 846.9,672.2 847.2,671.9 847.5,671.7 847.8,671.7 848.1,671.7 848.4,671.8 848.7,672 848.9,672.3 849.2,672.7 849.5,673.2 849.8,673.7 850.1,674.3 850.4,675 850.7,675.5 851,676.1 851.2,676.7 851.5,677.2 851.8,677.7 852.1,678.2 852.4,678.6 852.7,679.1 853,679.6 853.3,680 853.5,680.5 853.8,680.9 854.1,681.4 854.4,681.8 854.7,682.2 855,682.7 855.3,683.1 855.6,683.6 855.8,684.1 856.1,684.5 856.4,685 856.7,685.5 857,685.9 857.3,686.4 857.6,686.8 857.8,687.2 858.1,687.6 858.4,687.9 858.7,688.4 859,688.9 859.3,689.5 859.6,690.2 859.9,691 860.1,691.9 860.4,692.7 860.7,693.4 861,694 861.3,694.5 861.6,694.9 861.9,695.2 862.2,695.4 862.4,695.6 862.7,695.9 863,696.2 863.3,696.5 863.6,696.8 863.9,697 864.2,697.2 864.5,697.3 864.7,697.3 865,697.1 865.3,696.9 865.6,696.6 865.9,696.4 866.2,696.2 866.5,696.2 866.8,696.2 867,696.3 867.3,696.4 867.6,696.6 867.9,696.8 868.2,696.9 868.5,697.1 868.8,697.2 869.1,697.3 869.3,697.3 869.6,697.3 869.9,697.2 870.2,697.1 870.5,696.9 870.8,696.7 871.1,696.5 871.4,696.2 871.6,696 871.9,695.8 872.2,695.5 872.5,695.3 872.8,695.1 873.1,695 873.4,694.8 873.7,694.7 873.9,694.6 874.2,694.5 874.5,694.4 874.8,694.4 875.1,694.4 875.4,694.4 875.7,694.4 876,694.4 876.2,694.4 876.5,694.4 876.8,694.4 877.1,694.3 877.4,694.3 877.7,694.2 878,694.1 878.2,694 878.5,694 878.8,693.9 879.1,693.9 879.4,693.8 879.7,693.7 880,693.7 880.3,693.6 880.5,693.6 880.8,693.5 881.1,693.4 881.4,693.4 881.7,693.3 882,693.3 882.3,693.2 882.6,693.2 882.8,693.2 883.1,693.2 883.4,693.1 883.7,693.1 884,693.1 884.3,693.1 884.6,693.1 884.9,693.1 885.1,693.1 885.4,693.1 885.7,693.1 886,693.1 886.3,693.1 886.6,693.1 886.9,693.1 887.2,693.1 887.4,693.1 887.7,693.1 888,693.1 888.3,693.1 888.6,693.1 888.9,693.1 889.2,693.1 889.5,693.1 889.7,693.1 890,693.1 890.3,693.1 890.6,693.2 890.9,693.2 891.2,693.2 891.5,693.2 891.8,693.2 892,693.1 892.3,693 892.6,692.9 892.9,692.7 893.2,692.6 893.5,692.4 893.8,692.2 894.1,692.1 894.3,691.9 894.6,691.8 894.9,691.7 895.2,691.5 895.5,691.3 895.8,691.1 896.1,690.9 896.4,690.7 896.6,690.4 896.9,690.2 897.2,690.1 897.5,689.9 897.8,689.8 898.1,689.7 898.4,689.6 898.7,689.6 898.9,689.5 899.2,689.5 899.5,689.4 899.8,689.4 900.1,689.4 900.4,689.4 900.7,689.5 900.9,689.7 901.2,689.9 901.5,690.1 901.8,690.4 902.1,690.6 902.4,690.8 902.7,690.9 903,691 903.2,691.1 903.5,691.2 903.8,691.2 904.1,691.3 904.4,691.4 904.7,691.6 905,691.8 905.3,691.9 905.5,692.1 905.8,692.2 906.1,692.4 906.4,692.5 906.7,692.5 907,692.6 907.3,692.6 907.6,692.6 907.8,692.6 908.1,692.5 908.4,692.5 908.7,692.4 909,692.3 909.3,692.2 909.6,692.2 909.9,692.1 910.1,692 910.4,692 910.7,691.9 911,691.9 911.3,691.8 911.6,691.8 911.9,691.8 912.2,691.8 912.4,691.8 912.7,691.9 913,691.9 913.3,691.9 913.6,692 913.9,692 914.2,691.9 914.5,691.9 914.7,691.8 915,691.6 915.3,691.4 915.6,691.2 915.9,691 916.2,690.8 916.5,690.6 916.8,690.3 917,690.1 917.3,689.9 917.6,689.7 917.9,689.5 918.2,689.3 918.5,689.1 918.8,688.9 919.1,688.7 919.3,688.5 919.6,688.2 919.9,688 920.2,687.7 920.5,687.4 920.8,687.2 921.1,687 921.3,686.8 921.6,686.7 921.9,686.6 922.2,686.5 922.5,686.5 922.8,686.5 923.1,686.4 923.4,686.4 923.6,686.3 923.9,686.2 924.2,686.1 924.5,686 924.8,685.9 925.1,685.7 925.4,685.6 925.7,685.5 925.9,685.3 926.2,685.1 926.5,685 926.8,684.8 927.1,684.7 927.4,684.5 927.7,684.4 928,684.2 928.2,684.1 928.5,683.9 928.8,683.8 929.1,683.6 929.4,683.5 929.7,683.3 930,683.2 930.3,683 930.5,682.9 930.8,682.7 931.1,682.6 931.4,682.4 931.7,682.3 932,682.1 932.3,681.9 932.6,681.8 932.8,681.6 933.1,681.5 933.4,681.4 933.7,681.3 934,681.2 934.3,681.1 934.6,681.1 934.9,681 935.1,681 935.4,680.9 935.7,680.8 936,680.7 936.3,680.6 936.6,680.5 936.9,680.4 937.2,680.4 937.4,680.3 937.7,680.2 938,680.1 938.3,680 938.6,679.9 938.9,679.8 939.2,679.6 939.5,679.4 939.7,679.2 940,679 940.3,678.6 940.6,678.2 940.9,677.8 941.2,677.3 941.5,676.9 941.7,676.4 942,675.9 942.3,675.5 942.6,675.1 942.9,674.7 943.2,674.3 943.5,674 943.8,673.7 944,673.5 944.3,673.3 944.6,673 944.9,672.8 945.2,672.6 945.5,672.3 945.8,672 946.1,671.6 946.3,671.3 946.6,671 946.9,670.7 947.2,670.5 947.5,670.3 947.8,670.2 948.1,670.1 948.4,670.1 948.6,670.1 948.9,670.1 949.2,670.1 949.5,670.1 949.8,670.1 950.1,670.1 950.4,670.1 950.7,670.1 950.9,670.1 951.2,670.1 951.5,670.1 951.8,670.1 952.1,670.1 952.4,670.1 952.7,670.1 953,670 953.2,669.9 953.5,669.8 953.8,669.7 954.1,669.6 954.4,669.4 954.7,669.3 955,669.1 955.3,668.9 955.5,668.8 955.8,668.7 956.1,668.6 956.4,668.5 956.7,668.4 957,668.4 957.3,668.3 957.6,668.3 957.8,668.3 958.1,668.3 958.4,668.3 958.7,668.3 959,668.3 959.3,668.3 959.6,668.3 959.9,668.3 960.1,668.3 960.4,668.3 960.7,668.3 961,668.3" fill="none" stroke="#0000ff" stroke-width="1.15"/><polyline clip-path="url(#c44)" points="795.5,681 795.8,681.4 796.1,681.9 796.4,682.4 796.6,682.9 796.9,683.5 797.2,684.1 797.5,684.7 797.8,685.4 798.1,686.1 798.4,686.7 798.7,687.3 798.9,687.7 799.2,688 799.5,688.2 799.8,688.2 800.1,688.2 800.4,688 800.7,687.7 801,687.3 801.2,686.9 801.5,686.4 801.8,685.9 802.1,685.4 802.4,685 802.7,684.6 803,684.3 803.3,684.1 803.5,683.9 803.8,683.7 804.1,683.5 804.4,683.4 804.7,683.2 805,683.1 805.3,683 805.6,682.9 805.8,682.8 806.1,682.7 806.4,682.7 806.7,682.7 807,682.7 807.3,682.7 807.6,682.8 807.9,682.9 808.1,683.1 808.4,683.4 808.7,683.6 809,683.8 809.3,684.1 809.6,684.3 809.9,684.5 810.2,684.7 810.4,684.9 810.7,685.1 811,685.3 811.3,685.5 811.6,685.8 811.9,685.9 812.2,686.1 812.5,686.3 812.7,686.4 813,686.5 813.3,686.6 813.6,686.7 813.9,686.7 814.2,686.8 814.5,686.8 814.8,686.8 815,686.9 815.3,686.9 815.6,687 815.9,687.1 816.2,687.2 816.5,687.3 816.8,687.4 817,687.5 817.3,687.6 817.6,687.7 817.9,687.7 818.2,687.6 818.5,687.6 818.8,687.5 819.1,687.5 819.3,687.5 819.6,687.7 819.9,688 820.2,688.3 820.5,688.3 820.8,687.8 821.1,686.7 821.4,684.6 821.6,681.6 821.9,677.7 822.2,673.4 822.5,668.9 822.8,664.5 823.1,660.5 823.4,657.2 823.7,654.5 823.9,652.4 824.2,650.6 824.5,649.1 824.8,647.8 825.1,646.6 825.4,645.4 825.7,644.3 826,643.3 826.2,642.3 826.5,641.5 826.8,640.7 827.1,639.9 827.4,639.3 827.7,638.6 828,638 828.3,637.5 828.5,636.9 828.8,636.4 829.1,635.8 829.4,635.3 829.7,634.8 830,634.2 830.3,633.6 830.6,633.1 830.8,632.6 831.1,632.1 831.4,631.7 831.7,631.5 832,631.4 832.3,631.3 832.6,631.4 832.9,631.6 833.1,631.8 833.4,632 833.7,632.3 834,632.5 834.3,632.8 834.6,633.1 834.9,633.5 835.2,633.8 835.4,634.2 835.7,634.7 836,635.1 836.3,635.5 836.6,636 836.9,636.4 837.2,636.8 837.4,637.1 837.7,637.5 838,637.9 838.3,638.3 838.6,638.7 838.9,639.3 839.2,639.9 839.5,640.5 839.7,641.2 840,642 840.3,642.9 840.6,643.8 840.9,644.8 841.2,645.8 841.5,646.8 841.8,647.8 842,648.7 842.3,649.6 842.6,650.4 842.9,651.3 843.2,652.2 843.5,653.1 843.8,654.2 844.1,655.3 844.3,656.6 844.6,658 844.9,659.4 845.2,660.8 845.5,662.3 845.8,663.8 846.1,665.2 846.4,666.7 846.6,668.2 846.9,669.7 847.2,671.4 847.5,673.1 847.8,674.8 848.1,676.6 848.4,678.3 848.7,679.9 848.9,681.4 849.2,682.6 849.5,683.8 849.8,684.7 850.1,685.5 850.4,686.2 850.7,686.8 851,687.3 851.2,687.7 851.5,688 851.8,688.3 852.1,688.5 852.4,688.6 852.7,688.7 853,688.8 853.3,688.8 853.5,688.8 853.8,688.7 854.1,688.6 854.4,688.4 854.7,688.2 855,687.9 855.3,687.5 855.6,687.2 855.8,686.8 856.1,686.4 856.4,686 856.7,685.5 857,684.9 857.3,684.1 857.6,683.2 857.8,682 858.1,680.7 858.4,679.2 858.7,677.6 859,675.9 859.3,674.1 859.6,672.2 859.9,670.3 860.1,668.4 860.4,666.4 860.7,664.4 861,662.3 861.3,660.3 861.6,658.2 861.9,656.2 862.2,654.3 862.4,652.5 862.7,650.9 863,649.4 863.3,648.1 863.6,646.8 863.9,645.7 864.2,644.6 864.5,643.6 864.7,642.6 865,641.7 865.3,640.7 865.6,639.8 865.9,639 866.2,638.2 866.5,637.4 866.8,636.7 867,636.1 867.3,635.4 867.6,634.8 867.9,634.2 868.2,633.6 868.5,633 868.8,632.4 869.1,631.8 869.3,631.2 869.6,630.6 869.9,630 870.2,629.5 870.5,629.1 870.8,628.8 871.1,628.8 871.4,629.1 871.6,629.7 871.9,630.6 872.2,631.6 872.5,632.8 872.8,634 873.1,635.1 873.4,636.1 873.7,637.1 873.9,638 874.2,638.8 874.5,639.7 874.8,640.5 875.1,641.5 875.4,642.5 875.7,643.5 876,644.5 876.2,645.5 876.5,646.5 876.8,647.5 877.1,648.5 877.4,649.5 877.7,650.4 878,651.4 878.2,652.3 878.5,653.3 878.8,654.3 879.1,655.4 879.4,656.5 879.7,657.6 880,658.7 880.3,659.9 880.5,661.1 880.8,662.3 881.1,663.6 881.4,665 881.7,666.5 882,668 882.3,669.6 882.6,671.2 882.8,672.9 883.1,674.6 883.4,676.3 883.7,677.9 884,679.6 884.3,681.2 884.6,682.7 884.9,684.1 885.1,685.3 885.4,686.5 885.7,687.5 886,688.5 886.3,689.4 886.6,690.4 886.9,691.3 887.2,692.3 887.4,693.4 887.7,694.6 888,695.8 888.3,697.2 888.6,698.6 888.9,700.1 889.2,701.7 889.5,703.4 889.7,705.2 890,707 890.3,708.9 890.6,710.9 890.9,712.8 891.2,714.6 891.5,716.3 891.8,717.8 892,719.1 892.3,720 892.6,720.7 892.9,721.2 893.2,721.6 893.5,721.9 893.8,722.2 894.1,722.5 894.3,722.9 894.6,723.3 894.9,723.8 895.2,724.2 895.5,724.5 895.8,724.8 896.1,725.1 896.4,725.3 896.6,725.5 896.9,725.6 897.2,725.8 897.5,726 897.8,726.1 898.1,726.3 898.4,726.5 898.7,726.6 898.9,726.7 899.2,726.8 899.5,726.8 899.8,726.8 900.1,726.9 900.4,726.9 900.7,727.1 900.9,727.2 901.2,727.4 901.5,727.5 901.8,727.5 902.1,727.4 902.4,727.1 902.7,726.5 903,725.7 903.2,724.8 903.5,723.8 903.8,722.7 904.1,721.6 904.4,720.6 904.7,719.5 905,718.3 905.3,717 905.5,715.4 905.8,713.6 906.1,711.5 906.4,709.1 906.7,706.5 907,703.8 907.3,701.2 907.6,698.6 907.8,696.1 908.1,693.9 908.4,691.8 908.7,689.8 909,688 909.3,686.4 909.6,685 909.9,683.7 910.1,682.7 910.4,681.9 910.7,681.3 911,681 911.3,680.9 911.6,681.1 911.9,681.4 912.2,681.9 912.4,682.3 912.7,682.8 913,683.2 913.3,683.6 913.6,683.9 913.9,684.2 914.2,684.6 914.5,685 914.7,685.5 915,686 915.3,686.7 915.6,687.5 915.9,688.4 916.2,689.5 916.5,690.8 916.8,692.2 917,693.8 917.3,695.4 917.6,697.2 917.9,699.1 918.2,701.1 918.5,703.1 918.8,705.1 919.1,707 919.3,708.9 919.6,710.7 919.9,712.4 920.2,713.9 920.5,715.3 920.8,716.5 921.1,717.6 921.3,718.5 921.6,719.3 921.9,720 922.2,720.5 922.5,720.9 922.8,721.2 923.1,721.2 923.4,721.2 923.6,721 923.9,720.7 924.2,720.4 924.5,720.1 924.8,719.8 925.1,719.5 925.4,719.3 925.7,719.1 925.9,719 926.2,718.8 926.5,718.5 926.8,718.2 927.1,717.9 927.4,717.6 927.7,717.3 928,717 928.2,716.7 928.5,716.5 928.8,716.3 929.1,716.2 929.4,716.1 929.7,716 930,715.8 930.3,715.6 930.5,715.4 930.8,715.2 931.1,715.1 931.4,715 931.7,714.9 932,714.9 932.3,715 932.6,715.2 932.8,715.4 933.1,715.6 933.4,715.8 933.7,716 934,716.2 934.3,716.4 934.6,716.5 934.9,716.7 935.1,716.7 935.4,716.7 935.7,716.7 936,716.6 936.3,716.5 936.6,716.3 936.9,716.2 937.2,716 937.4,715.8 937.7,715.5 938,715.3 938.3,715.1 938.6,714.9 938.9,714.7 939.2,714.6 939.5,714.4 939.7,714.3 940,714.1 940.3,714 940.6,713.9 940.9,713.7 941.2,713.6 941.5,713.4 941.7,713.3 942,713.1 942.3,712.9 942.6,712.7 942.9,712.5 943.2,712.3 943.5,712.1 943.8,711.8 944,711.5 944.3,711.2 944.6,710.8 944.9,710.4 945.2,709.9 945.5,709.5 945.8,708.9 946.1,708.4 946.3,707.8 946.6,707.2 946.9,706.5 947.2,705.8 947.5,705.1 947.8,704.4 948.1,703.7 948.4,702.9 948.6,702.1 948.9,701.3 949.2,700.5 949.5,699.7 949.8,698.9 950.1,698.1 950.4,697.4 950.7,696.8 950.9,696.2 951.2,695.6 951.5,695.1 951.8,694.6 952.1,694.2 952.4,693.7 952.7,693.2 953,692.7 953.2,692.1 953.5,691.7 953.8,691.2 954.1,690.8 954.4,690.4 954.7,690.1 955,689.8 955.3,689.6 955.5,689.3 955.8,689 956.1,688.6 956.4,688.2 956.7,687.8 957,687.4 957.3,687.1 957.6,686.8 957.8,686.6 958.1,686.5 958.4,686.4 958.7,686.5 959,686.6 959.3,686.8 959.6,687.1 959.9,687.4 960.1,687.7 960.4,688.1 960.7,688.5 961,689" fill="none" stroke="#0000ff" stroke-width="1.15"/><polyline clip-path="url(#c44)" points="795.5,649.6 795.8,649.9 796.1,650.2 796.4,650.6 796.6,651 796.9,651.6 797.2,652.3 797.5,653.2 797.8,654.2 798.1,655.2 798.4,656.2 798.7,657.1 798.9,657.8 799.2,658.3 799.5,658.5 799.8,658.7 800.1,658.7 800.4,658.7 800.7,658.7 801,658.7 801.2,658.8 801.5,658.9 801.8,659 802.1,659.1 802.4,659.2 802.7,659.3 803,659.4 803.3,659.4 803.5,659.5 803.8,659.5 804.1,659.6 804.4,659.7 804.7,659.8 805,659.9 805.3,660.1 805.6,660.3 805.8,660.5 806.1,660.7 806.4,661 806.7,661.3 807,661.6 807.3,662 807.6,662.3 807.9,662.7 808.1,663.1 808.4,663.5 808.7,664 809,664.5 809.3,665 809.6,665.6 809.9,666.3 810.2,666.9 810.4,667.6 810.7,668.2 811,668.7 811.3,669.1 811.6,669.4 811.9,669.7 812.2,669.9 812.5,670.2 812.7,670.5 813,670.8 813.3,671.1 813.6,671.5 813.9,671.9 814.2,672.3 814.5,672.6 814.8,673 815,673.4 815.3,673.8 815.6,674.1 815.9,674.6 816.2,675 816.5,675.5 816.8,676 817,676.5 817.3,677 817.6,677.4 817.9,677.7 818.2,677.9 818.5,678.1 818.8,678.2 819.1,678.4 819.3,678.7 819.6,679.2 819.9,679.8 820.2,680.6 820.5,681.4 820.8,682.2 821.1,682.8 821.4,683.2 821.6,683.2 821.9,683 822.2,682.6 822.5,681.9 822.8,681.2 823.1,680.4 823.4,679.7 823.7,678.9 823.9,678.1 824.2,677.4 824.5,676.6 824.8,675.9 825.1,675.2 825.4,674.6 825.7,674 826,673.5 826.2,673 826.5,672.6 826.8,672.3 827.1,672.1 827.4,671.9 827.7,671.7 828,671.5 828.3,671.4 828.5,671.2 828.8,671 829.1,670.9 829.4,670.7 829.7,670.6 830,670.5 830.3,670.4 830.6,670.4 830.8,670.4 831.1,670.5 831.4,670.5 831.7,670.5 832,670.4 832.3,670.4 832.6,670.4 832.9,670.4 833.1,670.4 833.4,670.5 833.7,670.6 834,670.9 834.3,671.2 834.6,671.6 834.9,672.1 835.2,672.6 835.4,673.3 835.7,674 836,674.8 836.3,675.5 836.6,676.2 836.9,676.8 837.2,677.4 837.4,677.8 837.7,678.2 838,678.5 838.3,678.9 838.6,679.2 838.9,679.5 839.2,679.8 839.5,680.2 839.7,680.5 840,680.9 840.3,681.4 840.6,681.8 840.9,682.3 841.2,682.8 841.5,683.2 841.8,683.7 842,684.1 842.3,684.4 842.6,684.8 842.9,685 843.2,685.3 843.5,685.6 843.8,685.9 844.1,686.2 844.3,686.5 844.6,686.8 844.9,687.1 845.2,687.4 845.5,687.7 845.8,687.9 846.1,688.1 846.4,688.3 846.6,688.4 846.9,688.5 847.2,688.6 847.5,688.7 847.8,688.8 848.1,688.9 848.4,689 848.7,689.2 848.9,689.5 849.2,689.9 849.5,690.4 849.8,690.9 850.1,691.4 850.4,692 850.7,692.6 851,693.2 851.2,693.7 851.5,694.3 851.8,694.9 852.1,695.5 852.4,696.2 852.7,697 853,697.7 853.3,698.6 853.5,699.4 853.8,700.3 854.1,701.3 854.4,702.3 854.7,703.2 855,704.1 855.3,704.9 855.6,705.5 855.8,705.8 856.1,705.9 856.4,705.8 856.7,705.6 857,705.2 857.3,704.9 857.6,704.6 857.8,704.4 858.1,704.3 858.4,704.3 858.7,704.3 859,704.4 859.3,704.6 859.6,704.7 859.9,704.8 860.1,704.9 860.4,704.9 860.7,704.8 861,704.6 861.3,704.2 861.6,703.7 861.9,703.2 862.2,702.7 862.4,702.1 862.7,701.7 863,701.3 863.3,701 863.6,700.7 863.9,700.5 864.2,700.2 864.5,699.9 864.7,699.4 865,698.9 865.3,698.3 865.6,697.8 865.9,697.2 866.2,696.8 866.5,696.4 866.8,696.1 867,695.7 867.3,695.4 867.6,695 867.9,694.4 868.2,693.7 868.5,693 868.8,692.3 869.1,691.7 869.3,691.3 869.6,691.3 869.9,691.7 870.2,692.4 870.5,693.3 870.8,694.2 871.1,695.1 871.4,695.9 871.6,696.3 871.9,696.6 872.2,696.6 872.5,696.5 872.8,696.4 873.1,696.2 873.4,696.1 873.7,696 873.9,695.9 874.2,695.8 874.5,695.7 874.8,695.5 875.1,695.3 875.4,695 875.7,694.8 876,694.5 876.2,694.2 876.5,694 876.8,693.9 877.1,693.8 877.4,693.8 877.7,693.7 878,693.7 878.2,693.7 878.5,693.6 878.8,693.6 879.1,693.5 879.4,693.4 879.7,693.3 880,693.1 880.3,693 880.5,692.9 880.8,692.8 881.1,692.7 881.4,692.7 881.7,692.6 882,692.6 882.3,692.5 882.6,692.5 882.8,692.5 883.1,692.6 883.4,692.6 883.7,692.7 884,692.7 884.3,692.8 884.6,692.9 884.9,693 885.1,693.1 885.4,693.2 885.7,693.3 886,693.4 886.3,693.5 886.6,693.6 886.9,693.7 887.2,693.8 887.4,693.8 887.7,693.8 888,693.8 888.3,693.8 888.6,693.7 888.9,693.5 889.2,693.4 889.5,693.1 889.7,692.9 890,692.8 890.3,692.6 890.6,692.5 890.9,692.4 891.2,692.4 891.5,692.4 891.8,692.5 892,692.6 892.3,692.7 892.6,692.9 892.9,693 893.2,693.2 893.5,693.5 893.8,693.7 894.1,693.9 894.3,694.2 894.6,694.5 894.9,694.8 895.2,695.1 895.5,695.5 895.8,695.9 896.1,696.3 896.4,696.7 896.6,697 896.9,697.2 897.2,697.3 897.5,697.2 897.8,697 898.1,696.8 898.4,696.5 898.7,696.1 898.9,695.9 899.2,695.7 899.5,695.5 899.8,695.5 900.1,695.4 900.4,695.5 900.7,695.5 900.9,695.6 901.2,695.6 901.5,695.7 901.8,695.8 902.1,695.8 902.4,695.9 902.7,695.9 903,695.9 903.2,695.9 903.5,695.9 903.8,695.9 904.1,695.9 904.4,695.9 904.7,695.9 905,695.9 905.3,696 905.5,696.1 905.8,696.2 906.1,696.4 906.4,696.7 906.7,696.9 907,697.1 907.3,697.2 907.6,697.3 907.8,697.3 908.1,697.2 908.4,697 908.7,696.9 909,696.8 909.3,696.8 909.6,696.9 909.9,697.1 910.1,697.4 910.4,697.7 910.7,698.1 911,698.6 911.3,699 911.6,699.5 911.9,699.9 912.2,700.3 912.4,700.6 912.7,700.9 913,701.2 913.3,701.4 913.6,701.5 913.9,701.6 914.2,701.6 914.5,701.7 914.7,701.7 915,701.7 915.3,701.6 915.6,701.6 915.9,701.5 916.2,701.3 916.5,701.1 916.8,700.8 917,700.5 917.3,700.2 917.6,699.8 917.9,699.5 918.2,699.1 918.5,698.8 918.8,698.5 919.1,698.1 919.3,697.7 919.6,697.3 919.9,696.9 920.2,696.4 920.5,696 920.8,695.6 921.1,695.2 921.3,695 921.6,694.7 921.9,694.6 922.2,694.5 922.5,694.3 922.8,694.2 923.1,694 923.4,693.8 923.6,693.5 923.9,693.2 924.2,692.9 924.5,692.6 924.8,692.2 925.1,691.9 925.4,691.6 925.7,691.3 925.9,691 926.2,690.7 926.5,690.4 926.8,690.1 927.1,689.7 927.4,689.3 927.7,688.9 928,688.6 928.2,688.2 928.5,687.9 928.8,687.7 929.1,687.4 929.4,687.2 929.7,687 930,686.8 930.3,686.6 930.5,686.5 930.8,686.3 931.1,686 931.4,685.7 931.7,685.3 932,684.9 932.3,684.3 932.6,683.7 932.8,683 933.1,682.4 933.4,681.7 933.7,681.1 934,680.5 934.3,679.9 934.6,679.4 934.9,679 935.1,678.6 935.4,678.4 935.7,678.2 936,678 936.3,677.9 936.6,677.8 936.9,677.7 937.2,677.6 937.4,677.4 937.7,677.2 938,677.1 938.3,676.9 938.6,676.8 938.9,676.7 939.2,676.7 939.5,676.7 939.7,676.7 940,676.8 940.3,676.8 940.6,676.9 940.9,676.9 941.2,676.8 941.5,676.7 941.7,676.4 942,675.9 942.3,675.2 942.6,674.4 942.9,673.5 943.2,672.7 943.5,671.9 943.8,671.4 944,671 944.3,670.9 944.6,670.8 944.9,670.7 945.2,670.5 945.5,670.1 945.8,669.5 946.1,668.7 946.3,667.7 946.6,666.8 946.9,666 947.2,665.4 947.5,665 947.8,664.9 948.1,664.9 948.4,665.1 948.6,665.2 948.9,665.4 949.2,665.5 949.5,665.5 949.8,665.5 950.1,665.5 950.4,665.4 950.7,665.4 950.9,665.4 951.2,665.4 951.5,665.4 951.8,665.4 952.1,665.4 952.4,665.4 952.7,665.4 953,665.4 953.2,665.3 953.5,665.3 953.8,665.3 954.1,665.4 954.4,665.5 954.7,665.6 955,665.7 955.3,665.7 955.5,665.6 955.8,665.4 956.1,665.1 956.4,664.6 956.7,664.2 957,663.7 957.3,663.4 957.6,663.2 957.8,663.2 958.1,663.5 958.4,663.8 958.7,664.2 959,664.6 959.3,665 959.6,665.4 959.9,665.7 960.1,665.9 960.4,666.1 960.7,666.3 961,666.5" fill="none" stroke="#0000ff" stroke-width="1.15"/><polyline clip-path="url(#c44)" points="795.5,685 795.8,685.1 796.1,685.1 796.4,685.2 796.6,685.3 796.9,685.3 797.2,685.3 797.5,685.4 797.8,685.3 798.1,685.3 798.4,685.3 798.7,685.3 798.9,685.3 799.2,685.4 799.5,685.4 799.8,685.5 800.1,685.6 800.4,685.8 800.7,685.9 801,686 801.2,686.2 801.5,686.3 801.8,686.5 802.1,686.6 802.4,686.8 802.7,686.9 803,687.1 803.3,687.2 803.5,687.4 803.8,687.5 804.1,687.7 804.4,687.9 804.7,688 805,688.2 805.3,688.4 805.6,688.5 805.8,688.6 806.1,688.7 806.4,688.7 806.7,688.8 807,689 807.3,689.2 807.6,689.5 807.9,690 808.1,690.5 808.4,691.1 808.7,691.8 809,692.5 809.3,693.1 809.6,693.8 809.9,694.3 810.2,694.9 810.4,695.3 810.7,695.8 811,696.2 811.3,696.6 811.6,697 811.9,697.4 812.2,697.8 812.5,698.2 812.7,698.6 813,699 813.3,699.5 813.6,699.9 813.9,700.3 814.2,700.7 814.5,700.9 814.8,701.1 815,701.2 815.3,701.3 815.6,701.3 815.9,701.3 816.2,701.3 816.5,701.3 816.8,701.3 817,701.3 817.3,701.3 817.6,701.3 817.9,701.3 818.2,701.2 818.5,701.1 818.8,701 819.1,700.8 819.3,700.6 819.6,700.4 819.9,700.1 820.2,699.9 820.5,699.6 820.8,699.3 821.1,698.9 821.4,698.6 821.6,698.2 821.9,697.8 822.2,697.4 822.5,697 822.8,696.6 823.1,696.2 823.4,695.8 823.7,695.4 823.9,695 824.2,694.6 824.5,694.1 824.8,693.7 825.1,693.2 825.4,692.7 825.7,692.2 826,691.6 826.2,691 826.5,690.4 826.8,689.8 827.1,689.2 827.4,688.5 827.7,687.9 828,687.3 828.3,686.8 828.5,686.3 828.8,685.9 829.1,685.5 829.4,685.2 829.7,684.9 830,684.6 830.3,684.4 830.6,684.1 830.8,683.9 831.1,683.7 831.4,683.6 831.7,683.5 832,683.5 832.3,683.6 832.6,683.7 832.9,683.8 833.1,683.9 833.4,684.1 833.7,684.2 834,684.3 834.3,684.4 834.6,684.5 834.9,684.6 835.2,684.6 835.4,684.6 835.7,684.7 836,684.7 836.3,684.7 836.6,684.8 836.9,685 837.2,685.2 837.4,685.5 837.7,685.8 838,686.1 838.3,686.5 838.6,686.8 838.9,687.1 839.2,687.4 839.5,687.7 839.7,688 840,688.3 840.3,688.6 840.6,688.9 840.9,689.3 841.2,689.6 841.5,689.9 841.8,690.2 842,690.4 842.3,690.6 842.6,690.7 842.9,690.7 843.2,690.8 843.5,690.8 843.8,690.8 844.1,690.8 844.3,690.8 844.6,690.8 844.9,690.8 845.2,690.8 845.5,690.8 845.8,690.8 846.1,690.8 846.4,690.8 846.6,690.8 846.9,690.8 847.2,690.8 847.5,690.8 847.8,690.8 848.1,690.8 848.4,690.8 848.7,690.8 848.9,690.8 849.2,690.8 849.5,690.8 849.8,690.8 850.1,690.8 850.4,690.8 850.7,690.8 851,690.8 851.2,690.8 851.5,690.8 851.8,690.9 852.1,691.1 852.4,691.3 852.7,691.7 853,692.2 853.3,692.7 853.5,693.2 853.8,693.7 854.1,694 854.4,694.3 854.7,694.5 855,694.6 855.3,694.6 855.6,694.5 855.8,694.4 856.1,694.2 856.4,694 856.7,693.8 857,693.6 857.3,693.3 857.6,693.1 857.8,693 858.1,692.8 858.4,692.7 858.7,692.6 859,692.4 859.3,692.2 859.6,692 859.9,691.8 860.1,691.5 860.4,691.3 860.7,691 861,690.8 861.3,690.6 861.6,690.3 861.9,690.1 862.2,689.9 862.4,689.7 862.7,689.5 863,689.3 863.3,689 863.6,688.8 863.9,688.5 864.2,688.1 864.5,687.7 864.7,687.2 865,686.7 865.3,686.1 865.6,685.5 865.9,684.8 866.2,684.1 866.5,683.3 866.8,682.5 867,681.7 867.3,680.9 867.6,680.2 867.9,679.5 868.2,679 868.5,678.6 868.8,678.2 869.1,678 869.3,678 869.6,678.1 869.9,678.3 870.2,678.7 870.5,679.2 870.8,679.8 871.1,680.6 871.4,681.4 871.6,682.2 871.9,683.1 872.2,684.1 872.5,685 872.8,685.9 873.1,686.8 873.4,687.6 873.7,688.4 873.9,689.1 874.2,689.8 874.5,690.6 874.8,691.3 875.1,692.1 875.4,692.9 875.7,693.8 876,694.6 876.2,695.4 876.5,696.2 876.8,697 877.1,697.7 877.4,698.4 877.7,699.1 878,699.8 878.2,700.4 878.5,701 878.8,701.6 879.1,702.2 879.4,702.8 879.7,703.4 880,704 880.3,704.6 880.5,705.2 880.8,705.8 881.1,706.3 881.4,706.7 881.7,707.1 882,707.4 882.3,707.5 882.6,707.6 882.8,707.7 883.1,707.7 883.4,707.6 883.7,707.6 884,707.6 884.3,707.6 884.6,707.6 884.9,707.6 885.1,707.6 885.4,707.8 885.7,707.9 886,708.1 886.3,708.2 886.6,708.4 886.9,708.6 887.2,708.7 887.4,708.8 887.7,708.8 888,708.9 888.3,708.9 888.6,708.9 888.9,708.9 889.2,708.9 889.5,708.9 889.7,708.9 890,708.9 890.3,708.9 890.6,709 890.9,709 891.2,709.1 891.5,709.2 891.8,709.3 892,709.5 892.3,709.6 892.6,709.7 892.9,709.8 893.2,709.9 893.5,709.9 893.8,710 894.1,710.1 894.3,710.1 894.6,710.1 894.9,710.2 895.2,710.3 895.5,710.4 895.8,710.5 896.1,710.7 896.4,710.8 896.6,711 896.9,711.2 897.2,711.3 897.5,711.3 897.8,711.4 898.1,711.4 898.4,711.3 898.7,711.3 898.9,711.3 899.2,711.3 899.5,711.2 899.8,711.2 900.1,711.3 900.4,711.3 900.7,711.3 900.9,711.3 901.2,711.3 901.5,711.3 901.8,711.3 902.1,711.3 902.4,711.3 902.7,711.3 903,711.2 903.2,711.2 903.5,711.2 903.8,711.2 904.1,711.3 904.4,711.3 904.7,711.4 905,711.6 905.3,711.7 905.5,711.8 905.8,711.8 906.1,711.9 906.4,711.9 906.7,711.9 907,711.8 907.3,711.8 907.6,711.8 907.8,711.8 908.1,711.8 908.4,711.9 908.7,711.9 909,711.9 909.3,711.8 909.6,711.7 909.9,711.7 910.1,711.6 910.4,711.4 910.7,711.3 911,711.3 911.3,711.2 911.6,711.2 911.9,711.2 912.2,711.2 912.4,711.3 912.7,711.3 913,711.3 913.3,711.3 913.6,711.3 913.9,711.3 914.2,711.3 914.5,711.3 914.7,711.3 915,711.3 915.3,711.3 915.6,711.3 915.9,711.3 916.2,711.3 916.5,711.3 916.8,711.3 917,711.3 917.3,711.3 917.6,711.3 917.9,711.3 918.2,711.3 918.5,711.3 918.8,711.3 919.1,711.3 919.3,711.3 919.6,711.3 919.9,711.3 920.2,711.3 920.5,711.3 920.8,711.3 921.1,711.3 921.3,711.3 921.6,711.2 921.9,711.1 922.2,711 922.5,710.9 922.8,710.8 923.1,710.7 923.4,710.6 923.6,710.6 923.9,710.5 924.2,710.5 924.5,710.4 924.8,710.4 925.1,710.3 925.4,710.3 925.7,710.2 925.9,710.1 926.2,710.1 926.5,710 926.8,709.9 927.1,709.8 927.4,709.8 927.7,709.7 928,709.6 928.2,709.5 928.5,709.4 928.8,709.3 929.1,709.2 929.4,709.1 929.7,709 930,708.9 930.3,708.9 930.5,708.8 930.8,708.8 931.1,708.8 931.4,708.9 931.7,708.9 932,709 932.3,709.1 932.6,709.1 932.8,709.2 933.1,709.3 933.4,709.5 933.7,709.6 934,709.7 934.3,709.9 934.6,710 934.9,710.2 935.1,710.4 935.4,710.6 935.7,710.8 936,710.9 936.3,711.1 936.6,711.2 936.9,711.3 937.2,711.3 937.4,711.2 937.7,711.1 938,711 938.3,710.9 938.6,710.7 938.9,710.6 939.2,710.5 939.5,710.3 939.7,710.2 940,710.1 940.3,710 940.6,709.9 940.9,709.8 941.2,709.7 941.5,709.6 941.7,709.6 942,709.5 942.3,709.4 942.6,709.3 942.9,709.1 943.2,709 943.5,708.8 943.8,708.6 944,708.3 944.3,708 944.6,707.7 944.9,707.3 945.2,707 945.5,706.7 945.8,706.5 946.1,706.2 946.3,706 946.6,705.7 946.9,705.4 947.2,704.9 947.5,704.4 947.8,703.8 948.1,703.2 948.4,702.5 948.6,701.9 948.9,701.3 949.2,700.8 949.5,700.3 949.8,699.8 950.1,699.4 950.4,699 950.7,698.6 950.9,698.1 951.2,697.7 951.5,697.2 951.8,696.7 952.1,696.3 952.4,695.9 952.7,695.5 953,695.1 953.2,694.8 953.5,694.5 953.8,694.2 954.1,694 954.4,693.9 954.7,693.8 955,693.6 955.3,693.5 955.5,693.3 955.8,693.1 956.1,692.9 956.4,692.6 956.7,692.2 957,691.9 957.3,691.6 957.6,691.3 957.8,691.1 958.1,691 958.4,690.9 958.7,690.9 959,690.8 959.3,690.8 959.6,690.7 959.9,690.7 960.1,690.6 960.4,690.6 960.7,690.5 961,690.4" fill="none" stroke="#0000ff" stroke-width="1.15"/><polyline clip-path="url(#c44)" points="795.5,654.5 795.8,656 796.1,657.4 796.4,658.8 796.6,660 796.9,661 797.2,661.8 797.5,662.3 797.8,662.6 798.1,662.8 798.4,662.8 798.7,662.8 798.9,662.9 799.2,662.9 799.5,663.1 799.8,663.4 800.1,663.7 800.4,664.1 800.7,664.7 801,665.3 801.2,666 801.5,666.7 801.8,667.3 802.1,667.9 802.4,668.3 802.7,668.6 803,668.7 803.3,668.7 803.5,668.7 803.8,668.7 804.1,668.7 804.4,668.7 804.7,668.9 805,669.1 805.3,669.2 805.6,669.4 805.8,669.6 806.1,669.7 806.4,669.7 806.7,669.7 807,669.7 807.3,669.6 807.6,669.6 807.9,669.5 808.1,669.4 808.4,669.2 808.7,669.1 809,668.9 809.3,668.7 809.6,668.4 809.9,668.1 810.2,667.9 810.4,667.8 810.7,667.7 811,667.8 811.3,668 811.6,668.3 811.9,668.8 812.2,669.3 812.5,669.9 812.7,670.5 813,671 813.3,671.5 813.6,672 813.9,672.3 814.2,672.6 814.5,672.6 814.8,672.6 815,672.4 815.3,672.2 815.6,671.9 815.9,671.6 816.2,671.4 816.5,671.2 816.8,671.1 817,671 817.3,670.9 817.6,670.7 817.9,670.5 818.2,670.1 818.5,669.6 818.8,668.9 819.1,668.2 819.3,667.4 819.6,666.5 819.9,665.5 820.2,664.5 820.5,663.4 820.8,662.4 821.1,661.4 821.4,660.5 821.6,659.7 821.9,659 822.2,658.3 822.5,657.6 822.8,657 823.1,656.3 823.4,655.6 823.7,654.9 823.9,654.1 824.2,653.4 824.5,652.6 824.8,652 825.1,651.4 825.4,650.8 825.7,650.3 826,649.8 826.2,649.3 826.5,648.7 826.8,648.1 827.1,647.5 827.4,646.9 827.7,646.3 828,645.7 828.3,645.1 828.5,644.5 828.8,644 829.1,643.5 829.4,643.1 829.7,642.7 830,642.4 830.3,642.1 830.6,641.8 830.8,641.6 831.1,641.4 831.4,641.2 831.7,641.1 832,641 832.3,641 832.6,641 832.9,641.1 833.1,641.2 833.4,641.5 833.7,641.8 834,642.2 834.3,642.7 834.6,643.2 834.9,643.7 835.2,644.2 835.4,644.6 835.7,645.1 836,645.5 836.3,646 836.6,646.4 836.9,646.9 837.2,647.4 837.4,647.9 837.7,648.5 838,649 838.3,649.6 838.6,650.2 838.9,650.7 839.2,651.3 839.5,651.9 839.7,652.5 840,653.1 840.3,653.8 840.6,654.5 840.9,655.3 841.2,656 841.5,656.8 841.8,657.5 842,658.1 842.3,658.7 842.6,659.3 842.9,659.7 843.2,660.2 843.5,660.6 843.8,661 844.1,661.5 844.3,661.9 844.6,662.3 844.9,662.7 845.2,663.2 845.5,663.6 845.8,664 846.1,664.4 846.4,664.7 846.6,665 846.9,665.3 847.2,665.4 847.5,665.4 847.8,665.4 848.1,665.3 848.4,665.1 848.7,664.9 848.9,664.7 849.2,664.4 849.5,664.2 849.8,664 850.1,663.8 850.4,663.5 850.7,663.2 851,662.9 851.2,662.6 851.5,662.3 851.8,662 852.1,661.7 852.4,661.4 852.7,661.2 853,660.9 853.3,660.7 853.5,660.4 853.8,660.1 854.1,659.6 854.4,659 854.7,658.3 855,657.6 855.3,656.9 855.6,656.2 855.8,655.6 856.1,655.1 856.4,654.7 856.7,654.4 857,654 857.3,653.7 857.6,653.2 857.8,652.7 858.1,652.2 858.4,651.5 858.7,650.9 859,650.2 859.3,649.6 859.6,649.1 859.9,648.5 860.1,648.1 860.4,647.7 860.7,647.3 861,646.9 861.3,646.6 861.6,646.2 861.9,645.9 862.2,645.6 862.4,645.4 862.7,645.1 863,644.8 863.3,644.5 863.6,644.2 863.9,643.9 864.2,643.6 864.5,643.3 864.7,642.9 865,642.5 865.3,642.2 865.6,641.8 865.9,641.4 866.2,641.1 866.5,640.8 866.8,640.5 867,640.2 867.3,639.9 867.6,639.6 867.9,639.3 868.2,638.9 868.5,638.5 868.8,638.1 869.1,637.9 869.3,637.8 869.6,637.8 869.9,638.1 870.2,638.6 870.5,639.3 870.8,640 871.1,640.9 871.4,641.8 871.6,642.7 871.9,643.7 872.2,644.6 872.5,645.5 872.8,646.4 873.1,647.3 873.4,648.1 873.7,648.9 873.9,649.7 874.2,650.6 874.5,651.4 874.8,652.3 875.1,653.3 875.4,654.3 875.7,655.4 876,656.5 876.2,657.6 876.5,658.7 876.8,659.7 877.1,660.8 877.4,661.8 877.7,662.8 878,663.7 878.2,664.7 878.5,665.6 878.8,666.5 879.1,667.4 879.4,668.4 879.7,669.4 880,670.5 880.3,671.6 880.5,672.8 880.8,674.1 881.1,675.4 881.4,676.8 881.7,678.1 882,679.4 882.3,680.7 882.6,682 882.8,683.2 883.1,684.3 883.4,685.3 883.7,686.3 884,687.1 884.3,687.9 884.6,688.7 884.9,689.4 885.1,690.1 885.4,690.8 885.7,691.5 886,692.2 886.3,692.9 886.6,693.7 886.9,694.4 887.2,695.2 887.4,696 887.7,696.8 888,697.6 888.3,698.4 888.6,699.1 888.9,699.9 889.2,700.6 889.5,701.3 889.7,702.1 890,702.8 890.3,703.5 890.6,704.2 890.9,704.9 891.2,705.6 891.5,706.3 891.8,707 892,707.6 892.3,708.3 892.6,709 892.9,709.7 893.2,710.4 893.5,711.1 893.8,711.8 894.1,712.5 894.3,713.3 894.6,714 894.9,714.7 895.2,715.5 895.5,716.2 895.8,716.8 896.1,717.5 896.4,718 896.6,718.5 896.9,718.9 897.2,719.1 897.5,719.1 897.8,719.1 898.1,718.9 898.4,718.6 898.7,718.3 898.9,718 899.2,717.6 899.5,717.3 899.8,716.9 900.1,716.4 900.4,716 900.7,715.4 900.9,714.9 901.2,714.2 901.5,713.5 901.8,712.8 902.1,712.1 902.4,711.3 902.7,710.5 903,709.7 903.2,708.8 903.5,708 903.8,707.2 904.1,706.4 904.4,705.6 904.7,704.8 905,703.9 905.3,702.9 905.5,701.7 905.8,700.4 906.1,698.8 906.4,697.1 906.7,695.3 907,693.6 907.3,692.1 907.6,690.8 907.8,689.8 908.1,689.1 908.4,688.7 908.7,688.5 909,688.3 909.3,688.2 909.6,688.2 909.9,688.1 910.1,688.1 910.4,688.1 910.7,688.2 911,688.2 911.3,688.4 911.6,688.6 911.9,688.8 912.2,689 912.4,689.3 912.7,689.5 913,689.8 913.3,690 913.6,690.3 913.9,690.6 914.2,690.9 914.5,691.3 914.7,691.8 915,692.4 915.3,693.1 915.6,693.8 915.9,694.6 916.2,695.5 916.5,696.4 916.8,697.4 917,698.2 917.3,699 917.6,699.5 917.9,699.9 918.2,699.9 918.5,699.8 918.8,699.6 919.1,699.6 919.3,699.8 919.6,700.4 919.9,701.5 920.2,702.9 920.5,704.7 920.8,706.5 921.1,708.3 921.3,710 921.6,711.4 921.9,712.6 922.2,713.6 922.5,714.5 922.8,715.3 923.1,716.2 923.4,717.1 923.6,718 923.9,718.9 924.2,719.9 924.5,720.8 924.8,721.6 925.1,722.4 925.4,723.1 925.7,723.6 925.9,724.1 926.2,724.4 926.5,724.5 926.8,724.5 927.1,724.3 927.4,724.1 927.7,723.8 928,723.4 928.2,723.1 928.5,722.7 928.8,722.4 929.1,722.1 929.4,721.9 929.7,721.6 930,721.2 930.3,720.9 930.5,720.5 930.8,720.1 931.1,719.7 931.4,719.1 931.7,718.5 932,717.9 932.3,717.1 932.6,716.3 932.8,715.5 933.1,714.8 933.4,714 933.7,713.3 934,712.7 934.3,712.1 934.6,711.8 934.9,711.7 935.1,711.8 935.4,712.2 935.7,712.8 936,713.6 936.3,714.4 936.6,715.1 936.9,715.8 937.2,716.3 937.4,716.7 937.7,716.9 938,717.1 938.3,717.2 938.6,717.3 938.9,717.4 939.2,717.5 939.5,717.5 939.7,717.6 940,717.6 940.3,717.6 940.6,717.5 940.9,717.4 941.2,717.3 941.5,717.1 941.7,716.9 942,716.7 942.3,716.6 942.6,716.4 942.9,716.3 943.2,716.1 943.5,716 943.8,715.8 944,715.6 944.3,715.4 944.6,715.2 944.9,714.9 945.2,714.7 945.5,714.4 945.8,714 946.1,713.7 946.3,713.3 946.6,712.9 946.9,712.5 947.2,712.2 947.5,711.8 947.8,711.5 948.1,711.2 948.4,710.9 948.6,710.6 948.9,710.4 949.2,710.1 949.5,709.9 949.8,709.7 950.1,709.5 950.4,709.2 950.7,708.9 950.9,708.6 951.2,708.2 951.5,707.8 951.8,707.3 952.1,706.9 952.4,706.4 952.7,705.9 953,705.3 953.2,704.8 953.5,704.3 953.8,703.9 954.1,703.5 954.4,703.1 954.7,702.8 955,702.6 955.3,702.4 955.5,702.3 955.8,702.2 956.1,702.2 956.4,702.2 956.7,702.3 957,702.4 957.3,702.5 957.6,702.8 957.8,703 958.1,703.3 958.4,703.6 958.7,704 959,704.3 959.3,704.6 959.6,704.8 959.9,705.1 960.1,705.3 960.4,705.5 960.7,705.7 961,705.8" fill="none" stroke="#0000ff" stroke-width="1.15"/><polyline clip-path="url(#c44)" points="795.5,656.3 795.8,656.9 796.1,657.5 796.4,658 796.6,658.5 796.9,658.9 797.2,659.2 797.5,659.5 797.8,659.6 798.1,659.7 798.4,659.8 798.7,659.9 798.9,660 799.2,660.1 799.5,660.2 799.8,660.3 800.1,660.4 800.4,660.5 800.7,660.5 801,660.4 801.2,660.3 801.5,660.1 801.8,659.9 802.1,659.7 802.4,659.6 802.7,659.5 803,659.4 803.3,659.4 803.5,659.5 803.8,659.5 804.1,659.6 804.4,659.7 804.7,659.8 805,659.9 805.3,660.1 805.6,660.3 805.8,660.5 806.1,660.8 806.4,661.1 806.7,661.4 807,661.8 807.3,662.3 807.6,662.9 807.9,663.5 808.1,664.2 808.4,664.9 808.7,665.6 809,666.3 809.3,666.8 809.6,667.3 809.9,667.7 810.2,668 810.4,668.4 810.7,668.7 811,669 811.3,669.4 811.6,669.9 811.9,670.4 812.2,670.9 812.5,671.4 812.7,671.9 813,672.4 813.3,672.8 813.6,673.3 813.9,673.7 814.2,674.1 814.5,674.5 814.8,674.8 815,675.2 815.3,675.5 815.6,675.8 815.9,675.9 816.2,675.9 816.5,675.8 816.8,675.6 817,675.3 817.3,675 817.6,674.7 817.9,674.5 818.2,674.3 818.5,674.2 818.8,674.2 819.1,674.1 819.3,674 819.6,673.7 819.9,673.4 820.2,672.9 820.5,672.3 820.8,671.7 821.1,671.1 821.4,670.5 821.6,669.9 821.9,669.3 822.2,668.7 822.5,668.1 822.8,667.5 823.1,666.8 823.4,666.1 823.7,665.3 823.9,664.5 824.2,663.7 824.5,663 824.8,662.3 825.1,661.7 825.4,661.2 825.7,660.8 826,660.4 826.2,660 826.5,659.6 826.8,659.2 827.1,658.7 827.4,658.2 827.7,657.8 828,657.3 828.3,656.9 828.5,656.5 828.8,656.1 829.1,655.8 829.4,655.5 829.7,655.2 830,655.1 830.3,654.9 830.6,654.8 830.8,654.8 831.1,654.7 831.4,654.6 831.7,654.5 832,654.3 832.3,654.2 832.6,654 832.9,653.8 833.1,653.8 833.4,653.8 833.7,653.9 834,654.2 834.3,654.6 834.6,655 834.9,655.5 835.2,656 835.4,656.4 835.7,656.9 836,657.4 836.3,657.8 836.6,658.3 836.9,658.7 837.2,659.1 837.4,659.5 837.7,659.9 838,660.3 838.3,660.7 838.6,661 838.9,661.4 839.2,661.8 839.5,662.1 839.7,662.5 840,662.9 840.3,663.2 840.6,663.6 840.9,663.9 841.2,664.3 841.5,664.7 841.8,665 842,665.4 842.3,665.8 842.6,666.1 842.9,666.5 843.2,666.8 843.5,667 843.8,667.2 844.1,667.3 844.3,667.4 844.6,667.4 844.9,667.3 845.2,667.3 845.5,667.2 845.8,667.1 846.1,667.1 846.4,667 846.6,667 846.9,666.9 847.2,666.8 847.5,666.8 847.8,666.7 848.1,666.7 848.4,666.6 848.7,666.5 848.9,666.5 849.2,666.4 849.5,666.4 849.8,666.4 850.1,666.4 850.4,666.4 850.7,666.5 851,666.6 851.2,666.7 851.5,666.8 851.8,666.9 852.1,667.1 852.4,667.2 852.7,667.4 853,667.5 853.3,667.7 853.5,667.9 853.8,668.1 854.1,668.3 854.4,668.5 854.7,668.8 855,669 855.3,669.1 855.6,669.1 855.8,669 856.1,668.8 856.4,668.4 856.7,668 857,667.5 857.3,667.1 857.6,666.8 857.8,666.7 858.1,666.6 858.4,666.6 858.7,666.7 859,666.8 859.3,666.8 859.6,666.9 859.9,666.9 860.1,666.8 860.4,666.7 860.7,666.6 861,666.5 861.3,666.3 861.6,666.2 861.9,666 862.2,665.8 862.4,665.6 862.7,665.4 863,665.2 863.3,665 863.6,664.8 863.9,664.6 864.2,664.4 864.5,664.1 864.7,663.9 865,663.6 865.3,663.3 865.6,663 865.9,662.6 866.2,662.3 866.5,662 866.8,661.6 867,661.2 867.3,660.8 867.6,660.4 867.9,660 868.2,659.5 868.5,659 868.8,658.5 869.1,658.1 869.3,657.7 869.6,657.4 869.9,657.3 870.2,657.2 870.5,657.3 870.8,657.5 871.1,657.8 871.4,658.1 871.6,658.6 871.9,659.1 872.2,659.7 872.5,660.4 872.8,661 873.1,661.8 873.4,662.5 873.7,663.3 873.9,664.1 874.2,664.9 874.5,665.7 874.8,666.5 875.1,667.3 875.4,668.1 875.7,668.9 876,669.7 876.2,670.5 876.5,671.4 876.8,672.2 877.1,673.1 877.4,673.9 877.7,674.6 878,675.3 878.2,675.9 878.5,676.4 878.8,676.8 879.1,677.2 879.4,677.6 879.7,678.1 880,678.6 880.3,679.3 880.5,680.2 880.8,681.1 881.1,682.1 881.4,683.1 881.7,684.1 882,685.1 882.3,686 882.6,686.9 882.8,687.8 883.1,688.7 883.4,689.5 883.7,690.3 884,691.1 884.3,691.8 884.6,692.5 884.9,693.1 885.1,693.7 885.4,694.2 885.7,694.6 886,694.9 886.3,695.3 886.6,695.6 886.9,695.9 887.2,696.2 887.4,696.5 887.7,696.8 888,697.2 888.3,697.6 888.6,698 888.9,698.5 889.2,699 889.5,699.5 889.7,700.1 890,700.7 890.3,701.3 890.6,701.9 890.9,702.6 891.2,703.3 891.5,704.1 891.8,704.9 892,705.8 892.3,706.8 892.6,707.8 892.9,708.9 893.2,709.9 893.5,710.9 893.8,711.8 894.1,712.7 894.3,713.4 894.6,714.1 894.9,714.7 895.2,715.3 895.5,715.8 895.8,716.3 896.1,716.8 896.4,717.3 896.6,717.7 896.9,718.2 897.2,718.5 897.5,718.9 897.8,719.2 898.1,719.4 898.4,719.6 898.7,719.7 898.9,719.8 899.2,719.8 899.5,719.8 899.8,719.7 900.1,719.7 900.4,719.7 900.7,719.8 900.9,720 901.2,720.2 901.5,720.4 901.8,720.6 902.1,720.8 902.4,720.9 902.7,720.8 903,720.7 903.2,720.4 903.5,720.1 903.8,719.8 904.1,719.4 904.4,719.1 904.7,718.7 905,718.4 905.3,718 905.5,717.6 905.8,717.3 906.1,716.9 906.4,716.4 906.7,716 907,715.4 907.3,714.8 907.6,714 907.8,713.1 908.1,712.1 908.4,711.2 908.7,710.2 909,709.3 909.3,708.6 909.6,708 909.9,707.5 910.1,707.1 910.4,706.8 910.7,706.4 911,705.8 911.3,705.2 911.6,704.4 911.9,703.6 912.2,702.7 912.4,702 912.7,701.3 913,700.8 913.3,700.4 913.6,700.2 913.9,700 914.2,699.9 914.5,699.9 914.7,699.8 915,699.8 915.3,699.8 915.6,699.8 915.9,699.8 916.2,699.9 916.5,699.9 916.8,699.9 917,699.9 917.3,699.9 917.6,699.9 917.9,699.9 918.2,699.8 918.5,699.8 918.8,699.7 919.1,699.7 919.3,699.6 919.6,699.5 919.9,699.4 920.2,699.2 920.5,699.1 920.8,698.9 921.1,698.7 921.3,698.6 921.6,698.4 921.9,698.3 922.2,698.2 922.5,698 922.8,697.9 923.1,697.7 923.4,697.4 923.6,697.2 923.9,696.9 924.2,696.6 924.5,696.4 924.8,696.2 925.1,696.1 925.4,696.1 925.7,696.1 925.9,696.3 926.2,696.5 926.5,696.8 926.8,697.2 927.1,697.6 927.4,698.1 927.7,698.6 928,699.1 928.2,699.5 928.5,699.9 928.8,700.2 929.1,700.5 929.4,700.7 929.7,701 930,701.3 930.3,701.6 930.5,702 930.8,702.5 931.1,702.9 931.4,703.5 931.7,704 932,704.6 932.3,705.3 932.6,706 932.8,706.8 933.1,707.6 933.4,708.6 933.7,709.5 934,710.5 934.3,711.6 934.6,712.6 934.9,713.5 935.1,714.4 935.4,715.1 935.7,715.8 936,716.3 936.3,716.9 936.6,717.4 936.9,718 937.2,718.6 937.4,719.2 937.7,719.8 938,720.3 938.3,720.8 938.6,721.2 938.9,721.6 939.2,721.8 939.5,722 939.7,722.1 940,722.2 940.3,722.2 940.6,722.1 940.9,722.1 941.2,722 941.5,721.9 941.7,721.7 942,721.6 942.3,721.5 942.6,721.4 942.9,721.2 943.2,721.1 943.5,721 943.8,720.9 944,720.8 944.3,720.6 944.6,720.5 944.9,720.3 945.2,720.1 945.5,719.8 945.8,719.5 946.1,719.1 946.3,718.8 946.6,718.4 946.9,718.2 947.2,718 947.5,717.9 947.8,717.7 948.1,717.4 948.4,716.8 948.6,715.7 948.9,714 949.2,711.6 949.5,708.8 949.8,705.9 950.1,703.2 950.4,701.1 950.7,699.9 950.9,699.7 951.2,700.4 951.5,701.7 951.8,703.3 952.1,704.8 952.4,705.8 952.7,706.3 953,706.2 953.2,705.6 953.5,704.8 953.8,703.9 954.1,703.1 954.4,702.5 954.7,701.9 955,701.5 955.3,701.2 955.5,700.8 955.8,700.4 956.1,699.9 956.4,699.3 956.7,698.6 957,698 957.3,697.4 957.6,696.8 957.8,696.3 958.1,695.8 958.4,695.4 958.7,695 959,694.7 959.3,694.4 959.6,694.1 959.9,693.8 960.1,693.5 960.4,693.2 960.7,692.9 961,692.6" fill="none" stroke="#0000ff" stroke-width="1.15"/><polyline clip-path="url(#c44)" points="795.5,668.7 795.8,667.7 796.1,666.7 796.4,665.7 796.6,664.8 796.9,664 797.2,663.2 797.5,662.5 797.8,661.9 798.1,661.4 798.4,660.9 798.7,660.4 798.9,660 799.2,659.5 799.5,659.1 799.8,658.6 800.1,658.2 800.4,657.8 800.7,657.4 801,657.1 801.2,656.8 801.5,656.5 801.8,656.3 802.1,656.1 802.4,656 802.7,655.9 803,655.9 803.3,655.9 803.5,655.9 803.8,655.9 804.1,656 804.4,656 804.7,656 805,656 805.3,656.1 805.6,656.2 805.8,656.3 806.1,656.5 806.4,656.8 806.7,657.1 807,657.4 807.3,657.8 807.6,658.1 807.9,658.5 808.1,658.8 808.4,659.2 808.7,659.6 809,660 809.3,660.5 809.6,661.1 809.9,661.7 810.2,662.4 810.4,663.2 810.7,663.9 811,664.7 811.3,665.4 811.6,666.1 811.9,666.8 812.2,667.4 812.5,667.9 812.7,668.3 813,668.6 813.3,668.9 813.6,669.1 813.9,669.2 814.2,669.4 814.5,669.6 814.8,669.8 815,670 815.3,670.3 815.6,670.5 815.9,670.7 816.2,670.8 816.5,670.9 816.8,670.9 817,670.9 817.3,670.9 817.6,670.9 817.9,670.8 818.2,670.8 818.5,670.8 818.8,670.8 819.1,670.9 819.3,670.9 819.6,670.8 819.9,670.8 820.2,670.7 820.5,670.7 820.8,670.6 821.1,670.5 821.4,670.5 821.6,670.4 821.9,670.4 822.2,670.4 822.5,670.4 822.8,670.3 823.1,670.1 823.4,669.9 823.7,669.6 823.9,669.3 824.2,668.9 824.5,668.6 824.8,668.3 825.1,668 825.4,667.8 825.7,667.5 826,667.2 826.2,666.9 826.5,666.5 826.8,666 827.1,665.4 827.4,664.9 827.7,664.3 828,663.7 828.3,663.2 828.5,662.8 828.8,662.5 829.1,662.2 829.4,662 829.7,661.9 830,661.8 830.3,661.7 830.6,661.7 830.8,661.7 831.1,661.7 831.4,661.7 831.7,661.8 832,661.8 832.3,661.9 832.6,662 832.9,662.1 833.1,662.2 833.4,662.3 833.7,662.5 834,662.7 834.3,662.8 834.6,663 834.9,663.1 835.2,663.2 835.4,663.3 835.7,663.3 836,663.2 836.3,663.2 836.6,663.2 836.9,663.2 837.2,663.3 837.4,663.4 837.7,663.6 838,663.7 838.3,663.9 838.6,664.1 838.9,664.3 839.2,664.5 839.5,664.8 839.7,665 840,665.2 840.3,665.4 840.6,665.6 840.9,665.8 841.2,666 841.5,666.2 841.8,666.4 842,666.5 842.3,666.6 842.6,666.6 842.9,666.7 843.2,666.7 843.5,666.6 843.8,666.5 844.1,666.3 844.3,666.1 844.6,665.9 844.9,665.6 845.2,665.3 845.5,665 845.8,664.7 846.1,664.4 846.4,664.1 846.6,663.8 846.9,663.5 847.2,663.2 847.5,662.9 847.8,662.6 848.1,662.3 848.4,662 848.7,661.7 848.9,661.4 849.2,661.1 849.5,660.8 849.8,660.6 850.1,660.3 850.4,660.1 850.7,660 851,659.8 851.2,659.8 851.5,659.8 851.8,659.8 852.1,659.9 852.4,660 852.7,660.1 853,660.2 853.3,660.4 853.5,660.6 853.8,660.8 854.1,661 854.4,661.3 854.7,661.5 855,661.7 855.3,661.9 855.6,662.1 855.8,662.3 856.1,662.5 856.4,662.7 856.7,663 857,663.2 857.3,663.4 857.6,663.6 857.8,663.8 858.1,664 858.4,664.2 858.7,664.3 859,664.5 859.3,664.7 859.6,664.8 859.9,664.9 860.1,665.1 860.4,665.2 860.7,665.3 861,665.4 861.3,665.5 861.6,665.7 861.9,665.8 862.2,666 862.4,666.2 862.7,666.5 863,666.8 863.3,667.1 863.6,667.5 863.9,667.8 864.2,668.1 864.5,668.3 864.7,668.4 865,668.5 865.3,668.5 865.6,668.4 865.9,668.4 866.2,668.3 866.5,668.3 866.8,668.2 867,668.2 867.3,668.1 867.6,668 867.9,667.8 868.2,667.5 868.5,667.1 868.8,666.8 869.1,666.6 869.3,666.4 869.6,666.5 869.9,666.7 870.2,667.2 870.5,667.7 870.8,668.3 871.1,669 871.4,669.6 871.6,670.1 871.9,670.6 872.2,671.1 872.5,671.5 872.8,672.1 873.1,672.6 873.4,673.3 873.7,674.1 873.9,675 874.2,675.9 874.5,676.8 874.8,677.7 875.1,678.6 875.4,679.5 875.7,680.4 876,681.2 876.2,682 876.5,682.8 876.8,683.5 877.1,684.2 877.4,684.8 877.7,685.4 878,685.9 878.2,686.4 878.5,686.9 878.8,687.4 879.1,687.9 879.4,688.4 879.7,688.9 880,689.5 880.3,690.2 880.5,690.8 880.8,691.5 881.1,692.3 881.4,693 881.7,693.7 882,694.4 882.3,695 882.6,695.6 882.8,696.2 883.1,696.8 883.4,697.3 883.7,697.9 884,698.4 884.3,698.9 884.6,699.4 884.9,699.9 885.1,700.4 885.4,700.8 885.7,701.3 886,701.7 886.3,702 886.6,702.4 886.9,702.8 887.2,703.1 887.4,703.4 887.7,703.7 888,704 888.3,704.3 888.6,704.6 888.9,704.8 889.2,705.1 889.5,705.3 889.7,705.6 890,706 890.3,706.4 890.6,706.8 890.9,707.3 891.2,707.8 891.5,708.3 891.8,708.6 892,708.9 892.3,709.1 892.6,709.1 892.9,709 893.2,708.9 893.5,708.7 893.8,708.6 894.1,708.4 894.3,708.2 894.6,708.1 894.9,707.9 895.2,707.8 895.5,707.6 895.8,707.5 896.1,707.3 896.4,707.2 896.6,707 896.9,706.9 897.2,706.7 897.5,706.7 897.8,706.6 898.1,706.5 898.4,706.5 898.7,706.4 898.9,706.4 899.2,706.3 899.5,706.2 899.8,706.1 900.1,706 900.4,705.9 900.7,705.8 900.9,705.8 901.2,705.8 901.5,705.8 901.8,705.8 902.1,705.8 902.4,705.8 902.7,705.8 903,705.8 903.2,705.8 903.5,705.8 903.8,705.8 904.1,705.8 904.4,705.9 904.7,706 905,706.1 905.3,706.2 905.5,706.3 905.8,706.4 906.1,706.4 906.4,706.4 906.7,706.4 907,706.4 907.3,706.4 907.6,706.4 907.8,706.4 908.1,706.5 908.4,706.5 908.7,706.6 909,706.7 909.3,706.7 909.6,706.8 909.9,706.8 910.1,706.9 910.4,706.9 910.7,707 911,707.1 911.3,707.3 911.6,707.4 911.9,707.6 912.2,707.7 912.4,707.7 912.7,707.6 913,707.5 913.3,707.2 913.6,706.8 913.9,706.5 914.2,706.1 914.5,705.8 914.7,705.6 915,705.5 915.3,705.4 915.6,705.3 915.9,705.3 916.2,705.3 916.5,705.3 916.8,705.2 917,705.1 917.3,705 917.6,704.8 917.9,704.6 918.2,704.3 918.5,703.9 918.8,703.5 919.1,703.1 919.3,702.7 919.6,702.2 919.9,701.7 920.2,701.3 920.5,700.9 920.8,700.6 921.1,700.4 921.3,700.4 921.6,700.5 921.9,700.9 922.2,701.3 922.5,701.7 922.8,702.3 923.1,702.8 923.4,703.2 923.6,703.6 923.9,704 924.2,704.4 924.5,704.8 924.8,705.3 925.1,705.8 925.4,706.3 925.7,706.9 925.9,707.4 926.2,707.8 926.5,708.2 926.8,708.5 927.1,708.7 927.4,708.9 927.7,709 928,709.2 928.2,709.5 928.5,709.8 928.8,710.2 929.1,710.6 929.4,711.1 929.7,711.5 930,711.8 930.3,712.1 930.5,712.3 930.8,712.4 931.1,712.5 931.4,712.5 931.7,712.5 932,712.5 932.3,712.5 932.6,712.5 932.8,712.5 933.1,712.5 933.4,712.5 933.7,712.6 934,712.7 934.3,712.7 934.6,712.8 934.9,713 935.1,713.1 935.4,713.2 935.7,713.4 936,713.5 936.3,713.7 936.6,713.8 936.9,714 937.2,714.2 937.4,714.3 937.7,714.5 938,714.6 938.3,714.8 938.6,714.9 938.9,715 939.2,715.1 939.5,715.2 939.7,715.3 940,715.4 940.3,715.4 940.6,715.5 940.9,715.6 941.2,715.6 941.5,715.7 941.7,715.8 942,715.8 942.3,715.9 942.6,715.9 942.9,716 943.2,716 943.5,716.1 943.8,716.2 944,716.3 944.3,716.4 944.6,716.4 944.9,716.4 945.2,716.3 945.5,716.2 945.8,715.9 946.1,715.4 946.3,714.9 946.6,714.2 946.9,713.4 947.2,712.5 947.5,711.5 947.8,710.5 948.1,709.4 948.4,708.4 948.6,707.5 948.9,706.7 949.2,706.2 949.5,705.8 949.8,705.5 950.1,705.2 950.4,704.9 950.7,704.6 950.9,704 951.2,703.4 951.5,702.7 951.8,701.9 952.1,701.2 952.4,700.4 952.7,699.7 953,699 953.2,698.4 953.5,697.8 953.8,697.3 954.1,696.8 954.4,696.3 954.7,695.8 955,695.4 955.3,695 955.5,694.7 955.8,694.4 956.1,694.2 956.4,694 956.7,693.9 957,693.8 957.3,693.7 957.6,693.7 957.8,693.7 958.1,693.7 958.4,693.7 958.7,693.7 959,693.7 959.3,693.7 959.6,693.7 959.9,693.7 960.1,693.7 960.4,693.7 960.7,693.7 961,693.7" fill="none" stroke="#0000ff" stroke-width="1.15"/><polyline clip-path="url(#c44)" points="795.5,685 795.8,685.3 796.1,685.7 796.4,686 796.6,686.3 796.9,686.6 797.2,686.8 797.5,687 797.8,687.1 798.1,687.2 798.4,687.2 798.7,687.2 798.9,687.2 799.2,687.1 799.5,686.9 799.8,686.8 800.1,686.7 800.4,686.5 800.7,686.4 801,686.4 801.2,686.3 801.5,686.3 801.8,686.3 802.1,686.4 802.4,686.4 802.7,686.5 803,686.5 803.3,686.6 803.5,686.7 803.8,686.7 804.1,686.8 804.4,686.9 804.7,686.9 805,687 805.3,687 805.6,687.1 805.8,687.2 806.1,687.2 806.4,687.3 806.7,687.4 807,687.5 807.3,687.6 807.6,687.7 807.9,687.8 808.1,688 808.4,688.1 808.7,688.3 809,688.4 809.3,688.6 809.6,688.8 809.9,689 810.2,689.2 810.4,689.5 810.7,689.7 811,690.1 811.3,690.4 811.6,690.8 811.9,691.2 812.2,691.7 812.5,692.1 812.7,692.6 813,693 813.3,693.5 813.6,694 813.9,694.4 814.2,695 814.5,695.5 814.8,696.1 815,696.7 815.3,697.2 815.6,697.8 815.9,698.2 816.2,698.6 816.5,698.8 816.8,698.9 817,699 817.3,699.1 817.6,699.3 817.9,699.5 818.2,699.8 818.5,700.3 818.8,700.7 819.1,701 819.3,701.1 819.6,700.9 819.9,700.5 820.2,699.6 820.5,698.2 820.8,696.3 821.1,693.7 821.4,690.4 821.6,686.4 821.9,681.8 822.2,676.7 822.5,671.3 822.8,665.9 823.1,660.5 823.4,655.3 823.7,650.5 823.9,646.1 824.2,642.1 824.5,638.7 824.8,636 825.1,634 825.4,632.5 825.7,631.6 826,631 826.2,630.5 826.5,630.2 826.8,629.9 827.1,629.5 827.4,629.2 827.7,629 828,629 828.3,629.1 828.5,629.5 828.8,630.2 829.1,631 829.4,631.9 829.7,632.9 830,633.8 830.3,634.8 830.6,635.7 830.8,636.5 831.1,637.2 831.4,637.8 831.7,638.2 832,638.5 832.3,638.7 832.6,638.8 832.9,639.1 833.1,639.4 833.4,640 833.7,640.8 834,642 834.3,643.4 834.6,645.2 834.9,647.2 835.2,649.6 835.4,652.3 835.7,655.3 836,658.3 836.3,661.3 836.6,664.2 836.9,666.8 837.2,669.1 837.4,671 837.7,672.7 838,674.2 838.3,675.5 838.6,676.8 838.9,678.1 839.2,679.3 839.5,680.5 839.7,681.6 840,682.6 840.3,683.5 840.6,684.3 840.9,685 841.2,685.6 841.5,686 841.8,686.3 842,686.4 842.3,686.4 842.6,686.1 842.9,685.7 843.2,685 843.5,684.1 843.8,682.8 844.1,681.3 844.3,679.6 844.6,677.9 844.9,676.4 845.2,675.2 845.5,674.5 845.8,674.3 846.1,674.6 846.4,675.2 846.6,675.7 846.9,676 847.2,675.9 847.5,675.3 847.8,674.5 848.1,674 848.4,674.2 848.7,675.6 848.9,678.6 849.2,683.5 849.5,689.8 849.8,696.7 850.1,703.4 850.4,709.3 850.7,713.6 851,715.8 851.2,716.2 851.5,715.5 851.8,714.2 852.1,712.9 852.4,712.2 852.7,712.5 853,713.3 853.3,714.2 853.5,714.6 853.8,713.8 854.1,711.3 854.4,706.7 854.7,700.6 855,693.5 855.3,686.3 855.6,679.6 855.8,674.1 856.1,670.3 856.4,668.1 856.7,667.1 857,667 857.3,667.5 857.6,668.3 857.8,669 858.1,669.7 858.4,670.3 858.7,670.9 859,671.4 859.3,671.9 859.6,672.4 859.9,672.9 860.1,673.2 860.4,673.4 860.7,673.4 861,673.2 861.3,672.7 861.6,672.1 861.9,671.3 862.2,670.4 862.4,669.5 862.7,668.7 863,667.9 863.3,667.3 863.6,666.8 863.9,666.3 864.2,665.8 864.5,665.4 864.7,664.9 865,664.5 865.3,664.1 865.6,663.7 865.9,663.4 866.2,663.2 866.5,663.1 866.8,663.1 867,663.2 867.3,663.2 867.6,663.2 867.9,663.2 868.2,663.1 868.5,663 868.8,662.9 869.1,662.8 869.3,662.7 869.6,662.9 869.9,663.1 870.2,663.6 870.5,664.2 870.8,664.9 871.1,665.8 871.4,666.8 871.6,668 871.9,669.4 872.2,670.8 872.5,672.4 872.8,674.1 873.1,675.9 873.4,677.8 873.7,679.9 873.9,682 874.2,684.2 874.5,686.4 874.8,688.6 875.1,690.8 875.4,693 875.7,694.9 876,696.6 876.2,697.8 876.5,698.6 876.8,698.8 877.1,698.5 877.4,698 877.7,697.3 878,696.7 878.2,696.2 878.5,696.1 878.8,696.2 879.1,696.5 879.4,696.9 879.7,697.3 880,697.7 880.3,697.9 880.5,698 880.8,698 881.1,698 881.4,698 881.7,698 882,698.2 882.3,698.4 882.6,698.7 882.8,699 883.1,699.4 883.4,699.9 883.7,700.3 884,700.7 884.3,701.2 884.6,701.7 884.9,702.2 885.1,702.8 885.4,703.3 885.7,703.9 886,704.4 886.3,704.9 886.6,705.4 886.9,705.8 887.2,706.2 887.4,706.5 887.7,706.8 888,707.1 888.3,707.4 888.6,707.6 888.9,708 889.2,708.3 889.5,708.6 889.7,708.9 890,709.2 890.3,709.5 890.6,709.7 890.9,709.8 891.2,709.9 891.5,710 891.8,710 892,710 892.3,709.9 892.6,709.8 892.9,709.6 893.2,709.4 893.5,709.2 893.8,708.9 894.1,708.6 894.3,708.3 894.6,707.9 894.9,707.5 895.2,707.1 895.5,706.7 895.8,706.4 896.1,706 896.4,705.7 896.6,705.4 896.9,705.1 897.2,704.9 897.5,704.8 897.8,704.6 898.1,704.6 898.4,704.5 898.7,704.5 898.9,704.6 899.2,704.6 899.5,704.7 899.8,704.8 900.1,704.9 900.4,705.1 900.7,705.3 900.9,705.5 901.2,705.7 901.5,705.9 901.8,706.1 902.1,706.3 902.4,706.4 902.7,706.4 903,706.4 903.2,706.4 903.5,706.4 903.8,706.4 904.1,706.4 904.4,706.4 904.7,706.6 905,706.7 905.3,706.8 905.5,707 905.8,707.1 906.1,707.2 906.4,707.3 906.7,707.4 907,707.5 907.3,707.5 907.6,707.6 907.8,707.8 908.1,707.9 908.4,708 908.7,708.1 909,708.2 909.3,708.2 909.6,708.1 909.9,708 910.1,707.9 910.4,707.7 910.7,707.7 911,707.6 911.3,707.7 911.6,707.9 911.9,708.1 912.2,708.4 912.4,708.7 912.7,708.9 913,709.1 913.3,709.3 913.6,709.5 913.9,709.6 914.2,709.8 914.5,710 914.7,710.2 915,710.5 915.3,710.8 915.6,711 915.9,711.2 916.2,711.3 916.5,711.3 916.8,711.2 917,711.1 917.3,711 917.6,710.8 917.9,710.7 918.2,710.7 918.5,710.6 918.8,710.6 919.1,710.5 919.3,710.3 919.6,710 919.9,709.6 920.2,709.1 920.5,708.6 920.8,708 921.1,707.5 921.3,707.1 921.6,706.8 921.9,706.5 922.2,706.3 922.5,706.2 922.8,706 923.1,705.8 923.4,705.6 923.6,705.3 923.9,705 924.2,704.7 924.5,704.3 924.8,704 925.1,703.7 925.4,703.5 925.7,703.3 925.9,703.1 926.2,702.9 926.5,702.8 926.8,702.6 927.1,702.6 927.4,702.5 927.7,702.4 928,702.3 928.2,702.2 928.5,702.1 928.8,701.9 929.1,701.8 929.4,701.6 929.7,701.4 930,701.3 930.3,701.2 930.5,701.1 930.8,700.9 931.1,700.8 931.4,700.6 931.7,700.4 932,700.1 932.3,699.8 932.6,699.4 932.8,699.1 933.1,698.8 933.4,698.6 933.7,698.4 934,698.3 934.3,698.3 934.6,698.2 934.9,698.1 935.1,698 935.4,697.9 935.7,697.7 936,697.5 936.3,697.2 936.6,697 936.9,696.8 937.2,696.6 937.4,696.4 937.7,696.3 938,696.1 938.3,696 938.6,695.9 938.9,695.7 939.2,695.6 939.5,695.4 939.7,695.1 940,694.8 940.3,694.4 940.6,693.9 940.9,693.3 941.2,692.7 941.5,692.1 941.7,691.4 942,690.8 942.3,690.2 942.6,689.6 942.9,689.1 943.2,688.6 943.5,688.1 943.8,687.7 944,687.3 944.3,686.9 944.6,686.5 944.9,686.1 945.2,685.7 945.5,685.3 945.8,685 946.1,684.6 946.3,684.2 946.6,683.9 946.9,683.5 947.2,683.2 947.5,682.8 947.8,682.4 948.1,682.1 948.4,681.7 948.6,681.4 948.9,681 949.2,680.6 949.5,680.2 949.8,679.8 950.1,679.5 950.4,679 950.7,678.6 950.9,678.2 951.2,677.8 951.5,677.3 951.8,676.8 952.1,676.2 952.4,675.5 952.7,674.9 953,674.1 953.2,673.4 953.5,672.6 953.8,672 954.1,671.4 954.4,670.9 954.7,670.5 955,670.3 955.3,670.1 955.5,670.1 955.8,670.1 956.1,670.2 956.4,670.4 956.7,670.6 957,670.9 957.3,671.1 957.6,671.4 957.8,671.6 958.1,671.8 958.4,671.9 958.7,672 959,672.2 959.3,672.3 959.6,672.4 959.9,672.6 960.1,672.7 960.4,672.9 960.7,673 961,673.2" fill="none" stroke="#0000ff" stroke-width="1.15"/><path d="M795.5 705.2H961M795.5 680.7H961M795.5 656.2H961M795.5 631.7H961M836.88 729.7V611.8M878.25 729.7V611.8M919.62 729.7V611.8" stroke="#000" stroke-width="1" stroke-dasharray="1.1 2.03" stroke-dashoffset="-0.8" fill="none"/><path d="M836.88 611.8v5M836.88 729.7v-5M878.25 611.8v5M878.25 729.7v-5M919.62 611.8v5M919.62 729.7v-5M816.19 611.8v4M816.19 729.7v-4M857.56 611.8v4M857.56 729.7v-4M898.94 611.8v4M898.94 729.7v-4M940.31 611.8v4M940.31 729.7v-4M795.5 705.2h5M961 705.2h-5M795.5 680.7h5M961 680.7h-5M795.5 656.2h5M961 656.2h-5M795.5 631.7h5M961 631.7h-5M795.5 717.45h4M961 717.45h-4M795.5 692.95h4M961 692.95h-4M795.5 668.45h4M961 668.45h-4M795.5 643.95h4M961 643.95h-4M795.5 619.45h4M961 619.45h-4" stroke="#000000" stroke-width="1" fill="none"/><path d="M795 611.95H962" stroke="#000000" stroke-width="1.9" fill="none"/><path d="M795 729.7H962" stroke="#000000" stroke-width="1.6" fill="none"/><path d="M795.5 611.8V729.7" stroke="#000000" stroke-width="1" fill="none"/><path d="M961.3 611.8V729.7" stroke="#000000" stroke-width="1.4" fill="none"/><g fill="#000000" font-size="9.6" font-weight="bold"><text x="790.8" y="732.8" text-anchor="end">36</text><text x="790.8" y="708.3" text-anchor="end">56</text><text x="790.8" y="683.8" text-anchor="end">76</text><text x="790.8" y="659.3" text-anchor="end">96</text><text x="790.8" y="634.8" text-anchor="end">116</text><text x="795.5" y="740.7" text-anchor="middle">−72</text><text x="836.88" y="740.7" text-anchor="middle">−48</text><text x="878.25" y="740.7" text-anchor="middle">−24</text><text x="919.62" y="740.7" text-anchor="middle">0</text><text x="961" y="740.7" text-anchor="middle">24</text></g><text clip-path="url(#l44)" x="870.75" y="754.6" textLength="15.6" lengthAdjust="spacingAndGlyphs" fill="#000000" font-size="9.5" font-weight="bold">ALL</text></svg></body></html>
